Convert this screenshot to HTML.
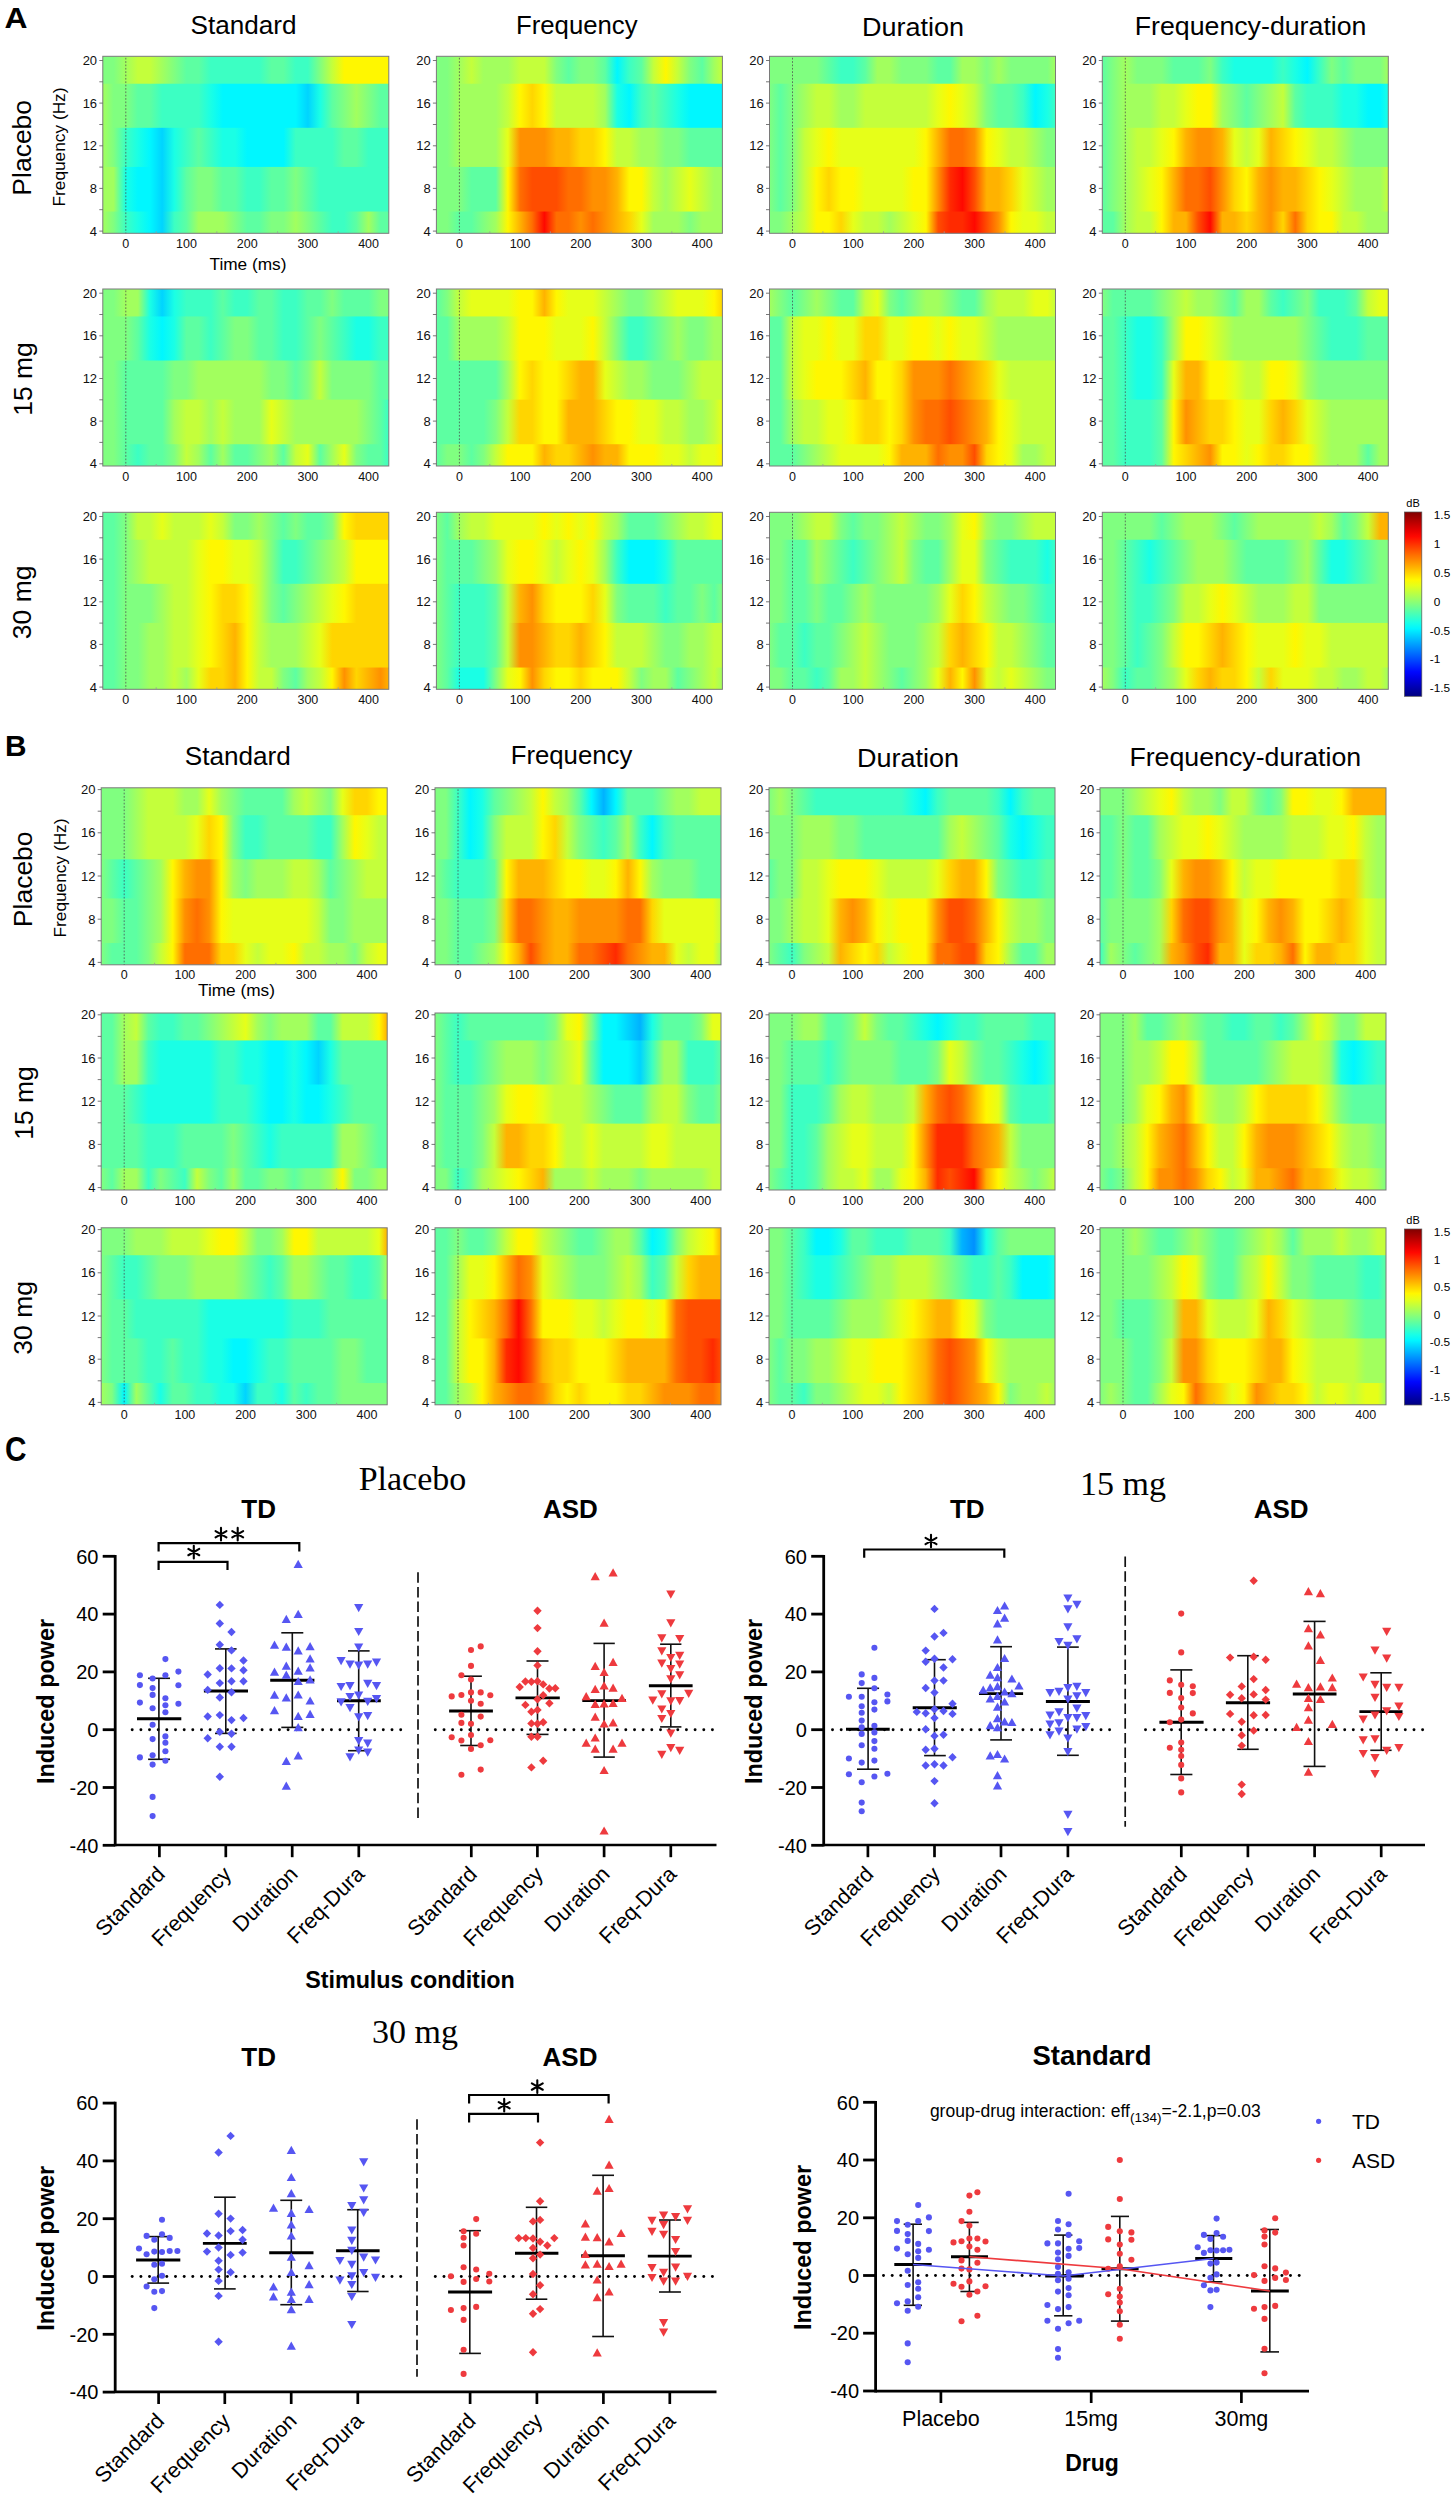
<!DOCTYPE html>
<html><head><meta charset="utf-8"><title>Figure</title>
<style>html,body{margin:0;padding:0;background:#fff;}body{width:1455px;height:2500px;overflow:hidden;}svg{display:block;font-family:"Liberation Sans",sans-serif;}</style>
</head><body>
<svg width="1455" height="2500" viewBox="0 0 1455 2500" font-family="Liberation Sans">
<rect width="1455" height="2500" fill="#fff"/>
<text x="4.5" y="27.5" font-size="30" text-anchor="start" font-weight="bold" textLength="23" lengthAdjust="spacingAndGlyphs" >A</text>
<text x="243.5" y="34.4" font-size="26.5" text-anchor="middle" textLength="106" lengthAdjust="spacingAndGlyphs" >Standard</text>
<text x="576.8" y="33.5" font-size="26.5" text-anchor="middle" textLength="121.6" lengthAdjust="spacingAndGlyphs" >Frequency</text>
<text x="913.1" y="35.7" font-size="26.5" text-anchor="middle" textLength="102" lengthAdjust="spacingAndGlyphs" >Duration</text>
<text x="1250.6" y="35.2" font-size="26.5" text-anchor="middle" textLength="231.8" lengthAdjust="spacingAndGlyphs" >Frequency-duration</text>
<g>
<linearGradient id="g1" gradientUnits="objectBoundingBox" x1="0" x2="1" y1="0" y2="0"><stop offset="-0.0045" stop-color="#80ff80"/><stop offset="0.0380" stop-color="#80ff80"/><stop offset="0.0804" stop-color="#a2ff5e"/><stop offset="0.1229" stop-color="#c4ff3b"/><stop offset="0.1653" stop-color="#c4ff3b"/><stop offset="0.2078" stop-color="#a2ff5e"/><stop offset="0.2502" stop-color="#80ff80"/><stop offset="0.2927" stop-color="#5dffa2"/><stop offset="0.3351" stop-color="#5dffa2"/><stop offset="0.3776" stop-color="#3cffc3"/><stop offset="0.4200" stop-color="#3cffc3"/><stop offset="0.4624" stop-color="#3cffc3"/><stop offset="0.5049" stop-color="#3cffc3"/><stop offset="0.5473" stop-color="#3cffc3"/><stop offset="0.5898" stop-color="#5dffa2"/><stop offset="0.6322" stop-color="#5dffa2"/><stop offset="0.6747" stop-color="#3cffc3"/><stop offset="0.7171" stop-color="#3cffc3"/><stop offset="0.7596" stop-color="#80ff80"/><stop offset="0.8020" stop-color="#c4ff3b"/><stop offset="0.8445" stop-color="#fff700"/><stop offset="0.8869" stop-color="#fff700"/><stop offset="0.9294" stop-color="#fff700"/><stop offset="0.9718" stop-color="#fff700"/><stop offset="1.0143" stop-color="#fff700"/></linearGradient>
<rect x="102.8" y="56.30" width="286.0" height="28.64" fill="url(#g1)"/>
<linearGradient id="g2" gradientUnits="objectBoundingBox" x1="0" x2="1" y1="0" y2="0"><stop offset="-0.0045" stop-color="#a2ff5e"/><stop offset="0.0380" stop-color="#80ff80"/><stop offset="0.0804" stop-color="#80ff80"/><stop offset="0.1229" stop-color="#5dffa2"/><stop offset="0.1653" stop-color="#5dffa2"/><stop offset="0.2078" stop-color="#3cffc3"/><stop offset="0.2502" stop-color="#3cffc3"/><stop offset="0.2927" stop-color="#3cffc3"/><stop offset="0.3351" stop-color="#3cffc3"/><stop offset="0.3776" stop-color="#1affe5"/><stop offset="0.4200" stop-color="#00f7ff"/><stop offset="0.4624" stop-color="#00f7ff"/><stop offset="0.5049" stop-color="#00f7ff"/><stop offset="0.5473" stop-color="#00f7ff"/><stop offset="0.5898" stop-color="#00f7ff"/><stop offset="0.6322" stop-color="#00f7ff"/><stop offset="0.6747" stop-color="#00f7ff"/><stop offset="0.7171" stop-color="#00d4ff"/><stop offset="0.7596" stop-color="#1affe5"/><stop offset="0.8020" stop-color="#5dffa2"/><stop offset="0.8445" stop-color="#80ff80"/><stop offset="0.8869" stop-color="#a2ff5e"/><stop offset="0.9294" stop-color="#80ff80"/><stop offset="0.9718" stop-color="#5dffa2"/><stop offset="1.0143" stop-color="#5dffa2"/></linearGradient>
<rect x="102.8" y="83.73" width="286.0" height="45.27" fill="url(#g2)"/>
<linearGradient id="g3" gradientUnits="objectBoundingBox" x1="0" x2="1" y1="0" y2="0"><stop offset="-0.0045" stop-color="#a2ff5e"/><stop offset="0.0380" stop-color="#80ff80"/><stop offset="0.0804" stop-color="#3cffc3"/><stop offset="0.1229" stop-color="#1affe5"/><stop offset="0.1653" stop-color="#00f7ff"/><stop offset="0.2078" stop-color="#00d4ff"/><stop offset="0.2502" stop-color="#1affe5"/><stop offset="0.2927" stop-color="#3cffc3"/><stop offset="0.3351" stop-color="#5dffa2"/><stop offset="0.3776" stop-color="#3cffc3"/><stop offset="0.4200" stop-color="#1affe5"/><stop offset="0.4624" stop-color="#1affe5"/><stop offset="0.5049" stop-color="#00f7ff"/><stop offset="0.5473" stop-color="#00f7ff"/><stop offset="0.5898" stop-color="#00f7ff"/><stop offset="0.6322" stop-color="#00f7ff"/><stop offset="0.6747" stop-color="#3cffc3"/><stop offset="0.7171" stop-color="#3cffc3"/><stop offset="0.7596" stop-color="#3cffc3"/><stop offset="0.8020" stop-color="#3cffc3"/><stop offset="0.8445" stop-color="#5dffa2"/><stop offset="0.8869" stop-color="#5dffa2"/><stop offset="0.9294" stop-color="#3cffc3"/><stop offset="0.9718" stop-color="#3cffc3"/><stop offset="1.0143" stop-color="#3cffc3"/></linearGradient>
<rect x="102.8" y="127.81" width="286.0" height="40.32" fill="url(#g3)"/>
<linearGradient id="g4" gradientUnits="objectBoundingBox" x1="0" x2="1" y1="0" y2="0"><stop offset="-0.0045" stop-color="#a2ff5e"/><stop offset="0.0380" stop-color="#a2ff5e"/><stop offset="0.0804" stop-color="#1affe5"/><stop offset="0.1229" stop-color="#00f7ff"/><stop offset="0.1653" stop-color="#00f7ff"/><stop offset="0.2078" stop-color="#00d4ff"/><stop offset="0.2502" stop-color="#1affe5"/><stop offset="0.2927" stop-color="#5dffa2"/><stop offset="0.3351" stop-color="#80ff80"/><stop offset="0.3776" stop-color="#80ff80"/><stop offset="0.4200" stop-color="#5dffa2"/><stop offset="0.4624" stop-color="#5dffa2"/><stop offset="0.5049" stop-color="#3cffc3"/><stop offset="0.5473" stop-color="#3cffc3"/><stop offset="0.5898" stop-color="#5dffa2"/><stop offset="0.6322" stop-color="#5dffa2"/><stop offset="0.6747" stop-color="#80ff80"/><stop offset="0.7171" stop-color="#5dffa2"/><stop offset="0.7596" stop-color="#3cffc3"/><stop offset="0.8020" stop-color="#3cffc3"/><stop offset="0.8445" stop-color="#3cffc3"/><stop offset="0.8869" stop-color="#3cffc3"/><stop offset="0.9294" stop-color="#3cffc3"/><stop offset="0.9718" stop-color="#3cffc3"/><stop offset="1.0143" stop-color="#3cffc3"/></linearGradient>
<rect x="102.8" y="166.93" width="286.0" height="45.80" fill="url(#g4)"/>
<linearGradient id="g5" gradientUnits="objectBoundingBox" x1="0" x2="1" y1="0" y2="0"><stop offset="-0.0045" stop-color="#a2ff5e"/><stop offset="0.0380" stop-color="#80ff80"/><stop offset="0.0804" stop-color="#3cffc3"/><stop offset="0.1229" stop-color="#1affe5"/><stop offset="0.1653" stop-color="#00f7ff"/><stop offset="0.2078" stop-color="#00d4ff"/><stop offset="0.2502" stop-color="#3cffc3"/><stop offset="0.2927" stop-color="#5dffa2"/><stop offset="0.3351" stop-color="#a2ff5e"/><stop offset="0.3776" stop-color="#a2ff5e"/><stop offset="0.4200" stop-color="#a2ff5e"/><stop offset="0.4624" stop-color="#80ff80"/><stop offset="0.5049" stop-color="#5dffa2"/><stop offset="0.5473" stop-color="#5dffa2"/><stop offset="0.5898" stop-color="#80ff80"/><stop offset="0.6322" stop-color="#80ff80"/><stop offset="0.6747" stop-color="#a2ff5e"/><stop offset="0.7171" stop-color="#80ff80"/><stop offset="0.7596" stop-color="#5dffa2"/><stop offset="0.8020" stop-color="#3cffc3"/><stop offset="0.8445" stop-color="#3cffc3"/><stop offset="0.8869" stop-color="#5dffa2"/><stop offset="0.9294" stop-color="#a2ff5e"/><stop offset="0.9718" stop-color="#5dffa2"/><stop offset="1.0143" stop-color="#5dffa2"/></linearGradient>
<rect x="102.8" y="211.53" width="286.0" height="21.77" fill="url(#g5)"/>
<rect x="102.8" y="56.3" width="286.0" height="177.0" fill="none" stroke="#7a7a7a" stroke-width="1"/>
<line x1="125.8" y1="57.8" x2="125.8" y2="233.3" stroke="#4a3f48" stroke-opacity="0.7" stroke-width="1" stroke-dasharray="1.7,1.66"/>
<line x1="99.3" y1="60.5" x2="102.8" y2="60.5" stroke="#555" stroke-width="0.8"/>
<text x="97.1" y="65.1" font-size="13" text-anchor="end" fill="#111" >20</text>
<line x1="99.3" y1="103.1" x2="102.8" y2="103.1" stroke="#555" stroke-width="0.8"/>
<text x="97.1" y="107.7" font-size="13" text-anchor="end" fill="#111" >16</text>
<line x1="99.3" y1="145.8" x2="102.8" y2="145.8" stroke="#555" stroke-width="0.8"/>
<text x="97.1" y="150.4" font-size="13" text-anchor="end" fill="#111" >12</text>
<line x1="99.3" y1="188.4" x2="102.8" y2="188.4" stroke="#555" stroke-width="0.8"/>
<text x="97.1" y="193.0" font-size="13" text-anchor="end" fill="#111" >8</text>
<line x1="99.3" y1="231.1" x2="102.8" y2="231.1" stroke="#555" stroke-width="0.8"/>
<text x="97.1" y="235.7" font-size="13" text-anchor="end" fill="#111" >4</text>
<line x1="99.3" y1="81.8" x2="102.8" y2="81.8" stroke="#555" stroke-width="0.8"/>
<line x1="99.3" y1="124.5" x2="102.8" y2="124.5" stroke="#555" stroke-width="0.8"/>
<line x1="99.3" y1="167.1" x2="102.8" y2="167.1" stroke="#555" stroke-width="0.8"/>
<line x1="99.3" y1="209.7" x2="102.8" y2="209.7" stroke="#555" stroke-width="0.8"/>
<text x="125.8" y="247.8" font-size="12.5" text-anchor="middle" fill="#111" >0</text>
<text x="186.5" y="247.8" font-size="12.5" text-anchor="middle" fill="#111" >100</text>
<text x="247.2" y="247.8" font-size="12.5" text-anchor="middle" fill="#111" >200</text>
<text x="307.9" y="247.8" font-size="12.5" text-anchor="middle" fill="#111" >300</text>
<text x="368.6" y="247.8" font-size="12.5" text-anchor="middle" fill="#111" >400</text>
<line x1="156.2" y1="233.3" x2="156.2" y2="231.3" stroke="#999" stroke-width="0.8"/>
<line x1="216.8" y1="233.3" x2="216.8" y2="231.3" stroke="#999" stroke-width="0.8"/>
<line x1="277.6" y1="233.3" x2="277.6" y2="231.3" stroke="#999" stroke-width="0.8"/>
<line x1="338.2" y1="233.3" x2="338.2" y2="231.3" stroke="#999" stroke-width="0.8"/>
</g>
<g>
<linearGradient id="g6" gradientUnits="objectBoundingBox" x1="0" x2="1" y1="0" y2="0"><stop offset="-0.0045" stop-color="#80ff80"/><stop offset="0.0380" stop-color="#80ff80"/><stop offset="0.0804" stop-color="#a2ff5e"/><stop offset="0.1229" stop-color="#c4ff3b"/><stop offset="0.1653" stop-color="#a2ff5e"/><stop offset="0.2078" stop-color="#a2ff5e"/><stop offset="0.2502" stop-color="#a2ff5e"/><stop offset="0.2927" stop-color="#c4ff3b"/><stop offset="0.3351" stop-color="#c4ff3b"/><stop offset="0.3776" stop-color="#c4ff3b"/><stop offset="0.4200" stop-color="#80ff80"/><stop offset="0.4624" stop-color="#5dffa2"/><stop offset="0.5049" stop-color="#80ff80"/><stop offset="0.5473" stop-color="#80ff80"/><stop offset="0.5898" stop-color="#5dffa2"/><stop offset="0.6322" stop-color="#00f7ff"/><stop offset="0.6747" stop-color="#3cffc3"/><stop offset="0.7171" stop-color="#5dffa2"/><stop offset="0.7596" stop-color="#c4ff3b"/><stop offset="0.8020" stop-color="#fff700"/><stop offset="0.8445" stop-color="#c4ff3b"/><stop offset="0.8869" stop-color="#80ff80"/><stop offset="0.9294" stop-color="#5dffa2"/><stop offset="0.9718" stop-color="#a2ff5e"/><stop offset="1.0143" stop-color="#c4ff3b"/></linearGradient>
<rect x="436.4" y="56.30" width="286.0" height="28.64" fill="url(#g6)"/>
<linearGradient id="g7" gradientUnits="objectBoundingBox" x1="0" x2="1" y1="0" y2="0"><stop offset="-0.0045" stop-color="#80ff80"/><stop offset="0.0380" stop-color="#80ff80"/><stop offset="0.0804" stop-color="#a2ff5e"/><stop offset="0.1229" stop-color="#a2ff5e"/><stop offset="0.1653" stop-color="#a2ff5e"/><stop offset="0.2078" stop-color="#a2ff5e"/><stop offset="0.2502" stop-color="#c4ff3b"/><stop offset="0.2927" stop-color="#fff700"/><stop offset="0.3351" stop-color="#ffd500"/><stop offset="0.3776" stop-color="#fff700"/><stop offset="0.4200" stop-color="#c4ff3b"/><stop offset="0.4624" stop-color="#c4ff3b"/><stop offset="0.5049" stop-color="#c4ff3b"/><stop offset="0.5473" stop-color="#c4ff3b"/><stop offset="0.5898" stop-color="#a2ff5e"/><stop offset="0.6322" stop-color="#1affe5"/><stop offset="0.6747" stop-color="#00f7ff"/><stop offset="0.7171" stop-color="#3cffc3"/><stop offset="0.7596" stop-color="#5dffa2"/><stop offset="0.8020" stop-color="#3cffc3"/><stop offset="0.8445" stop-color="#1affe5"/><stop offset="0.8869" stop-color="#00f7ff"/><stop offset="0.9294" stop-color="#00f7ff"/><stop offset="0.9718" stop-color="#00f7ff"/><stop offset="1.0143" stop-color="#00f7ff"/></linearGradient>
<rect x="436.4" y="83.73" width="286.0" height="45.27" fill="url(#g7)"/>
<linearGradient id="g8" gradientUnits="objectBoundingBox" x1="0" x2="1" y1="0" y2="0"><stop offset="-0.0045" stop-color="#80ff80"/><stop offset="0.0380" stop-color="#80ff80"/><stop offset="0.0804" stop-color="#a2ff5e"/><stop offset="0.1229" stop-color="#a2ff5e"/><stop offset="0.1653" stop-color="#a2ff5e"/><stop offset="0.2078" stop-color="#a2ff5e"/><stop offset="0.2502" stop-color="#e6ff19"/><stop offset="0.2927" stop-color="#ff9000"/><stop offset="0.3351" stop-color="#ff9000"/><stop offset="0.3776" stop-color="#ff9000"/><stop offset="0.4200" stop-color="#ffb200"/><stop offset="0.4624" stop-color="#ffb200"/><stop offset="0.5049" stop-color="#ffd500"/><stop offset="0.5473" stop-color="#ffd500"/><stop offset="0.5898" stop-color="#fff700"/><stop offset="0.6322" stop-color="#c4ff3b"/><stop offset="0.6747" stop-color="#c4ff3b"/><stop offset="0.7171" stop-color="#a2ff5e"/><stop offset="0.7596" stop-color="#a2ff5e"/><stop offset="0.8020" stop-color="#80ff80"/><stop offset="0.8445" stop-color="#80ff80"/><stop offset="0.8869" stop-color="#5dffa2"/><stop offset="0.9294" stop-color="#5dffa2"/><stop offset="0.9718" stop-color="#5dffa2"/><stop offset="1.0143" stop-color="#5dffa2"/></linearGradient>
<rect x="436.4" y="127.81" width="286.0" height="40.32" fill="url(#g8)"/>
<linearGradient id="g9" gradientUnits="objectBoundingBox" x1="0" x2="1" y1="0" y2="0"><stop offset="-0.0045" stop-color="#80ff80"/><stop offset="0.0380" stop-color="#80ff80"/><stop offset="0.0804" stop-color="#80ff80"/><stop offset="0.1229" stop-color="#5dffa2"/><stop offset="0.1653" stop-color="#5dffa2"/><stop offset="0.2078" stop-color="#5dffa2"/><stop offset="0.2502" stop-color="#fff700"/><stop offset="0.2927" stop-color="#ff6e00"/><stop offset="0.3351" stop-color="#ff4d00"/><stop offset="0.3776" stop-color="#ff4d00"/><stop offset="0.4200" stop-color="#ff4d00"/><stop offset="0.4624" stop-color="#ff6e00"/><stop offset="0.5049" stop-color="#ff6e00"/><stop offset="0.5473" stop-color="#ff9000"/><stop offset="0.5898" stop-color="#ff9000"/><stop offset="0.6322" stop-color="#ffb200"/><stop offset="0.6747" stop-color="#fff700"/><stop offset="0.7171" stop-color="#fff700"/><stop offset="0.7596" stop-color="#c4ff3b"/><stop offset="0.8020" stop-color="#a2ff5e"/><stop offset="0.8445" stop-color="#c4ff3b"/><stop offset="0.8869" stop-color="#e6ff19"/><stop offset="0.9294" stop-color="#c4ff3b"/><stop offset="0.9718" stop-color="#a2ff5e"/><stop offset="1.0143" stop-color="#a2ff5e"/></linearGradient>
<rect x="436.4" y="166.93" width="286.0" height="45.80" fill="url(#g9)"/>
<linearGradient id="g10" gradientUnits="objectBoundingBox" x1="0" x2="1" y1="0" y2="0"><stop offset="-0.0045" stop-color="#80ff80"/><stop offset="0.0380" stop-color="#80ff80"/><stop offset="0.0804" stop-color="#5dffa2"/><stop offset="0.1229" stop-color="#5dffa2"/><stop offset="0.1653" stop-color="#80ff80"/><stop offset="0.2078" stop-color="#a2ff5e"/><stop offset="0.2502" stop-color="#fff700"/><stop offset="0.2927" stop-color="#ffb200"/><stop offset="0.3351" stop-color="#ff6e00"/><stop offset="0.3776" stop-color="#ff0800"/><stop offset="0.4200" stop-color="#ff6e00"/><stop offset="0.4624" stop-color="#ff6e00"/><stop offset="0.5049" stop-color="#ff9000"/><stop offset="0.5473" stop-color="#ff6e00"/><stop offset="0.5898" stop-color="#ff9000"/><stop offset="0.6322" stop-color="#ffb200"/><stop offset="0.6747" stop-color="#ffd500"/><stop offset="0.7171" stop-color="#e6ff19"/><stop offset="0.7596" stop-color="#a2ff5e"/><stop offset="0.8020" stop-color="#a2ff5e"/><stop offset="0.8445" stop-color="#a2ff5e"/><stop offset="0.8869" stop-color="#80ff80"/><stop offset="0.9294" stop-color="#a2ff5e"/><stop offset="0.9718" stop-color="#a2ff5e"/><stop offset="1.0143" stop-color="#a2ff5e"/></linearGradient>
<rect x="436.4" y="211.53" width="286.0" height="21.77" fill="url(#g10)"/>
<rect x="436.4" y="56.3" width="286.0" height="177.0" fill="none" stroke="#7a7a7a" stroke-width="1"/>
<line x1="459.4" y1="57.8" x2="459.4" y2="233.3" stroke="#4a3f48" stroke-opacity="0.7" stroke-width="1" stroke-dasharray="1.7,1.66"/>
<line x1="432.9" y1="60.5" x2="436.4" y2="60.5" stroke="#555" stroke-width="0.8"/>
<text x="430.7" y="65.1" font-size="13" text-anchor="end" fill="#111" >20</text>
<line x1="432.9" y1="103.1" x2="436.4" y2="103.1" stroke="#555" stroke-width="0.8"/>
<text x="430.7" y="107.7" font-size="13" text-anchor="end" fill="#111" >16</text>
<line x1="432.9" y1="145.8" x2="436.4" y2="145.8" stroke="#555" stroke-width="0.8"/>
<text x="430.7" y="150.4" font-size="13" text-anchor="end" fill="#111" >12</text>
<line x1="432.9" y1="188.4" x2="436.4" y2="188.4" stroke="#555" stroke-width="0.8"/>
<text x="430.7" y="193.0" font-size="13" text-anchor="end" fill="#111" >8</text>
<line x1="432.9" y1="231.1" x2="436.4" y2="231.1" stroke="#555" stroke-width="0.8"/>
<text x="430.7" y="235.7" font-size="13" text-anchor="end" fill="#111" >4</text>
<line x1="432.9" y1="81.8" x2="436.4" y2="81.8" stroke="#555" stroke-width="0.8"/>
<line x1="432.9" y1="124.5" x2="436.4" y2="124.5" stroke="#555" stroke-width="0.8"/>
<line x1="432.9" y1="167.1" x2="436.4" y2="167.1" stroke="#555" stroke-width="0.8"/>
<line x1="432.9" y1="209.7" x2="436.4" y2="209.7" stroke="#555" stroke-width="0.8"/>
<text x="459.4" y="247.8" font-size="12.5" text-anchor="middle" fill="#111" >0</text>
<text x="520.1" y="247.8" font-size="12.5" text-anchor="middle" fill="#111" >100</text>
<text x="580.8" y="247.8" font-size="12.5" text-anchor="middle" fill="#111" >200</text>
<text x="641.5" y="247.8" font-size="12.5" text-anchor="middle" fill="#111" >300</text>
<text x="702.2" y="247.8" font-size="12.5" text-anchor="middle" fill="#111" >400</text>
<line x1="489.8" y1="233.3" x2="489.8" y2="231.3" stroke="#999" stroke-width="0.8"/>
<line x1="550.4" y1="233.3" x2="550.4" y2="231.3" stroke="#999" stroke-width="0.8"/>
<line x1="611.1" y1="233.3" x2="611.1" y2="231.3" stroke="#999" stroke-width="0.8"/>
<line x1="671.8" y1="233.3" x2="671.8" y2="231.3" stroke="#999" stroke-width="0.8"/>
</g>
<g>
<linearGradient id="g11" gradientUnits="objectBoundingBox" x1="0" x2="1" y1="0" y2="0"><stop offset="-0.0045" stop-color="#80ff80"/><stop offset="0.0380" stop-color="#80ff80"/><stop offset="0.0804" stop-color="#80ff80"/><stop offset="0.1229" stop-color="#80ff80"/><stop offset="0.1653" stop-color="#80ff80"/><stop offset="0.2078" stop-color="#5dffa2"/><stop offset="0.2502" stop-color="#3cffc3"/><stop offset="0.2927" stop-color="#3cffc3"/><stop offset="0.3351" stop-color="#5dffa2"/><stop offset="0.3776" stop-color="#a2ff5e"/><stop offset="0.4200" stop-color="#a2ff5e"/><stop offset="0.4624" stop-color="#80ff80"/><stop offset="0.5049" stop-color="#80ff80"/><stop offset="0.5473" stop-color="#80ff80"/><stop offset="0.5898" stop-color="#5dffa2"/><stop offset="0.6322" stop-color="#5dffa2"/><stop offset="0.6747" stop-color="#a2ff5e"/><stop offset="0.7171" stop-color="#a2ff5e"/><stop offset="0.7596" stop-color="#80ff80"/><stop offset="0.8020" stop-color="#a2ff5e"/><stop offset="0.8445" stop-color="#80ff80"/><stop offset="0.8869" stop-color="#80ff80"/><stop offset="0.9294" stop-color="#80ff80"/><stop offset="0.9718" stop-color="#80ff80"/><stop offset="1.0143" stop-color="#a2ff5e"/></linearGradient>
<rect x="769.5" y="56.30" width="286.0" height="28.64" fill="url(#g11)"/>
<linearGradient id="g12" gradientUnits="objectBoundingBox" x1="0" x2="1" y1="0" y2="0"><stop offset="-0.0045" stop-color="#80ff80"/><stop offset="0.0380" stop-color="#5dffa2"/><stop offset="0.0804" stop-color="#80ff80"/><stop offset="0.1229" stop-color="#a2ff5e"/><stop offset="0.1653" stop-color="#c4ff3b"/><stop offset="0.2078" stop-color="#c4ff3b"/><stop offset="0.2502" stop-color="#a2ff5e"/><stop offset="0.2927" stop-color="#a2ff5e"/><stop offset="0.3351" stop-color="#c4ff3b"/><stop offset="0.3776" stop-color="#c4ff3b"/><stop offset="0.4200" stop-color="#c4ff3b"/><stop offset="0.4624" stop-color="#c4ff3b"/><stop offset="0.5049" stop-color="#c4ff3b"/><stop offset="0.5473" stop-color="#c4ff3b"/><stop offset="0.5898" stop-color="#e6ff19"/><stop offset="0.6322" stop-color="#fff700"/><stop offset="0.6747" stop-color="#e6ff19"/><stop offset="0.7171" stop-color="#c4ff3b"/><stop offset="0.7596" stop-color="#80ff80"/><stop offset="0.8020" stop-color="#5dffa2"/><stop offset="0.8445" stop-color="#5dffa2"/><stop offset="0.8869" stop-color="#3cffc3"/><stop offset="0.9294" stop-color="#00f7ff"/><stop offset="0.9718" stop-color="#1affe5"/><stop offset="1.0143" stop-color="#3cffc3"/></linearGradient>
<rect x="769.5" y="83.73" width="286.0" height="45.27" fill="url(#g12)"/>
<linearGradient id="g13" gradientUnits="objectBoundingBox" x1="0" x2="1" y1="0" y2="0"><stop offset="-0.0045" stop-color="#80ff80"/><stop offset="0.0380" stop-color="#5dffa2"/><stop offset="0.0804" stop-color="#80ff80"/><stop offset="0.1229" stop-color="#c4ff3b"/><stop offset="0.1653" stop-color="#e6ff19"/><stop offset="0.2078" stop-color="#fff700"/><stop offset="0.2502" stop-color="#e6ff19"/><stop offset="0.2927" stop-color="#e6ff19"/><stop offset="0.3351" stop-color="#e6ff19"/><stop offset="0.3776" stop-color="#e6ff19"/><stop offset="0.4200" stop-color="#e6ff19"/><stop offset="0.4624" stop-color="#e6ff19"/><stop offset="0.5049" stop-color="#e6ff19"/><stop offset="0.5473" stop-color="#fff700"/><stop offset="0.5898" stop-color="#ffb200"/><stop offset="0.6322" stop-color="#ff6e00"/><stop offset="0.6747" stop-color="#ff6e00"/><stop offset="0.7171" stop-color="#ff9000"/><stop offset="0.7596" stop-color="#fff700"/><stop offset="0.8020" stop-color="#e6ff19"/><stop offset="0.8445" stop-color="#c4ff3b"/><stop offset="0.8869" stop-color="#c4ff3b"/><stop offset="0.9294" stop-color="#a2ff5e"/><stop offset="0.9718" stop-color="#80ff80"/><stop offset="1.0143" stop-color="#80ff80"/></linearGradient>
<rect x="769.5" y="127.81" width="286.0" height="40.32" fill="url(#g13)"/>
<linearGradient id="g14" gradientUnits="objectBoundingBox" x1="0" x2="1" y1="0" y2="0"><stop offset="-0.0045" stop-color="#80ff80"/><stop offset="0.0380" stop-color="#5dffa2"/><stop offset="0.0804" stop-color="#80ff80"/><stop offset="0.1229" stop-color="#c4ff3b"/><stop offset="0.1653" stop-color="#fff700"/><stop offset="0.2078" stop-color="#ffd500"/><stop offset="0.2502" stop-color="#fff700"/><stop offset="0.2927" stop-color="#fff700"/><stop offset="0.3351" stop-color="#e6ff19"/><stop offset="0.3776" stop-color="#e6ff19"/><stop offset="0.4200" stop-color="#e6ff19"/><stop offset="0.4624" stop-color="#e6ff19"/><stop offset="0.5049" stop-color="#fff700"/><stop offset="0.5473" stop-color="#fff700"/><stop offset="0.5898" stop-color="#ff9000"/><stop offset="0.6322" stop-color="#ff2a00"/><stop offset="0.6747" stop-color="#ff0800"/><stop offset="0.7171" stop-color="#ff4d00"/><stop offset="0.7596" stop-color="#ffb200"/><stop offset="0.8020" stop-color="#ffb200"/><stop offset="0.8445" stop-color="#ffd500"/><stop offset="0.8869" stop-color="#e6ff19"/><stop offset="0.9294" stop-color="#c4ff3b"/><stop offset="0.9718" stop-color="#a2ff5e"/><stop offset="1.0143" stop-color="#a2ff5e"/></linearGradient>
<rect x="769.5" y="166.93" width="286.0" height="45.80" fill="url(#g14)"/>
<linearGradient id="g15" gradientUnits="objectBoundingBox" x1="0" x2="1" y1="0" y2="0"><stop offset="-0.0045" stop-color="#80ff80"/><stop offset="0.0380" stop-color="#80ff80"/><stop offset="0.0804" stop-color="#a2ff5e"/><stop offset="0.1229" stop-color="#c4ff3b"/><stop offset="0.1653" stop-color="#fff700"/><stop offset="0.2078" stop-color="#fff700"/><stop offset="0.2502" stop-color="#ffd500"/><stop offset="0.2927" stop-color="#e6ff19"/><stop offset="0.3351" stop-color="#c4ff3b"/><stop offset="0.3776" stop-color="#c4ff3b"/><stop offset="0.4200" stop-color="#a2ff5e"/><stop offset="0.4624" stop-color="#c4ff3b"/><stop offset="0.5049" stop-color="#e6ff19"/><stop offset="0.5473" stop-color="#fff700"/><stop offset="0.5898" stop-color="#ff4d00"/><stop offset="0.6322" stop-color="#ff2a00"/><stop offset="0.6747" stop-color="#ff2a00"/><stop offset="0.7171" stop-color="#ff0800"/><stop offset="0.7596" stop-color="#ff4d00"/><stop offset="0.8020" stop-color="#ff9000"/><stop offset="0.8445" stop-color="#fff700"/><stop offset="0.8869" stop-color="#e6ff19"/><stop offset="0.9294" stop-color="#e6ff19"/><stop offset="0.9718" stop-color="#c4ff3b"/><stop offset="1.0143" stop-color="#c4ff3b"/></linearGradient>
<rect x="769.5" y="211.53" width="286.0" height="21.77" fill="url(#g15)"/>
<rect x="769.5" y="56.3" width="286.0" height="177.0" fill="none" stroke="#7a7a7a" stroke-width="1"/>
<line x1="792.5" y1="57.8" x2="792.5" y2="233.3" stroke="#4a3f48" stroke-opacity="0.7" stroke-width="1" stroke-dasharray="1.7,1.66"/>
<line x1="766.0" y1="60.5" x2="769.5" y2="60.5" stroke="#555" stroke-width="0.8"/>
<text x="763.8" y="65.1" font-size="13" text-anchor="end" fill="#111" >20</text>
<line x1="766.0" y1="103.1" x2="769.5" y2="103.1" stroke="#555" stroke-width="0.8"/>
<text x="763.8" y="107.7" font-size="13" text-anchor="end" fill="#111" >16</text>
<line x1="766.0" y1="145.8" x2="769.5" y2="145.8" stroke="#555" stroke-width="0.8"/>
<text x="763.8" y="150.4" font-size="13" text-anchor="end" fill="#111" >12</text>
<line x1="766.0" y1="188.4" x2="769.5" y2="188.4" stroke="#555" stroke-width="0.8"/>
<text x="763.8" y="193.0" font-size="13" text-anchor="end" fill="#111" >8</text>
<line x1="766.0" y1="231.1" x2="769.5" y2="231.1" stroke="#555" stroke-width="0.8"/>
<text x="763.8" y="235.7" font-size="13" text-anchor="end" fill="#111" >4</text>
<line x1="766.0" y1="81.8" x2="769.5" y2="81.8" stroke="#555" stroke-width="0.8"/>
<line x1="766.0" y1="124.5" x2="769.5" y2="124.5" stroke="#555" stroke-width="0.8"/>
<line x1="766.0" y1="167.1" x2="769.5" y2="167.1" stroke="#555" stroke-width="0.8"/>
<line x1="766.0" y1="209.7" x2="769.5" y2="209.7" stroke="#555" stroke-width="0.8"/>
<text x="792.5" y="247.8" font-size="12.5" text-anchor="middle" fill="#111" >0</text>
<text x="853.2" y="247.8" font-size="12.5" text-anchor="middle" fill="#111" >100</text>
<text x="913.9" y="247.8" font-size="12.5" text-anchor="middle" fill="#111" >200</text>
<text x="974.6" y="247.8" font-size="12.5" text-anchor="middle" fill="#111" >300</text>
<text x="1035.3" y="247.8" font-size="12.5" text-anchor="middle" fill="#111" >400</text>
<line x1="822.9" y1="233.3" x2="822.9" y2="231.3" stroke="#999" stroke-width="0.8"/>
<line x1="883.5" y1="233.3" x2="883.5" y2="231.3" stroke="#999" stroke-width="0.8"/>
<line x1="944.2" y1="233.3" x2="944.2" y2="231.3" stroke="#999" stroke-width="0.8"/>
<line x1="1005.0" y1="233.3" x2="1005.0" y2="231.3" stroke="#999" stroke-width="0.8"/>
</g>
<g>
<linearGradient id="g16" gradientUnits="objectBoundingBox" x1="0" x2="1" y1="0" y2="0"><stop offset="-0.0045" stop-color="#5dffa2"/><stop offset="0.0380" stop-color="#80ff80"/><stop offset="0.0804" stop-color="#a2ff5e"/><stop offset="0.1229" stop-color="#80ff80"/><stop offset="0.1653" stop-color="#80ff80"/><stop offset="0.2078" stop-color="#80ff80"/><stop offset="0.2502" stop-color="#5dffa2"/><stop offset="0.2927" stop-color="#5dffa2"/><stop offset="0.3351" stop-color="#5dffa2"/><stop offset="0.3776" stop-color="#80ff80"/><stop offset="0.4200" stop-color="#3cffc3"/><stop offset="0.4624" stop-color="#1affe5"/><stop offset="0.5049" stop-color="#1affe5"/><stop offset="0.5473" stop-color="#1affe5"/><stop offset="0.5898" stop-color="#1affe5"/><stop offset="0.6322" stop-color="#3cffc3"/><stop offset="0.6747" stop-color="#1affe5"/><stop offset="0.7171" stop-color="#00f7ff"/><stop offset="0.7596" stop-color="#3cffc3"/><stop offset="0.8020" stop-color="#80ff80"/><stop offset="0.8445" stop-color="#5dffa2"/><stop offset="0.8869" stop-color="#80ff80"/><stop offset="0.9294" stop-color="#80ff80"/><stop offset="0.9718" stop-color="#80ff80"/><stop offset="1.0143" stop-color="#a2ff5e"/></linearGradient>
<rect x="1102.3" y="56.30" width="286.0" height="28.64" fill="url(#g16)"/>
<linearGradient id="g17" gradientUnits="objectBoundingBox" x1="0" x2="1" y1="0" y2="0"><stop offset="-0.0045" stop-color="#5dffa2"/><stop offset="0.0380" stop-color="#80ff80"/><stop offset="0.0804" stop-color="#a2ff5e"/><stop offset="0.1229" stop-color="#a2ff5e"/><stop offset="0.1653" stop-color="#a2ff5e"/><stop offset="0.2078" stop-color="#c4ff3b"/><stop offset="0.2502" stop-color="#c4ff3b"/><stop offset="0.2927" stop-color="#e6ff19"/><stop offset="0.3351" stop-color="#fff700"/><stop offset="0.3776" stop-color="#fff700"/><stop offset="0.4200" stop-color="#a2ff5e"/><stop offset="0.4624" stop-color="#80ff80"/><stop offset="0.5049" stop-color="#5dffa2"/><stop offset="0.5473" stop-color="#80ff80"/><stop offset="0.5898" stop-color="#a2ff5e"/><stop offset="0.6322" stop-color="#c4ff3b"/><stop offset="0.6747" stop-color="#5dffa2"/><stop offset="0.7171" stop-color="#3cffc3"/><stop offset="0.7596" stop-color="#3cffc3"/><stop offset="0.8020" stop-color="#3cffc3"/><stop offset="0.8445" stop-color="#1affe5"/><stop offset="0.8869" stop-color="#1affe5"/><stop offset="0.9294" stop-color="#00f7ff"/><stop offset="0.9718" stop-color="#00f7ff"/><stop offset="1.0143" stop-color="#1affe5"/></linearGradient>
<rect x="1102.3" y="83.73" width="286.0" height="45.27" fill="url(#g17)"/>
<linearGradient id="g18" gradientUnits="objectBoundingBox" x1="0" x2="1" y1="0" y2="0"><stop offset="-0.0045" stop-color="#5dffa2"/><stop offset="0.0380" stop-color="#80ff80"/><stop offset="0.0804" stop-color="#a2ff5e"/><stop offset="0.1229" stop-color="#c4ff3b"/><stop offset="0.1653" stop-color="#c4ff3b"/><stop offset="0.2078" stop-color="#e6ff19"/><stop offset="0.2502" stop-color="#fff700"/><stop offset="0.2927" stop-color="#ffb200"/><stop offset="0.3351" stop-color="#ff9000"/><stop offset="0.3776" stop-color="#ff9000"/><stop offset="0.4200" stop-color="#ffb200"/><stop offset="0.4624" stop-color="#e6ff19"/><stop offset="0.5049" stop-color="#c4ff3b"/><stop offset="0.5473" stop-color="#e6ff19"/><stop offset="0.5898" stop-color="#ffb200"/><stop offset="0.6322" stop-color="#ffd500"/><stop offset="0.6747" stop-color="#fff700"/><stop offset="0.7171" stop-color="#e6ff19"/><stop offset="0.7596" stop-color="#c4ff3b"/><stop offset="0.8020" stop-color="#c4ff3b"/><stop offset="0.8445" stop-color="#a2ff5e"/><stop offset="0.8869" stop-color="#80ff80"/><stop offset="0.9294" stop-color="#80ff80"/><stop offset="0.9718" stop-color="#80ff80"/><stop offset="1.0143" stop-color="#80ff80"/></linearGradient>
<rect x="1102.3" y="127.81" width="286.0" height="40.32" fill="url(#g18)"/>
<linearGradient id="g19" gradientUnits="objectBoundingBox" x1="0" x2="1" y1="0" y2="0"><stop offset="-0.0045" stop-color="#5dffa2"/><stop offset="0.0380" stop-color="#80ff80"/><stop offset="0.0804" stop-color="#a2ff5e"/><stop offset="0.1229" stop-color="#c4ff3b"/><stop offset="0.1653" stop-color="#e6ff19"/><stop offset="0.2078" stop-color="#fff700"/><stop offset="0.2502" stop-color="#ffb200"/><stop offset="0.2927" stop-color="#ff6e00"/><stop offset="0.3351" stop-color="#ff6e00"/><stop offset="0.3776" stop-color="#ff4d00"/><stop offset="0.4200" stop-color="#ff9000"/><stop offset="0.4624" stop-color="#ffd500"/><stop offset="0.5049" stop-color="#fff700"/><stop offset="0.5473" stop-color="#ffb200"/><stop offset="0.5898" stop-color="#ff9000"/><stop offset="0.6322" stop-color="#ffb200"/><stop offset="0.6747" stop-color="#ffb200"/><stop offset="0.7171" stop-color="#ffd500"/><stop offset="0.7596" stop-color="#fff700"/><stop offset="0.8020" stop-color="#e6ff19"/><stop offset="0.8445" stop-color="#c4ff3b"/><stop offset="0.8869" stop-color="#a2ff5e"/><stop offset="0.9294" stop-color="#a2ff5e"/><stop offset="0.9718" stop-color="#a2ff5e"/><stop offset="1.0143" stop-color="#c4ff3b"/></linearGradient>
<rect x="1102.3" y="166.93" width="286.0" height="45.80" fill="url(#g19)"/>
<linearGradient id="g20" gradientUnits="objectBoundingBox" x1="0" x2="1" y1="0" y2="0"><stop offset="-0.0045" stop-color="#5dffa2"/><stop offset="0.0380" stop-color="#5dffa2"/><stop offset="0.0804" stop-color="#a2ff5e"/><stop offset="0.1229" stop-color="#c4ff3b"/><stop offset="0.1653" stop-color="#c4ff3b"/><stop offset="0.2078" stop-color="#fff700"/><stop offset="0.2502" stop-color="#ffb200"/><stop offset="0.2927" stop-color="#ffb200"/><stop offset="0.3351" stop-color="#ff4d00"/><stop offset="0.3776" stop-color="#ff0800"/><stop offset="0.4200" stop-color="#ffb200"/><stop offset="0.4624" stop-color="#ffb200"/><stop offset="0.5049" stop-color="#ffd500"/><stop offset="0.5473" stop-color="#ffb200"/><stop offset="0.5898" stop-color="#ff9000"/><stop offset="0.6322" stop-color="#ffd500"/><stop offset="0.6747" stop-color="#ff6e00"/><stop offset="0.7171" stop-color="#ffd500"/><stop offset="0.7596" stop-color="#fff700"/><stop offset="0.8020" stop-color="#fff700"/><stop offset="0.8445" stop-color="#c4ff3b"/><stop offset="0.8869" stop-color="#c4ff3b"/><stop offset="0.9294" stop-color="#a2ff5e"/><stop offset="0.9718" stop-color="#a2ff5e"/><stop offset="1.0143" stop-color="#a2ff5e"/></linearGradient>
<rect x="1102.3" y="211.53" width="286.0" height="21.77" fill="url(#g20)"/>
<rect x="1102.3" y="56.3" width="286.0" height="177.0" fill="none" stroke="#7a7a7a" stroke-width="1"/>
<line x1="1125.3" y1="57.8" x2="1125.3" y2="233.3" stroke="#4a3f48" stroke-opacity="0.7" stroke-width="1" stroke-dasharray="1.7,1.66"/>
<line x1="1098.8" y1="60.5" x2="1102.3" y2="60.5" stroke="#555" stroke-width="0.8"/>
<text x="1096.6" y="65.1" font-size="13" text-anchor="end" fill="#111" >20</text>
<line x1="1098.8" y1="103.1" x2="1102.3" y2="103.1" stroke="#555" stroke-width="0.8"/>
<text x="1096.6" y="107.7" font-size="13" text-anchor="end" fill="#111" >16</text>
<line x1="1098.8" y1="145.8" x2="1102.3" y2="145.8" stroke="#555" stroke-width="0.8"/>
<text x="1096.6" y="150.4" font-size="13" text-anchor="end" fill="#111" >12</text>
<line x1="1098.8" y1="188.4" x2="1102.3" y2="188.4" stroke="#555" stroke-width="0.8"/>
<text x="1096.6" y="193.0" font-size="13" text-anchor="end" fill="#111" >8</text>
<line x1="1098.8" y1="231.1" x2="1102.3" y2="231.1" stroke="#555" stroke-width="0.8"/>
<text x="1096.6" y="235.7" font-size="13" text-anchor="end" fill="#111" >4</text>
<line x1="1098.8" y1="81.8" x2="1102.3" y2="81.8" stroke="#555" stroke-width="0.8"/>
<line x1="1098.8" y1="124.5" x2="1102.3" y2="124.5" stroke="#555" stroke-width="0.8"/>
<line x1="1098.8" y1="167.1" x2="1102.3" y2="167.1" stroke="#555" stroke-width="0.8"/>
<line x1="1098.8" y1="209.7" x2="1102.3" y2="209.7" stroke="#555" stroke-width="0.8"/>
<text x="1125.3" y="247.8" font-size="12.5" text-anchor="middle" fill="#111" >0</text>
<text x="1186.0" y="247.8" font-size="12.5" text-anchor="middle" fill="#111" >100</text>
<text x="1246.7" y="247.8" font-size="12.5" text-anchor="middle" fill="#111" >200</text>
<text x="1307.4" y="247.8" font-size="12.5" text-anchor="middle" fill="#111" >300</text>
<text x="1368.1" y="247.8" font-size="12.5" text-anchor="middle" fill="#111" >400</text>
<line x1="1155.6" y1="233.3" x2="1155.6" y2="231.3" stroke="#999" stroke-width="0.8"/>
<line x1="1216.3" y1="233.3" x2="1216.3" y2="231.3" stroke="#999" stroke-width="0.8"/>
<line x1="1277.0" y1="233.3" x2="1277.0" y2="231.3" stroke="#999" stroke-width="0.8"/>
<line x1="1337.8" y1="233.3" x2="1337.8" y2="231.3" stroke="#999" stroke-width="0.8"/>
</g>
<text x="31.5" y="147.8" font-size="26.5" text-anchor="middle" transform="rotate(-90 31.5 147.8)" >Placebo</text>
<g>
<linearGradient id="g21" gradientUnits="objectBoundingBox" x1="0" x2="1" y1="0" y2="0"><stop offset="-0.0045" stop-color="#80ff80"/><stop offset="0.0380" stop-color="#80ff80"/><stop offset="0.0804" stop-color="#a2ff5e"/><stop offset="0.1229" stop-color="#a2ff5e"/><stop offset="0.1653" stop-color="#1affe5"/><stop offset="0.2078" stop-color="#00d4ff"/><stop offset="0.2502" stop-color="#1affe5"/><stop offset="0.2927" stop-color="#3cffc3"/><stop offset="0.3351" stop-color="#3cffc3"/><stop offset="0.3776" stop-color="#3cffc3"/><stop offset="0.4200" stop-color="#5dffa2"/><stop offset="0.4624" stop-color="#3cffc3"/><stop offset="0.5049" stop-color="#3cffc3"/><stop offset="0.5473" stop-color="#5dffa2"/><stop offset="0.5898" stop-color="#5dffa2"/><stop offset="0.6322" stop-color="#3cffc3"/><stop offset="0.6747" stop-color="#3cffc3"/><stop offset="0.7171" stop-color="#5dffa2"/><stop offset="0.7596" stop-color="#5dffa2"/><stop offset="0.8020" stop-color="#80ff80"/><stop offset="0.8445" stop-color="#5dffa2"/><stop offset="0.8869" stop-color="#5dffa2"/><stop offset="0.9294" stop-color="#5dffa2"/><stop offset="0.9718" stop-color="#80ff80"/><stop offset="1.0143" stop-color="#80ff80"/></linearGradient>
<rect x="102.8" y="289.00" width="286.0" height="28.64" fill="url(#g21)"/>
<linearGradient id="g22" gradientUnits="objectBoundingBox" x1="0" x2="1" y1="0" y2="0"><stop offset="-0.0045" stop-color="#80ff80"/><stop offset="0.0380" stop-color="#80ff80"/><stop offset="0.0804" stop-color="#80ff80"/><stop offset="0.1229" stop-color="#5dffa2"/><stop offset="0.1653" stop-color="#1affe5"/><stop offset="0.2078" stop-color="#00f7ff"/><stop offset="0.2502" stop-color="#1affe5"/><stop offset="0.2927" stop-color="#5dffa2"/><stop offset="0.3351" stop-color="#5dffa2"/><stop offset="0.3776" stop-color="#3cffc3"/><stop offset="0.4200" stop-color="#5dffa2"/><stop offset="0.4624" stop-color="#80ff80"/><stop offset="0.5049" stop-color="#80ff80"/><stop offset="0.5473" stop-color="#5dffa2"/><stop offset="0.5898" stop-color="#5dffa2"/><stop offset="0.6322" stop-color="#3cffc3"/><stop offset="0.6747" stop-color="#3cffc3"/><stop offset="0.7171" stop-color="#5dffa2"/><stop offset="0.7596" stop-color="#80ff80"/><stop offset="0.8020" stop-color="#5dffa2"/><stop offset="0.8445" stop-color="#3cffc3"/><stop offset="0.8869" stop-color="#1affe5"/><stop offset="0.9294" stop-color="#1affe5"/><stop offset="0.9718" stop-color="#3cffc3"/><stop offset="1.0143" stop-color="#3cffc3"/></linearGradient>
<rect x="102.8" y="316.44" width="286.0" height="45.27" fill="url(#g22)"/>
<linearGradient id="g23" gradientUnits="objectBoundingBox" x1="0" x2="1" y1="0" y2="0"><stop offset="-0.0045" stop-color="#80ff80"/><stop offset="0.0380" stop-color="#80ff80"/><stop offset="0.0804" stop-color="#5dffa2"/><stop offset="0.1229" stop-color="#5dffa2"/><stop offset="0.1653" stop-color="#5dffa2"/><stop offset="0.2078" stop-color="#5dffa2"/><stop offset="0.2502" stop-color="#80ff80"/><stop offset="0.2927" stop-color="#80ff80"/><stop offset="0.3351" stop-color="#a2ff5e"/><stop offset="0.3776" stop-color="#a2ff5e"/><stop offset="0.4200" stop-color="#a2ff5e"/><stop offset="0.4624" stop-color="#a2ff5e"/><stop offset="0.5049" stop-color="#a2ff5e"/><stop offset="0.5473" stop-color="#a2ff5e"/><stop offset="0.5898" stop-color="#80ff80"/><stop offset="0.6322" stop-color="#80ff80"/><stop offset="0.6747" stop-color="#5dffa2"/><stop offset="0.7171" stop-color="#80ff80"/><stop offset="0.7596" stop-color="#c4ff3b"/><stop offset="0.8020" stop-color="#80ff80"/><stop offset="0.8445" stop-color="#80ff80"/><stop offset="0.8869" stop-color="#80ff80"/><stop offset="0.9294" stop-color="#80ff80"/><stop offset="0.9718" stop-color="#5dffa2"/><stop offset="1.0143" stop-color="#5dffa2"/></linearGradient>
<rect x="102.8" y="360.51" width="286.0" height="40.32" fill="url(#g23)"/>
<linearGradient id="g24" gradientUnits="objectBoundingBox" x1="0" x2="1" y1="0" y2="0"><stop offset="-0.0045" stop-color="#80ff80"/><stop offset="0.0380" stop-color="#80ff80"/><stop offset="0.0804" stop-color="#5dffa2"/><stop offset="0.1229" stop-color="#5dffa2"/><stop offset="0.1653" stop-color="#5dffa2"/><stop offset="0.2078" stop-color="#5dffa2"/><stop offset="0.2502" stop-color="#a2ff5e"/><stop offset="0.2927" stop-color="#c4ff3b"/><stop offset="0.3351" stop-color="#c4ff3b"/><stop offset="0.3776" stop-color="#a2ff5e"/><stop offset="0.4200" stop-color="#c4ff3b"/><stop offset="0.4624" stop-color="#a2ff5e"/><stop offset="0.5049" stop-color="#a2ff5e"/><stop offset="0.5473" stop-color="#a2ff5e"/><stop offset="0.5898" stop-color="#e6ff19"/><stop offset="0.6322" stop-color="#c4ff3b"/><stop offset="0.6747" stop-color="#a2ff5e"/><stop offset="0.7171" stop-color="#a2ff5e"/><stop offset="0.7596" stop-color="#a2ff5e"/><stop offset="0.8020" stop-color="#a2ff5e"/><stop offset="0.8445" stop-color="#a2ff5e"/><stop offset="0.8869" stop-color="#a2ff5e"/><stop offset="0.9294" stop-color="#80ff80"/><stop offset="0.9718" stop-color="#5dffa2"/><stop offset="1.0143" stop-color="#3cffc3"/></linearGradient>
<rect x="102.8" y="399.62" width="286.0" height="45.80" fill="url(#g24)"/>
<linearGradient id="g25" gradientUnits="objectBoundingBox" x1="0" x2="1" y1="0" y2="0"><stop offset="-0.0045" stop-color="#80ff80"/><stop offset="0.0380" stop-color="#80ff80"/><stop offset="0.0804" stop-color="#5dffa2"/><stop offset="0.1229" stop-color="#3cffc3"/><stop offset="0.1653" stop-color="#5dffa2"/><stop offset="0.2078" stop-color="#5dffa2"/><stop offset="0.2502" stop-color="#80ff80"/><stop offset="0.2927" stop-color="#c4ff3b"/><stop offset="0.3351" stop-color="#a2ff5e"/><stop offset="0.3776" stop-color="#5dffa2"/><stop offset="0.4200" stop-color="#a2ff5e"/><stop offset="0.4624" stop-color="#5dffa2"/><stop offset="0.5049" stop-color="#5dffa2"/><stop offset="0.5473" stop-color="#80ff80"/><stop offset="0.5898" stop-color="#a2ff5e"/><stop offset="0.6322" stop-color="#5dffa2"/><stop offset="0.6747" stop-color="#c4ff3b"/><stop offset="0.7171" stop-color="#e6ff19"/><stop offset="0.7596" stop-color="#5dffa2"/><stop offset="0.8020" stop-color="#a2ff5e"/><stop offset="0.8445" stop-color="#e6ff19"/><stop offset="0.8869" stop-color="#80ff80"/><stop offset="0.9294" stop-color="#5dffa2"/><stop offset="0.9718" stop-color="#5dffa2"/><stop offset="1.0143" stop-color="#3cffc3"/></linearGradient>
<rect x="102.8" y="444.23" width="286.0" height="21.77" fill="url(#g25)"/>
<rect x="102.8" y="289.0" width="286.0" height="177.0" fill="none" stroke="#7a7a7a" stroke-width="1"/>
<line x1="125.8" y1="290.5" x2="125.8" y2="466.0" stroke="#4a3f48" stroke-opacity="0.7" stroke-width="1" stroke-dasharray="1.7,1.66"/>
<line x1="99.3" y1="293.2" x2="102.8" y2="293.2" stroke="#555" stroke-width="0.8"/>
<text x="97.1" y="297.8" font-size="13" text-anchor="end" fill="#111" >20</text>
<line x1="99.3" y1="335.8" x2="102.8" y2="335.8" stroke="#555" stroke-width="0.8"/>
<text x="97.1" y="340.4" font-size="13" text-anchor="end" fill="#111" >16</text>
<line x1="99.3" y1="378.5" x2="102.8" y2="378.5" stroke="#555" stroke-width="0.8"/>
<text x="97.1" y="383.1" font-size="13" text-anchor="end" fill="#111" >12</text>
<line x1="99.3" y1="421.1" x2="102.8" y2="421.1" stroke="#555" stroke-width="0.8"/>
<text x="97.1" y="425.7" font-size="13" text-anchor="end" fill="#111" >8</text>
<line x1="99.3" y1="463.8" x2="102.8" y2="463.8" stroke="#555" stroke-width="0.8"/>
<text x="97.1" y="468.4" font-size="13" text-anchor="end" fill="#111" >4</text>
<line x1="99.3" y1="314.5" x2="102.8" y2="314.5" stroke="#555" stroke-width="0.8"/>
<line x1="99.3" y1="357.2" x2="102.8" y2="357.2" stroke="#555" stroke-width="0.8"/>
<line x1="99.3" y1="399.8" x2="102.8" y2="399.8" stroke="#555" stroke-width="0.8"/>
<line x1="99.3" y1="442.4" x2="102.8" y2="442.4" stroke="#555" stroke-width="0.8"/>
<text x="125.8" y="480.5" font-size="12.5" text-anchor="middle" fill="#111" >0</text>
<text x="186.5" y="480.5" font-size="12.5" text-anchor="middle" fill="#111" >100</text>
<text x="247.2" y="480.5" font-size="12.5" text-anchor="middle" fill="#111" >200</text>
<text x="307.9" y="480.5" font-size="12.5" text-anchor="middle" fill="#111" >300</text>
<text x="368.6" y="480.5" font-size="12.5" text-anchor="middle" fill="#111" >400</text>
<line x1="156.2" y1="466.0" x2="156.2" y2="464.0" stroke="#999" stroke-width="0.8"/>
<line x1="216.8" y1="466.0" x2="216.8" y2="464.0" stroke="#999" stroke-width="0.8"/>
<line x1="277.6" y1="466.0" x2="277.6" y2="464.0" stroke="#999" stroke-width="0.8"/>
<line x1="338.2" y1="466.0" x2="338.2" y2="464.0" stroke="#999" stroke-width="0.8"/>
</g>
<g>
<linearGradient id="g26" gradientUnits="objectBoundingBox" x1="0" x2="1" y1="0" y2="0"><stop offset="-0.0045" stop-color="#5dffa2"/><stop offset="0.0380" stop-color="#80ff80"/><stop offset="0.0804" stop-color="#c4ff3b"/><stop offset="0.1229" stop-color="#e6ff19"/><stop offset="0.1653" stop-color="#e6ff19"/><stop offset="0.2078" stop-color="#e6ff19"/><stop offset="0.2502" stop-color="#e6ff19"/><stop offset="0.2927" stop-color="#fff700"/><stop offset="0.3351" stop-color="#fff700"/><stop offset="0.3776" stop-color="#ffb200"/><stop offset="0.4200" stop-color="#fff700"/><stop offset="0.4624" stop-color="#e6ff19"/><stop offset="0.5049" stop-color="#e6ff19"/><stop offset="0.5473" stop-color="#e6ff19"/><stop offset="0.5898" stop-color="#c4ff3b"/><stop offset="0.6322" stop-color="#a2ff5e"/><stop offset="0.6747" stop-color="#80ff80"/><stop offset="0.7171" stop-color="#80ff80"/><stop offset="0.7596" stop-color="#a2ff5e"/><stop offset="0.8020" stop-color="#c4ff3b"/><stop offset="0.8445" stop-color="#e6ff19"/><stop offset="0.8869" stop-color="#e6ff19"/><stop offset="0.9294" stop-color="#e6ff19"/><stop offset="0.9718" stop-color="#fff700"/><stop offset="1.0143" stop-color="#ffd500"/></linearGradient>
<rect x="436.4" y="289.00" width="286.0" height="28.64" fill="url(#g26)"/>
<linearGradient id="g27" gradientUnits="objectBoundingBox" x1="0" x2="1" y1="0" y2="0"><stop offset="-0.0045" stop-color="#5dffa2"/><stop offset="0.0380" stop-color="#5dffa2"/><stop offset="0.0804" stop-color="#a2ff5e"/><stop offset="0.1229" stop-color="#a2ff5e"/><stop offset="0.1653" stop-color="#a2ff5e"/><stop offset="0.2078" stop-color="#a2ff5e"/><stop offset="0.2502" stop-color="#c4ff3b"/><stop offset="0.2927" stop-color="#fff700"/><stop offset="0.3351" stop-color="#fff700"/><stop offset="0.3776" stop-color="#fff700"/><stop offset="0.4200" stop-color="#e6ff19"/><stop offset="0.4624" stop-color="#e6ff19"/><stop offset="0.5049" stop-color="#e6ff19"/><stop offset="0.5473" stop-color="#fff700"/><stop offset="0.5898" stop-color="#c4ff3b"/><stop offset="0.6322" stop-color="#80ff80"/><stop offset="0.6747" stop-color="#3cffc3"/><stop offset="0.7171" stop-color="#3cffc3"/><stop offset="0.7596" stop-color="#5dffa2"/><stop offset="0.8020" stop-color="#80ff80"/><stop offset="0.8445" stop-color="#a2ff5e"/><stop offset="0.8869" stop-color="#80ff80"/><stop offset="0.9294" stop-color="#80ff80"/><stop offset="0.9718" stop-color="#a2ff5e"/><stop offset="1.0143" stop-color="#a2ff5e"/></linearGradient>
<rect x="436.4" y="316.44" width="286.0" height="45.27" fill="url(#g27)"/>
<linearGradient id="g28" gradientUnits="objectBoundingBox" x1="0" x2="1" y1="0" y2="0"><stop offset="-0.0045" stop-color="#5dffa2"/><stop offset="0.0380" stop-color="#5dffa2"/><stop offset="0.0804" stop-color="#5dffa2"/><stop offset="0.1229" stop-color="#5dffa2"/><stop offset="0.1653" stop-color="#5dffa2"/><stop offset="0.2078" stop-color="#5dffa2"/><stop offset="0.2502" stop-color="#a2ff5e"/><stop offset="0.2927" stop-color="#fff700"/><stop offset="0.3351" stop-color="#ffd500"/><stop offset="0.3776" stop-color="#fff700"/><stop offset="0.4200" stop-color="#fff700"/><stop offset="0.4624" stop-color="#ffd500"/><stop offset="0.5049" stop-color="#ffb200"/><stop offset="0.5473" stop-color="#ffb200"/><stop offset="0.5898" stop-color="#e6ff19"/><stop offset="0.6322" stop-color="#c4ff3b"/><stop offset="0.6747" stop-color="#a2ff5e"/><stop offset="0.7171" stop-color="#a2ff5e"/><stop offset="0.7596" stop-color="#80ff80"/><stop offset="0.8020" stop-color="#80ff80"/><stop offset="0.8445" stop-color="#80ff80"/><stop offset="0.8869" stop-color="#a2ff5e"/><stop offset="0.9294" stop-color="#c4ff3b"/><stop offset="0.9718" stop-color="#c4ff3b"/><stop offset="1.0143" stop-color="#c4ff3b"/></linearGradient>
<rect x="436.4" y="360.51" width="286.0" height="40.32" fill="url(#g28)"/>
<linearGradient id="g29" gradientUnits="objectBoundingBox" x1="0" x2="1" y1="0" y2="0"><stop offset="-0.0045" stop-color="#5dffa2"/><stop offset="0.0380" stop-color="#5dffa2"/><stop offset="0.0804" stop-color="#5dffa2"/><stop offset="0.1229" stop-color="#5dffa2"/><stop offset="0.1653" stop-color="#5dffa2"/><stop offset="0.2078" stop-color="#80ff80"/><stop offset="0.2502" stop-color="#c4ff3b"/><stop offset="0.2927" stop-color="#ffd500"/><stop offset="0.3351" stop-color="#ffd500"/><stop offset="0.3776" stop-color="#fff700"/><stop offset="0.4200" stop-color="#fff700"/><stop offset="0.4624" stop-color="#ffb200"/><stop offset="0.5049" stop-color="#ffb200"/><stop offset="0.5473" stop-color="#ffb200"/><stop offset="0.5898" stop-color="#ffd500"/><stop offset="0.6322" stop-color="#fff700"/><stop offset="0.6747" stop-color="#fff700"/><stop offset="0.7171" stop-color="#e6ff19"/><stop offset="0.7596" stop-color="#e6ff19"/><stop offset="0.8020" stop-color="#c4ff3b"/><stop offset="0.8445" stop-color="#c4ff3b"/><stop offset="0.8869" stop-color="#a2ff5e"/><stop offset="0.9294" stop-color="#a2ff5e"/><stop offset="0.9718" stop-color="#c4ff3b"/><stop offset="1.0143" stop-color="#e6ff19"/></linearGradient>
<rect x="436.4" y="399.62" width="286.0" height="45.80" fill="url(#g29)"/>
<linearGradient id="g30" gradientUnits="objectBoundingBox" x1="0" x2="1" y1="0" y2="0"><stop offset="-0.0045" stop-color="#5dffa2"/><stop offset="0.0380" stop-color="#80ff80"/><stop offset="0.0804" stop-color="#80ff80"/><stop offset="0.1229" stop-color="#5dffa2"/><stop offset="0.1653" stop-color="#80ff80"/><stop offset="0.2078" stop-color="#c4ff3b"/><stop offset="0.2502" stop-color="#fff700"/><stop offset="0.2927" stop-color="#fff700"/><stop offset="0.3351" stop-color="#fff700"/><stop offset="0.3776" stop-color="#ffb200"/><stop offset="0.4200" stop-color="#ffd500"/><stop offset="0.4624" stop-color="#ffd500"/><stop offset="0.5049" stop-color="#ffb200"/><stop offset="0.5473" stop-color="#ff9000"/><stop offset="0.5898" stop-color="#ffb200"/><stop offset="0.6322" stop-color="#ffb200"/><stop offset="0.6747" stop-color="#fff700"/><stop offset="0.7171" stop-color="#fff700"/><stop offset="0.7596" stop-color="#fff700"/><stop offset="0.8020" stop-color="#e6ff19"/><stop offset="0.8445" stop-color="#e6ff19"/><stop offset="0.8869" stop-color="#c4ff3b"/><stop offset="0.9294" stop-color="#e6ff19"/><stop offset="0.9718" stop-color="#e6ff19"/><stop offset="1.0143" stop-color="#fff700"/></linearGradient>
<rect x="436.4" y="444.23" width="286.0" height="21.77" fill="url(#g30)"/>
<rect x="436.4" y="289.0" width="286.0" height="177.0" fill="none" stroke="#7a7a7a" stroke-width="1"/>
<line x1="459.4" y1="290.5" x2="459.4" y2="466.0" stroke="#4a3f48" stroke-opacity="0.7" stroke-width="1" stroke-dasharray="1.7,1.66"/>
<line x1="432.9" y1="293.2" x2="436.4" y2="293.2" stroke="#555" stroke-width="0.8"/>
<text x="430.7" y="297.8" font-size="13" text-anchor="end" fill="#111" >20</text>
<line x1="432.9" y1="335.8" x2="436.4" y2="335.8" stroke="#555" stroke-width="0.8"/>
<text x="430.7" y="340.4" font-size="13" text-anchor="end" fill="#111" >16</text>
<line x1="432.9" y1="378.5" x2="436.4" y2="378.5" stroke="#555" stroke-width="0.8"/>
<text x="430.7" y="383.1" font-size="13" text-anchor="end" fill="#111" >12</text>
<line x1="432.9" y1="421.1" x2="436.4" y2="421.1" stroke="#555" stroke-width="0.8"/>
<text x="430.7" y="425.7" font-size="13" text-anchor="end" fill="#111" >8</text>
<line x1="432.9" y1="463.8" x2="436.4" y2="463.8" stroke="#555" stroke-width="0.8"/>
<text x="430.7" y="468.4" font-size="13" text-anchor="end" fill="#111" >4</text>
<line x1="432.9" y1="314.5" x2="436.4" y2="314.5" stroke="#555" stroke-width="0.8"/>
<line x1="432.9" y1="357.2" x2="436.4" y2="357.2" stroke="#555" stroke-width="0.8"/>
<line x1="432.9" y1="399.8" x2="436.4" y2="399.8" stroke="#555" stroke-width="0.8"/>
<line x1="432.9" y1="442.4" x2="436.4" y2="442.4" stroke="#555" stroke-width="0.8"/>
<text x="459.4" y="480.5" font-size="12.5" text-anchor="middle" fill="#111" >0</text>
<text x="520.1" y="480.5" font-size="12.5" text-anchor="middle" fill="#111" >100</text>
<text x="580.8" y="480.5" font-size="12.5" text-anchor="middle" fill="#111" >200</text>
<text x="641.5" y="480.5" font-size="12.5" text-anchor="middle" fill="#111" >300</text>
<text x="702.2" y="480.5" font-size="12.5" text-anchor="middle" fill="#111" >400</text>
<line x1="489.8" y1="466.0" x2="489.8" y2="464.0" stroke="#999" stroke-width="0.8"/>
<line x1="550.4" y1="466.0" x2="550.4" y2="464.0" stroke="#999" stroke-width="0.8"/>
<line x1="611.1" y1="466.0" x2="611.1" y2="464.0" stroke="#999" stroke-width="0.8"/>
<line x1="671.8" y1="466.0" x2="671.8" y2="464.0" stroke="#999" stroke-width="0.8"/>
</g>
<g>
<linearGradient id="g31" gradientUnits="objectBoundingBox" x1="0" x2="1" y1="0" y2="0"><stop offset="-0.0045" stop-color="#a2ff5e"/><stop offset="0.0380" stop-color="#80ff80"/><stop offset="0.0804" stop-color="#5dffa2"/><stop offset="0.1229" stop-color="#80ff80"/><stop offset="0.1653" stop-color="#a2ff5e"/><stop offset="0.2078" stop-color="#80ff80"/><stop offset="0.2502" stop-color="#5dffa2"/><stop offset="0.2927" stop-color="#5dffa2"/><stop offset="0.3351" stop-color="#c4ff3b"/><stop offset="0.3776" stop-color="#e6ff19"/><stop offset="0.4200" stop-color="#80ff80"/><stop offset="0.4624" stop-color="#5dffa2"/><stop offset="0.5049" stop-color="#80ff80"/><stop offset="0.5473" stop-color="#a2ff5e"/><stop offset="0.5898" stop-color="#a2ff5e"/><stop offset="0.6322" stop-color="#80ff80"/><stop offset="0.6747" stop-color="#5dffa2"/><stop offset="0.7171" stop-color="#5dffa2"/><stop offset="0.7596" stop-color="#a2ff5e"/><stop offset="0.8020" stop-color="#c4ff3b"/><stop offset="0.8445" stop-color="#c4ff3b"/><stop offset="0.8869" stop-color="#c4ff3b"/><stop offset="0.9294" stop-color="#e6ff19"/><stop offset="0.9718" stop-color="#e6ff19"/><stop offset="1.0143" stop-color="#c4ff3b"/></linearGradient>
<rect x="769.5" y="289.00" width="286.0" height="28.64" fill="url(#g31)"/>
<linearGradient id="g32" gradientUnits="objectBoundingBox" x1="0" x2="1" y1="0" y2="0"><stop offset="-0.0045" stop-color="#5dffa2"/><stop offset="0.0380" stop-color="#5dffa2"/><stop offset="0.0804" stop-color="#c4ff3b"/><stop offset="0.1229" stop-color="#e6ff19"/><stop offset="0.1653" stop-color="#e6ff19"/><stop offset="0.2078" stop-color="#fff700"/><stop offset="0.2502" stop-color="#e6ff19"/><stop offset="0.2927" stop-color="#e6ff19"/><stop offset="0.3351" stop-color="#ffd500"/><stop offset="0.3776" stop-color="#ffd500"/><stop offset="0.4200" stop-color="#e6ff19"/><stop offset="0.4624" stop-color="#e6ff19"/><stop offset="0.5049" stop-color="#fff700"/><stop offset="0.5473" stop-color="#fff700"/><stop offset="0.5898" stop-color="#e6ff19"/><stop offset="0.6322" stop-color="#fff700"/><stop offset="0.6747" stop-color="#e6ff19"/><stop offset="0.7171" stop-color="#e6ff19"/><stop offset="0.7596" stop-color="#c4ff3b"/><stop offset="0.8020" stop-color="#a2ff5e"/><stop offset="0.8445" stop-color="#a2ff5e"/><stop offset="0.8869" stop-color="#a2ff5e"/><stop offset="0.9294" stop-color="#a2ff5e"/><stop offset="0.9718" stop-color="#a2ff5e"/><stop offset="1.0143" stop-color="#a2ff5e"/></linearGradient>
<rect x="769.5" y="316.44" width="286.0" height="45.27" fill="url(#g32)"/>
<linearGradient id="g33" gradientUnits="objectBoundingBox" x1="0" x2="1" y1="0" y2="0"><stop offset="-0.0045" stop-color="#5dffa2"/><stop offset="0.0380" stop-color="#5dffa2"/><stop offset="0.0804" stop-color="#c4ff3b"/><stop offset="0.1229" stop-color="#e6ff19"/><stop offset="0.1653" stop-color="#fff700"/><stop offset="0.2078" stop-color="#fff700"/><stop offset="0.2502" stop-color="#fff700"/><stop offset="0.2927" stop-color="#ffd500"/><stop offset="0.3351" stop-color="#ffb200"/><stop offset="0.3776" stop-color="#fff700"/><stop offset="0.4200" stop-color="#fff700"/><stop offset="0.4624" stop-color="#ffd500"/><stop offset="0.5049" stop-color="#ff9000"/><stop offset="0.5473" stop-color="#ff9000"/><stop offset="0.5898" stop-color="#ff9000"/><stop offset="0.6322" stop-color="#ff6e00"/><stop offset="0.6747" stop-color="#ff9000"/><stop offset="0.7171" stop-color="#ffb200"/><stop offset="0.7596" stop-color="#ffd500"/><stop offset="0.8020" stop-color="#e6ff19"/><stop offset="0.8445" stop-color="#c4ff3b"/><stop offset="0.8869" stop-color="#c4ff3b"/><stop offset="0.9294" stop-color="#c4ff3b"/><stop offset="0.9718" stop-color="#c4ff3b"/><stop offset="1.0143" stop-color="#c4ff3b"/></linearGradient>
<rect x="769.5" y="360.51" width="286.0" height="40.32" fill="url(#g33)"/>
<linearGradient id="g34" gradientUnits="objectBoundingBox" x1="0" x2="1" y1="0" y2="0"><stop offset="-0.0045" stop-color="#5dffa2"/><stop offset="0.0380" stop-color="#5dffa2"/><stop offset="0.0804" stop-color="#a2ff5e"/><stop offset="0.1229" stop-color="#c4ff3b"/><stop offset="0.1653" stop-color="#c4ff3b"/><stop offset="0.2078" stop-color="#e6ff19"/><stop offset="0.2502" stop-color="#e6ff19"/><stop offset="0.2927" stop-color="#fff700"/><stop offset="0.3351" stop-color="#ffd500"/><stop offset="0.3776" stop-color="#ffd500"/><stop offset="0.4200" stop-color="#fff700"/><stop offset="0.4624" stop-color="#ffd500"/><stop offset="0.5049" stop-color="#ff9000"/><stop offset="0.5473" stop-color="#ff6e00"/><stop offset="0.5898" stop-color="#ff6e00"/><stop offset="0.6322" stop-color="#ff4d00"/><stop offset="0.6747" stop-color="#ff6e00"/><stop offset="0.7171" stop-color="#ff9000"/><stop offset="0.7596" stop-color="#ffb200"/><stop offset="0.8020" stop-color="#fff700"/><stop offset="0.8445" stop-color="#e6ff19"/><stop offset="0.8869" stop-color="#c4ff3b"/><stop offset="0.9294" stop-color="#c4ff3b"/><stop offset="0.9718" stop-color="#c4ff3b"/><stop offset="1.0143" stop-color="#c4ff3b"/></linearGradient>
<rect x="769.5" y="399.62" width="286.0" height="45.80" fill="url(#g34)"/>
<linearGradient id="g35" gradientUnits="objectBoundingBox" x1="0" x2="1" y1="0" y2="0"><stop offset="-0.0045" stop-color="#5dffa2"/><stop offset="0.0380" stop-color="#5dffa2"/><stop offset="0.0804" stop-color="#5dffa2"/><stop offset="0.1229" stop-color="#80ff80"/><stop offset="0.1653" stop-color="#a2ff5e"/><stop offset="0.2078" stop-color="#c4ff3b"/><stop offset="0.2502" stop-color="#e6ff19"/><stop offset="0.2927" stop-color="#e6ff19"/><stop offset="0.3351" stop-color="#e6ff19"/><stop offset="0.3776" stop-color="#e6ff19"/><stop offset="0.4200" stop-color="#fff700"/><stop offset="0.4624" stop-color="#ffb200"/><stop offset="0.5049" stop-color="#ffb200"/><stop offset="0.5473" stop-color="#ffb200"/><stop offset="0.5898" stop-color="#ff6e00"/><stop offset="0.6322" stop-color="#ff9000"/><stop offset="0.6747" stop-color="#ff9000"/><stop offset="0.7171" stop-color="#ff4d00"/><stop offset="0.7596" stop-color="#ffd500"/><stop offset="0.8020" stop-color="#fff700"/><stop offset="0.8445" stop-color="#e6ff19"/><stop offset="0.8869" stop-color="#a2ff5e"/><stop offset="0.9294" stop-color="#a2ff5e"/><stop offset="0.9718" stop-color="#c4ff3b"/><stop offset="1.0143" stop-color="#c4ff3b"/></linearGradient>
<rect x="769.5" y="444.23" width="286.0" height="21.77" fill="url(#g35)"/>
<rect x="769.5" y="289.0" width="286.0" height="177.0" fill="none" stroke="#7a7a7a" stroke-width="1"/>
<line x1="792.5" y1="290.5" x2="792.5" y2="466.0" stroke="#4a3f48" stroke-opacity="0.7" stroke-width="1" stroke-dasharray="1.7,1.66"/>
<line x1="766.0" y1="293.2" x2="769.5" y2="293.2" stroke="#555" stroke-width="0.8"/>
<text x="763.8" y="297.8" font-size="13" text-anchor="end" fill="#111" >20</text>
<line x1="766.0" y1="335.8" x2="769.5" y2="335.8" stroke="#555" stroke-width="0.8"/>
<text x="763.8" y="340.4" font-size="13" text-anchor="end" fill="#111" >16</text>
<line x1="766.0" y1="378.5" x2="769.5" y2="378.5" stroke="#555" stroke-width="0.8"/>
<text x="763.8" y="383.1" font-size="13" text-anchor="end" fill="#111" >12</text>
<line x1="766.0" y1="421.1" x2="769.5" y2="421.1" stroke="#555" stroke-width="0.8"/>
<text x="763.8" y="425.7" font-size="13" text-anchor="end" fill="#111" >8</text>
<line x1="766.0" y1="463.8" x2="769.5" y2="463.8" stroke="#555" stroke-width="0.8"/>
<text x="763.8" y="468.4" font-size="13" text-anchor="end" fill="#111" >4</text>
<line x1="766.0" y1="314.5" x2="769.5" y2="314.5" stroke="#555" stroke-width="0.8"/>
<line x1="766.0" y1="357.2" x2="769.5" y2="357.2" stroke="#555" stroke-width="0.8"/>
<line x1="766.0" y1="399.8" x2="769.5" y2="399.8" stroke="#555" stroke-width="0.8"/>
<line x1="766.0" y1="442.4" x2="769.5" y2="442.4" stroke="#555" stroke-width="0.8"/>
<text x="792.5" y="480.5" font-size="12.5" text-anchor="middle" fill="#111" >0</text>
<text x="853.2" y="480.5" font-size="12.5" text-anchor="middle" fill="#111" >100</text>
<text x="913.9" y="480.5" font-size="12.5" text-anchor="middle" fill="#111" >200</text>
<text x="974.6" y="480.5" font-size="12.5" text-anchor="middle" fill="#111" >300</text>
<text x="1035.3" y="480.5" font-size="12.5" text-anchor="middle" fill="#111" >400</text>
<line x1="822.9" y1="466.0" x2="822.9" y2="464.0" stroke="#999" stroke-width="0.8"/>
<line x1="883.5" y1="466.0" x2="883.5" y2="464.0" stroke="#999" stroke-width="0.8"/>
<line x1="944.2" y1="466.0" x2="944.2" y2="464.0" stroke="#999" stroke-width="0.8"/>
<line x1="1005.0" y1="466.0" x2="1005.0" y2="464.0" stroke="#999" stroke-width="0.8"/>
</g>
<g>
<linearGradient id="g36" gradientUnits="objectBoundingBox" x1="0" x2="1" y1="0" y2="0"><stop offset="-0.0045" stop-color="#80ff80"/><stop offset="0.0380" stop-color="#5dffa2"/><stop offset="0.0804" stop-color="#5dffa2"/><stop offset="0.1229" stop-color="#5dffa2"/><stop offset="0.1653" stop-color="#5dffa2"/><stop offset="0.2078" stop-color="#80ff80"/><stop offset="0.2502" stop-color="#a2ff5e"/><stop offset="0.2927" stop-color="#c4ff3b"/><stop offset="0.3351" stop-color="#a2ff5e"/><stop offset="0.3776" stop-color="#a2ff5e"/><stop offset="0.4200" stop-color="#80ff80"/><stop offset="0.4624" stop-color="#5dffa2"/><stop offset="0.5049" stop-color="#a2ff5e"/><stop offset="0.5473" stop-color="#a2ff5e"/><stop offset="0.5898" stop-color="#5dffa2"/><stop offset="0.6322" stop-color="#3cffc3"/><stop offset="0.6747" stop-color="#5dffa2"/><stop offset="0.7171" stop-color="#80ff80"/><stop offset="0.7596" stop-color="#3cffc3"/><stop offset="0.8020" stop-color="#3cffc3"/><stop offset="0.8445" stop-color="#3cffc3"/><stop offset="0.8869" stop-color="#5dffa2"/><stop offset="0.9294" stop-color="#c4ff3b"/><stop offset="0.9718" stop-color="#e6ff19"/><stop offset="1.0143" stop-color="#e6ff19"/></linearGradient>
<rect x="1102.3" y="289.00" width="286.0" height="28.64" fill="url(#g36)"/>
<linearGradient id="g37" gradientUnits="objectBoundingBox" x1="0" x2="1" y1="0" y2="0"><stop offset="-0.0045" stop-color="#5dffa2"/><stop offset="0.0380" stop-color="#5dffa2"/><stop offset="0.0804" stop-color="#3cffc3"/><stop offset="0.1229" stop-color="#1affe5"/><stop offset="0.1653" stop-color="#1affe5"/><stop offset="0.2078" stop-color="#3cffc3"/><stop offset="0.2502" stop-color="#a2ff5e"/><stop offset="0.2927" stop-color="#fff700"/><stop offset="0.3351" stop-color="#fff700"/><stop offset="0.3776" stop-color="#e6ff19"/><stop offset="0.4200" stop-color="#c4ff3b"/><stop offset="0.4624" stop-color="#a2ff5e"/><stop offset="0.5049" stop-color="#a2ff5e"/><stop offset="0.5473" stop-color="#a2ff5e"/><stop offset="0.5898" stop-color="#a2ff5e"/><stop offset="0.6322" stop-color="#a2ff5e"/><stop offset="0.6747" stop-color="#a2ff5e"/><stop offset="0.7171" stop-color="#80ff80"/><stop offset="0.7596" stop-color="#5dffa2"/><stop offset="0.8020" stop-color="#3cffc3"/><stop offset="0.8445" stop-color="#3cffc3"/><stop offset="0.8869" stop-color="#3cffc3"/><stop offset="0.9294" stop-color="#5dffa2"/><stop offset="0.9718" stop-color="#5dffa2"/><stop offset="1.0143" stop-color="#5dffa2"/></linearGradient>
<rect x="1102.3" y="316.44" width="286.0" height="45.27" fill="url(#g37)"/>
<linearGradient id="g38" gradientUnits="objectBoundingBox" x1="0" x2="1" y1="0" y2="0"><stop offset="-0.0045" stop-color="#5dffa2"/><stop offset="0.0380" stop-color="#5dffa2"/><stop offset="0.0804" stop-color="#3cffc3"/><stop offset="0.1229" stop-color="#1affe5"/><stop offset="0.1653" stop-color="#1affe5"/><stop offset="0.2078" stop-color="#3cffc3"/><stop offset="0.2502" stop-color="#e6ff19"/><stop offset="0.2927" stop-color="#ffb200"/><stop offset="0.3351" stop-color="#ffb200"/><stop offset="0.3776" stop-color="#fff700"/><stop offset="0.4200" stop-color="#fff700"/><stop offset="0.4624" stop-color="#e6ff19"/><stop offset="0.5049" stop-color="#c4ff3b"/><stop offset="0.5473" stop-color="#c4ff3b"/><stop offset="0.5898" stop-color="#fff700"/><stop offset="0.6322" stop-color="#fff700"/><stop offset="0.6747" stop-color="#e6ff19"/><stop offset="0.7171" stop-color="#a2ff5e"/><stop offset="0.7596" stop-color="#80ff80"/><stop offset="0.8020" stop-color="#80ff80"/><stop offset="0.8445" stop-color="#80ff80"/><stop offset="0.8869" stop-color="#80ff80"/><stop offset="0.9294" stop-color="#80ff80"/><stop offset="0.9718" stop-color="#80ff80"/><stop offset="1.0143" stop-color="#80ff80"/></linearGradient>
<rect x="1102.3" y="360.51" width="286.0" height="40.32" fill="url(#g38)"/>
<linearGradient id="g39" gradientUnits="objectBoundingBox" x1="0" x2="1" y1="0" y2="0"><stop offset="-0.0045" stop-color="#5dffa2"/><stop offset="0.0380" stop-color="#5dffa2"/><stop offset="0.0804" stop-color="#3cffc3"/><stop offset="0.1229" stop-color="#3cffc3"/><stop offset="0.1653" stop-color="#3cffc3"/><stop offset="0.2078" stop-color="#5dffa2"/><stop offset="0.2502" stop-color="#fff700"/><stop offset="0.2927" stop-color="#ff9000"/><stop offset="0.3351" stop-color="#ffb200"/><stop offset="0.3776" stop-color="#ffd500"/><stop offset="0.4200" stop-color="#ffd500"/><stop offset="0.4624" stop-color="#fff700"/><stop offset="0.5049" stop-color="#e6ff19"/><stop offset="0.5473" stop-color="#e6ff19"/><stop offset="0.5898" stop-color="#ffd500"/><stop offset="0.6322" stop-color="#ffb200"/><stop offset="0.6747" stop-color="#ffd500"/><stop offset="0.7171" stop-color="#e6ff19"/><stop offset="0.7596" stop-color="#c4ff3b"/><stop offset="0.8020" stop-color="#a2ff5e"/><stop offset="0.8445" stop-color="#a2ff5e"/><stop offset="0.8869" stop-color="#a2ff5e"/><stop offset="0.9294" stop-color="#a2ff5e"/><stop offset="0.9718" stop-color="#a2ff5e"/><stop offset="1.0143" stop-color="#a2ff5e"/></linearGradient>
<rect x="1102.3" y="399.62" width="286.0" height="45.80" fill="url(#g39)"/>
<linearGradient id="g40" gradientUnits="objectBoundingBox" x1="0" x2="1" y1="0" y2="0"><stop offset="-0.0045" stop-color="#5dffa2"/><stop offset="0.0380" stop-color="#5dffa2"/><stop offset="0.0804" stop-color="#3cffc3"/><stop offset="0.1229" stop-color="#3cffc3"/><stop offset="0.1653" stop-color="#3cffc3"/><stop offset="0.2078" stop-color="#5dffa2"/><stop offset="0.2502" stop-color="#fff700"/><stop offset="0.2927" stop-color="#ffd500"/><stop offset="0.3351" stop-color="#ffb200"/><stop offset="0.3776" stop-color="#ff9000"/><stop offset="0.4200" stop-color="#fff700"/><stop offset="0.4624" stop-color="#fff700"/><stop offset="0.5049" stop-color="#e6ff19"/><stop offset="0.5473" stop-color="#fff700"/><stop offset="0.5898" stop-color="#ffd500"/><stop offset="0.6322" stop-color="#ffd500"/><stop offset="0.6747" stop-color="#fff700"/><stop offset="0.7171" stop-color="#fff700"/><stop offset="0.7596" stop-color="#c4ff3b"/><stop offset="0.8020" stop-color="#a2ff5e"/><stop offset="0.8445" stop-color="#a2ff5e"/><stop offset="0.8869" stop-color="#a2ff5e"/><stop offset="0.9294" stop-color="#5dffa2"/><stop offset="0.9718" stop-color="#a2ff5e"/><stop offset="1.0143" stop-color="#a2ff5e"/></linearGradient>
<rect x="1102.3" y="444.23" width="286.0" height="21.77" fill="url(#g40)"/>
<rect x="1102.3" y="289.0" width="286.0" height="177.0" fill="none" stroke="#7a7a7a" stroke-width="1"/>
<line x1="1125.3" y1="290.5" x2="1125.3" y2="466.0" stroke="#4a3f48" stroke-opacity="0.7" stroke-width="1" stroke-dasharray="1.7,1.66"/>
<line x1="1098.8" y1="293.2" x2="1102.3" y2="293.2" stroke="#555" stroke-width="0.8"/>
<text x="1096.6" y="297.8" font-size="13" text-anchor="end" fill="#111" >20</text>
<line x1="1098.8" y1="335.8" x2="1102.3" y2="335.8" stroke="#555" stroke-width="0.8"/>
<text x="1096.6" y="340.4" font-size="13" text-anchor="end" fill="#111" >16</text>
<line x1="1098.8" y1="378.5" x2="1102.3" y2="378.5" stroke="#555" stroke-width="0.8"/>
<text x="1096.6" y="383.1" font-size="13" text-anchor="end" fill="#111" >12</text>
<line x1="1098.8" y1="421.1" x2="1102.3" y2="421.1" stroke="#555" stroke-width="0.8"/>
<text x="1096.6" y="425.7" font-size="13" text-anchor="end" fill="#111" >8</text>
<line x1="1098.8" y1="463.8" x2="1102.3" y2="463.8" stroke="#555" stroke-width="0.8"/>
<text x="1096.6" y="468.4" font-size="13" text-anchor="end" fill="#111" >4</text>
<line x1="1098.8" y1="314.5" x2="1102.3" y2="314.5" stroke="#555" stroke-width="0.8"/>
<line x1="1098.8" y1="357.2" x2="1102.3" y2="357.2" stroke="#555" stroke-width="0.8"/>
<line x1="1098.8" y1="399.8" x2="1102.3" y2="399.8" stroke="#555" stroke-width="0.8"/>
<line x1="1098.8" y1="442.4" x2="1102.3" y2="442.4" stroke="#555" stroke-width="0.8"/>
<text x="1125.3" y="480.5" font-size="12.5" text-anchor="middle" fill="#111" >0</text>
<text x="1186.0" y="480.5" font-size="12.5" text-anchor="middle" fill="#111" >100</text>
<text x="1246.7" y="480.5" font-size="12.5" text-anchor="middle" fill="#111" >200</text>
<text x="1307.4" y="480.5" font-size="12.5" text-anchor="middle" fill="#111" >300</text>
<text x="1368.1" y="480.5" font-size="12.5" text-anchor="middle" fill="#111" >400</text>
<line x1="1155.6" y1="466.0" x2="1155.6" y2="464.0" stroke="#999" stroke-width="0.8"/>
<line x1="1216.3" y1="466.0" x2="1216.3" y2="464.0" stroke="#999" stroke-width="0.8"/>
<line x1="1277.0" y1="466.0" x2="1277.0" y2="464.0" stroke="#999" stroke-width="0.8"/>
<line x1="1337.8" y1="466.0" x2="1337.8" y2="464.0" stroke="#999" stroke-width="0.8"/>
</g>
<text x="31.5" y="379.0" font-size="26.5" text-anchor="middle" transform="rotate(-90 31.5 379.0)" >15 mg</text>
<g>
<linearGradient id="g41" gradientUnits="objectBoundingBox" x1="0" x2="1" y1="0" y2="0"><stop offset="-0.0045" stop-color="#5dffa2"/><stop offset="0.0380" stop-color="#5dffa2"/><stop offset="0.0804" stop-color="#80ff80"/><stop offset="0.1229" stop-color="#c4ff3b"/><stop offset="0.1653" stop-color="#c4ff3b"/><stop offset="0.2078" stop-color="#e6ff19"/><stop offset="0.2502" stop-color="#c4ff3b"/><stop offset="0.2927" stop-color="#c4ff3b"/><stop offset="0.3351" stop-color="#c4ff3b"/><stop offset="0.3776" stop-color="#e6ff19"/><stop offset="0.4200" stop-color="#c4ff3b"/><stop offset="0.4624" stop-color="#80ff80"/><stop offset="0.5049" stop-color="#80ff80"/><stop offset="0.5473" stop-color="#a2ff5e"/><stop offset="0.5898" stop-color="#80ff80"/><stop offset="0.6322" stop-color="#5dffa2"/><stop offset="0.6747" stop-color="#80ff80"/><stop offset="0.7171" stop-color="#5dffa2"/><stop offset="0.7596" stop-color="#5dffa2"/><stop offset="0.8020" stop-color="#80ff80"/><stop offset="0.8445" stop-color="#fff700"/><stop offset="0.8869" stop-color="#ffd500"/><stop offset="0.9294" stop-color="#ffd500"/><stop offset="0.9718" stop-color="#ffd500"/><stop offset="1.0143" stop-color="#ffd500"/></linearGradient>
<rect x="102.8" y="512.30" width="286.0" height="28.63" fill="url(#g41)"/>
<linearGradient id="g42" gradientUnits="objectBoundingBox" x1="0" x2="1" y1="0" y2="0"><stop offset="-0.0045" stop-color="#5dffa2"/><stop offset="0.0380" stop-color="#5dffa2"/><stop offset="0.0804" stop-color="#80ff80"/><stop offset="0.1229" stop-color="#a2ff5e"/><stop offset="0.1653" stop-color="#c4ff3b"/><stop offset="0.2078" stop-color="#c4ff3b"/><stop offset="0.2502" stop-color="#c4ff3b"/><stop offset="0.2927" stop-color="#c4ff3b"/><stop offset="0.3351" stop-color="#e6ff19"/><stop offset="0.3776" stop-color="#fff700"/><stop offset="0.4200" stop-color="#fff700"/><stop offset="0.4624" stop-color="#e6ff19"/><stop offset="0.5049" stop-color="#e6ff19"/><stop offset="0.5473" stop-color="#c4ff3b"/><stop offset="0.5898" stop-color="#80ff80"/><stop offset="0.6322" stop-color="#3cffc3"/><stop offset="0.6747" stop-color="#3cffc3"/><stop offset="0.7171" stop-color="#5dffa2"/><stop offset="0.7596" stop-color="#80ff80"/><stop offset="0.8020" stop-color="#a2ff5e"/><stop offset="0.8445" stop-color="#c4ff3b"/><stop offset="0.8869" stop-color="#fff700"/><stop offset="0.9294" stop-color="#fff700"/><stop offset="0.9718" stop-color="#fff700"/><stop offset="1.0143" stop-color="#fff700"/></linearGradient>
<rect x="102.8" y="539.73" width="286.0" height="45.27" fill="url(#g42)"/>
<linearGradient id="g43" gradientUnits="objectBoundingBox" x1="0" x2="1" y1="0" y2="0"><stop offset="-0.0045" stop-color="#5dffa2"/><stop offset="0.0380" stop-color="#5dffa2"/><stop offset="0.0804" stop-color="#80ff80"/><stop offset="0.1229" stop-color="#80ff80"/><stop offset="0.1653" stop-color="#80ff80"/><stop offset="0.2078" stop-color="#a2ff5e"/><stop offset="0.2502" stop-color="#c4ff3b"/><stop offset="0.2927" stop-color="#c4ff3b"/><stop offset="0.3351" stop-color="#e6ff19"/><stop offset="0.3776" stop-color="#fff700"/><stop offset="0.4200" stop-color="#ffd500"/><stop offset="0.4624" stop-color="#ffd500"/><stop offset="0.5049" stop-color="#fff700"/><stop offset="0.5473" stop-color="#c4ff3b"/><stop offset="0.5898" stop-color="#80ff80"/><stop offset="0.6322" stop-color="#5dffa2"/><stop offset="0.6747" stop-color="#80ff80"/><stop offset="0.7171" stop-color="#a2ff5e"/><stop offset="0.7596" stop-color="#c4ff3b"/><stop offset="0.8020" stop-color="#e6ff19"/><stop offset="0.8445" stop-color="#fff700"/><stop offset="0.8869" stop-color="#ffd500"/><stop offset="0.9294" stop-color="#ffd500"/><stop offset="0.9718" stop-color="#ffd500"/><stop offset="1.0143" stop-color="#ffd500"/></linearGradient>
<rect x="102.8" y="583.81" width="286.0" height="40.32" fill="url(#g43)"/>
<linearGradient id="g44" gradientUnits="objectBoundingBox" x1="0" x2="1" y1="0" y2="0"><stop offset="-0.0045" stop-color="#5dffa2"/><stop offset="0.0380" stop-color="#5dffa2"/><stop offset="0.0804" stop-color="#80ff80"/><stop offset="0.1229" stop-color="#80ff80"/><stop offset="0.1653" stop-color="#a2ff5e"/><stop offset="0.2078" stop-color="#a2ff5e"/><stop offset="0.2502" stop-color="#c4ff3b"/><stop offset="0.2927" stop-color="#c4ff3b"/><stop offset="0.3351" stop-color="#e6ff19"/><stop offset="0.3776" stop-color="#fff700"/><stop offset="0.4200" stop-color="#ffd500"/><stop offset="0.4624" stop-color="#ffb200"/><stop offset="0.5049" stop-color="#fff700"/><stop offset="0.5473" stop-color="#c4ff3b"/><stop offset="0.5898" stop-color="#a2ff5e"/><stop offset="0.6322" stop-color="#a2ff5e"/><stop offset="0.6747" stop-color="#a2ff5e"/><stop offset="0.7171" stop-color="#c4ff3b"/><stop offset="0.7596" stop-color="#e6ff19"/><stop offset="0.8020" stop-color="#ffd500"/><stop offset="0.8445" stop-color="#ffd500"/><stop offset="0.8869" stop-color="#ffd500"/><stop offset="0.9294" stop-color="#ffd500"/><stop offset="0.9718" stop-color="#ffd500"/><stop offset="1.0143" stop-color="#ffd500"/></linearGradient>
<rect x="102.8" y="622.92" width="286.0" height="45.80" fill="url(#g44)"/>
<linearGradient id="g45" gradientUnits="objectBoundingBox" x1="0" x2="1" y1="0" y2="0"><stop offset="-0.0045" stop-color="#5dffa2"/><stop offset="0.0380" stop-color="#5dffa2"/><stop offset="0.0804" stop-color="#80ff80"/><stop offset="0.1229" stop-color="#80ff80"/><stop offset="0.1653" stop-color="#a2ff5e"/><stop offset="0.2078" stop-color="#a2ff5e"/><stop offset="0.2502" stop-color="#c4ff3b"/><stop offset="0.2927" stop-color="#a2ff5e"/><stop offset="0.3351" stop-color="#e6ff19"/><stop offset="0.3776" stop-color="#ffd500"/><stop offset="0.4200" stop-color="#ffd500"/><stop offset="0.4624" stop-color="#ffb200"/><stop offset="0.5049" stop-color="#fff700"/><stop offset="0.5473" stop-color="#c4ff3b"/><stop offset="0.5898" stop-color="#c4ff3b"/><stop offset="0.6322" stop-color="#80ff80"/><stop offset="0.6747" stop-color="#5dffa2"/><stop offset="0.7171" stop-color="#a2ff5e"/><stop offset="0.7596" stop-color="#c4ff3b"/><stop offset="0.8020" stop-color="#fff700"/><stop offset="0.8445" stop-color="#ff9000"/><stop offset="0.8869" stop-color="#ffd500"/><stop offset="0.9294" stop-color="#ffb200"/><stop offset="0.9718" stop-color="#ff9000"/><stop offset="1.0143" stop-color="#ffb200"/></linearGradient>
<rect x="102.8" y="667.53" width="286.0" height="21.77" fill="url(#g45)"/>
<rect x="102.8" y="512.3" width="286.0" height="177.0" fill="none" stroke="#7a7a7a" stroke-width="1"/>
<line x1="125.8" y1="513.8" x2="125.8" y2="689.3" stroke="#4a3f48" stroke-opacity="0.7" stroke-width="1" stroke-dasharray="1.7,1.66"/>
<line x1="99.3" y1="516.5" x2="102.8" y2="516.5" stroke="#555" stroke-width="0.8"/>
<text x="97.1" y="521.1" font-size="13" text-anchor="end" fill="#111" >20</text>
<line x1="99.3" y1="559.1" x2="102.8" y2="559.1" stroke="#555" stroke-width="0.8"/>
<text x="97.1" y="563.7" font-size="13" text-anchor="end" fill="#111" >16</text>
<line x1="99.3" y1="601.8" x2="102.8" y2="601.8" stroke="#555" stroke-width="0.8"/>
<text x="97.1" y="606.4" font-size="13" text-anchor="end" fill="#111" >12</text>
<line x1="99.3" y1="644.4" x2="102.8" y2="644.4" stroke="#555" stroke-width="0.8"/>
<text x="97.1" y="649.0" font-size="13" text-anchor="end" fill="#111" >8</text>
<line x1="99.3" y1="687.1" x2="102.8" y2="687.1" stroke="#555" stroke-width="0.8"/>
<text x="97.1" y="691.7" font-size="13" text-anchor="end" fill="#111" >4</text>
<line x1="99.3" y1="537.8" x2="102.8" y2="537.8" stroke="#555" stroke-width="0.8"/>
<line x1="99.3" y1="580.5" x2="102.8" y2="580.5" stroke="#555" stroke-width="0.8"/>
<line x1="99.3" y1="623.1" x2="102.8" y2="623.1" stroke="#555" stroke-width="0.8"/>
<line x1="99.3" y1="665.7" x2="102.8" y2="665.7" stroke="#555" stroke-width="0.8"/>
<text x="125.8" y="703.8" font-size="12.5" text-anchor="middle" fill="#111" >0</text>
<text x="186.5" y="703.8" font-size="12.5" text-anchor="middle" fill="#111" >100</text>
<text x="247.2" y="703.8" font-size="12.5" text-anchor="middle" fill="#111" >200</text>
<text x="307.9" y="703.8" font-size="12.5" text-anchor="middle" fill="#111" >300</text>
<text x="368.6" y="703.8" font-size="12.5" text-anchor="middle" fill="#111" >400</text>
<line x1="156.2" y1="689.3" x2="156.2" y2="687.3" stroke="#999" stroke-width="0.8"/>
<line x1="216.8" y1="689.3" x2="216.8" y2="687.3" stroke="#999" stroke-width="0.8"/>
<line x1="277.6" y1="689.3" x2="277.6" y2="687.3" stroke="#999" stroke-width="0.8"/>
<line x1="338.2" y1="689.3" x2="338.2" y2="687.3" stroke="#999" stroke-width="0.8"/>
</g>
<g>
<linearGradient id="g46" gradientUnits="objectBoundingBox" x1="0" x2="1" y1="0" y2="0"><stop offset="-0.0045" stop-color="#80ff80"/><stop offset="0.0380" stop-color="#5dffa2"/><stop offset="0.0804" stop-color="#a2ff5e"/><stop offset="0.1229" stop-color="#c4ff3b"/><stop offset="0.1653" stop-color="#c4ff3b"/><stop offset="0.2078" stop-color="#e6ff19"/><stop offset="0.2502" stop-color="#e6ff19"/><stop offset="0.2927" stop-color="#e6ff19"/><stop offset="0.3351" stop-color="#e6ff19"/><stop offset="0.3776" stop-color="#fff700"/><stop offset="0.4200" stop-color="#e6ff19"/><stop offset="0.4624" stop-color="#fff700"/><stop offset="0.5049" stop-color="#e6ff19"/><stop offset="0.5473" stop-color="#fff700"/><stop offset="0.5898" stop-color="#c4ff3b"/><stop offset="0.6322" stop-color="#a2ff5e"/><stop offset="0.6747" stop-color="#5dffa2"/><stop offset="0.7171" stop-color="#5dffa2"/><stop offset="0.7596" stop-color="#5dffa2"/><stop offset="0.8020" stop-color="#80ff80"/><stop offset="0.8445" stop-color="#a2ff5e"/><stop offset="0.8869" stop-color="#c4ff3b"/><stop offset="0.9294" stop-color="#c4ff3b"/><stop offset="0.9718" stop-color="#e6ff19"/><stop offset="1.0143" stop-color="#e6ff19"/></linearGradient>
<rect x="436.4" y="512.30" width="286.0" height="28.63" fill="url(#g46)"/>
<linearGradient id="g47" gradientUnits="objectBoundingBox" x1="0" x2="1" y1="0" y2="0"><stop offset="-0.0045" stop-color="#80ff80"/><stop offset="0.0380" stop-color="#5dffa2"/><stop offset="0.0804" stop-color="#5dffa2"/><stop offset="0.1229" stop-color="#5dffa2"/><stop offset="0.1653" stop-color="#80ff80"/><stop offset="0.2078" stop-color="#a2ff5e"/><stop offset="0.2502" stop-color="#e6ff19"/><stop offset="0.2927" stop-color="#fff700"/><stop offset="0.3351" stop-color="#fff700"/><stop offset="0.3776" stop-color="#e6ff19"/><stop offset="0.4200" stop-color="#c4ff3b"/><stop offset="0.4624" stop-color="#e6ff19"/><stop offset="0.5049" stop-color="#fff700"/><stop offset="0.5473" stop-color="#e6ff19"/><stop offset="0.5898" stop-color="#a2ff5e"/><stop offset="0.6322" stop-color="#3cffc3"/><stop offset="0.6747" stop-color="#00f7ff"/><stop offset="0.7171" stop-color="#00f7ff"/><stop offset="0.7596" stop-color="#00f7ff"/><stop offset="0.8020" stop-color="#1affe5"/><stop offset="0.8445" stop-color="#5dffa2"/><stop offset="0.8869" stop-color="#5dffa2"/><stop offset="0.9294" stop-color="#5dffa2"/><stop offset="0.9718" stop-color="#5dffa2"/><stop offset="1.0143" stop-color="#5dffa2"/></linearGradient>
<rect x="436.4" y="539.73" width="286.0" height="45.27" fill="url(#g47)"/>
<linearGradient id="g48" gradientUnits="objectBoundingBox" x1="0" x2="1" y1="0" y2="0"><stop offset="-0.0045" stop-color="#80ff80"/><stop offset="0.0380" stop-color="#5dffa2"/><stop offset="0.0804" stop-color="#3cffc3"/><stop offset="0.1229" stop-color="#3cffc3"/><stop offset="0.1653" stop-color="#3cffc3"/><stop offset="0.2078" stop-color="#5dffa2"/><stop offset="0.2502" stop-color="#c4ff3b"/><stop offset="0.2927" stop-color="#ffb200"/><stop offset="0.3351" stop-color="#ff9000"/><stop offset="0.3776" stop-color="#ffd500"/><stop offset="0.4200" stop-color="#fff700"/><stop offset="0.4624" stop-color="#fff700"/><stop offset="0.5049" stop-color="#fff700"/><stop offset="0.5473" stop-color="#ffd500"/><stop offset="0.5898" stop-color="#e6ff19"/><stop offset="0.6322" stop-color="#80ff80"/><stop offset="0.6747" stop-color="#5dffa2"/><stop offset="0.7171" stop-color="#5dffa2"/><stop offset="0.7596" stop-color="#5dffa2"/><stop offset="0.8020" stop-color="#3cffc3"/><stop offset="0.8445" stop-color="#5dffa2"/><stop offset="0.8869" stop-color="#5dffa2"/><stop offset="0.9294" stop-color="#80ff80"/><stop offset="0.9718" stop-color="#5dffa2"/><stop offset="1.0143" stop-color="#80ff80"/></linearGradient>
<rect x="436.4" y="583.81" width="286.0" height="40.32" fill="url(#g48)"/>
<linearGradient id="g49" gradientUnits="objectBoundingBox" x1="0" x2="1" y1="0" y2="0"><stop offset="-0.0045" stop-color="#80ff80"/><stop offset="0.0380" stop-color="#5dffa2"/><stop offset="0.0804" stop-color="#3cffc3"/><stop offset="0.1229" stop-color="#3cffc3"/><stop offset="0.1653" stop-color="#3cffc3"/><stop offset="0.2078" stop-color="#5dffa2"/><stop offset="0.2502" stop-color="#c4ff3b"/><stop offset="0.2927" stop-color="#ff9000"/><stop offset="0.3351" stop-color="#ff9000"/><stop offset="0.3776" stop-color="#ffb200"/><stop offset="0.4200" stop-color="#ffd500"/><stop offset="0.4624" stop-color="#ffd500"/><stop offset="0.5049" stop-color="#ffb200"/><stop offset="0.5473" stop-color="#ffd500"/><stop offset="0.5898" stop-color="#fff700"/><stop offset="0.6322" stop-color="#c4ff3b"/><stop offset="0.6747" stop-color="#c4ff3b"/><stop offset="0.7171" stop-color="#c4ff3b"/><stop offset="0.7596" stop-color="#a2ff5e"/><stop offset="0.8020" stop-color="#80ff80"/><stop offset="0.8445" stop-color="#80ff80"/><stop offset="0.8869" stop-color="#a2ff5e"/><stop offset="0.9294" stop-color="#a2ff5e"/><stop offset="0.9718" stop-color="#c4ff3b"/><stop offset="1.0143" stop-color="#c4ff3b"/></linearGradient>
<rect x="436.4" y="622.92" width="286.0" height="45.80" fill="url(#g49)"/>
<linearGradient id="g50" gradientUnits="objectBoundingBox" x1="0" x2="1" y1="0" y2="0"><stop offset="-0.0045" stop-color="#80ff80"/><stop offset="0.0380" stop-color="#5dffa2"/><stop offset="0.0804" stop-color="#1affe5"/><stop offset="0.1229" stop-color="#1affe5"/><stop offset="0.1653" stop-color="#1affe5"/><stop offset="0.2078" stop-color="#80ff80"/><stop offset="0.2502" stop-color="#e6ff19"/><stop offset="0.2927" stop-color="#fff700"/><stop offset="0.3351" stop-color="#ff9000"/><stop offset="0.3776" stop-color="#ffd500"/><stop offset="0.4200" stop-color="#fff700"/><stop offset="0.4624" stop-color="#fff700"/><stop offset="0.5049" stop-color="#ffd500"/><stop offset="0.5473" stop-color="#fff700"/><stop offset="0.5898" stop-color="#fff700"/><stop offset="0.6322" stop-color="#fff700"/><stop offset="0.6747" stop-color="#c4ff3b"/><stop offset="0.7171" stop-color="#80ff80"/><stop offset="0.7596" stop-color="#a2ff5e"/><stop offset="0.8020" stop-color="#a2ff5e"/><stop offset="0.8445" stop-color="#5dffa2"/><stop offset="0.8869" stop-color="#80ff80"/><stop offset="0.9294" stop-color="#a2ff5e"/><stop offset="0.9718" stop-color="#c4ff3b"/><stop offset="1.0143" stop-color="#a2ff5e"/></linearGradient>
<rect x="436.4" y="667.53" width="286.0" height="21.77" fill="url(#g50)"/>
<rect x="436.4" y="512.3" width="286.0" height="177.0" fill="none" stroke="#7a7a7a" stroke-width="1"/>
<line x1="459.4" y1="513.8" x2="459.4" y2="689.3" stroke="#4a3f48" stroke-opacity="0.7" stroke-width="1" stroke-dasharray="1.7,1.66"/>
<line x1="432.9" y1="516.5" x2="436.4" y2="516.5" stroke="#555" stroke-width="0.8"/>
<text x="430.7" y="521.1" font-size="13" text-anchor="end" fill="#111" >20</text>
<line x1="432.9" y1="559.1" x2="436.4" y2="559.1" stroke="#555" stroke-width="0.8"/>
<text x="430.7" y="563.7" font-size="13" text-anchor="end" fill="#111" >16</text>
<line x1="432.9" y1="601.8" x2="436.4" y2="601.8" stroke="#555" stroke-width="0.8"/>
<text x="430.7" y="606.4" font-size="13" text-anchor="end" fill="#111" >12</text>
<line x1="432.9" y1="644.4" x2="436.4" y2="644.4" stroke="#555" stroke-width="0.8"/>
<text x="430.7" y="649.0" font-size="13" text-anchor="end" fill="#111" >8</text>
<line x1="432.9" y1="687.1" x2="436.4" y2="687.1" stroke="#555" stroke-width="0.8"/>
<text x="430.7" y="691.7" font-size="13" text-anchor="end" fill="#111" >4</text>
<line x1="432.9" y1="537.8" x2="436.4" y2="537.8" stroke="#555" stroke-width="0.8"/>
<line x1="432.9" y1="580.5" x2="436.4" y2="580.5" stroke="#555" stroke-width="0.8"/>
<line x1="432.9" y1="623.1" x2="436.4" y2="623.1" stroke="#555" stroke-width="0.8"/>
<line x1="432.9" y1="665.7" x2="436.4" y2="665.7" stroke="#555" stroke-width="0.8"/>
<text x="459.4" y="703.8" font-size="12.5" text-anchor="middle" fill="#111" >0</text>
<text x="520.1" y="703.8" font-size="12.5" text-anchor="middle" fill="#111" >100</text>
<text x="580.8" y="703.8" font-size="12.5" text-anchor="middle" fill="#111" >200</text>
<text x="641.5" y="703.8" font-size="12.5" text-anchor="middle" fill="#111" >300</text>
<text x="702.2" y="703.8" font-size="12.5" text-anchor="middle" fill="#111" >400</text>
<line x1="489.8" y1="689.3" x2="489.8" y2="687.3" stroke="#999" stroke-width="0.8"/>
<line x1="550.4" y1="689.3" x2="550.4" y2="687.3" stroke="#999" stroke-width="0.8"/>
<line x1="611.1" y1="689.3" x2="611.1" y2="687.3" stroke="#999" stroke-width="0.8"/>
<line x1="671.8" y1="689.3" x2="671.8" y2="687.3" stroke="#999" stroke-width="0.8"/>
</g>
<g>
<linearGradient id="g51" gradientUnits="objectBoundingBox" x1="0" x2="1" y1="0" y2="0"><stop offset="-0.0045" stop-color="#80ff80"/><stop offset="0.0380" stop-color="#80ff80"/><stop offset="0.0804" stop-color="#80ff80"/><stop offset="0.1229" stop-color="#a2ff5e"/><stop offset="0.1653" stop-color="#c4ff3b"/><stop offset="0.2078" stop-color="#c4ff3b"/><stop offset="0.2502" stop-color="#80ff80"/><stop offset="0.2927" stop-color="#5dffa2"/><stop offset="0.3351" stop-color="#80ff80"/><stop offset="0.3776" stop-color="#80ff80"/><stop offset="0.4200" stop-color="#a2ff5e"/><stop offset="0.4624" stop-color="#c4ff3b"/><stop offset="0.5049" stop-color="#a2ff5e"/><stop offset="0.5473" stop-color="#80ff80"/><stop offset="0.5898" stop-color="#80ff80"/><stop offset="0.6322" stop-color="#a2ff5e"/><stop offset="0.6747" stop-color="#e6ff19"/><stop offset="0.7171" stop-color="#fff700"/><stop offset="0.7596" stop-color="#a2ff5e"/><stop offset="0.8020" stop-color="#80ff80"/><stop offset="0.8445" stop-color="#80ff80"/><stop offset="0.8869" stop-color="#a2ff5e"/><stop offset="0.9294" stop-color="#c4ff3b"/><stop offset="0.9718" stop-color="#c4ff3b"/><stop offset="1.0143" stop-color="#c4ff3b"/></linearGradient>
<rect x="769.5" y="512.30" width="286.0" height="28.63" fill="url(#g51)"/>
<linearGradient id="g52" gradientUnits="objectBoundingBox" x1="0" x2="1" y1="0" y2="0"><stop offset="-0.0045" stop-color="#80ff80"/><stop offset="0.0380" stop-color="#80ff80"/><stop offset="0.0804" stop-color="#5dffa2"/><stop offset="0.1229" stop-color="#5dffa2"/><stop offset="0.1653" stop-color="#a2ff5e"/><stop offset="0.2078" stop-color="#80ff80"/><stop offset="0.2502" stop-color="#5dffa2"/><stop offset="0.2927" stop-color="#3cffc3"/><stop offset="0.3351" stop-color="#5dffa2"/><stop offset="0.3776" stop-color="#80ff80"/><stop offset="0.4200" stop-color="#a2ff5e"/><stop offset="0.4624" stop-color="#c4ff3b"/><stop offset="0.5049" stop-color="#80ff80"/><stop offset="0.5473" stop-color="#5dffa2"/><stop offset="0.5898" stop-color="#5dffa2"/><stop offset="0.6322" stop-color="#a2ff5e"/><stop offset="0.6747" stop-color="#e6ff19"/><stop offset="0.7171" stop-color="#e6ff19"/><stop offset="0.7596" stop-color="#80ff80"/><stop offset="0.8020" stop-color="#5dffa2"/><stop offset="0.8445" stop-color="#3cffc3"/><stop offset="0.8869" stop-color="#3cffc3"/><stop offset="0.9294" stop-color="#3cffc3"/><stop offset="0.9718" stop-color="#1affe5"/><stop offset="1.0143" stop-color="#3cffc3"/></linearGradient>
<rect x="769.5" y="539.73" width="286.0" height="45.27" fill="url(#g52)"/>
<linearGradient id="g53" gradientUnits="objectBoundingBox" x1="0" x2="1" y1="0" y2="0"><stop offset="-0.0045" stop-color="#80ff80"/><stop offset="0.0380" stop-color="#80ff80"/><stop offset="0.0804" stop-color="#5dffa2"/><stop offset="0.1229" stop-color="#5dffa2"/><stop offset="0.1653" stop-color="#80ff80"/><stop offset="0.2078" stop-color="#5dffa2"/><stop offset="0.2502" stop-color="#5dffa2"/><stop offset="0.2927" stop-color="#80ff80"/><stop offset="0.3351" stop-color="#a2ff5e"/><stop offset="0.3776" stop-color="#80ff80"/><stop offset="0.4200" stop-color="#80ff80"/><stop offset="0.4624" stop-color="#80ff80"/><stop offset="0.5049" stop-color="#80ff80"/><stop offset="0.5473" stop-color="#80ff80"/><stop offset="0.5898" stop-color="#a2ff5e"/><stop offset="0.6322" stop-color="#e6ff19"/><stop offset="0.6747" stop-color="#ffd500"/><stop offset="0.7171" stop-color="#fff700"/><stop offset="0.7596" stop-color="#c4ff3b"/><stop offset="0.8020" stop-color="#a2ff5e"/><stop offset="0.8445" stop-color="#80ff80"/><stop offset="0.8869" stop-color="#80ff80"/><stop offset="0.9294" stop-color="#5dffa2"/><stop offset="0.9718" stop-color="#3cffc3"/><stop offset="1.0143" stop-color="#3cffc3"/></linearGradient>
<rect x="769.5" y="583.81" width="286.0" height="40.32" fill="url(#g53)"/>
<linearGradient id="g54" gradientUnits="objectBoundingBox" x1="0" x2="1" y1="0" y2="0"><stop offset="-0.0045" stop-color="#80ff80"/><stop offset="0.0380" stop-color="#5dffa2"/><stop offset="0.0804" stop-color="#5dffa2"/><stop offset="0.1229" stop-color="#3cffc3"/><stop offset="0.1653" stop-color="#5dffa2"/><stop offset="0.2078" stop-color="#5dffa2"/><stop offset="0.2502" stop-color="#80ff80"/><stop offset="0.2927" stop-color="#a2ff5e"/><stop offset="0.3351" stop-color="#c4ff3b"/><stop offset="0.3776" stop-color="#a2ff5e"/><stop offset="0.4200" stop-color="#80ff80"/><stop offset="0.4624" stop-color="#80ff80"/><stop offset="0.5049" stop-color="#80ff80"/><stop offset="0.5473" stop-color="#a2ff5e"/><stop offset="0.5898" stop-color="#c4ff3b"/><stop offset="0.6322" stop-color="#ffd500"/><stop offset="0.6747" stop-color="#ffb200"/><stop offset="0.7171" stop-color="#ffd500"/><stop offset="0.7596" stop-color="#fff700"/><stop offset="0.8020" stop-color="#c4ff3b"/><stop offset="0.8445" stop-color="#c4ff3b"/><stop offset="0.8869" stop-color="#a2ff5e"/><stop offset="0.9294" stop-color="#80ff80"/><stop offset="0.9718" stop-color="#5dffa2"/><stop offset="1.0143" stop-color="#5dffa2"/></linearGradient>
<rect x="769.5" y="622.92" width="286.0" height="45.80" fill="url(#g54)"/>
<linearGradient id="g55" gradientUnits="objectBoundingBox" x1="0" x2="1" y1="0" y2="0"><stop offset="-0.0045" stop-color="#80ff80"/><stop offset="0.0380" stop-color="#80ff80"/><stop offset="0.0804" stop-color="#5dffa2"/><stop offset="0.1229" stop-color="#5dffa2"/><stop offset="0.1653" stop-color="#3cffc3"/><stop offset="0.2078" stop-color="#5dffa2"/><stop offset="0.2502" stop-color="#a2ff5e"/><stop offset="0.2927" stop-color="#a2ff5e"/><stop offset="0.3351" stop-color="#c4ff3b"/><stop offset="0.3776" stop-color="#a2ff5e"/><stop offset="0.4200" stop-color="#80ff80"/><stop offset="0.4624" stop-color="#5dffa2"/><stop offset="0.5049" stop-color="#80ff80"/><stop offset="0.5473" stop-color="#a2ff5e"/><stop offset="0.5898" stop-color="#e6ff19"/><stop offset="0.6322" stop-color="#ffb200"/><stop offset="0.6747" stop-color="#fff700"/><stop offset="0.7171" stop-color="#ff9000"/><stop offset="0.7596" stop-color="#e6ff19"/><stop offset="0.8020" stop-color="#c4ff3b"/><stop offset="0.8445" stop-color="#e6ff19"/><stop offset="0.8869" stop-color="#c4ff3b"/><stop offset="0.9294" stop-color="#a2ff5e"/><stop offset="0.9718" stop-color="#80ff80"/><stop offset="1.0143" stop-color="#80ff80"/></linearGradient>
<rect x="769.5" y="667.53" width="286.0" height="21.77" fill="url(#g55)"/>
<rect x="769.5" y="512.3" width="286.0" height="177.0" fill="none" stroke="#7a7a7a" stroke-width="1"/>
<line x1="792.5" y1="513.8" x2="792.5" y2="689.3" stroke="#4a3f48" stroke-opacity="0.7" stroke-width="1" stroke-dasharray="1.7,1.66"/>
<line x1="766.0" y1="516.5" x2="769.5" y2="516.5" stroke="#555" stroke-width="0.8"/>
<text x="763.8" y="521.1" font-size="13" text-anchor="end" fill="#111" >20</text>
<line x1="766.0" y1="559.1" x2="769.5" y2="559.1" stroke="#555" stroke-width="0.8"/>
<text x="763.8" y="563.7" font-size="13" text-anchor="end" fill="#111" >16</text>
<line x1="766.0" y1="601.8" x2="769.5" y2="601.8" stroke="#555" stroke-width="0.8"/>
<text x="763.8" y="606.4" font-size="13" text-anchor="end" fill="#111" >12</text>
<line x1="766.0" y1="644.4" x2="769.5" y2="644.4" stroke="#555" stroke-width="0.8"/>
<text x="763.8" y="649.0" font-size="13" text-anchor="end" fill="#111" >8</text>
<line x1="766.0" y1="687.1" x2="769.5" y2="687.1" stroke="#555" stroke-width="0.8"/>
<text x="763.8" y="691.7" font-size="13" text-anchor="end" fill="#111" >4</text>
<line x1="766.0" y1="537.8" x2="769.5" y2="537.8" stroke="#555" stroke-width="0.8"/>
<line x1="766.0" y1="580.5" x2="769.5" y2="580.5" stroke="#555" stroke-width="0.8"/>
<line x1="766.0" y1="623.1" x2="769.5" y2="623.1" stroke="#555" stroke-width="0.8"/>
<line x1="766.0" y1="665.7" x2="769.5" y2="665.7" stroke="#555" stroke-width="0.8"/>
<text x="792.5" y="703.8" font-size="12.5" text-anchor="middle" fill="#111" >0</text>
<text x="853.2" y="703.8" font-size="12.5" text-anchor="middle" fill="#111" >100</text>
<text x="913.9" y="703.8" font-size="12.5" text-anchor="middle" fill="#111" >200</text>
<text x="974.6" y="703.8" font-size="12.5" text-anchor="middle" fill="#111" >300</text>
<text x="1035.3" y="703.8" font-size="12.5" text-anchor="middle" fill="#111" >400</text>
<line x1="822.9" y1="689.3" x2="822.9" y2="687.3" stroke="#999" stroke-width="0.8"/>
<line x1="883.5" y1="689.3" x2="883.5" y2="687.3" stroke="#999" stroke-width="0.8"/>
<line x1="944.2" y1="689.3" x2="944.2" y2="687.3" stroke="#999" stroke-width="0.8"/>
<line x1="1005.0" y1="689.3" x2="1005.0" y2="687.3" stroke="#999" stroke-width="0.8"/>
</g>
<g>
<linearGradient id="g56" gradientUnits="objectBoundingBox" x1="0" x2="1" y1="0" y2="0"><stop offset="-0.0045" stop-color="#80ff80"/><stop offset="0.0380" stop-color="#80ff80"/><stop offset="0.0804" stop-color="#80ff80"/><stop offset="0.1229" stop-color="#80ff80"/><stop offset="0.1653" stop-color="#80ff80"/><stop offset="0.2078" stop-color="#5dffa2"/><stop offset="0.2502" stop-color="#80ff80"/><stop offset="0.2927" stop-color="#a2ff5e"/><stop offset="0.3351" stop-color="#a2ff5e"/><stop offset="0.3776" stop-color="#a2ff5e"/><stop offset="0.4200" stop-color="#80ff80"/><stop offset="0.4624" stop-color="#5dffa2"/><stop offset="0.5049" stop-color="#80ff80"/><stop offset="0.5473" stop-color="#a2ff5e"/><stop offset="0.5898" stop-color="#a2ff5e"/><stop offset="0.6322" stop-color="#a2ff5e"/><stop offset="0.6747" stop-color="#a2ff5e"/><stop offset="0.7171" stop-color="#a2ff5e"/><stop offset="0.7596" stop-color="#c4ff3b"/><stop offset="0.8020" stop-color="#a2ff5e"/><stop offset="0.8445" stop-color="#5dffa2"/><stop offset="0.8869" stop-color="#80ff80"/><stop offset="0.9294" stop-color="#c4ff3b"/><stop offset="0.9718" stop-color="#ffb200"/><stop offset="1.0143" stop-color="#ffb200"/></linearGradient>
<rect x="1102.3" y="512.30" width="286.0" height="28.63" fill="url(#g56)"/>
<linearGradient id="g57" gradientUnits="objectBoundingBox" x1="0" x2="1" y1="0" y2="0"><stop offset="-0.0045" stop-color="#80ff80"/><stop offset="0.0380" stop-color="#80ff80"/><stop offset="0.0804" stop-color="#5dffa2"/><stop offset="0.1229" stop-color="#3cffc3"/><stop offset="0.1653" stop-color="#1affe5"/><stop offset="0.2078" stop-color="#3cffc3"/><stop offset="0.2502" stop-color="#5dffa2"/><stop offset="0.2927" stop-color="#80ff80"/><stop offset="0.3351" stop-color="#a2ff5e"/><stop offset="0.3776" stop-color="#a2ff5e"/><stop offset="0.4200" stop-color="#a2ff5e"/><stop offset="0.4624" stop-color="#80ff80"/><stop offset="0.5049" stop-color="#5dffa2"/><stop offset="0.5473" stop-color="#5dffa2"/><stop offset="0.5898" stop-color="#5dffa2"/><stop offset="0.6322" stop-color="#5dffa2"/><stop offset="0.6747" stop-color="#80ff80"/><stop offset="0.7171" stop-color="#a2ff5e"/><stop offset="0.7596" stop-color="#5dffa2"/><stop offset="0.8020" stop-color="#1affe5"/><stop offset="0.8445" stop-color="#1affe5"/><stop offset="0.8869" stop-color="#3cffc3"/><stop offset="0.9294" stop-color="#5dffa2"/><stop offset="0.9718" stop-color="#80ff80"/><stop offset="1.0143" stop-color="#80ff80"/></linearGradient>
<rect x="1102.3" y="539.73" width="286.0" height="45.27" fill="url(#g57)"/>
<linearGradient id="g58" gradientUnits="objectBoundingBox" x1="0" x2="1" y1="0" y2="0"><stop offset="-0.0045" stop-color="#80ff80"/><stop offset="0.0380" stop-color="#80ff80"/><stop offset="0.0804" stop-color="#5dffa2"/><stop offset="0.1229" stop-color="#3cffc3"/><stop offset="0.1653" stop-color="#3cffc3"/><stop offset="0.2078" stop-color="#5dffa2"/><stop offset="0.2502" stop-color="#80ff80"/><stop offset="0.2927" stop-color="#c4ff3b"/><stop offset="0.3351" stop-color="#c4ff3b"/><stop offset="0.3776" stop-color="#e6ff19"/><stop offset="0.4200" stop-color="#fff700"/><stop offset="0.4624" stop-color="#e6ff19"/><stop offset="0.5049" stop-color="#c4ff3b"/><stop offset="0.5473" stop-color="#a2ff5e"/><stop offset="0.5898" stop-color="#a2ff5e"/><stop offset="0.6322" stop-color="#a2ff5e"/><stop offset="0.6747" stop-color="#c4ff3b"/><stop offset="0.7171" stop-color="#c4ff3b"/><stop offset="0.7596" stop-color="#80ff80"/><stop offset="0.8020" stop-color="#80ff80"/><stop offset="0.8445" stop-color="#80ff80"/><stop offset="0.8869" stop-color="#80ff80"/><stop offset="0.9294" stop-color="#80ff80"/><stop offset="0.9718" stop-color="#80ff80"/><stop offset="1.0143" stop-color="#80ff80"/></linearGradient>
<rect x="1102.3" y="583.81" width="286.0" height="40.32" fill="url(#g58)"/>
<linearGradient id="g59" gradientUnits="objectBoundingBox" x1="0" x2="1" y1="0" y2="0"><stop offset="-0.0045" stop-color="#80ff80"/><stop offset="0.0380" stop-color="#80ff80"/><stop offset="0.0804" stop-color="#5dffa2"/><stop offset="0.1229" stop-color="#3cffc3"/><stop offset="0.1653" stop-color="#5dffa2"/><stop offset="0.2078" stop-color="#80ff80"/><stop offset="0.2502" stop-color="#c4ff3b"/><stop offset="0.2927" stop-color="#fff700"/><stop offset="0.3351" stop-color="#fff700"/><stop offset="0.3776" stop-color="#ffd500"/><stop offset="0.4200" stop-color="#ffb200"/><stop offset="0.4624" stop-color="#ffd500"/><stop offset="0.5049" stop-color="#fff700"/><stop offset="0.5473" stop-color="#e6ff19"/><stop offset="0.5898" stop-color="#e6ff19"/><stop offset="0.6322" stop-color="#e6ff19"/><stop offset="0.6747" stop-color="#fff700"/><stop offset="0.7171" stop-color="#e6ff19"/><stop offset="0.7596" stop-color="#e6ff19"/><stop offset="0.8020" stop-color="#c4ff3b"/><stop offset="0.8445" stop-color="#c4ff3b"/><stop offset="0.8869" stop-color="#c4ff3b"/><stop offset="0.9294" stop-color="#c4ff3b"/><stop offset="0.9718" stop-color="#c4ff3b"/><stop offset="1.0143" stop-color="#c4ff3b"/></linearGradient>
<rect x="1102.3" y="622.92" width="286.0" height="45.80" fill="url(#g59)"/>
<linearGradient id="g60" gradientUnits="objectBoundingBox" x1="0" x2="1" y1="0" y2="0"><stop offset="-0.0045" stop-color="#a2ff5e"/><stop offset="0.0380" stop-color="#80ff80"/><stop offset="0.0804" stop-color="#3cffc3"/><stop offset="0.1229" stop-color="#5dffa2"/><stop offset="0.1653" stop-color="#5dffa2"/><stop offset="0.2078" stop-color="#80ff80"/><stop offset="0.2502" stop-color="#a2ff5e"/><stop offset="0.2927" stop-color="#e6ff19"/><stop offset="0.3351" stop-color="#ffd500"/><stop offset="0.3776" stop-color="#ffb200"/><stop offset="0.4200" stop-color="#ffd500"/><stop offset="0.4624" stop-color="#ffd500"/><stop offset="0.5049" stop-color="#fff700"/><stop offset="0.5473" stop-color="#c4ff3b"/><stop offset="0.5898" stop-color="#ffd500"/><stop offset="0.6322" stop-color="#e6ff19"/><stop offset="0.6747" stop-color="#e6ff19"/><stop offset="0.7171" stop-color="#e6ff19"/><stop offset="0.7596" stop-color="#c4ff3b"/><stop offset="0.8020" stop-color="#c4ff3b"/><stop offset="0.8445" stop-color="#a2ff5e"/><stop offset="0.8869" stop-color="#a2ff5e"/><stop offset="0.9294" stop-color="#c4ff3b"/><stop offset="0.9718" stop-color="#c4ff3b"/><stop offset="1.0143" stop-color="#a2ff5e"/></linearGradient>
<rect x="1102.3" y="667.53" width="286.0" height="21.77" fill="url(#g60)"/>
<rect x="1102.3" y="512.3" width="286.0" height="177.0" fill="none" stroke="#7a7a7a" stroke-width="1"/>
<line x1="1125.3" y1="513.8" x2="1125.3" y2="689.3" stroke="#4a3f48" stroke-opacity="0.7" stroke-width="1" stroke-dasharray="1.7,1.66"/>
<line x1="1098.8" y1="516.5" x2="1102.3" y2="516.5" stroke="#555" stroke-width="0.8"/>
<text x="1096.6" y="521.1" font-size="13" text-anchor="end" fill="#111" >20</text>
<line x1="1098.8" y1="559.1" x2="1102.3" y2="559.1" stroke="#555" stroke-width="0.8"/>
<text x="1096.6" y="563.7" font-size="13" text-anchor="end" fill="#111" >16</text>
<line x1="1098.8" y1="601.8" x2="1102.3" y2="601.8" stroke="#555" stroke-width="0.8"/>
<text x="1096.6" y="606.4" font-size="13" text-anchor="end" fill="#111" >12</text>
<line x1="1098.8" y1="644.4" x2="1102.3" y2="644.4" stroke="#555" stroke-width="0.8"/>
<text x="1096.6" y="649.0" font-size="13" text-anchor="end" fill="#111" >8</text>
<line x1="1098.8" y1="687.1" x2="1102.3" y2="687.1" stroke="#555" stroke-width="0.8"/>
<text x="1096.6" y="691.7" font-size="13" text-anchor="end" fill="#111" >4</text>
<line x1="1098.8" y1="537.8" x2="1102.3" y2="537.8" stroke="#555" stroke-width="0.8"/>
<line x1="1098.8" y1="580.5" x2="1102.3" y2="580.5" stroke="#555" stroke-width="0.8"/>
<line x1="1098.8" y1="623.1" x2="1102.3" y2="623.1" stroke="#555" stroke-width="0.8"/>
<line x1="1098.8" y1="665.7" x2="1102.3" y2="665.7" stroke="#555" stroke-width="0.8"/>
<text x="1125.3" y="703.8" font-size="12.5" text-anchor="middle" fill="#111" >0</text>
<text x="1186.0" y="703.8" font-size="12.5" text-anchor="middle" fill="#111" >100</text>
<text x="1246.7" y="703.8" font-size="12.5" text-anchor="middle" fill="#111" >200</text>
<text x="1307.4" y="703.8" font-size="12.5" text-anchor="middle" fill="#111" >300</text>
<text x="1368.1" y="703.8" font-size="12.5" text-anchor="middle" fill="#111" >400</text>
<line x1="1155.6" y1="689.3" x2="1155.6" y2="687.3" stroke="#999" stroke-width="0.8"/>
<line x1="1216.3" y1="689.3" x2="1216.3" y2="687.3" stroke="#999" stroke-width="0.8"/>
<line x1="1277.0" y1="689.3" x2="1277.0" y2="687.3" stroke="#999" stroke-width="0.8"/>
<line x1="1337.8" y1="689.3" x2="1337.8" y2="687.3" stroke="#999" stroke-width="0.8"/>
</g>
<text x="31.5" y="602.3" font-size="26.5" text-anchor="middle" transform="rotate(-90 31.5 602.3)" >30 mg</text>
<text x="65.2" y="147.0" font-size="17" text-anchor="middle" textLength="119" lengthAdjust="spacingAndGlyphs" transform="rotate(-90 65.2 147.0)" >Frequency (Hz)</text>
<text x="248.0" y="270.4" font-size="17" text-anchor="middle" textLength="77" lengthAdjust="spacingAndGlyphs" >Time (ms)</text>
<text x="5.0" y="755.7" font-size="30" text-anchor="start" font-weight="bold" textLength="21.5" lengthAdjust="spacingAndGlyphs" >B</text>
<text x="237.8" y="764.5" font-size="26.5" text-anchor="middle" textLength="106" lengthAdjust="spacingAndGlyphs" >Standard</text>
<text x="571.5" y="764.0" font-size="26.5" text-anchor="middle" textLength="121.6" lengthAdjust="spacingAndGlyphs" >Frequency</text>
<text x="908.0" y="767.1" font-size="26.5" text-anchor="middle" textLength="102" lengthAdjust="spacingAndGlyphs" >Duration</text>
<text x="1245.3" y="766.0" font-size="26.5" text-anchor="middle" textLength="231.8" lengthAdjust="spacingAndGlyphs" >Frequency-duration</text>
<g>
<linearGradient id="g61" gradientUnits="objectBoundingBox" x1="0" x2="1" y1="0" y2="0"><stop offset="-0.0045" stop-color="#80ff80"/><stop offset="0.0380" stop-color="#80ff80"/><stop offset="0.0804" stop-color="#80ff80"/><stop offset="0.1229" stop-color="#a2ff5e"/><stop offset="0.1653" stop-color="#c4ff3b"/><stop offset="0.2078" stop-color="#c4ff3b"/><stop offset="0.2502" stop-color="#c4ff3b"/><stop offset="0.2927" stop-color="#a2ff5e"/><stop offset="0.3351" stop-color="#a2ff5e"/><stop offset="0.3776" stop-color="#e6ff19"/><stop offset="0.4200" stop-color="#a2ff5e"/><stop offset="0.4624" stop-color="#80ff80"/><stop offset="0.5049" stop-color="#5dffa2"/><stop offset="0.5473" stop-color="#5dffa2"/><stop offset="0.5898" stop-color="#5dffa2"/><stop offset="0.6322" stop-color="#5dffa2"/><stop offset="0.6747" stop-color="#a2ff5e"/><stop offset="0.7171" stop-color="#c4ff3b"/><stop offset="0.7596" stop-color="#a2ff5e"/><stop offset="0.8020" stop-color="#80ff80"/><stop offset="0.8445" stop-color="#e6ff19"/><stop offset="0.8869" stop-color="#ffd500"/><stop offset="0.9294" stop-color="#ffd500"/><stop offset="0.9718" stop-color="#fff700"/><stop offset="1.0143" stop-color="#fff700"/></linearGradient>
<rect x="101.2" y="787.80" width="286.0" height="28.63" fill="url(#g61)"/>
<linearGradient id="g62" gradientUnits="objectBoundingBox" x1="0" x2="1" y1="0" y2="0"><stop offset="-0.0045" stop-color="#80ff80"/><stop offset="0.0380" stop-color="#80ff80"/><stop offset="0.0804" stop-color="#80ff80"/><stop offset="0.1229" stop-color="#a2ff5e"/><stop offset="0.1653" stop-color="#c4ff3b"/><stop offset="0.2078" stop-color="#c4ff3b"/><stop offset="0.2502" stop-color="#c4ff3b"/><stop offset="0.2927" stop-color="#c4ff3b"/><stop offset="0.3351" stop-color="#e6ff19"/><stop offset="0.3776" stop-color="#ffd500"/><stop offset="0.4200" stop-color="#fff700"/><stop offset="0.4624" stop-color="#80ff80"/><stop offset="0.5049" stop-color="#3cffc3"/><stop offset="0.5473" stop-color="#3cffc3"/><stop offset="0.5898" stop-color="#5dffa2"/><stop offset="0.6322" stop-color="#5dffa2"/><stop offset="0.6747" stop-color="#5dffa2"/><stop offset="0.7171" stop-color="#5dffa2"/><stop offset="0.7596" stop-color="#3cffc3"/><stop offset="0.8020" stop-color="#3cffc3"/><stop offset="0.8445" stop-color="#a2ff5e"/><stop offset="0.8869" stop-color="#fff700"/><stop offset="0.9294" stop-color="#e6ff19"/><stop offset="0.9718" stop-color="#c4ff3b"/><stop offset="1.0143" stop-color="#c4ff3b"/></linearGradient>
<rect x="101.2" y="815.23" width="286.0" height="45.27" fill="url(#g62)"/>
<linearGradient id="g63" gradientUnits="objectBoundingBox" x1="0" x2="1" y1="0" y2="0"><stop offset="-0.0045" stop-color="#80ff80"/><stop offset="0.0380" stop-color="#5dffa2"/><stop offset="0.0804" stop-color="#3cffc3"/><stop offset="0.1229" stop-color="#5dffa2"/><stop offset="0.1653" stop-color="#80ff80"/><stop offset="0.2078" stop-color="#a2ff5e"/><stop offset="0.2502" stop-color="#fff700"/><stop offset="0.2927" stop-color="#ffb200"/><stop offset="0.3351" stop-color="#ff9000"/><stop offset="0.3776" stop-color="#ff9000"/><stop offset="0.4200" stop-color="#fff700"/><stop offset="0.4624" stop-color="#a2ff5e"/><stop offset="0.5049" stop-color="#80ff80"/><stop offset="0.5473" stop-color="#a2ff5e"/><stop offset="0.5898" stop-color="#a2ff5e"/><stop offset="0.6322" stop-color="#a2ff5e"/><stop offset="0.6747" stop-color="#c4ff3b"/><stop offset="0.7171" stop-color="#c4ff3b"/><stop offset="0.7596" stop-color="#a2ff5e"/><stop offset="0.8020" stop-color="#5dffa2"/><stop offset="0.8445" stop-color="#80ff80"/><stop offset="0.8869" stop-color="#a2ff5e"/><stop offset="0.9294" stop-color="#c4ff3b"/><stop offset="0.9718" stop-color="#c4ff3b"/><stop offset="1.0143" stop-color="#c4ff3b"/></linearGradient>
<rect x="101.2" y="859.31" width="286.0" height="40.32" fill="url(#g63)"/>
<linearGradient id="g64" gradientUnits="objectBoundingBox" x1="0" x2="1" y1="0" y2="0"><stop offset="-0.0045" stop-color="#80ff80"/><stop offset="0.0380" stop-color="#80ff80"/><stop offset="0.0804" stop-color="#5dffa2"/><stop offset="0.1229" stop-color="#5dffa2"/><stop offset="0.1653" stop-color="#80ff80"/><stop offset="0.2078" stop-color="#a2ff5e"/><stop offset="0.2502" stop-color="#fff700"/><stop offset="0.2927" stop-color="#ff9000"/><stop offset="0.3351" stop-color="#ff6e00"/><stop offset="0.3776" stop-color="#ff9000"/><stop offset="0.4200" stop-color="#fff700"/><stop offset="0.4624" stop-color="#e6ff19"/><stop offset="0.5049" stop-color="#e6ff19"/><stop offset="0.5473" stop-color="#e6ff19"/><stop offset="0.5898" stop-color="#e6ff19"/><stop offset="0.6322" stop-color="#e6ff19"/><stop offset="0.6747" stop-color="#e6ff19"/><stop offset="0.7171" stop-color="#e6ff19"/><stop offset="0.7596" stop-color="#c4ff3b"/><stop offset="0.8020" stop-color="#80ff80"/><stop offset="0.8445" stop-color="#80ff80"/><stop offset="0.8869" stop-color="#a2ff5e"/><stop offset="0.9294" stop-color="#a2ff5e"/><stop offset="0.9718" stop-color="#a2ff5e"/><stop offset="1.0143" stop-color="#a2ff5e"/></linearGradient>
<rect x="101.2" y="898.42" width="286.0" height="45.80" fill="url(#g64)"/>
<linearGradient id="g65" gradientUnits="objectBoundingBox" x1="0" x2="1" y1="0" y2="0"><stop offset="-0.0045" stop-color="#80ff80"/><stop offset="0.0380" stop-color="#5dffa2"/><stop offset="0.0804" stop-color="#5dffa2"/><stop offset="0.1229" stop-color="#5dffa2"/><stop offset="0.1653" stop-color="#80ff80"/><stop offset="0.2078" stop-color="#c4ff3b"/><stop offset="0.2502" stop-color="#fff700"/><stop offset="0.2927" stop-color="#ff6e00"/><stop offset="0.3351" stop-color="#ff6e00"/><stop offset="0.3776" stop-color="#ff6e00"/><stop offset="0.4200" stop-color="#ffd500"/><stop offset="0.4624" stop-color="#ffd500"/><stop offset="0.5049" stop-color="#e6ff19"/><stop offset="0.5473" stop-color="#c4ff3b"/><stop offset="0.5898" stop-color="#e6ff19"/><stop offset="0.6322" stop-color="#e6ff19"/><stop offset="0.6747" stop-color="#fff700"/><stop offset="0.7171" stop-color="#c4ff3b"/><stop offset="0.7596" stop-color="#c4ff3b"/><stop offset="0.8020" stop-color="#a2ff5e"/><stop offset="0.8445" stop-color="#a2ff5e"/><stop offset="0.8869" stop-color="#80ff80"/><stop offset="0.9294" stop-color="#c4ff3b"/><stop offset="0.9718" stop-color="#e6ff19"/><stop offset="1.0143" stop-color="#e6ff19"/></linearGradient>
<rect x="101.2" y="943.03" width="286.0" height="21.77" fill="url(#g65)"/>
<rect x="101.2" y="787.8" width="286.0" height="177.0" fill="none" stroke="#7a7a7a" stroke-width="1"/>
<line x1="124.2" y1="789.3" x2="124.2" y2="964.8" stroke="#4a3f48" stroke-opacity="0.7" stroke-width="1" stroke-dasharray="1.7,1.66"/>
<line x1="97.7" y1="789.6" x2="101.2" y2="789.6" stroke="#555" stroke-width="0.8"/>
<text x="95.5" y="794.2" font-size="13" text-anchor="end" fill="#111" >20</text>
<line x1="97.7" y1="832.8" x2="101.2" y2="832.8" stroke="#555" stroke-width="0.8"/>
<text x="95.5" y="837.4" font-size="13" text-anchor="end" fill="#111" >16</text>
<line x1="97.7" y1="876.0" x2="101.2" y2="876.0" stroke="#555" stroke-width="0.8"/>
<text x="95.5" y="880.6" font-size="13" text-anchor="end" fill="#111" >12</text>
<line x1="97.7" y1="919.2" x2="101.2" y2="919.2" stroke="#555" stroke-width="0.8"/>
<text x="95.5" y="923.8" font-size="13" text-anchor="end" fill="#111" >8</text>
<line x1="97.7" y1="962.4" x2="101.2" y2="962.4" stroke="#555" stroke-width="0.8"/>
<text x="95.5" y="967.0" font-size="13" text-anchor="end" fill="#111" >4</text>
<line x1="97.7" y1="811.2" x2="101.2" y2="811.2" stroke="#555" stroke-width="0.8"/>
<line x1="97.7" y1="854.4" x2="101.2" y2="854.4" stroke="#555" stroke-width="0.8"/>
<line x1="97.7" y1="897.6" x2="101.2" y2="897.6" stroke="#555" stroke-width="0.8"/>
<line x1="97.7" y1="940.8" x2="101.2" y2="940.8" stroke="#555" stroke-width="0.8"/>
<text x="124.2" y="979.3" font-size="12.5" text-anchor="middle" fill="#111" >0</text>
<text x="184.9" y="979.3" font-size="12.5" text-anchor="middle" fill="#111" >100</text>
<text x="245.6" y="979.3" font-size="12.5" text-anchor="middle" fill="#111" >200</text>
<text x="306.3" y="979.3" font-size="12.5" text-anchor="middle" fill="#111" >300</text>
<text x="367.0" y="979.3" font-size="12.5" text-anchor="middle" fill="#111" >400</text>
<line x1="154.6" y1="964.8" x2="154.6" y2="962.8" stroke="#999" stroke-width="0.8"/>
<line x1="215.2" y1="964.8" x2="215.2" y2="962.8" stroke="#999" stroke-width="0.8"/>
<line x1="275.9" y1="964.8" x2="275.9" y2="962.8" stroke="#999" stroke-width="0.8"/>
<line x1="336.6" y1="964.8" x2="336.6" y2="962.8" stroke="#999" stroke-width="0.8"/>
</g>
<g>
<linearGradient id="g66" gradientUnits="objectBoundingBox" x1="0" x2="1" y1="0" y2="0"><stop offset="-0.0045" stop-color="#80ff80"/><stop offset="0.0380" stop-color="#80ff80"/><stop offset="0.0804" stop-color="#3cffc3"/><stop offset="0.1229" stop-color="#00f7ff"/><stop offset="0.1653" stop-color="#1affe5"/><stop offset="0.2078" stop-color="#5dffa2"/><stop offset="0.2502" stop-color="#80ff80"/><stop offset="0.2927" stop-color="#a2ff5e"/><stop offset="0.3351" stop-color="#c4ff3b"/><stop offset="0.3776" stop-color="#fff700"/><stop offset="0.4200" stop-color="#c4ff3b"/><stop offset="0.4624" stop-color="#a2ff5e"/><stop offset="0.5049" stop-color="#5dffa2"/><stop offset="0.5473" stop-color="#00f7ff"/><stop offset="0.5898" stop-color="#00b2ff"/><stop offset="0.6322" stop-color="#00f7ff"/><stop offset="0.6747" stop-color="#5dffa2"/><stop offset="0.7171" stop-color="#5dffa2"/><stop offset="0.7596" stop-color="#5dffa2"/><stop offset="0.8020" stop-color="#80ff80"/><stop offset="0.8445" stop-color="#a2ff5e"/><stop offset="0.8869" stop-color="#a2ff5e"/><stop offset="0.9294" stop-color="#c4ff3b"/><stop offset="0.9718" stop-color="#c4ff3b"/><stop offset="1.0143" stop-color="#c4ff3b"/></linearGradient>
<rect x="435.0" y="787.80" width="286.0" height="28.63" fill="url(#g66)"/>
<linearGradient id="g67" gradientUnits="objectBoundingBox" x1="0" x2="1" y1="0" y2="0"><stop offset="-0.0045" stop-color="#80ff80"/><stop offset="0.0380" stop-color="#80ff80"/><stop offset="0.0804" stop-color="#3cffc3"/><stop offset="0.1229" stop-color="#00f7ff"/><stop offset="0.1653" stop-color="#1affe5"/><stop offset="0.2078" stop-color="#80ff80"/><stop offset="0.2502" stop-color="#c4ff3b"/><stop offset="0.2927" stop-color="#c4ff3b"/><stop offset="0.3351" stop-color="#c4ff3b"/><stop offset="0.3776" stop-color="#fff700"/><stop offset="0.4200" stop-color="#ffd500"/><stop offset="0.4624" stop-color="#c4ff3b"/><stop offset="0.5049" stop-color="#80ff80"/><stop offset="0.5473" stop-color="#5dffa2"/><stop offset="0.5898" stop-color="#3cffc3"/><stop offset="0.6322" stop-color="#5dffa2"/><stop offset="0.6747" stop-color="#a2ff5e"/><stop offset="0.7171" stop-color="#3cffc3"/><stop offset="0.7596" stop-color="#00f7ff"/><stop offset="0.8020" stop-color="#3cffc3"/><stop offset="0.8445" stop-color="#5dffa2"/><stop offset="0.8869" stop-color="#5dffa2"/><stop offset="0.9294" stop-color="#5dffa2"/><stop offset="0.9718" stop-color="#5dffa2"/><stop offset="1.0143" stop-color="#5dffa2"/></linearGradient>
<rect x="435.0" y="815.23" width="286.0" height="45.27" fill="url(#g67)"/>
<linearGradient id="g68" gradientUnits="objectBoundingBox" x1="0" x2="1" y1="0" y2="0"><stop offset="-0.0045" stop-color="#80ff80"/><stop offset="0.0380" stop-color="#5dffa2"/><stop offset="0.0804" stop-color="#3cffc3"/><stop offset="0.1229" stop-color="#3cffc3"/><stop offset="0.1653" stop-color="#3cffc3"/><stop offset="0.2078" stop-color="#5dffa2"/><stop offset="0.2502" stop-color="#fff700"/><stop offset="0.2927" stop-color="#ffb200"/><stop offset="0.3351" stop-color="#ffb200"/><stop offset="0.3776" stop-color="#ffb200"/><stop offset="0.4200" stop-color="#ffd500"/><stop offset="0.4624" stop-color="#fff700"/><stop offset="0.5049" stop-color="#fff700"/><stop offset="0.5473" stop-color="#e6ff19"/><stop offset="0.5898" stop-color="#e6ff19"/><stop offset="0.6322" stop-color="#fff700"/><stop offset="0.6747" stop-color="#ffb200"/><stop offset="0.7171" stop-color="#fff700"/><stop offset="0.7596" stop-color="#a2ff5e"/><stop offset="0.8020" stop-color="#80ff80"/><stop offset="0.8445" stop-color="#80ff80"/><stop offset="0.8869" stop-color="#80ff80"/><stop offset="0.9294" stop-color="#5dffa2"/><stop offset="0.9718" stop-color="#5dffa2"/><stop offset="1.0143" stop-color="#5dffa2"/></linearGradient>
<rect x="435.0" y="859.31" width="286.0" height="40.32" fill="url(#g68)"/>
<linearGradient id="g69" gradientUnits="objectBoundingBox" x1="0" x2="1" y1="0" y2="0"><stop offset="-0.0045" stop-color="#80ff80"/><stop offset="0.0380" stop-color="#80ff80"/><stop offset="0.0804" stop-color="#5dffa2"/><stop offset="0.1229" stop-color="#5dffa2"/><stop offset="0.1653" stop-color="#5dffa2"/><stop offset="0.2078" stop-color="#80ff80"/><stop offset="0.2502" stop-color="#ffd500"/><stop offset="0.2927" stop-color="#ff6e00"/><stop offset="0.3351" stop-color="#ff6e00"/><stop offset="0.3776" stop-color="#ff9000"/><stop offset="0.4200" stop-color="#ffb200"/><stop offset="0.4624" stop-color="#ffb200"/><stop offset="0.5049" stop-color="#ff9000"/><stop offset="0.5473" stop-color="#ff9000"/><stop offset="0.5898" stop-color="#ff9000"/><stop offset="0.6322" stop-color="#ff9000"/><stop offset="0.6747" stop-color="#ff6e00"/><stop offset="0.7171" stop-color="#ff6e00"/><stop offset="0.7596" stop-color="#ffd500"/><stop offset="0.8020" stop-color="#e6ff19"/><stop offset="0.8445" stop-color="#e6ff19"/><stop offset="0.8869" stop-color="#e6ff19"/><stop offset="0.9294" stop-color="#e6ff19"/><stop offset="0.9718" stop-color="#e6ff19"/><stop offset="1.0143" stop-color="#c4ff3b"/></linearGradient>
<rect x="435.0" y="898.42" width="286.0" height="45.80" fill="url(#g69)"/>
<linearGradient id="g70" gradientUnits="objectBoundingBox" x1="0" x2="1" y1="0" y2="0"><stop offset="-0.0045" stop-color="#80ff80"/><stop offset="0.0380" stop-color="#80ff80"/><stop offset="0.0804" stop-color="#5dffa2"/><stop offset="0.1229" stop-color="#5dffa2"/><stop offset="0.1653" stop-color="#80ff80"/><stop offset="0.2078" stop-color="#a2ff5e"/><stop offset="0.2502" stop-color="#fff700"/><stop offset="0.2927" stop-color="#ffb200"/><stop offset="0.3351" stop-color="#ff4d00"/><stop offset="0.3776" stop-color="#ff9000"/><stop offset="0.4200" stop-color="#ffb200"/><stop offset="0.4624" stop-color="#ffb200"/><stop offset="0.5049" stop-color="#ff6e00"/><stop offset="0.5473" stop-color="#ff6e00"/><stop offset="0.5898" stop-color="#ff4d00"/><stop offset="0.6322" stop-color="#ff2a00"/><stop offset="0.6747" stop-color="#ff6e00"/><stop offset="0.7171" stop-color="#ff9000"/><stop offset="0.7596" stop-color="#ffb200"/><stop offset="0.8020" stop-color="#ffb200"/><stop offset="0.8445" stop-color="#e6ff19"/><stop offset="0.8869" stop-color="#c4ff3b"/><stop offset="0.9294" stop-color="#e6ff19"/><stop offset="0.9718" stop-color="#e6ff19"/><stop offset="1.0143" stop-color="#a2ff5e"/></linearGradient>
<rect x="435.0" y="943.03" width="286.0" height="21.77" fill="url(#g70)"/>
<rect x="435.0" y="787.8" width="286.0" height="177.0" fill="none" stroke="#7a7a7a" stroke-width="1"/>
<line x1="458.0" y1="789.3" x2="458.0" y2="964.8" stroke="#4a3f48" stroke-opacity="0.7" stroke-width="1" stroke-dasharray="1.7,1.66"/>
<line x1="431.5" y1="789.6" x2="435.0" y2="789.6" stroke="#555" stroke-width="0.8"/>
<text x="429.3" y="794.2" font-size="13" text-anchor="end" fill="#111" >20</text>
<line x1="431.5" y1="832.8" x2="435.0" y2="832.8" stroke="#555" stroke-width="0.8"/>
<text x="429.3" y="837.4" font-size="13" text-anchor="end" fill="#111" >16</text>
<line x1="431.5" y1="876.0" x2="435.0" y2="876.0" stroke="#555" stroke-width="0.8"/>
<text x="429.3" y="880.6" font-size="13" text-anchor="end" fill="#111" >12</text>
<line x1="431.5" y1="919.2" x2="435.0" y2="919.2" stroke="#555" stroke-width="0.8"/>
<text x="429.3" y="923.8" font-size="13" text-anchor="end" fill="#111" >8</text>
<line x1="431.5" y1="962.4" x2="435.0" y2="962.4" stroke="#555" stroke-width="0.8"/>
<text x="429.3" y="967.0" font-size="13" text-anchor="end" fill="#111" >4</text>
<line x1="431.5" y1="811.2" x2="435.0" y2="811.2" stroke="#555" stroke-width="0.8"/>
<line x1="431.5" y1="854.4" x2="435.0" y2="854.4" stroke="#555" stroke-width="0.8"/>
<line x1="431.5" y1="897.6" x2="435.0" y2="897.6" stroke="#555" stroke-width="0.8"/>
<line x1="431.5" y1="940.8" x2="435.0" y2="940.8" stroke="#555" stroke-width="0.8"/>
<text x="458.0" y="979.3" font-size="12.5" text-anchor="middle" fill="#111" >0</text>
<text x="518.7" y="979.3" font-size="12.5" text-anchor="middle" fill="#111" >100</text>
<text x="579.4" y="979.3" font-size="12.5" text-anchor="middle" fill="#111" >200</text>
<text x="640.1" y="979.3" font-size="12.5" text-anchor="middle" fill="#111" >300</text>
<text x="700.8" y="979.3" font-size="12.5" text-anchor="middle" fill="#111" >400</text>
<line x1="488.4" y1="964.8" x2="488.4" y2="962.8" stroke="#999" stroke-width="0.8"/>
<line x1="549.0" y1="964.8" x2="549.0" y2="962.8" stroke="#999" stroke-width="0.8"/>
<line x1="609.8" y1="964.8" x2="609.8" y2="962.8" stroke="#999" stroke-width="0.8"/>
<line x1="670.5" y1="964.8" x2="670.5" y2="962.8" stroke="#999" stroke-width="0.8"/>
</g>
<g>
<linearGradient id="g71" gradientUnits="objectBoundingBox" x1="0" x2="1" y1="0" y2="0"><stop offset="-0.0045" stop-color="#80ff80"/><stop offset="0.0380" stop-color="#a2ff5e"/><stop offset="0.0804" stop-color="#80ff80"/><stop offset="0.1229" stop-color="#5dffa2"/><stop offset="0.1653" stop-color="#3cffc3"/><stop offset="0.2078" stop-color="#3cffc3"/><stop offset="0.2502" stop-color="#3cffc3"/><stop offset="0.2927" stop-color="#3cffc3"/><stop offset="0.3351" stop-color="#3cffc3"/><stop offset="0.3776" stop-color="#3cffc3"/><stop offset="0.4200" stop-color="#3cffc3"/><stop offset="0.4624" stop-color="#3cffc3"/><stop offset="0.5049" stop-color="#1affe5"/><stop offset="0.5473" stop-color="#00f7ff"/><stop offset="0.5898" stop-color="#3cffc3"/><stop offset="0.6322" stop-color="#5dffa2"/><stop offset="0.6747" stop-color="#5dffa2"/><stop offset="0.7171" stop-color="#5dffa2"/><stop offset="0.7596" stop-color="#5dffa2"/><stop offset="0.8020" stop-color="#3cffc3"/><stop offset="0.8445" stop-color="#00f7ff"/><stop offset="0.8869" stop-color="#3cffc3"/><stop offset="0.9294" stop-color="#5dffa2"/><stop offset="0.9718" stop-color="#5dffa2"/><stop offset="1.0143" stop-color="#5dffa2"/></linearGradient>
<rect x="769.0" y="787.80" width="286.0" height="28.63" fill="url(#g71)"/>
<linearGradient id="g72" gradientUnits="objectBoundingBox" x1="0" x2="1" y1="0" y2="0"><stop offset="-0.0045" stop-color="#80ff80"/><stop offset="0.0380" stop-color="#80ff80"/><stop offset="0.0804" stop-color="#80ff80"/><stop offset="0.1229" stop-color="#a2ff5e"/><stop offset="0.1653" stop-color="#a2ff5e"/><stop offset="0.2078" stop-color="#a2ff5e"/><stop offset="0.2502" stop-color="#80ff80"/><stop offset="0.2927" stop-color="#80ff80"/><stop offset="0.3351" stop-color="#5dffa2"/><stop offset="0.3776" stop-color="#5dffa2"/><stop offset="0.4200" stop-color="#5dffa2"/><stop offset="0.4624" stop-color="#5dffa2"/><stop offset="0.5049" stop-color="#5dffa2"/><stop offset="0.5473" stop-color="#5dffa2"/><stop offset="0.5898" stop-color="#5dffa2"/><stop offset="0.6322" stop-color="#a2ff5e"/><stop offset="0.6747" stop-color="#c4ff3b"/><stop offset="0.7171" stop-color="#a2ff5e"/><stop offset="0.7596" stop-color="#80ff80"/><stop offset="0.8020" stop-color="#5dffa2"/><stop offset="0.8445" stop-color="#1affe5"/><stop offset="0.8869" stop-color="#00f7ff"/><stop offset="0.9294" stop-color="#1affe5"/><stop offset="0.9718" stop-color="#3cffc3"/><stop offset="1.0143" stop-color="#3cffc3"/></linearGradient>
<rect x="769.0" y="815.23" width="286.0" height="45.27" fill="url(#g72)"/>
<linearGradient id="g73" gradientUnits="objectBoundingBox" x1="0" x2="1" y1="0" y2="0"><stop offset="-0.0045" stop-color="#5dffa2"/><stop offset="0.0380" stop-color="#80ff80"/><stop offset="0.0804" stop-color="#80ff80"/><stop offset="0.1229" stop-color="#c4ff3b"/><stop offset="0.1653" stop-color="#c4ff3b"/><stop offset="0.2078" stop-color="#e6ff19"/><stop offset="0.2502" stop-color="#fff700"/><stop offset="0.2927" stop-color="#fff700"/><stop offset="0.3351" stop-color="#fff700"/><stop offset="0.3776" stop-color="#e6ff19"/><stop offset="0.4200" stop-color="#c4ff3b"/><stop offset="0.4624" stop-color="#c4ff3b"/><stop offset="0.5049" stop-color="#c4ff3b"/><stop offset="0.5473" stop-color="#c4ff3b"/><stop offset="0.5898" stop-color="#e6ff19"/><stop offset="0.6322" stop-color="#ffd500"/><stop offset="0.6747" stop-color="#ffb200"/><stop offset="0.7171" stop-color="#ffb200"/><stop offset="0.7596" stop-color="#fff700"/><stop offset="0.8020" stop-color="#80ff80"/><stop offset="0.8445" stop-color="#5dffa2"/><stop offset="0.8869" stop-color="#3cffc3"/><stop offset="0.9294" stop-color="#3cffc3"/><stop offset="0.9718" stop-color="#5dffa2"/><stop offset="1.0143" stop-color="#5dffa2"/></linearGradient>
<rect x="769.0" y="859.31" width="286.0" height="40.32" fill="url(#g73)"/>
<linearGradient id="g74" gradientUnits="objectBoundingBox" x1="0" x2="1" y1="0" y2="0"><stop offset="-0.0045" stop-color="#80ff80"/><stop offset="0.0380" stop-color="#80ff80"/><stop offset="0.0804" stop-color="#a2ff5e"/><stop offset="0.1229" stop-color="#c4ff3b"/><stop offset="0.1653" stop-color="#c4ff3b"/><stop offset="0.2078" stop-color="#e6ff19"/><stop offset="0.2502" stop-color="#ffb200"/><stop offset="0.2927" stop-color="#ff9000"/><stop offset="0.3351" stop-color="#ffb200"/><stop offset="0.3776" stop-color="#fff700"/><stop offset="0.4200" stop-color="#e6ff19"/><stop offset="0.4624" stop-color="#fff700"/><stop offset="0.5049" stop-color="#fff700"/><stop offset="0.5473" stop-color="#fff700"/><stop offset="0.5898" stop-color="#ff9000"/><stop offset="0.6322" stop-color="#ff4d00"/><stop offset="0.6747" stop-color="#ff4d00"/><stop offset="0.7171" stop-color="#ff6e00"/><stop offset="0.7596" stop-color="#ffb200"/><stop offset="0.8020" stop-color="#fff700"/><stop offset="0.8445" stop-color="#c4ff3b"/><stop offset="0.8869" stop-color="#a2ff5e"/><stop offset="0.9294" stop-color="#a2ff5e"/><stop offset="0.9718" stop-color="#80ff80"/><stop offset="1.0143" stop-color="#80ff80"/></linearGradient>
<rect x="769.0" y="898.42" width="286.0" height="45.80" fill="url(#g74)"/>
<linearGradient id="g75" gradientUnits="objectBoundingBox" x1="0" x2="1" y1="0" y2="0"><stop offset="-0.0045" stop-color="#80ff80"/><stop offset="0.0380" stop-color="#5dffa2"/><stop offset="0.0804" stop-color="#3cffc3"/><stop offset="0.1229" stop-color="#80ff80"/><stop offset="0.1653" stop-color="#a2ff5e"/><stop offset="0.2078" stop-color="#c4ff3b"/><stop offset="0.2502" stop-color="#ffb200"/><stop offset="0.2927" stop-color="#ffd500"/><stop offset="0.3351" stop-color="#fff700"/><stop offset="0.3776" stop-color="#ffd500"/><stop offset="0.4200" stop-color="#c4ff3b"/><stop offset="0.4624" stop-color="#e6ff19"/><stop offset="0.5049" stop-color="#fff700"/><stop offset="0.5473" stop-color="#fff700"/><stop offset="0.5898" stop-color="#ff6e00"/><stop offset="0.6322" stop-color="#ff6e00"/><stop offset="0.6747" stop-color="#ff4d00"/><stop offset="0.7171" stop-color="#ff4d00"/><stop offset="0.7596" stop-color="#ffd500"/><stop offset="0.8020" stop-color="#fff700"/><stop offset="0.8445" stop-color="#a2ff5e"/><stop offset="0.8869" stop-color="#5dffa2"/><stop offset="0.9294" stop-color="#5dffa2"/><stop offset="0.9718" stop-color="#a2ff5e"/><stop offset="1.0143" stop-color="#a2ff5e"/></linearGradient>
<rect x="769.0" y="943.03" width="286.0" height="21.77" fill="url(#g75)"/>
<rect x="769.0" y="787.8" width="286.0" height="177.0" fill="none" stroke="#7a7a7a" stroke-width="1"/>
<line x1="792.0" y1="789.3" x2="792.0" y2="964.8" stroke="#4a3f48" stroke-opacity="0.7" stroke-width="1" stroke-dasharray="1.7,1.66"/>
<line x1="765.5" y1="789.6" x2="769.0" y2="789.6" stroke="#555" stroke-width="0.8"/>
<text x="763.3" y="794.2" font-size="13" text-anchor="end" fill="#111" >20</text>
<line x1="765.5" y1="832.8" x2="769.0" y2="832.8" stroke="#555" stroke-width="0.8"/>
<text x="763.3" y="837.4" font-size="13" text-anchor="end" fill="#111" >16</text>
<line x1="765.5" y1="876.0" x2="769.0" y2="876.0" stroke="#555" stroke-width="0.8"/>
<text x="763.3" y="880.6" font-size="13" text-anchor="end" fill="#111" >12</text>
<line x1="765.5" y1="919.2" x2="769.0" y2="919.2" stroke="#555" stroke-width="0.8"/>
<text x="763.3" y="923.8" font-size="13" text-anchor="end" fill="#111" >8</text>
<line x1="765.5" y1="962.4" x2="769.0" y2="962.4" stroke="#555" stroke-width="0.8"/>
<text x="763.3" y="967.0" font-size="13" text-anchor="end" fill="#111" >4</text>
<line x1="765.5" y1="811.2" x2="769.0" y2="811.2" stroke="#555" stroke-width="0.8"/>
<line x1="765.5" y1="854.4" x2="769.0" y2="854.4" stroke="#555" stroke-width="0.8"/>
<line x1="765.5" y1="897.6" x2="769.0" y2="897.6" stroke="#555" stroke-width="0.8"/>
<line x1="765.5" y1="940.8" x2="769.0" y2="940.8" stroke="#555" stroke-width="0.8"/>
<text x="792.0" y="979.3" font-size="12.5" text-anchor="middle" fill="#111" >0</text>
<text x="852.7" y="979.3" font-size="12.5" text-anchor="middle" fill="#111" >100</text>
<text x="913.4" y="979.3" font-size="12.5" text-anchor="middle" fill="#111" >200</text>
<text x="974.1" y="979.3" font-size="12.5" text-anchor="middle" fill="#111" >300</text>
<text x="1034.8" y="979.3" font-size="12.5" text-anchor="middle" fill="#111" >400</text>
<line x1="822.4" y1="964.8" x2="822.4" y2="962.8" stroke="#999" stroke-width="0.8"/>
<line x1="883.0" y1="964.8" x2="883.0" y2="962.8" stroke="#999" stroke-width="0.8"/>
<line x1="943.8" y1="964.8" x2="943.8" y2="962.8" stroke="#999" stroke-width="0.8"/>
<line x1="1004.5" y1="964.8" x2="1004.5" y2="962.8" stroke="#999" stroke-width="0.8"/>
</g>
<g>
<linearGradient id="g76" gradientUnits="objectBoundingBox" x1="0" x2="1" y1="0" y2="0"><stop offset="-0.0045" stop-color="#80ff80"/><stop offset="0.0380" stop-color="#80ff80"/><stop offset="0.0804" stop-color="#80ff80"/><stop offset="0.1229" stop-color="#a2ff5e"/><stop offset="0.1653" stop-color="#c4ff3b"/><stop offset="0.2078" stop-color="#e6ff19"/><stop offset="0.2502" stop-color="#fff700"/><stop offset="0.2927" stop-color="#c4ff3b"/><stop offset="0.3351" stop-color="#a2ff5e"/><stop offset="0.3776" stop-color="#a2ff5e"/><stop offset="0.4200" stop-color="#80ff80"/><stop offset="0.4624" stop-color="#c4ff3b"/><stop offset="0.5049" stop-color="#c4ff3b"/><stop offset="0.5473" stop-color="#80ff80"/><stop offset="0.5898" stop-color="#5dffa2"/><stop offset="0.6322" stop-color="#80ff80"/><stop offset="0.6747" stop-color="#fff700"/><stop offset="0.7171" stop-color="#fff700"/><stop offset="0.7596" stop-color="#e6ff19"/><stop offset="0.8020" stop-color="#e6ff19"/><stop offset="0.8445" stop-color="#fff700"/><stop offset="0.8869" stop-color="#ffb200"/><stop offset="0.9294" stop-color="#ffb200"/><stop offset="0.9718" stop-color="#ffb200"/><stop offset="1.0143" stop-color="#ffb200"/></linearGradient>
<rect x="1100.0" y="787.80" width="286.0" height="28.63" fill="url(#g76)"/>
<linearGradient id="g77" gradientUnits="objectBoundingBox" x1="0" x2="1" y1="0" y2="0"><stop offset="-0.0045" stop-color="#5dffa2"/><stop offset="0.0380" stop-color="#5dffa2"/><stop offset="0.0804" stop-color="#80ff80"/><stop offset="0.1229" stop-color="#5dffa2"/><stop offset="0.1653" stop-color="#5dffa2"/><stop offset="0.2078" stop-color="#a2ff5e"/><stop offset="0.2502" stop-color="#c4ff3b"/><stop offset="0.2927" stop-color="#e6ff19"/><stop offset="0.3351" stop-color="#e6ff19"/><stop offset="0.3776" stop-color="#fff700"/><stop offset="0.4200" stop-color="#e6ff19"/><stop offset="0.4624" stop-color="#c4ff3b"/><stop offset="0.5049" stop-color="#a2ff5e"/><stop offset="0.5473" stop-color="#a2ff5e"/><stop offset="0.5898" stop-color="#a2ff5e"/><stop offset="0.6322" stop-color="#a2ff5e"/><stop offset="0.6747" stop-color="#c4ff3b"/><stop offset="0.7171" stop-color="#c4ff3b"/><stop offset="0.7596" stop-color="#c4ff3b"/><stop offset="0.8020" stop-color="#e6ff19"/><stop offset="0.8445" stop-color="#e6ff19"/><stop offset="0.8869" stop-color="#fff700"/><stop offset="0.9294" stop-color="#c4ff3b"/><stop offset="0.9718" stop-color="#a2ff5e"/><stop offset="1.0143" stop-color="#a2ff5e"/></linearGradient>
<rect x="1100.0" y="815.23" width="286.0" height="45.27" fill="url(#g77)"/>
<linearGradient id="g78" gradientUnits="objectBoundingBox" x1="0" x2="1" y1="0" y2="0"><stop offset="-0.0045" stop-color="#5dffa2"/><stop offset="0.0380" stop-color="#5dffa2"/><stop offset="0.0804" stop-color="#80ff80"/><stop offset="0.1229" stop-color="#5dffa2"/><stop offset="0.1653" stop-color="#5dffa2"/><stop offset="0.2078" stop-color="#80ff80"/><stop offset="0.2502" stop-color="#e6ff19"/><stop offset="0.2927" stop-color="#ffb200"/><stop offset="0.3351" stop-color="#ff9000"/><stop offset="0.3776" stop-color="#ff9000"/><stop offset="0.4200" stop-color="#ffb200"/><stop offset="0.4624" stop-color="#fff700"/><stop offset="0.5049" stop-color="#c4ff3b"/><stop offset="0.5473" stop-color="#e6ff19"/><stop offset="0.5898" stop-color="#e6ff19"/><stop offset="0.6322" stop-color="#fff700"/><stop offset="0.6747" stop-color="#fff700"/><stop offset="0.7171" stop-color="#fff700"/><stop offset="0.7596" stop-color="#fff700"/><stop offset="0.8020" stop-color="#fff700"/><stop offset="0.8445" stop-color="#ffd500"/><stop offset="0.8869" stop-color="#ffd500"/><stop offset="0.9294" stop-color="#c4ff3b"/><stop offset="0.9718" stop-color="#a2ff5e"/><stop offset="1.0143" stop-color="#a2ff5e"/></linearGradient>
<rect x="1100.0" y="859.31" width="286.0" height="40.32" fill="url(#g78)"/>
<linearGradient id="g79" gradientUnits="objectBoundingBox" x1="0" x2="1" y1="0" y2="0"><stop offset="-0.0045" stop-color="#5dffa2"/><stop offset="0.0380" stop-color="#80ff80"/><stop offset="0.0804" stop-color="#80ff80"/><stop offset="0.1229" stop-color="#80ff80"/><stop offset="0.1653" stop-color="#80ff80"/><stop offset="0.2078" stop-color="#a2ff5e"/><stop offset="0.2502" stop-color="#ffd500"/><stop offset="0.2927" stop-color="#ff6e00"/><stop offset="0.3351" stop-color="#ff4d00"/><stop offset="0.3776" stop-color="#ff4d00"/><stop offset="0.4200" stop-color="#ff9000"/><stop offset="0.4624" stop-color="#ffb200"/><stop offset="0.5049" stop-color="#e6ff19"/><stop offset="0.5473" stop-color="#fff700"/><stop offset="0.5898" stop-color="#ffb200"/><stop offset="0.6322" stop-color="#ff9000"/><stop offset="0.6747" stop-color="#ffb200"/><stop offset="0.7171" stop-color="#fff700"/><stop offset="0.7596" stop-color="#fff700"/><stop offset="0.8020" stop-color="#ffd500"/><stop offset="0.8445" stop-color="#ffb200"/><stop offset="0.8869" stop-color="#ffd500"/><stop offset="0.9294" stop-color="#e6ff19"/><stop offset="0.9718" stop-color="#c4ff3b"/><stop offset="1.0143" stop-color="#c4ff3b"/></linearGradient>
<rect x="1100.0" y="898.42" width="286.0" height="45.80" fill="url(#g79)"/>
<linearGradient id="g80" gradientUnits="objectBoundingBox" x1="0" x2="1" y1="0" y2="0"><stop offset="-0.0045" stop-color="#3cffc3"/><stop offset="0.0380" stop-color="#a2ff5e"/><stop offset="0.0804" stop-color="#80ff80"/><stop offset="0.1229" stop-color="#5dffa2"/><stop offset="0.1653" stop-color="#80ff80"/><stop offset="0.2078" stop-color="#a2ff5e"/><stop offset="0.2502" stop-color="#ffb200"/><stop offset="0.2927" stop-color="#ff9000"/><stop offset="0.3351" stop-color="#ff4d00"/><stop offset="0.3776" stop-color="#ff2a00"/><stop offset="0.4200" stop-color="#ffb200"/><stop offset="0.4624" stop-color="#ffb200"/><stop offset="0.5049" stop-color="#e6ff19"/><stop offset="0.5473" stop-color="#ffd500"/><stop offset="0.5898" stop-color="#ffd500"/><stop offset="0.6322" stop-color="#ffb200"/><stop offset="0.6747" stop-color="#ff6e00"/><stop offset="0.7171" stop-color="#fff700"/><stop offset="0.7596" stop-color="#ffb200"/><stop offset="0.8020" stop-color="#ffb200"/><stop offset="0.8445" stop-color="#ffd500"/><stop offset="0.8869" stop-color="#ffd500"/><stop offset="0.9294" stop-color="#e6ff19"/><stop offset="0.9718" stop-color="#c4ff3b"/><stop offset="1.0143" stop-color="#c4ff3b"/></linearGradient>
<rect x="1100.0" y="943.03" width="286.0" height="21.77" fill="url(#g80)"/>
<rect x="1100.0" y="787.8" width="286.0" height="177.0" fill="none" stroke="#7a7a7a" stroke-width="1"/>
<line x1="1123.0" y1="789.3" x2="1123.0" y2="964.8" stroke="#4a3f48" stroke-opacity="0.7" stroke-width="1" stroke-dasharray="1.7,1.66"/>
<line x1="1096.5" y1="789.6" x2="1100.0" y2="789.6" stroke="#555" stroke-width="0.8"/>
<text x="1094.3" y="794.2" font-size="13" text-anchor="end" fill="#111" >20</text>
<line x1="1096.5" y1="832.8" x2="1100.0" y2="832.8" stroke="#555" stroke-width="0.8"/>
<text x="1094.3" y="837.4" font-size="13" text-anchor="end" fill="#111" >16</text>
<line x1="1096.5" y1="876.0" x2="1100.0" y2="876.0" stroke="#555" stroke-width="0.8"/>
<text x="1094.3" y="880.6" font-size="13" text-anchor="end" fill="#111" >12</text>
<line x1="1096.5" y1="919.2" x2="1100.0" y2="919.2" stroke="#555" stroke-width="0.8"/>
<text x="1094.3" y="923.8" font-size="13" text-anchor="end" fill="#111" >8</text>
<line x1="1096.5" y1="962.4" x2="1100.0" y2="962.4" stroke="#555" stroke-width="0.8"/>
<text x="1094.3" y="967.0" font-size="13" text-anchor="end" fill="#111" >4</text>
<line x1="1096.5" y1="811.2" x2="1100.0" y2="811.2" stroke="#555" stroke-width="0.8"/>
<line x1="1096.5" y1="854.4" x2="1100.0" y2="854.4" stroke="#555" stroke-width="0.8"/>
<line x1="1096.5" y1="897.6" x2="1100.0" y2="897.6" stroke="#555" stroke-width="0.8"/>
<line x1="1096.5" y1="940.8" x2="1100.0" y2="940.8" stroke="#555" stroke-width="0.8"/>
<text x="1123.0" y="979.3" font-size="12.5" text-anchor="middle" fill="#111" >0</text>
<text x="1183.7" y="979.3" font-size="12.5" text-anchor="middle" fill="#111" >100</text>
<text x="1244.4" y="979.3" font-size="12.5" text-anchor="middle" fill="#111" >200</text>
<text x="1305.1" y="979.3" font-size="12.5" text-anchor="middle" fill="#111" >300</text>
<text x="1365.8" y="979.3" font-size="12.5" text-anchor="middle" fill="#111" >400</text>
<line x1="1153.3" y1="964.8" x2="1153.3" y2="962.8" stroke="#999" stroke-width="0.8"/>
<line x1="1214.0" y1="964.8" x2="1214.0" y2="962.8" stroke="#999" stroke-width="0.8"/>
<line x1="1274.8" y1="964.8" x2="1274.8" y2="962.8" stroke="#999" stroke-width="0.8"/>
<line x1="1335.5" y1="964.8" x2="1335.5" y2="962.8" stroke="#999" stroke-width="0.8"/>
</g>
<text x="32.5" y="879.3" font-size="26.5" text-anchor="middle" transform="rotate(-90 32.5 879.3)" >Placebo</text>
<g>
<linearGradient id="g81" gradientUnits="objectBoundingBox" x1="0" x2="1" y1="0" y2="0"><stop offset="-0.0045" stop-color="#5dffa2"/><stop offset="0.0380" stop-color="#5dffa2"/><stop offset="0.0804" stop-color="#a2ff5e"/><stop offset="0.1229" stop-color="#c4ff3b"/><stop offset="0.1653" stop-color="#5dffa2"/><stop offset="0.2078" stop-color="#3cffc3"/><stop offset="0.2502" stop-color="#3cffc3"/><stop offset="0.2927" stop-color="#5dffa2"/><stop offset="0.3351" stop-color="#5dffa2"/><stop offset="0.3776" stop-color="#80ff80"/><stop offset="0.4200" stop-color="#a2ff5e"/><stop offset="0.4624" stop-color="#c4ff3b"/><stop offset="0.5049" stop-color="#e6ff19"/><stop offset="0.5473" stop-color="#a2ff5e"/><stop offset="0.5898" stop-color="#80ff80"/><stop offset="0.6322" stop-color="#a2ff5e"/><stop offset="0.6747" stop-color="#a2ff5e"/><stop offset="0.7171" stop-color="#a2ff5e"/><stop offset="0.7596" stop-color="#5dffa2"/><stop offset="0.8020" stop-color="#5dffa2"/><stop offset="0.8445" stop-color="#c4ff3b"/><stop offset="0.8869" stop-color="#c4ff3b"/><stop offset="0.9294" stop-color="#c4ff3b"/><stop offset="0.9718" stop-color="#fff700"/><stop offset="1.0143" stop-color="#ffb200"/></linearGradient>
<rect x="101.2" y="1013.00" width="286.0" height="28.63" fill="url(#g81)"/>
<linearGradient id="g82" gradientUnits="objectBoundingBox" x1="0" x2="1" y1="0" y2="0"><stop offset="-0.0045" stop-color="#5dffa2"/><stop offset="0.0380" stop-color="#5dffa2"/><stop offset="0.0804" stop-color="#a2ff5e"/><stop offset="0.1229" stop-color="#a2ff5e"/><stop offset="0.1653" stop-color="#3cffc3"/><stop offset="0.2078" stop-color="#1affe5"/><stop offset="0.2502" stop-color="#1affe5"/><stop offset="0.2927" stop-color="#1affe5"/><stop offset="0.3351" stop-color="#1affe5"/><stop offset="0.3776" stop-color="#1affe5"/><stop offset="0.4200" stop-color="#3cffc3"/><stop offset="0.4624" stop-color="#3cffc3"/><stop offset="0.5049" stop-color="#1affe5"/><stop offset="0.5473" stop-color="#1affe5"/><stop offset="0.5898" stop-color="#00f7ff"/><stop offset="0.6322" stop-color="#00f7ff"/><stop offset="0.6747" stop-color="#1affe5"/><stop offset="0.7171" stop-color="#00f7ff"/><stop offset="0.7596" stop-color="#00d4ff"/><stop offset="0.8020" stop-color="#1affe5"/><stop offset="0.8445" stop-color="#5dffa2"/><stop offset="0.8869" stop-color="#5dffa2"/><stop offset="0.9294" stop-color="#5dffa2"/><stop offset="0.9718" stop-color="#5dffa2"/><stop offset="1.0143" stop-color="#5dffa2"/></linearGradient>
<rect x="101.2" y="1040.43" width="286.0" height="45.27" fill="url(#g82)"/>
<linearGradient id="g83" gradientUnits="objectBoundingBox" x1="0" x2="1" y1="0" y2="0"><stop offset="-0.0045" stop-color="#5dffa2"/><stop offset="0.0380" stop-color="#5dffa2"/><stop offset="0.0804" stop-color="#5dffa2"/><stop offset="0.1229" stop-color="#3cffc3"/><stop offset="0.1653" stop-color="#1affe5"/><stop offset="0.2078" stop-color="#1affe5"/><stop offset="0.2502" stop-color="#1affe5"/><stop offset="0.2927" stop-color="#1affe5"/><stop offset="0.3351" stop-color="#1affe5"/><stop offset="0.3776" stop-color="#1affe5"/><stop offset="0.4200" stop-color="#3cffc3"/><stop offset="0.4624" stop-color="#3cffc3"/><stop offset="0.5049" stop-color="#3cffc3"/><stop offset="0.5473" stop-color="#1affe5"/><stop offset="0.5898" stop-color="#00f7ff"/><stop offset="0.6322" stop-color="#00f7ff"/><stop offset="0.6747" stop-color="#1affe5"/><stop offset="0.7171" stop-color="#00f7ff"/><stop offset="0.7596" stop-color="#00f7ff"/><stop offset="0.8020" stop-color="#1affe5"/><stop offset="0.8445" stop-color="#3cffc3"/><stop offset="0.8869" stop-color="#5dffa2"/><stop offset="0.9294" stop-color="#5dffa2"/><stop offset="0.9718" stop-color="#5dffa2"/><stop offset="1.0143" stop-color="#5dffa2"/></linearGradient>
<rect x="101.2" y="1084.51" width="286.0" height="40.32" fill="url(#g83)"/>
<linearGradient id="g84" gradientUnits="objectBoundingBox" x1="0" x2="1" y1="0" y2="0"><stop offset="-0.0045" stop-color="#5dffa2"/><stop offset="0.0380" stop-color="#5dffa2"/><stop offset="0.0804" stop-color="#5dffa2"/><stop offset="0.1229" stop-color="#5dffa2"/><stop offset="0.1653" stop-color="#3cffc3"/><stop offset="0.2078" stop-color="#3cffc3"/><stop offset="0.2502" stop-color="#3cffc3"/><stop offset="0.2927" stop-color="#5dffa2"/><stop offset="0.3351" stop-color="#5dffa2"/><stop offset="0.3776" stop-color="#5dffa2"/><stop offset="0.4200" stop-color="#5dffa2"/><stop offset="0.4624" stop-color="#80ff80"/><stop offset="0.5049" stop-color="#5dffa2"/><stop offset="0.5473" stop-color="#3cffc3"/><stop offset="0.5898" stop-color="#1affe5"/><stop offset="0.6322" stop-color="#3cffc3"/><stop offset="0.6747" stop-color="#3cffc3"/><stop offset="0.7171" stop-color="#3cffc3"/><stop offset="0.7596" stop-color="#3cffc3"/><stop offset="0.8020" stop-color="#3cffc3"/><stop offset="0.8445" stop-color="#a2ff5e"/><stop offset="0.8869" stop-color="#a2ff5e"/><stop offset="0.9294" stop-color="#80ff80"/><stop offset="0.9718" stop-color="#5dffa2"/><stop offset="1.0143" stop-color="#5dffa2"/></linearGradient>
<rect x="101.2" y="1123.62" width="286.0" height="45.80" fill="url(#g84)"/>
<linearGradient id="g85" gradientUnits="objectBoundingBox" x1="0" x2="1" y1="0" y2="0"><stop offset="-0.0045" stop-color="#80ff80"/><stop offset="0.0380" stop-color="#5dffa2"/><stop offset="0.0804" stop-color="#a2ff5e"/><stop offset="0.1229" stop-color="#a2ff5e"/><stop offset="0.1653" stop-color="#3cffc3"/><stop offset="0.2078" stop-color="#80ff80"/><stop offset="0.2502" stop-color="#5dffa2"/><stop offset="0.2927" stop-color="#3cffc3"/><stop offset="0.3351" stop-color="#c4ff3b"/><stop offset="0.3776" stop-color="#80ff80"/><stop offset="0.4200" stop-color="#5dffa2"/><stop offset="0.4624" stop-color="#a2ff5e"/><stop offset="0.5049" stop-color="#5dffa2"/><stop offset="0.5473" stop-color="#5dffa2"/><stop offset="0.5898" stop-color="#80ff80"/><stop offset="0.6322" stop-color="#80ff80"/><stop offset="0.6747" stop-color="#5dffa2"/><stop offset="0.7171" stop-color="#80ff80"/><stop offset="0.7596" stop-color="#80ff80"/><stop offset="0.8020" stop-color="#a2ff5e"/><stop offset="0.8445" stop-color="#fff700"/><stop offset="0.8869" stop-color="#80ff80"/><stop offset="0.9294" stop-color="#80ff80"/><stop offset="0.9718" stop-color="#a2ff5e"/><stop offset="1.0143" stop-color="#a2ff5e"/></linearGradient>
<rect x="101.2" y="1168.23" width="286.0" height="21.77" fill="url(#g85)"/>
<rect x="101.2" y="1013.0" width="286.0" height="177.0" fill="none" stroke="#7a7a7a" stroke-width="1"/>
<line x1="124.2" y1="1014.5" x2="124.2" y2="1190.0" stroke="#4a3f48" stroke-opacity="0.7" stroke-width="1" stroke-dasharray="1.7,1.66"/>
<line x1="97.7" y1="1014.8" x2="101.2" y2="1014.8" stroke="#555" stroke-width="0.8"/>
<text x="95.5" y="1019.4" font-size="13" text-anchor="end" fill="#111" >20</text>
<line x1="97.7" y1="1058.0" x2="101.2" y2="1058.0" stroke="#555" stroke-width="0.8"/>
<text x="95.5" y="1062.6" font-size="13" text-anchor="end" fill="#111" >16</text>
<line x1="97.7" y1="1101.2" x2="101.2" y2="1101.2" stroke="#555" stroke-width="0.8"/>
<text x="95.5" y="1105.8" font-size="13" text-anchor="end" fill="#111" >12</text>
<line x1="97.7" y1="1144.4" x2="101.2" y2="1144.4" stroke="#555" stroke-width="0.8"/>
<text x="95.5" y="1149.0" font-size="13" text-anchor="end" fill="#111" >8</text>
<line x1="97.7" y1="1187.6" x2="101.2" y2="1187.6" stroke="#555" stroke-width="0.8"/>
<text x="95.5" y="1192.2" font-size="13" text-anchor="end" fill="#111" >4</text>
<line x1="97.7" y1="1036.4" x2="101.2" y2="1036.4" stroke="#555" stroke-width="0.8"/>
<line x1="97.7" y1="1079.6" x2="101.2" y2="1079.6" stroke="#555" stroke-width="0.8"/>
<line x1="97.7" y1="1122.8" x2="101.2" y2="1122.8" stroke="#555" stroke-width="0.8"/>
<line x1="97.7" y1="1166.0" x2="101.2" y2="1166.0" stroke="#555" stroke-width="0.8"/>
<text x="124.2" y="1204.5" font-size="12.5" text-anchor="middle" fill="#111" >0</text>
<text x="184.9" y="1204.5" font-size="12.5" text-anchor="middle" fill="#111" >100</text>
<text x="245.6" y="1204.5" font-size="12.5" text-anchor="middle" fill="#111" >200</text>
<text x="306.3" y="1204.5" font-size="12.5" text-anchor="middle" fill="#111" >300</text>
<text x="367.0" y="1204.5" font-size="12.5" text-anchor="middle" fill="#111" >400</text>
<line x1="154.6" y1="1190.0" x2="154.6" y2="1188.0" stroke="#999" stroke-width="0.8"/>
<line x1="215.2" y1="1190.0" x2="215.2" y2="1188.0" stroke="#999" stroke-width="0.8"/>
<line x1="275.9" y1="1190.0" x2="275.9" y2="1188.0" stroke="#999" stroke-width="0.8"/>
<line x1="336.6" y1="1190.0" x2="336.6" y2="1188.0" stroke="#999" stroke-width="0.8"/>
</g>
<g>
<linearGradient id="g86" gradientUnits="objectBoundingBox" x1="0" x2="1" y1="0" y2="0"><stop offset="-0.0045" stop-color="#80ff80"/><stop offset="0.0380" stop-color="#5dffa2"/><stop offset="0.0804" stop-color="#3cffc3"/><stop offset="0.1229" stop-color="#5dffa2"/><stop offset="0.1653" stop-color="#5dffa2"/><stop offset="0.2078" stop-color="#5dffa2"/><stop offset="0.2502" stop-color="#5dffa2"/><stop offset="0.2927" stop-color="#5dffa2"/><stop offset="0.3351" stop-color="#5dffa2"/><stop offset="0.3776" stop-color="#5dffa2"/><stop offset="0.4200" stop-color="#80ff80"/><stop offset="0.4624" stop-color="#e6ff19"/><stop offset="0.5049" stop-color="#fff700"/><stop offset="0.5473" stop-color="#80ff80"/><stop offset="0.5898" stop-color="#00f7ff"/><stop offset="0.6322" stop-color="#00f7ff"/><stop offset="0.6747" stop-color="#00d4ff"/><stop offset="0.7171" stop-color="#00b2ff"/><stop offset="0.7596" stop-color="#1affe5"/><stop offset="0.8020" stop-color="#5dffa2"/><stop offset="0.8445" stop-color="#5dffa2"/><stop offset="0.8869" stop-color="#5dffa2"/><stop offset="0.9294" stop-color="#80ff80"/><stop offset="0.9718" stop-color="#e6ff19"/><stop offset="1.0143" stop-color="#e6ff19"/></linearGradient>
<rect x="435.0" y="1013.00" width="286.0" height="28.63" fill="url(#g86)"/>
<linearGradient id="g87" gradientUnits="objectBoundingBox" x1="0" x2="1" y1="0" y2="0"><stop offset="-0.0045" stop-color="#80ff80"/><stop offset="0.0380" stop-color="#5dffa2"/><stop offset="0.0804" stop-color="#3cffc3"/><stop offset="0.1229" stop-color="#3cffc3"/><stop offset="0.1653" stop-color="#5dffa2"/><stop offset="0.2078" stop-color="#80ff80"/><stop offset="0.2502" stop-color="#a2ff5e"/><stop offset="0.2927" stop-color="#a2ff5e"/><stop offset="0.3351" stop-color="#a2ff5e"/><stop offset="0.3776" stop-color="#80ff80"/><stop offset="0.4200" stop-color="#a2ff5e"/><stop offset="0.4624" stop-color="#c4ff3b"/><stop offset="0.5049" stop-color="#e6ff19"/><stop offset="0.5473" stop-color="#5dffa2"/><stop offset="0.5898" stop-color="#00f7ff"/><stop offset="0.6322" stop-color="#00f7ff"/><stop offset="0.6747" stop-color="#00f7ff"/><stop offset="0.7171" stop-color="#00d4ff"/><stop offset="0.7596" stop-color="#3cffc3"/><stop offset="0.8020" stop-color="#a2ff5e"/><stop offset="0.8445" stop-color="#a2ff5e"/><stop offset="0.8869" stop-color="#3cffc3"/><stop offset="0.9294" stop-color="#3cffc3"/><stop offset="0.9718" stop-color="#3cffc3"/><stop offset="1.0143" stop-color="#5dffa2"/></linearGradient>
<rect x="435.0" y="1040.43" width="286.0" height="45.27" fill="url(#g87)"/>
<linearGradient id="g88" gradientUnits="objectBoundingBox" x1="0" x2="1" y1="0" y2="0"><stop offset="-0.0045" stop-color="#80ff80"/><stop offset="0.0380" stop-color="#5dffa2"/><stop offset="0.0804" stop-color="#5dffa2"/><stop offset="0.1229" stop-color="#5dffa2"/><stop offset="0.1653" stop-color="#80ff80"/><stop offset="0.2078" stop-color="#a2ff5e"/><stop offset="0.2502" stop-color="#e6ff19"/><stop offset="0.2927" stop-color="#fff700"/><stop offset="0.3351" stop-color="#fff700"/><stop offset="0.3776" stop-color="#e6ff19"/><stop offset="0.4200" stop-color="#c4ff3b"/><stop offset="0.4624" stop-color="#c4ff3b"/><stop offset="0.5049" stop-color="#c4ff3b"/><stop offset="0.5473" stop-color="#a2ff5e"/><stop offset="0.5898" stop-color="#80ff80"/><stop offset="0.6322" stop-color="#5dffa2"/><stop offset="0.6747" stop-color="#5dffa2"/><stop offset="0.7171" stop-color="#5dffa2"/><stop offset="0.7596" stop-color="#a2ff5e"/><stop offset="0.8020" stop-color="#c4ff3b"/><stop offset="0.8445" stop-color="#c4ff3b"/><stop offset="0.8869" stop-color="#80ff80"/><stop offset="0.9294" stop-color="#5dffa2"/><stop offset="0.9718" stop-color="#5dffa2"/><stop offset="1.0143" stop-color="#80ff80"/></linearGradient>
<rect x="435.0" y="1084.51" width="286.0" height="40.32" fill="url(#g88)"/>
<linearGradient id="g89" gradientUnits="objectBoundingBox" x1="0" x2="1" y1="0" y2="0"><stop offset="-0.0045" stop-color="#80ff80"/><stop offset="0.0380" stop-color="#5dffa2"/><stop offset="0.0804" stop-color="#5dffa2"/><stop offset="0.1229" stop-color="#5dffa2"/><stop offset="0.1653" stop-color="#80ff80"/><stop offset="0.2078" stop-color="#c4ff3b"/><stop offset="0.2502" stop-color="#ffb200"/><stop offset="0.2927" stop-color="#ffb200"/><stop offset="0.3351" stop-color="#ffd500"/><stop offset="0.3776" stop-color="#ffd500"/><stop offset="0.4200" stop-color="#fff700"/><stop offset="0.4624" stop-color="#c4ff3b"/><stop offset="0.5049" stop-color="#c4ff3b"/><stop offset="0.5473" stop-color="#e6ff19"/><stop offset="0.5898" stop-color="#c4ff3b"/><stop offset="0.6322" stop-color="#c4ff3b"/><stop offset="0.6747" stop-color="#c4ff3b"/><stop offset="0.7171" stop-color="#c4ff3b"/><stop offset="0.7596" stop-color="#e6ff19"/><stop offset="0.8020" stop-color="#e6ff19"/><stop offset="0.8445" stop-color="#c4ff3b"/><stop offset="0.8869" stop-color="#c4ff3b"/><stop offset="0.9294" stop-color="#c4ff3b"/><stop offset="0.9718" stop-color="#c4ff3b"/><stop offset="1.0143" stop-color="#c4ff3b"/></linearGradient>
<rect x="435.0" y="1123.62" width="286.0" height="45.80" fill="url(#g89)"/>
<linearGradient id="g90" gradientUnits="objectBoundingBox" x1="0" x2="1" y1="0" y2="0"><stop offset="-0.0045" stop-color="#80ff80"/><stop offset="0.0380" stop-color="#80ff80"/><stop offset="0.0804" stop-color="#3cffc3"/><stop offset="0.1229" stop-color="#5dffa2"/><stop offset="0.1653" stop-color="#a2ff5e"/><stop offset="0.2078" stop-color="#c4ff3b"/><stop offset="0.2502" stop-color="#e6ff19"/><stop offset="0.2927" stop-color="#fff700"/><stop offset="0.3351" stop-color="#ffd500"/><stop offset="0.3776" stop-color="#ffb200"/><stop offset="0.4200" stop-color="#a2ff5e"/><stop offset="0.4624" stop-color="#a2ff5e"/><stop offset="0.5049" stop-color="#a2ff5e"/><stop offset="0.5473" stop-color="#c4ff3b"/><stop offset="0.5898" stop-color="#a2ff5e"/><stop offset="0.6322" stop-color="#a2ff5e"/><stop offset="0.6747" stop-color="#a2ff5e"/><stop offset="0.7171" stop-color="#80ff80"/><stop offset="0.7596" stop-color="#a2ff5e"/><stop offset="0.8020" stop-color="#a2ff5e"/><stop offset="0.8445" stop-color="#a2ff5e"/><stop offset="0.8869" stop-color="#a2ff5e"/><stop offset="0.9294" stop-color="#a2ff5e"/><stop offset="0.9718" stop-color="#c4ff3b"/><stop offset="1.0143" stop-color="#c4ff3b"/></linearGradient>
<rect x="435.0" y="1168.23" width="286.0" height="21.77" fill="url(#g90)"/>
<rect x="435.0" y="1013.0" width="286.0" height="177.0" fill="none" stroke="#7a7a7a" stroke-width="1"/>
<line x1="458.0" y1="1014.5" x2="458.0" y2="1190.0" stroke="#4a3f48" stroke-opacity="0.7" stroke-width="1" stroke-dasharray="1.7,1.66"/>
<line x1="431.5" y1="1014.8" x2="435.0" y2="1014.8" stroke="#555" stroke-width="0.8"/>
<text x="429.3" y="1019.4" font-size="13" text-anchor="end" fill="#111" >20</text>
<line x1="431.5" y1="1058.0" x2="435.0" y2="1058.0" stroke="#555" stroke-width="0.8"/>
<text x="429.3" y="1062.6" font-size="13" text-anchor="end" fill="#111" >16</text>
<line x1="431.5" y1="1101.2" x2="435.0" y2="1101.2" stroke="#555" stroke-width="0.8"/>
<text x="429.3" y="1105.8" font-size="13" text-anchor="end" fill="#111" >12</text>
<line x1="431.5" y1="1144.4" x2="435.0" y2="1144.4" stroke="#555" stroke-width="0.8"/>
<text x="429.3" y="1149.0" font-size="13" text-anchor="end" fill="#111" >8</text>
<line x1="431.5" y1="1187.6" x2="435.0" y2="1187.6" stroke="#555" stroke-width="0.8"/>
<text x="429.3" y="1192.2" font-size="13" text-anchor="end" fill="#111" >4</text>
<line x1="431.5" y1="1036.4" x2="435.0" y2="1036.4" stroke="#555" stroke-width="0.8"/>
<line x1="431.5" y1="1079.6" x2="435.0" y2="1079.6" stroke="#555" stroke-width="0.8"/>
<line x1="431.5" y1="1122.8" x2="435.0" y2="1122.8" stroke="#555" stroke-width="0.8"/>
<line x1="431.5" y1="1166.0" x2="435.0" y2="1166.0" stroke="#555" stroke-width="0.8"/>
<text x="458.0" y="1204.5" font-size="12.5" text-anchor="middle" fill="#111" >0</text>
<text x="518.7" y="1204.5" font-size="12.5" text-anchor="middle" fill="#111" >100</text>
<text x="579.4" y="1204.5" font-size="12.5" text-anchor="middle" fill="#111" >200</text>
<text x="640.1" y="1204.5" font-size="12.5" text-anchor="middle" fill="#111" >300</text>
<text x="700.8" y="1204.5" font-size="12.5" text-anchor="middle" fill="#111" >400</text>
<line x1="488.4" y1="1190.0" x2="488.4" y2="1188.0" stroke="#999" stroke-width="0.8"/>
<line x1="549.0" y1="1190.0" x2="549.0" y2="1188.0" stroke="#999" stroke-width="0.8"/>
<line x1="609.8" y1="1190.0" x2="609.8" y2="1188.0" stroke="#999" stroke-width="0.8"/>
<line x1="670.5" y1="1190.0" x2="670.5" y2="1188.0" stroke="#999" stroke-width="0.8"/>
</g>
<g>
<linearGradient id="g91" gradientUnits="objectBoundingBox" x1="0" x2="1" y1="0" y2="0"><stop offset="-0.0045" stop-color="#80ff80"/><stop offset="0.0380" stop-color="#80ff80"/><stop offset="0.0804" stop-color="#80ff80"/><stop offset="0.1229" stop-color="#a2ff5e"/><stop offset="0.1653" stop-color="#a2ff5e"/><stop offset="0.2078" stop-color="#5dffa2"/><stop offset="0.2502" stop-color="#5dffa2"/><stop offset="0.2927" stop-color="#80ff80"/><stop offset="0.3351" stop-color="#c4ff3b"/><stop offset="0.3776" stop-color="#80ff80"/><stop offset="0.4200" stop-color="#5dffa2"/><stop offset="0.4624" stop-color="#5dffa2"/><stop offset="0.5049" stop-color="#3cffc3"/><stop offset="0.5473" stop-color="#1affe5"/><stop offset="0.5898" stop-color="#00f7ff"/><stop offset="0.6322" stop-color="#1affe5"/><stop offset="0.6747" stop-color="#3cffc3"/><stop offset="0.7171" stop-color="#3cffc3"/><stop offset="0.7596" stop-color="#5dffa2"/><stop offset="0.8020" stop-color="#5dffa2"/><stop offset="0.8445" stop-color="#5dffa2"/><stop offset="0.8869" stop-color="#5dffa2"/><stop offset="0.9294" stop-color="#3cffc3"/><stop offset="0.9718" stop-color="#3cffc3"/><stop offset="1.0143" stop-color="#3cffc3"/></linearGradient>
<rect x="769.0" y="1013.00" width="286.0" height="28.63" fill="url(#g91)"/>
<linearGradient id="g92" gradientUnits="objectBoundingBox" x1="0" x2="1" y1="0" y2="0"><stop offset="-0.0045" stop-color="#80ff80"/><stop offset="0.0380" stop-color="#80ff80"/><stop offset="0.0804" stop-color="#5dffa2"/><stop offset="0.1229" stop-color="#5dffa2"/><stop offset="0.1653" stop-color="#5dffa2"/><stop offset="0.2078" stop-color="#3cffc3"/><stop offset="0.2502" stop-color="#5dffa2"/><stop offset="0.2927" stop-color="#80ff80"/><stop offset="0.3351" stop-color="#80ff80"/><stop offset="0.3776" stop-color="#80ff80"/><stop offset="0.4200" stop-color="#80ff80"/><stop offset="0.4624" stop-color="#5dffa2"/><stop offset="0.5049" stop-color="#5dffa2"/><stop offset="0.5473" stop-color="#5dffa2"/><stop offset="0.5898" stop-color="#80ff80"/><stop offset="0.6322" stop-color="#e6ff19"/><stop offset="0.6747" stop-color="#c4ff3b"/><stop offset="0.7171" stop-color="#80ff80"/><stop offset="0.7596" stop-color="#5dffa2"/><stop offset="0.8020" stop-color="#5dffa2"/><stop offset="0.8445" stop-color="#3cffc3"/><stop offset="0.8869" stop-color="#1affe5"/><stop offset="0.9294" stop-color="#00f7ff"/><stop offset="0.9718" stop-color="#1affe5"/><stop offset="1.0143" stop-color="#3cffc3"/></linearGradient>
<rect x="769.0" y="1040.43" width="286.0" height="45.27" fill="url(#g92)"/>
<linearGradient id="g93" gradientUnits="objectBoundingBox" x1="0" x2="1" y1="0" y2="0"><stop offset="-0.0045" stop-color="#80ff80"/><stop offset="0.0380" stop-color="#80ff80"/><stop offset="0.0804" stop-color="#3cffc3"/><stop offset="0.1229" stop-color="#3cffc3"/><stop offset="0.1653" stop-color="#3cffc3"/><stop offset="0.2078" stop-color="#5dffa2"/><stop offset="0.2502" stop-color="#a2ff5e"/><stop offset="0.2927" stop-color="#c4ff3b"/><stop offset="0.3351" stop-color="#c4ff3b"/><stop offset="0.3776" stop-color="#a2ff5e"/><stop offset="0.4200" stop-color="#a2ff5e"/><stop offset="0.4624" stop-color="#a2ff5e"/><stop offset="0.5049" stop-color="#c4ff3b"/><stop offset="0.5473" stop-color="#ffb200"/><stop offset="0.5898" stop-color="#ff6e00"/><stop offset="0.6322" stop-color="#ff4d00"/><stop offset="0.6747" stop-color="#ff6e00"/><stop offset="0.7171" stop-color="#ffb200"/><stop offset="0.7596" stop-color="#fff700"/><stop offset="0.8020" stop-color="#e6ff19"/><stop offset="0.8445" stop-color="#5dffa2"/><stop offset="0.8869" stop-color="#3cffc3"/><stop offset="0.9294" stop-color="#3cffc3"/><stop offset="0.9718" stop-color="#3cffc3"/><stop offset="1.0143" stop-color="#5dffa2"/></linearGradient>
<rect x="769.0" y="1084.51" width="286.0" height="40.32" fill="url(#g93)"/>
<linearGradient id="g94" gradientUnits="objectBoundingBox" x1="0" x2="1" y1="0" y2="0"><stop offset="-0.0045" stop-color="#80ff80"/><stop offset="0.0380" stop-color="#80ff80"/><stop offset="0.0804" stop-color="#3cffc3"/><stop offset="0.1229" stop-color="#3cffc3"/><stop offset="0.1653" stop-color="#5dffa2"/><stop offset="0.2078" stop-color="#a2ff5e"/><stop offset="0.2502" stop-color="#c4ff3b"/><stop offset="0.2927" stop-color="#e6ff19"/><stop offset="0.3351" stop-color="#e6ff19"/><stop offset="0.3776" stop-color="#c4ff3b"/><stop offset="0.4200" stop-color="#c4ff3b"/><stop offset="0.4624" stop-color="#c4ff3b"/><stop offset="0.5049" stop-color="#fff700"/><stop offset="0.5473" stop-color="#ff9000"/><stop offset="0.5898" stop-color="#ff2a00"/><stop offset="0.6322" stop-color="#ff2a00"/><stop offset="0.6747" stop-color="#ff2a00"/><stop offset="0.7171" stop-color="#ff6e00"/><stop offset="0.7596" stop-color="#ff9000"/><stop offset="0.8020" stop-color="#ffb200"/><stop offset="0.8445" stop-color="#c4ff3b"/><stop offset="0.8869" stop-color="#80ff80"/><stop offset="0.9294" stop-color="#80ff80"/><stop offset="0.9718" stop-color="#80ff80"/><stop offset="1.0143" stop-color="#80ff80"/></linearGradient>
<rect x="769.0" y="1123.62" width="286.0" height="45.80" fill="url(#g94)"/>
<linearGradient id="g95" gradientUnits="objectBoundingBox" x1="0" x2="1" y1="0" y2="0"><stop offset="-0.0045" stop-color="#80ff80"/><stop offset="0.0380" stop-color="#5dffa2"/><stop offset="0.0804" stop-color="#3cffc3"/><stop offset="0.1229" stop-color="#3cffc3"/><stop offset="0.1653" stop-color="#5dffa2"/><stop offset="0.2078" stop-color="#a2ff5e"/><stop offset="0.2502" stop-color="#c4ff3b"/><stop offset="0.2927" stop-color="#c4ff3b"/><stop offset="0.3351" stop-color="#e6ff19"/><stop offset="0.3776" stop-color="#a2ff5e"/><stop offset="0.4200" stop-color="#a2ff5e"/><stop offset="0.4624" stop-color="#e6ff19"/><stop offset="0.5049" stop-color="#fff700"/><stop offset="0.5473" stop-color="#ffb200"/><stop offset="0.5898" stop-color="#ff2a00"/><stop offset="0.6322" stop-color="#ff4d00"/><stop offset="0.6747" stop-color="#ff2a00"/><stop offset="0.7171" stop-color="#ff0800"/><stop offset="0.7596" stop-color="#ffb200"/><stop offset="0.8020" stop-color="#fff700"/><stop offset="0.8445" stop-color="#c4ff3b"/><stop offset="0.8869" stop-color="#a2ff5e"/><stop offset="0.9294" stop-color="#80ff80"/><stop offset="0.9718" stop-color="#a2ff5e"/><stop offset="1.0143" stop-color="#c4ff3b"/></linearGradient>
<rect x="769.0" y="1168.23" width="286.0" height="21.77" fill="url(#g95)"/>
<rect x="769.0" y="1013.0" width="286.0" height="177.0" fill="none" stroke="#7a7a7a" stroke-width="1"/>
<line x1="792.0" y1="1014.5" x2="792.0" y2="1190.0" stroke="#4a3f48" stroke-opacity="0.7" stroke-width="1" stroke-dasharray="1.7,1.66"/>
<line x1="765.5" y1="1014.8" x2="769.0" y2="1014.8" stroke="#555" stroke-width="0.8"/>
<text x="763.3" y="1019.4" font-size="13" text-anchor="end" fill="#111" >20</text>
<line x1="765.5" y1="1058.0" x2="769.0" y2="1058.0" stroke="#555" stroke-width="0.8"/>
<text x="763.3" y="1062.6" font-size="13" text-anchor="end" fill="#111" >16</text>
<line x1="765.5" y1="1101.2" x2="769.0" y2="1101.2" stroke="#555" stroke-width="0.8"/>
<text x="763.3" y="1105.8" font-size="13" text-anchor="end" fill="#111" >12</text>
<line x1="765.5" y1="1144.4" x2="769.0" y2="1144.4" stroke="#555" stroke-width="0.8"/>
<text x="763.3" y="1149.0" font-size="13" text-anchor="end" fill="#111" >8</text>
<line x1="765.5" y1="1187.6" x2="769.0" y2="1187.6" stroke="#555" stroke-width="0.8"/>
<text x="763.3" y="1192.2" font-size="13" text-anchor="end" fill="#111" >4</text>
<line x1="765.5" y1="1036.4" x2="769.0" y2="1036.4" stroke="#555" stroke-width="0.8"/>
<line x1="765.5" y1="1079.6" x2="769.0" y2="1079.6" stroke="#555" stroke-width="0.8"/>
<line x1="765.5" y1="1122.8" x2="769.0" y2="1122.8" stroke="#555" stroke-width="0.8"/>
<line x1="765.5" y1="1166.0" x2="769.0" y2="1166.0" stroke="#555" stroke-width="0.8"/>
<text x="792.0" y="1204.5" font-size="12.5" text-anchor="middle" fill="#111" >0</text>
<text x="852.7" y="1204.5" font-size="12.5" text-anchor="middle" fill="#111" >100</text>
<text x="913.4" y="1204.5" font-size="12.5" text-anchor="middle" fill="#111" >200</text>
<text x="974.1" y="1204.5" font-size="12.5" text-anchor="middle" fill="#111" >300</text>
<text x="1034.8" y="1204.5" font-size="12.5" text-anchor="middle" fill="#111" >400</text>
<line x1="822.4" y1="1190.0" x2="822.4" y2="1188.0" stroke="#999" stroke-width="0.8"/>
<line x1="883.0" y1="1190.0" x2="883.0" y2="1188.0" stroke="#999" stroke-width="0.8"/>
<line x1="943.8" y1="1190.0" x2="943.8" y2="1188.0" stroke="#999" stroke-width="0.8"/>
<line x1="1004.5" y1="1190.0" x2="1004.5" y2="1188.0" stroke="#999" stroke-width="0.8"/>
</g>
<g>
<linearGradient id="g96" gradientUnits="objectBoundingBox" x1="0" x2="1" y1="0" y2="0"><stop offset="-0.0045" stop-color="#80ff80"/><stop offset="0.0380" stop-color="#80ff80"/><stop offset="0.0804" stop-color="#80ff80"/><stop offset="0.1229" stop-color="#a2ff5e"/><stop offset="0.1653" stop-color="#5dffa2"/><stop offset="0.2078" stop-color="#5dffa2"/><stop offset="0.2502" stop-color="#80ff80"/><stop offset="0.2927" stop-color="#a2ff5e"/><stop offset="0.3351" stop-color="#80ff80"/><stop offset="0.3776" stop-color="#5dffa2"/><stop offset="0.4200" stop-color="#5dffa2"/><stop offset="0.4624" stop-color="#3cffc3"/><stop offset="0.5049" stop-color="#3cffc3"/><stop offset="0.5473" stop-color="#5dffa2"/><stop offset="0.5898" stop-color="#5dffa2"/><stop offset="0.6322" stop-color="#3cffc3"/><stop offset="0.6747" stop-color="#5dffa2"/><stop offset="0.7171" stop-color="#a2ff5e"/><stop offset="0.7596" stop-color="#e6ff19"/><stop offset="0.8020" stop-color="#c4ff3b"/><stop offset="0.8445" stop-color="#80ff80"/><stop offset="0.8869" stop-color="#80ff80"/><stop offset="0.9294" stop-color="#c4ff3b"/><stop offset="0.9718" stop-color="#c4ff3b"/><stop offset="1.0143" stop-color="#c4ff3b"/></linearGradient>
<rect x="1100.0" y="1013.00" width="286.0" height="28.63" fill="url(#g96)"/>
<linearGradient id="g97" gradientUnits="objectBoundingBox" x1="0" x2="1" y1="0" y2="0"><stop offset="-0.0045" stop-color="#80ff80"/><stop offset="0.0380" stop-color="#80ff80"/><stop offset="0.0804" stop-color="#80ff80"/><stop offset="0.1229" stop-color="#a2ff5e"/><stop offset="0.1653" stop-color="#a2ff5e"/><stop offset="0.2078" stop-color="#c4ff3b"/><stop offset="0.2502" stop-color="#fff700"/><stop offset="0.2927" stop-color="#fff700"/><stop offset="0.3351" stop-color="#c4ff3b"/><stop offset="0.3776" stop-color="#5dffa2"/><stop offset="0.4200" stop-color="#5dffa2"/><stop offset="0.4624" stop-color="#5dffa2"/><stop offset="0.5049" stop-color="#5dffa2"/><stop offset="0.5473" stop-color="#5dffa2"/><stop offset="0.5898" stop-color="#80ff80"/><stop offset="0.6322" stop-color="#a2ff5e"/><stop offset="0.6747" stop-color="#c4ff3b"/><stop offset="0.7171" stop-color="#c4ff3b"/><stop offset="0.7596" stop-color="#c4ff3b"/><stop offset="0.8020" stop-color="#a2ff5e"/><stop offset="0.8445" stop-color="#1affe5"/><stop offset="0.8869" stop-color="#00f7ff"/><stop offset="0.9294" stop-color="#1affe5"/><stop offset="0.9718" stop-color="#3cffc3"/><stop offset="1.0143" stop-color="#3cffc3"/></linearGradient>
<rect x="1100.0" y="1040.43" width="286.0" height="45.27" fill="url(#g97)"/>
<linearGradient id="g98" gradientUnits="objectBoundingBox" x1="0" x2="1" y1="0" y2="0"><stop offset="-0.0045" stop-color="#80ff80"/><stop offset="0.0380" stop-color="#80ff80"/><stop offset="0.0804" stop-color="#80ff80"/><stop offset="0.1229" stop-color="#a2ff5e"/><stop offset="0.1653" stop-color="#e6ff19"/><stop offset="0.2078" stop-color="#fff700"/><stop offset="0.2502" stop-color="#ffb200"/><stop offset="0.2927" stop-color="#ff9000"/><stop offset="0.3351" stop-color="#fff700"/><stop offset="0.3776" stop-color="#c4ff3b"/><stop offset="0.4200" stop-color="#a2ff5e"/><stop offset="0.4624" stop-color="#a2ff5e"/><stop offset="0.5049" stop-color="#c4ff3b"/><stop offset="0.5473" stop-color="#fff700"/><stop offset="0.5898" stop-color="#ffd500"/><stop offset="0.6322" stop-color="#ffd500"/><stop offset="0.6747" stop-color="#ffd500"/><stop offset="0.7171" stop-color="#ffd500"/><stop offset="0.7596" stop-color="#fff700"/><stop offset="0.8020" stop-color="#c4ff3b"/><stop offset="0.8445" stop-color="#80ff80"/><stop offset="0.8869" stop-color="#5dffa2"/><stop offset="0.9294" stop-color="#5dffa2"/><stop offset="0.9718" stop-color="#5dffa2"/><stop offset="1.0143" stop-color="#5dffa2"/></linearGradient>
<rect x="1100.0" y="1084.51" width="286.0" height="40.32" fill="url(#g98)"/>
<linearGradient id="g99" gradientUnits="objectBoundingBox" x1="0" x2="1" y1="0" y2="0"><stop offset="-0.0045" stop-color="#80ff80"/><stop offset="0.0380" stop-color="#80ff80"/><stop offset="0.0804" stop-color="#a2ff5e"/><stop offset="0.1229" stop-color="#c4ff3b"/><stop offset="0.1653" stop-color="#fff700"/><stop offset="0.2078" stop-color="#ffb200"/><stop offset="0.2502" stop-color="#ff9000"/><stop offset="0.2927" stop-color="#ff6e00"/><stop offset="0.3351" stop-color="#ffb200"/><stop offset="0.3776" stop-color="#fff700"/><stop offset="0.4200" stop-color="#c4ff3b"/><stop offset="0.4624" stop-color="#c4ff3b"/><stop offset="0.5049" stop-color="#fff700"/><stop offset="0.5473" stop-color="#ffb200"/><stop offset="0.5898" stop-color="#ff9000"/><stop offset="0.6322" stop-color="#ff9000"/><stop offset="0.6747" stop-color="#ff9000"/><stop offset="0.7171" stop-color="#ffb200"/><stop offset="0.7596" stop-color="#ffd500"/><stop offset="0.8020" stop-color="#fff700"/><stop offset="0.8445" stop-color="#c4ff3b"/><stop offset="0.8869" stop-color="#a2ff5e"/><stop offset="0.9294" stop-color="#a2ff5e"/><stop offset="0.9718" stop-color="#80ff80"/><stop offset="1.0143" stop-color="#80ff80"/></linearGradient>
<rect x="1100.0" y="1123.62" width="286.0" height="45.80" fill="url(#g99)"/>
<linearGradient id="g100" gradientUnits="objectBoundingBox" x1="0" x2="1" y1="0" y2="0"><stop offset="-0.0045" stop-color="#80ff80"/><stop offset="0.0380" stop-color="#5dffa2"/><stop offset="0.0804" stop-color="#80ff80"/><stop offset="0.1229" stop-color="#c4ff3b"/><stop offset="0.1653" stop-color="#fff700"/><stop offset="0.2078" stop-color="#ff9000"/><stop offset="0.2502" stop-color="#ff9000"/><stop offset="0.2927" stop-color="#ff6e00"/><stop offset="0.3351" stop-color="#ff9000"/><stop offset="0.3776" stop-color="#ffd500"/><stop offset="0.4200" stop-color="#fff700"/><stop offset="0.4624" stop-color="#c4ff3b"/><stop offset="0.5049" stop-color="#e6ff19"/><stop offset="0.5473" stop-color="#ffb200"/><stop offset="0.5898" stop-color="#ffb200"/><stop offset="0.6322" stop-color="#ff9000"/><stop offset="0.6747" stop-color="#ff6e00"/><stop offset="0.7171" stop-color="#ffb200"/><stop offset="0.7596" stop-color="#ffb200"/><stop offset="0.8020" stop-color="#ffd500"/><stop offset="0.8445" stop-color="#e6ff19"/><stop offset="0.8869" stop-color="#c4ff3b"/><stop offset="0.9294" stop-color="#c4ff3b"/><stop offset="0.9718" stop-color="#a2ff5e"/><stop offset="1.0143" stop-color="#80ff80"/></linearGradient>
<rect x="1100.0" y="1168.23" width="286.0" height="21.77" fill="url(#g100)"/>
<rect x="1100.0" y="1013.0" width="286.0" height="177.0" fill="none" stroke="#7a7a7a" stroke-width="1"/>
<line x1="1123.0" y1="1014.5" x2="1123.0" y2="1190.0" stroke="#4a3f48" stroke-opacity="0.7" stroke-width="1" stroke-dasharray="1.7,1.66"/>
<line x1="1096.5" y1="1014.8" x2="1100.0" y2="1014.8" stroke="#555" stroke-width="0.8"/>
<text x="1094.3" y="1019.4" font-size="13" text-anchor="end" fill="#111" >20</text>
<line x1="1096.5" y1="1058.0" x2="1100.0" y2="1058.0" stroke="#555" stroke-width="0.8"/>
<text x="1094.3" y="1062.6" font-size="13" text-anchor="end" fill="#111" >16</text>
<line x1="1096.5" y1="1101.2" x2="1100.0" y2="1101.2" stroke="#555" stroke-width="0.8"/>
<text x="1094.3" y="1105.8" font-size="13" text-anchor="end" fill="#111" >12</text>
<line x1="1096.5" y1="1144.4" x2="1100.0" y2="1144.4" stroke="#555" stroke-width="0.8"/>
<text x="1094.3" y="1149.0" font-size="13" text-anchor="end" fill="#111" >8</text>
<line x1="1096.5" y1="1187.6" x2="1100.0" y2="1187.6" stroke="#555" stroke-width="0.8"/>
<text x="1094.3" y="1192.2" font-size="13" text-anchor="end" fill="#111" >4</text>
<line x1="1096.5" y1="1036.4" x2="1100.0" y2="1036.4" stroke="#555" stroke-width="0.8"/>
<line x1="1096.5" y1="1079.6" x2="1100.0" y2="1079.6" stroke="#555" stroke-width="0.8"/>
<line x1="1096.5" y1="1122.8" x2="1100.0" y2="1122.8" stroke="#555" stroke-width="0.8"/>
<line x1="1096.5" y1="1166.0" x2="1100.0" y2="1166.0" stroke="#555" stroke-width="0.8"/>
<text x="1123.0" y="1204.5" font-size="12.5" text-anchor="middle" fill="#111" >0</text>
<text x="1183.7" y="1204.5" font-size="12.5" text-anchor="middle" fill="#111" >100</text>
<text x="1244.4" y="1204.5" font-size="12.5" text-anchor="middle" fill="#111" >200</text>
<text x="1305.1" y="1204.5" font-size="12.5" text-anchor="middle" fill="#111" >300</text>
<text x="1365.8" y="1204.5" font-size="12.5" text-anchor="middle" fill="#111" >400</text>
<line x1="1153.3" y1="1190.0" x2="1153.3" y2="1188.0" stroke="#999" stroke-width="0.8"/>
<line x1="1214.0" y1="1190.0" x2="1214.0" y2="1188.0" stroke="#999" stroke-width="0.8"/>
<line x1="1274.8" y1="1190.0" x2="1274.8" y2="1188.0" stroke="#999" stroke-width="0.8"/>
<line x1="1335.5" y1="1190.0" x2="1335.5" y2="1188.0" stroke="#999" stroke-width="0.8"/>
</g>
<text x="32.5" y="1103.0" font-size="26.5" text-anchor="middle" transform="rotate(-90 32.5 1103.0)" >15 mg</text>
<g>
<linearGradient id="g101" gradientUnits="objectBoundingBox" x1="0" x2="1" y1="0" y2="0"><stop offset="-0.0045" stop-color="#80ff80"/><stop offset="0.0380" stop-color="#80ff80"/><stop offset="0.0804" stop-color="#80ff80"/><stop offset="0.1229" stop-color="#a2ff5e"/><stop offset="0.1653" stop-color="#a2ff5e"/><stop offset="0.2078" stop-color="#a2ff5e"/><stop offset="0.2502" stop-color="#c4ff3b"/><stop offset="0.2927" stop-color="#c4ff3b"/><stop offset="0.3351" stop-color="#c4ff3b"/><stop offset="0.3776" stop-color="#e6ff19"/><stop offset="0.4200" stop-color="#fff700"/><stop offset="0.4624" stop-color="#fff700"/><stop offset="0.5049" stop-color="#c4ff3b"/><stop offset="0.5473" stop-color="#80ff80"/><stop offset="0.5898" stop-color="#80ff80"/><stop offset="0.6322" stop-color="#a2ff5e"/><stop offset="0.6747" stop-color="#fff700"/><stop offset="0.7171" stop-color="#fff700"/><stop offset="0.7596" stop-color="#c4ff3b"/><stop offset="0.8020" stop-color="#c4ff3b"/><stop offset="0.8445" stop-color="#c4ff3b"/><stop offset="0.8869" stop-color="#c4ff3b"/><stop offset="0.9294" stop-color="#c4ff3b"/><stop offset="0.9718" stop-color="#e6ff19"/><stop offset="1.0143" stop-color="#ffb200"/></linearGradient>
<rect x="101.2" y="1227.80" width="286.0" height="28.63" fill="url(#g101)"/>
<linearGradient id="g102" gradientUnits="objectBoundingBox" x1="0" x2="1" y1="0" y2="0"><stop offset="-0.0045" stop-color="#80ff80"/><stop offset="0.0380" stop-color="#5dffa2"/><stop offset="0.0804" stop-color="#3cffc3"/><stop offset="0.1229" stop-color="#3cffc3"/><stop offset="0.1653" stop-color="#5dffa2"/><stop offset="0.2078" stop-color="#80ff80"/><stop offset="0.2502" stop-color="#80ff80"/><stop offset="0.2927" stop-color="#80ff80"/><stop offset="0.3351" stop-color="#a2ff5e"/><stop offset="0.3776" stop-color="#a2ff5e"/><stop offset="0.4200" stop-color="#a2ff5e"/><stop offset="0.4624" stop-color="#a2ff5e"/><stop offset="0.5049" stop-color="#80ff80"/><stop offset="0.5473" stop-color="#5dffa2"/><stop offset="0.5898" stop-color="#3cffc3"/><stop offset="0.6322" stop-color="#5dffa2"/><stop offset="0.6747" stop-color="#a2ff5e"/><stop offset="0.7171" stop-color="#a2ff5e"/><stop offset="0.7596" stop-color="#80ff80"/><stop offset="0.8020" stop-color="#5dffa2"/><stop offset="0.8445" stop-color="#5dffa2"/><stop offset="0.8869" stop-color="#3cffc3"/><stop offset="0.9294" stop-color="#3cffc3"/><stop offset="0.9718" stop-color="#5dffa2"/><stop offset="1.0143" stop-color="#a2ff5e"/></linearGradient>
<rect x="101.2" y="1255.23" width="286.0" height="45.27" fill="url(#g102)"/>
<linearGradient id="g103" gradientUnits="objectBoundingBox" x1="0" x2="1" y1="0" y2="0"><stop offset="-0.0045" stop-color="#80ff80"/><stop offset="0.0380" stop-color="#5dffa2"/><stop offset="0.0804" stop-color="#5dffa2"/><stop offset="0.1229" stop-color="#3cffc3"/><stop offset="0.1653" stop-color="#3cffc3"/><stop offset="0.2078" stop-color="#3cffc3"/><stop offset="0.2502" stop-color="#3cffc3"/><stop offset="0.2927" stop-color="#3cffc3"/><stop offset="0.3351" stop-color="#3cffc3"/><stop offset="0.3776" stop-color="#1affe5"/><stop offset="0.4200" stop-color="#1affe5"/><stop offset="0.4624" stop-color="#1affe5"/><stop offset="0.5049" stop-color="#1affe5"/><stop offset="0.5473" stop-color="#1affe5"/><stop offset="0.5898" stop-color="#1affe5"/><stop offset="0.6322" stop-color="#1affe5"/><stop offset="0.6747" stop-color="#3cffc3"/><stop offset="0.7171" stop-color="#3cffc3"/><stop offset="0.7596" stop-color="#3cffc3"/><stop offset="0.8020" stop-color="#5dffa2"/><stop offset="0.8445" stop-color="#5dffa2"/><stop offset="0.8869" stop-color="#5dffa2"/><stop offset="0.9294" stop-color="#5dffa2"/><stop offset="0.9718" stop-color="#5dffa2"/><stop offset="1.0143" stop-color="#5dffa2"/></linearGradient>
<rect x="101.2" y="1299.31" width="286.0" height="40.32" fill="url(#g103)"/>
<linearGradient id="g104" gradientUnits="objectBoundingBox" x1="0" x2="1" y1="0" y2="0"><stop offset="-0.0045" stop-color="#80ff80"/><stop offset="0.0380" stop-color="#5dffa2"/><stop offset="0.0804" stop-color="#5dffa2"/><stop offset="0.1229" stop-color="#5dffa2"/><stop offset="0.1653" stop-color="#3cffc3"/><stop offset="0.2078" stop-color="#3cffc3"/><stop offset="0.2502" stop-color="#5dffa2"/><stop offset="0.2927" stop-color="#3cffc3"/><stop offset="0.3351" stop-color="#3cffc3"/><stop offset="0.3776" stop-color="#1affe5"/><stop offset="0.4200" stop-color="#1affe5"/><stop offset="0.4624" stop-color="#00f7ff"/><stop offset="0.5049" stop-color="#00f7ff"/><stop offset="0.5473" stop-color="#1affe5"/><stop offset="0.5898" stop-color="#3cffc3"/><stop offset="0.6322" stop-color="#3cffc3"/><stop offset="0.6747" stop-color="#5dffa2"/><stop offset="0.7171" stop-color="#5dffa2"/><stop offset="0.7596" stop-color="#5dffa2"/><stop offset="0.8020" stop-color="#5dffa2"/><stop offset="0.8445" stop-color="#80ff80"/><stop offset="0.8869" stop-color="#80ff80"/><stop offset="0.9294" stop-color="#5dffa2"/><stop offset="0.9718" stop-color="#5dffa2"/><stop offset="1.0143" stop-color="#5dffa2"/></linearGradient>
<rect x="101.2" y="1338.42" width="286.0" height="45.80" fill="url(#g104)"/>
<linearGradient id="g105" gradientUnits="objectBoundingBox" x1="0" x2="1" y1="0" y2="0"><stop offset="-0.0045" stop-color="#a2ff5e"/><stop offset="0.0380" stop-color="#80ff80"/><stop offset="0.0804" stop-color="#00f7ff"/><stop offset="0.1229" stop-color="#a2ff5e"/><stop offset="0.1653" stop-color="#5dffa2"/><stop offset="0.2078" stop-color="#1affe5"/><stop offset="0.2502" stop-color="#5dffa2"/><stop offset="0.2927" stop-color="#5dffa2"/><stop offset="0.3351" stop-color="#3cffc3"/><stop offset="0.3776" stop-color="#3cffc3"/><stop offset="0.4200" stop-color="#1affe5"/><stop offset="0.4624" stop-color="#1affe5"/><stop offset="0.5049" stop-color="#00d4ff"/><stop offset="0.5473" stop-color="#3cffc3"/><stop offset="0.5898" stop-color="#3cffc3"/><stop offset="0.6322" stop-color="#1affe5"/><stop offset="0.6747" stop-color="#5dffa2"/><stop offset="0.7171" stop-color="#3cffc3"/><stop offset="0.7596" stop-color="#5dffa2"/><stop offset="0.8020" stop-color="#5dffa2"/><stop offset="0.8445" stop-color="#80ff80"/><stop offset="0.8869" stop-color="#80ff80"/><stop offset="0.9294" stop-color="#80ff80"/><stop offset="0.9718" stop-color="#80ff80"/><stop offset="1.0143" stop-color="#80ff80"/></linearGradient>
<rect x="101.2" y="1383.03" width="286.0" height="21.77" fill="url(#g105)"/>
<rect x="101.2" y="1227.8" width="286.0" height="177.0" fill="none" stroke="#7a7a7a" stroke-width="1"/>
<line x1="124.2" y1="1229.3" x2="124.2" y2="1404.8" stroke="#4a3f48" stroke-opacity="0.7" stroke-width="1" stroke-dasharray="1.7,1.66"/>
<line x1="97.7" y1="1229.6" x2="101.2" y2="1229.6" stroke="#555" stroke-width="0.8"/>
<text x="95.5" y="1234.2" font-size="13" text-anchor="end" fill="#111" >20</text>
<line x1="97.7" y1="1272.8" x2="101.2" y2="1272.8" stroke="#555" stroke-width="0.8"/>
<text x="95.5" y="1277.4" font-size="13" text-anchor="end" fill="#111" >16</text>
<line x1="97.7" y1="1316.0" x2="101.2" y2="1316.0" stroke="#555" stroke-width="0.8"/>
<text x="95.5" y="1320.6" font-size="13" text-anchor="end" fill="#111" >12</text>
<line x1="97.7" y1="1359.2" x2="101.2" y2="1359.2" stroke="#555" stroke-width="0.8"/>
<text x="95.5" y="1363.8" font-size="13" text-anchor="end" fill="#111" >8</text>
<line x1="97.7" y1="1402.4" x2="101.2" y2="1402.4" stroke="#555" stroke-width="0.8"/>
<text x="95.5" y="1407.0" font-size="13" text-anchor="end" fill="#111" >4</text>
<line x1="97.7" y1="1251.2" x2="101.2" y2="1251.2" stroke="#555" stroke-width="0.8"/>
<line x1="97.7" y1="1294.4" x2="101.2" y2="1294.4" stroke="#555" stroke-width="0.8"/>
<line x1="97.7" y1="1337.6" x2="101.2" y2="1337.6" stroke="#555" stroke-width="0.8"/>
<line x1="97.7" y1="1380.8" x2="101.2" y2="1380.8" stroke="#555" stroke-width="0.8"/>
<text x="124.2" y="1419.3" font-size="12.5" text-anchor="middle" fill="#111" >0</text>
<text x="184.9" y="1419.3" font-size="12.5" text-anchor="middle" fill="#111" >100</text>
<text x="245.6" y="1419.3" font-size="12.5" text-anchor="middle" fill="#111" >200</text>
<text x="306.3" y="1419.3" font-size="12.5" text-anchor="middle" fill="#111" >300</text>
<text x="367.0" y="1419.3" font-size="12.5" text-anchor="middle" fill="#111" >400</text>
<line x1="154.6" y1="1404.8" x2="154.6" y2="1402.8" stroke="#999" stroke-width="0.8"/>
<line x1="215.2" y1="1404.8" x2="215.2" y2="1402.8" stroke="#999" stroke-width="0.8"/>
<line x1="275.9" y1="1404.8" x2="275.9" y2="1402.8" stroke="#999" stroke-width="0.8"/>
<line x1="336.6" y1="1404.8" x2="336.6" y2="1402.8" stroke="#999" stroke-width="0.8"/>
</g>
<g>
<linearGradient id="g106" gradientUnits="objectBoundingBox" x1="0" x2="1" y1="0" y2="0"><stop offset="-0.0045" stop-color="#5dffa2"/><stop offset="0.0380" stop-color="#5dffa2"/><stop offset="0.0804" stop-color="#80ff80"/><stop offset="0.1229" stop-color="#5dffa2"/><stop offset="0.1653" stop-color="#5dffa2"/><stop offset="0.2078" stop-color="#80ff80"/><stop offset="0.2502" stop-color="#c4ff3b"/><stop offset="0.2927" stop-color="#fff700"/><stop offset="0.3351" stop-color="#fff700"/><stop offset="0.3776" stop-color="#c4ff3b"/><stop offset="0.4200" stop-color="#a2ff5e"/><stop offset="0.4624" stop-color="#80ff80"/><stop offset="0.5049" stop-color="#5dffa2"/><stop offset="0.5473" stop-color="#5dffa2"/><stop offset="0.5898" stop-color="#80ff80"/><stop offset="0.6322" stop-color="#a2ff5e"/><stop offset="0.6747" stop-color="#a2ff5e"/><stop offset="0.7171" stop-color="#5dffa2"/><stop offset="0.7596" stop-color="#00f7ff"/><stop offset="0.8020" stop-color="#1affe5"/><stop offset="0.8445" stop-color="#80ff80"/><stop offset="0.8869" stop-color="#c4ff3b"/><stop offset="0.9294" stop-color="#e6ff19"/><stop offset="0.9718" stop-color="#fff700"/><stop offset="1.0143" stop-color="#ffb200"/></linearGradient>
<rect x="435.0" y="1227.80" width="286.0" height="28.63" fill="url(#g106)"/>
<linearGradient id="g107" gradientUnits="objectBoundingBox" x1="0" x2="1" y1="0" y2="0"><stop offset="-0.0045" stop-color="#5dffa2"/><stop offset="0.0380" stop-color="#5dffa2"/><stop offset="0.0804" stop-color="#a2ff5e"/><stop offset="0.1229" stop-color="#e6ff19"/><stop offset="0.1653" stop-color="#e6ff19"/><stop offset="0.2078" stop-color="#fff700"/><stop offset="0.2502" stop-color="#ffb200"/><stop offset="0.2927" stop-color="#ff6e00"/><stop offset="0.3351" stop-color="#ff9000"/><stop offset="0.3776" stop-color="#e6ff19"/><stop offset="0.4200" stop-color="#c4ff3b"/><stop offset="0.4624" stop-color="#a2ff5e"/><stop offset="0.5049" stop-color="#80ff80"/><stop offset="0.5473" stop-color="#80ff80"/><stop offset="0.5898" stop-color="#80ff80"/><stop offset="0.6322" stop-color="#a2ff5e"/><stop offset="0.6747" stop-color="#c4ff3b"/><stop offset="0.7171" stop-color="#a2ff5e"/><stop offset="0.7596" stop-color="#3cffc3"/><stop offset="0.8020" stop-color="#5dffa2"/><stop offset="0.8445" stop-color="#c4ff3b"/><stop offset="0.8869" stop-color="#ffd500"/><stop offset="0.9294" stop-color="#ffb200"/><stop offset="0.9718" stop-color="#ffb200"/><stop offset="1.0143" stop-color="#ffb200"/></linearGradient>
<rect x="435.0" y="1255.23" width="286.0" height="45.27" fill="url(#g107)"/>
<linearGradient id="g108" gradientUnits="objectBoundingBox" x1="0" x2="1" y1="0" y2="0"><stop offset="-0.0045" stop-color="#5dffa2"/><stop offset="0.0380" stop-color="#5dffa2"/><stop offset="0.0804" stop-color="#c4ff3b"/><stop offset="0.1229" stop-color="#fff700"/><stop offset="0.1653" stop-color="#ffd500"/><stop offset="0.2078" stop-color="#ffb200"/><stop offset="0.2502" stop-color="#ff6e00"/><stop offset="0.2927" stop-color="#ff0800"/><stop offset="0.3351" stop-color="#ff6e00"/><stop offset="0.3776" stop-color="#fff700"/><stop offset="0.4200" stop-color="#fff700"/><stop offset="0.4624" stop-color="#fff700"/><stop offset="0.5049" stop-color="#e6ff19"/><stop offset="0.5473" stop-color="#e6ff19"/><stop offset="0.5898" stop-color="#c4ff3b"/><stop offset="0.6322" stop-color="#e6ff19"/><stop offset="0.6747" stop-color="#fff700"/><stop offset="0.7171" stop-color="#fff700"/><stop offset="0.7596" stop-color="#e6ff19"/><stop offset="0.8020" stop-color="#fff700"/><stop offset="0.8445" stop-color="#ff6e00"/><stop offset="0.8869" stop-color="#ff4d00"/><stop offset="0.9294" stop-color="#ff4d00"/><stop offset="0.9718" stop-color="#ff4d00"/><stop offset="1.0143" stop-color="#ff4d00"/></linearGradient>
<rect x="435.0" y="1299.31" width="286.0" height="40.32" fill="url(#g108)"/>
<linearGradient id="g109" gradientUnits="objectBoundingBox" x1="0" x2="1" y1="0" y2="0"><stop offset="-0.0045" stop-color="#5dffa2"/><stop offset="0.0380" stop-color="#5dffa2"/><stop offset="0.0804" stop-color="#c4ff3b"/><stop offset="0.1229" stop-color="#fff700"/><stop offset="0.1653" stop-color="#fff700"/><stop offset="0.2078" stop-color="#ffb200"/><stop offset="0.2502" stop-color="#ff2a00"/><stop offset="0.2927" stop-color="#ff0800"/><stop offset="0.3351" stop-color="#ff4d00"/><stop offset="0.3776" stop-color="#ffb200"/><stop offset="0.4200" stop-color="#ffd500"/><stop offset="0.4624" stop-color="#ffd500"/><stop offset="0.5049" stop-color="#fff700"/><stop offset="0.5473" stop-color="#fff700"/><stop offset="0.5898" stop-color="#fff700"/><stop offset="0.6322" stop-color="#ffd500"/><stop offset="0.6747" stop-color="#ffb200"/><stop offset="0.7171" stop-color="#ffb200"/><stop offset="0.7596" stop-color="#ffb200"/><stop offset="0.8020" stop-color="#ffb200"/><stop offset="0.8445" stop-color="#ff6e00"/><stop offset="0.8869" stop-color="#ff4d00"/><stop offset="0.9294" stop-color="#ff4d00"/><stop offset="0.9718" stop-color="#ff2a00"/><stop offset="1.0143" stop-color="#ff4d00"/></linearGradient>
<rect x="435.0" y="1338.42" width="286.0" height="45.80" fill="url(#g109)"/>
<linearGradient id="g110" gradientUnits="objectBoundingBox" x1="0" x2="1" y1="0" y2="0"><stop offset="-0.0045" stop-color="#5dffa2"/><stop offset="0.0380" stop-color="#5dffa2"/><stop offset="0.0804" stop-color="#a2ff5e"/><stop offset="0.1229" stop-color="#c4ff3b"/><stop offset="0.1653" stop-color="#fff700"/><stop offset="0.2078" stop-color="#ffb200"/><stop offset="0.2502" stop-color="#ff9000"/><stop offset="0.2927" stop-color="#ff6e00"/><stop offset="0.3351" stop-color="#ff6e00"/><stop offset="0.3776" stop-color="#ff9000"/><stop offset="0.4200" stop-color="#ffd500"/><stop offset="0.4624" stop-color="#fff700"/><stop offset="0.5049" stop-color="#ffd500"/><stop offset="0.5473" stop-color="#fff700"/><stop offset="0.5898" stop-color="#fff700"/><stop offset="0.6322" stop-color="#fff700"/><stop offset="0.6747" stop-color="#ffd500"/><stop offset="0.7171" stop-color="#ffd500"/><stop offset="0.7596" stop-color="#ffb200"/><stop offset="0.8020" stop-color="#ff9000"/><stop offset="0.8445" stop-color="#ff9000"/><stop offset="0.8869" stop-color="#ff9000"/><stop offset="0.9294" stop-color="#ff6e00"/><stop offset="0.9718" stop-color="#ff6e00"/><stop offset="1.0143" stop-color="#ff9000"/></linearGradient>
<rect x="435.0" y="1383.03" width="286.0" height="21.77" fill="url(#g110)"/>
<rect x="435.0" y="1227.8" width="286.0" height="177.0" fill="none" stroke="#7a7a7a" stroke-width="1"/>
<line x1="458.0" y1="1229.3" x2="458.0" y2="1404.8" stroke="#4a3f48" stroke-opacity="0.7" stroke-width="1" stroke-dasharray="1.7,1.66"/>
<line x1="431.5" y1="1229.6" x2="435.0" y2="1229.6" stroke="#555" stroke-width="0.8"/>
<text x="429.3" y="1234.2" font-size="13" text-anchor="end" fill="#111" >20</text>
<line x1="431.5" y1="1272.8" x2="435.0" y2="1272.8" stroke="#555" stroke-width="0.8"/>
<text x="429.3" y="1277.4" font-size="13" text-anchor="end" fill="#111" >16</text>
<line x1="431.5" y1="1316.0" x2="435.0" y2="1316.0" stroke="#555" stroke-width="0.8"/>
<text x="429.3" y="1320.6" font-size="13" text-anchor="end" fill="#111" >12</text>
<line x1="431.5" y1="1359.2" x2="435.0" y2="1359.2" stroke="#555" stroke-width="0.8"/>
<text x="429.3" y="1363.8" font-size="13" text-anchor="end" fill="#111" >8</text>
<line x1="431.5" y1="1402.4" x2="435.0" y2="1402.4" stroke="#555" stroke-width="0.8"/>
<text x="429.3" y="1407.0" font-size="13" text-anchor="end" fill="#111" >4</text>
<line x1="431.5" y1="1251.2" x2="435.0" y2="1251.2" stroke="#555" stroke-width="0.8"/>
<line x1="431.5" y1="1294.4" x2="435.0" y2="1294.4" stroke="#555" stroke-width="0.8"/>
<line x1="431.5" y1="1337.6" x2="435.0" y2="1337.6" stroke="#555" stroke-width="0.8"/>
<line x1="431.5" y1="1380.8" x2="435.0" y2="1380.8" stroke="#555" stroke-width="0.8"/>
<text x="458.0" y="1419.3" font-size="12.5" text-anchor="middle" fill="#111" >0</text>
<text x="518.7" y="1419.3" font-size="12.5" text-anchor="middle" fill="#111" >100</text>
<text x="579.4" y="1419.3" font-size="12.5" text-anchor="middle" fill="#111" >200</text>
<text x="640.1" y="1419.3" font-size="12.5" text-anchor="middle" fill="#111" >300</text>
<text x="700.8" y="1419.3" font-size="12.5" text-anchor="middle" fill="#111" >400</text>
<line x1="488.4" y1="1404.8" x2="488.4" y2="1402.8" stroke="#999" stroke-width="0.8"/>
<line x1="549.0" y1="1404.8" x2="549.0" y2="1402.8" stroke="#999" stroke-width="0.8"/>
<line x1="609.8" y1="1404.8" x2="609.8" y2="1402.8" stroke="#999" stroke-width="0.8"/>
<line x1="670.5" y1="1404.8" x2="670.5" y2="1402.8" stroke="#999" stroke-width="0.8"/>
</g>
<g>
<linearGradient id="g111" gradientUnits="objectBoundingBox" x1="0" x2="1" y1="0" y2="0"><stop offset="-0.0045" stop-color="#80ff80"/><stop offset="0.0380" stop-color="#80ff80"/><stop offset="0.0804" stop-color="#5dffa2"/><stop offset="0.1229" stop-color="#3cffc3"/><stop offset="0.1653" stop-color="#00f7ff"/><stop offset="0.2078" stop-color="#00f7ff"/><stop offset="0.2502" stop-color="#1affe5"/><stop offset="0.2927" stop-color="#5dffa2"/><stop offset="0.3351" stop-color="#5dffa2"/><stop offset="0.3776" stop-color="#3cffc3"/><stop offset="0.4200" stop-color="#3cffc3"/><stop offset="0.4624" stop-color="#3cffc3"/><stop offset="0.5049" stop-color="#5dffa2"/><stop offset="0.5473" stop-color="#5dffa2"/><stop offset="0.5898" stop-color="#5dffa2"/><stop offset="0.6322" stop-color="#3cffc3"/><stop offset="0.6747" stop-color="#00b2ff"/><stop offset="0.7171" stop-color="#0090ff"/><stop offset="0.7596" stop-color="#1affe5"/><stop offset="0.8020" stop-color="#5dffa2"/><stop offset="0.8445" stop-color="#80ff80"/><stop offset="0.8869" stop-color="#80ff80"/><stop offset="0.9294" stop-color="#80ff80"/><stop offset="0.9718" stop-color="#80ff80"/><stop offset="1.0143" stop-color="#80ff80"/></linearGradient>
<rect x="769.0" y="1227.80" width="286.0" height="28.63" fill="url(#g111)"/>
<linearGradient id="g112" gradientUnits="objectBoundingBox" x1="0" x2="1" y1="0" y2="0"><stop offset="-0.0045" stop-color="#80ff80"/><stop offset="0.0380" stop-color="#80ff80"/><stop offset="0.0804" stop-color="#5dffa2"/><stop offset="0.1229" stop-color="#3cffc3"/><stop offset="0.1653" stop-color="#1affe5"/><stop offset="0.2078" stop-color="#1affe5"/><stop offset="0.2502" stop-color="#3cffc3"/><stop offset="0.2927" stop-color="#5dffa2"/><stop offset="0.3351" stop-color="#80ff80"/><stop offset="0.3776" stop-color="#a2ff5e"/><stop offset="0.4200" stop-color="#a2ff5e"/><stop offset="0.4624" stop-color="#c4ff3b"/><stop offset="0.5049" stop-color="#c4ff3b"/><stop offset="0.5473" stop-color="#c4ff3b"/><stop offset="0.5898" stop-color="#a2ff5e"/><stop offset="0.6322" stop-color="#80ff80"/><stop offset="0.6747" stop-color="#5dffa2"/><stop offset="0.7171" stop-color="#3cffc3"/><stop offset="0.7596" stop-color="#3cffc3"/><stop offset="0.8020" stop-color="#5dffa2"/><stop offset="0.8445" stop-color="#3cffc3"/><stop offset="0.8869" stop-color="#00f7ff"/><stop offset="0.9294" stop-color="#00f7ff"/><stop offset="0.9718" stop-color="#00f7ff"/><stop offset="1.0143" stop-color="#1affe5"/></linearGradient>
<rect x="769.0" y="1255.23" width="286.0" height="45.27" fill="url(#g112)"/>
<linearGradient id="g113" gradientUnits="objectBoundingBox" x1="0" x2="1" y1="0" y2="0"><stop offset="-0.0045" stop-color="#80ff80"/><stop offset="0.0380" stop-color="#80ff80"/><stop offset="0.0804" stop-color="#5dffa2"/><stop offset="0.1229" stop-color="#5dffa2"/><stop offset="0.1653" stop-color="#5dffa2"/><stop offset="0.2078" stop-color="#5dffa2"/><stop offset="0.2502" stop-color="#80ff80"/><stop offset="0.2927" stop-color="#a2ff5e"/><stop offset="0.3351" stop-color="#a2ff5e"/><stop offset="0.3776" stop-color="#a2ff5e"/><stop offset="0.4200" stop-color="#c4ff3b"/><stop offset="0.4624" stop-color="#e6ff19"/><stop offset="0.5049" stop-color="#fff700"/><stop offset="0.5473" stop-color="#ffd500"/><stop offset="0.5898" stop-color="#ffb200"/><stop offset="0.6322" stop-color="#ffb200"/><stop offset="0.6747" stop-color="#fff700"/><stop offset="0.7171" stop-color="#e6ff19"/><stop offset="0.7596" stop-color="#80ff80"/><stop offset="0.8020" stop-color="#5dffa2"/><stop offset="0.8445" stop-color="#5dffa2"/><stop offset="0.8869" stop-color="#5dffa2"/><stop offset="0.9294" stop-color="#5dffa2"/><stop offset="0.9718" stop-color="#5dffa2"/><stop offset="1.0143" stop-color="#5dffa2"/></linearGradient>
<rect x="769.0" y="1299.31" width="286.0" height="40.32" fill="url(#g113)"/>
<linearGradient id="g114" gradientUnits="objectBoundingBox" x1="0" x2="1" y1="0" y2="0"><stop offset="-0.0045" stop-color="#80ff80"/><stop offset="0.0380" stop-color="#5dffa2"/><stop offset="0.0804" stop-color="#80ff80"/><stop offset="0.1229" stop-color="#80ff80"/><stop offset="0.1653" stop-color="#a2ff5e"/><stop offset="0.2078" stop-color="#a2ff5e"/><stop offset="0.2502" stop-color="#c4ff3b"/><stop offset="0.2927" stop-color="#e6ff19"/><stop offset="0.3351" stop-color="#e6ff19"/><stop offset="0.3776" stop-color="#fff700"/><stop offset="0.4200" stop-color="#fff700"/><stop offset="0.4624" stop-color="#fff700"/><stop offset="0.5049" stop-color="#ffd500"/><stop offset="0.5473" stop-color="#ffb200"/><stop offset="0.5898" stop-color="#ff6e00"/><stop offset="0.6322" stop-color="#ff4d00"/><stop offset="0.6747" stop-color="#ff6e00"/><stop offset="0.7171" stop-color="#ff9000"/><stop offset="0.7596" stop-color="#fff700"/><stop offset="0.8020" stop-color="#c4ff3b"/><stop offset="0.8445" stop-color="#a2ff5e"/><stop offset="0.8869" stop-color="#a2ff5e"/><stop offset="0.9294" stop-color="#a2ff5e"/><stop offset="0.9718" stop-color="#a2ff5e"/><stop offset="1.0143" stop-color="#a2ff5e"/></linearGradient>
<rect x="769.0" y="1338.42" width="286.0" height="45.80" fill="url(#g114)"/>
<linearGradient id="g115" gradientUnits="objectBoundingBox" x1="0" x2="1" y1="0" y2="0"><stop offset="-0.0045" stop-color="#80ff80"/><stop offset="0.0380" stop-color="#5dffa2"/><stop offset="0.0804" stop-color="#5dffa2"/><stop offset="0.1229" stop-color="#3cffc3"/><stop offset="0.1653" stop-color="#80ff80"/><stop offset="0.2078" stop-color="#80ff80"/><stop offset="0.2502" stop-color="#a2ff5e"/><stop offset="0.2927" stop-color="#c4ff3b"/><stop offset="0.3351" stop-color="#e6ff19"/><stop offset="0.3776" stop-color="#e6ff19"/><stop offset="0.4200" stop-color="#c4ff3b"/><stop offset="0.4624" stop-color="#fff700"/><stop offset="0.5049" stop-color="#ffd500"/><stop offset="0.5473" stop-color="#ffb200"/><stop offset="0.5898" stop-color="#ff6e00"/><stop offset="0.6322" stop-color="#ff4d00"/><stop offset="0.6747" stop-color="#ff6e00"/><stop offset="0.7171" stop-color="#ff9000"/><stop offset="0.7596" stop-color="#ffb200"/><stop offset="0.8020" stop-color="#fff700"/><stop offset="0.8445" stop-color="#80ff80"/><stop offset="0.8869" stop-color="#a2ff5e"/><stop offset="0.9294" stop-color="#a2ff5e"/><stop offset="0.9718" stop-color="#c4ff3b"/><stop offset="1.0143" stop-color="#a2ff5e"/></linearGradient>
<rect x="769.0" y="1383.03" width="286.0" height="21.77" fill="url(#g115)"/>
<rect x="769.0" y="1227.8" width="286.0" height="177.0" fill="none" stroke="#7a7a7a" stroke-width="1"/>
<line x1="792.0" y1="1229.3" x2="792.0" y2="1404.8" stroke="#4a3f48" stroke-opacity="0.7" stroke-width="1" stroke-dasharray="1.7,1.66"/>
<line x1="765.5" y1="1229.6" x2="769.0" y2="1229.6" stroke="#555" stroke-width="0.8"/>
<text x="763.3" y="1234.2" font-size="13" text-anchor="end" fill="#111" >20</text>
<line x1="765.5" y1="1272.8" x2="769.0" y2="1272.8" stroke="#555" stroke-width="0.8"/>
<text x="763.3" y="1277.4" font-size="13" text-anchor="end" fill="#111" >16</text>
<line x1="765.5" y1="1316.0" x2="769.0" y2="1316.0" stroke="#555" stroke-width="0.8"/>
<text x="763.3" y="1320.6" font-size="13" text-anchor="end" fill="#111" >12</text>
<line x1="765.5" y1="1359.2" x2="769.0" y2="1359.2" stroke="#555" stroke-width="0.8"/>
<text x="763.3" y="1363.8" font-size="13" text-anchor="end" fill="#111" >8</text>
<line x1="765.5" y1="1402.4" x2="769.0" y2="1402.4" stroke="#555" stroke-width="0.8"/>
<text x="763.3" y="1407.0" font-size="13" text-anchor="end" fill="#111" >4</text>
<line x1="765.5" y1="1251.2" x2="769.0" y2="1251.2" stroke="#555" stroke-width="0.8"/>
<line x1="765.5" y1="1294.4" x2="769.0" y2="1294.4" stroke="#555" stroke-width="0.8"/>
<line x1="765.5" y1="1337.6" x2="769.0" y2="1337.6" stroke="#555" stroke-width="0.8"/>
<line x1="765.5" y1="1380.8" x2="769.0" y2="1380.8" stroke="#555" stroke-width="0.8"/>
<text x="792.0" y="1419.3" font-size="12.5" text-anchor="middle" fill="#111" >0</text>
<text x="852.7" y="1419.3" font-size="12.5" text-anchor="middle" fill="#111" >100</text>
<text x="913.4" y="1419.3" font-size="12.5" text-anchor="middle" fill="#111" >200</text>
<text x="974.1" y="1419.3" font-size="12.5" text-anchor="middle" fill="#111" >300</text>
<text x="1034.8" y="1419.3" font-size="12.5" text-anchor="middle" fill="#111" >400</text>
<line x1="822.4" y1="1404.8" x2="822.4" y2="1402.8" stroke="#999" stroke-width="0.8"/>
<line x1="883.0" y1="1404.8" x2="883.0" y2="1402.8" stroke="#999" stroke-width="0.8"/>
<line x1="943.8" y1="1404.8" x2="943.8" y2="1402.8" stroke="#999" stroke-width="0.8"/>
<line x1="1004.5" y1="1404.8" x2="1004.5" y2="1402.8" stroke="#999" stroke-width="0.8"/>
</g>
<g>
<linearGradient id="g116" gradientUnits="objectBoundingBox" x1="0" x2="1" y1="0" y2="0"><stop offset="-0.0045" stop-color="#80ff80"/><stop offset="0.0380" stop-color="#80ff80"/><stop offset="0.0804" stop-color="#80ff80"/><stop offset="0.1229" stop-color="#a2ff5e"/><stop offset="0.1653" stop-color="#80ff80"/><stop offset="0.2078" stop-color="#5dffa2"/><stop offset="0.2502" stop-color="#5dffa2"/><stop offset="0.2927" stop-color="#80ff80"/><stop offset="0.3351" stop-color="#a2ff5e"/><stop offset="0.3776" stop-color="#80ff80"/><stop offset="0.4200" stop-color="#5dffa2"/><stop offset="0.4624" stop-color="#5dffa2"/><stop offset="0.5049" stop-color="#80ff80"/><stop offset="0.5473" stop-color="#a2ff5e"/><stop offset="0.5898" stop-color="#c4ff3b"/><stop offset="0.6322" stop-color="#a2ff5e"/><stop offset="0.6747" stop-color="#5dffa2"/><stop offset="0.7171" stop-color="#a2ff5e"/><stop offset="0.7596" stop-color="#a2ff5e"/><stop offset="0.8020" stop-color="#a2ff5e"/><stop offset="0.8445" stop-color="#c4ff3b"/><stop offset="0.8869" stop-color="#a2ff5e"/><stop offset="0.9294" stop-color="#a2ff5e"/><stop offset="0.9718" stop-color="#c4ff3b"/><stop offset="1.0143" stop-color="#c4ff3b"/></linearGradient>
<rect x="1100.0" y="1227.80" width="286.0" height="28.63" fill="url(#g116)"/>
<linearGradient id="g117" gradientUnits="objectBoundingBox" x1="0" x2="1" y1="0" y2="0"><stop offset="-0.0045" stop-color="#80ff80"/><stop offset="0.0380" stop-color="#80ff80"/><stop offset="0.0804" stop-color="#80ff80"/><stop offset="0.1229" stop-color="#80ff80"/><stop offset="0.1653" stop-color="#80ff80"/><stop offset="0.2078" stop-color="#a2ff5e"/><stop offset="0.2502" stop-color="#c4ff3b"/><stop offset="0.2927" stop-color="#fff700"/><stop offset="0.3351" stop-color="#e6ff19"/><stop offset="0.3776" stop-color="#80ff80"/><stop offset="0.4200" stop-color="#5dffa2"/><stop offset="0.4624" stop-color="#5dffa2"/><stop offset="0.5049" stop-color="#a2ff5e"/><stop offset="0.5473" stop-color="#c4ff3b"/><stop offset="0.5898" stop-color="#fff700"/><stop offset="0.6322" stop-color="#c4ff3b"/><stop offset="0.6747" stop-color="#80ff80"/><stop offset="0.7171" stop-color="#80ff80"/><stop offset="0.7596" stop-color="#5dffa2"/><stop offset="0.8020" stop-color="#5dffa2"/><stop offset="0.8445" stop-color="#5dffa2"/><stop offset="0.8869" stop-color="#5dffa2"/><stop offset="0.9294" stop-color="#3cffc3"/><stop offset="0.9718" stop-color="#3cffc3"/><stop offset="1.0143" stop-color="#5dffa2"/></linearGradient>
<rect x="1100.0" y="1255.23" width="286.0" height="45.27" fill="url(#g117)"/>
<linearGradient id="g118" gradientUnits="objectBoundingBox" x1="0" x2="1" y1="0" y2="0"><stop offset="-0.0045" stop-color="#80ff80"/><stop offset="0.0380" stop-color="#80ff80"/><stop offset="0.0804" stop-color="#5dffa2"/><stop offset="0.1229" stop-color="#5dffa2"/><stop offset="0.1653" stop-color="#5dffa2"/><stop offset="0.2078" stop-color="#80ff80"/><stop offset="0.2502" stop-color="#a2ff5e"/><stop offset="0.2927" stop-color="#ffb200"/><stop offset="0.3351" stop-color="#ffb200"/><stop offset="0.3776" stop-color="#e6ff19"/><stop offset="0.4200" stop-color="#c4ff3b"/><stop offset="0.4624" stop-color="#c4ff3b"/><stop offset="0.5049" stop-color="#c4ff3b"/><stop offset="0.5473" stop-color="#e6ff19"/><stop offset="0.5898" stop-color="#ffb200"/><stop offset="0.6322" stop-color="#ffd500"/><stop offset="0.6747" stop-color="#e6ff19"/><stop offset="0.7171" stop-color="#c4ff3b"/><stop offset="0.7596" stop-color="#a2ff5e"/><stop offset="0.8020" stop-color="#a2ff5e"/><stop offset="0.8445" stop-color="#a2ff5e"/><stop offset="0.8869" stop-color="#80ff80"/><stop offset="0.9294" stop-color="#5dffa2"/><stop offset="0.9718" stop-color="#5dffa2"/><stop offset="1.0143" stop-color="#5dffa2"/></linearGradient>
<rect x="1100.0" y="1299.31" width="286.0" height="40.32" fill="url(#g118)"/>
<linearGradient id="g119" gradientUnits="objectBoundingBox" x1="0" x2="1" y1="0" y2="0"><stop offset="-0.0045" stop-color="#80ff80"/><stop offset="0.0380" stop-color="#80ff80"/><stop offset="0.0804" stop-color="#80ff80"/><stop offset="0.1229" stop-color="#5dffa2"/><stop offset="0.1653" stop-color="#5dffa2"/><stop offset="0.2078" stop-color="#80ff80"/><stop offset="0.2502" stop-color="#c4ff3b"/><stop offset="0.2927" stop-color="#ff9000"/><stop offset="0.3351" stop-color="#ff9000"/><stop offset="0.3776" stop-color="#ffd500"/><stop offset="0.4200" stop-color="#fff700"/><stop offset="0.4624" stop-color="#fff700"/><stop offset="0.5049" stop-color="#fff700"/><stop offset="0.5473" stop-color="#ffd500"/><stop offset="0.5898" stop-color="#ffb200"/><stop offset="0.6322" stop-color="#ffb200"/><stop offset="0.6747" stop-color="#fff700"/><stop offset="0.7171" stop-color="#e6ff19"/><stop offset="0.7596" stop-color="#c4ff3b"/><stop offset="0.8020" stop-color="#c4ff3b"/><stop offset="0.8445" stop-color="#c4ff3b"/><stop offset="0.8869" stop-color="#c4ff3b"/><stop offset="0.9294" stop-color="#a2ff5e"/><stop offset="0.9718" stop-color="#a2ff5e"/><stop offset="1.0143" stop-color="#a2ff5e"/></linearGradient>
<rect x="1100.0" y="1338.42" width="286.0" height="45.80" fill="url(#g119)"/>
<linearGradient id="g120" gradientUnits="objectBoundingBox" x1="0" x2="1" y1="0" y2="0"><stop offset="-0.0045" stop-color="#80ff80"/><stop offset="0.0380" stop-color="#a2ff5e"/><stop offset="0.0804" stop-color="#80ff80"/><stop offset="0.1229" stop-color="#5dffa2"/><stop offset="0.1653" stop-color="#5dffa2"/><stop offset="0.2078" stop-color="#a2ff5e"/><stop offset="0.2502" stop-color="#e6ff19"/><stop offset="0.2927" stop-color="#fff700"/><stop offset="0.3351" stop-color="#ff6e00"/><stop offset="0.3776" stop-color="#ffb200"/><stop offset="0.4200" stop-color="#ffd500"/><stop offset="0.4624" stop-color="#e6ff19"/><stop offset="0.5049" stop-color="#fff700"/><stop offset="0.5473" stop-color="#ff9000"/><stop offset="0.5898" stop-color="#ffb200"/><stop offset="0.6322" stop-color="#ffd500"/><stop offset="0.6747" stop-color="#ffd500"/><stop offset="0.7171" stop-color="#fff700"/><stop offset="0.7596" stop-color="#c4ff3b"/><stop offset="0.8020" stop-color="#e6ff19"/><stop offset="0.8445" stop-color="#e6ff19"/><stop offset="0.8869" stop-color="#c4ff3b"/><stop offset="0.9294" stop-color="#e6ff19"/><stop offset="0.9718" stop-color="#e6ff19"/><stop offset="1.0143" stop-color="#a2ff5e"/></linearGradient>
<rect x="1100.0" y="1383.03" width="286.0" height="21.77" fill="url(#g120)"/>
<rect x="1100.0" y="1227.8" width="286.0" height="177.0" fill="none" stroke="#7a7a7a" stroke-width="1"/>
<line x1="1123.0" y1="1229.3" x2="1123.0" y2="1404.8" stroke="#4a3f48" stroke-opacity="0.7" stroke-width="1" stroke-dasharray="1.7,1.66"/>
<line x1="1096.5" y1="1229.6" x2="1100.0" y2="1229.6" stroke="#555" stroke-width="0.8"/>
<text x="1094.3" y="1234.2" font-size="13" text-anchor="end" fill="#111" >20</text>
<line x1="1096.5" y1="1272.8" x2="1100.0" y2="1272.8" stroke="#555" stroke-width="0.8"/>
<text x="1094.3" y="1277.4" font-size="13" text-anchor="end" fill="#111" >16</text>
<line x1="1096.5" y1="1316.0" x2="1100.0" y2="1316.0" stroke="#555" stroke-width="0.8"/>
<text x="1094.3" y="1320.6" font-size="13" text-anchor="end" fill="#111" >12</text>
<line x1="1096.5" y1="1359.2" x2="1100.0" y2="1359.2" stroke="#555" stroke-width="0.8"/>
<text x="1094.3" y="1363.8" font-size="13" text-anchor="end" fill="#111" >8</text>
<line x1="1096.5" y1="1402.4" x2="1100.0" y2="1402.4" stroke="#555" stroke-width="0.8"/>
<text x="1094.3" y="1407.0" font-size="13" text-anchor="end" fill="#111" >4</text>
<line x1="1096.5" y1="1251.2" x2="1100.0" y2="1251.2" stroke="#555" stroke-width="0.8"/>
<line x1="1096.5" y1="1294.4" x2="1100.0" y2="1294.4" stroke="#555" stroke-width="0.8"/>
<line x1="1096.5" y1="1337.6" x2="1100.0" y2="1337.6" stroke="#555" stroke-width="0.8"/>
<line x1="1096.5" y1="1380.8" x2="1100.0" y2="1380.8" stroke="#555" stroke-width="0.8"/>
<text x="1123.0" y="1419.3" font-size="12.5" text-anchor="middle" fill="#111" >0</text>
<text x="1183.7" y="1419.3" font-size="12.5" text-anchor="middle" fill="#111" >100</text>
<text x="1244.4" y="1419.3" font-size="12.5" text-anchor="middle" fill="#111" >200</text>
<text x="1305.1" y="1419.3" font-size="12.5" text-anchor="middle" fill="#111" >300</text>
<text x="1365.8" y="1419.3" font-size="12.5" text-anchor="middle" fill="#111" >400</text>
<line x1="1153.3" y1="1404.8" x2="1153.3" y2="1402.8" stroke="#999" stroke-width="0.8"/>
<line x1="1214.0" y1="1404.8" x2="1214.0" y2="1402.8" stroke="#999" stroke-width="0.8"/>
<line x1="1274.8" y1="1404.8" x2="1274.8" y2="1402.8" stroke="#999" stroke-width="0.8"/>
<line x1="1335.5" y1="1404.8" x2="1335.5" y2="1402.8" stroke="#999" stroke-width="0.8"/>
</g>
<text x="32.5" y="1317.8" font-size="26.5" text-anchor="middle" transform="rotate(-90 32.5 1317.8)" >30 mg</text>
<text x="66.2" y="878.0" font-size="17" text-anchor="middle" textLength="119" lengthAdjust="spacingAndGlyphs" transform="rotate(-90 66.2 878.0)" >Frequency (Hz)</text>
<text x="236.5" y="995.5" font-size="17" text-anchor="middle" textLength="77" lengthAdjust="spacingAndGlyphs" >Time (ms)</text>
<linearGradient id="g121" x1="0" x2="0" y1="0" y2="1"><stop offset="0.0000" stop-color="#800000"/><stop offset="0.0333" stop-color="#a20000"/><stop offset="0.0667" stop-color="#c40000"/><stop offset="0.1000" stop-color="#e50000"/><stop offset="0.1333" stop-color="#ff0800"/><stop offset="0.1667" stop-color="#ff2a00"/><stop offset="0.2000" stop-color="#ff4d00"/><stop offset="0.2333" stop-color="#ff6f00"/><stop offset="0.2667" stop-color="#ff9000"/><stop offset="0.3000" stop-color="#ffb200"/><stop offset="0.3333" stop-color="#ffd500"/><stop offset="0.3667" stop-color="#fff700"/><stop offset="0.4000" stop-color="#e5ff1a"/><stop offset="0.4333" stop-color="#c3ff3c"/><stop offset="0.4667" stop-color="#a2ff5e"/><stop offset="0.5000" stop-color="#80ff80"/><stop offset="0.5333" stop-color="#5dffa2"/><stop offset="0.5667" stop-color="#3bffc4"/><stop offset="0.6000" stop-color="#19ffe6"/><stop offset="0.6333" stop-color="#00f6ff"/><stop offset="0.6667" stop-color="#00d4ff"/><stop offset="0.7000" stop-color="#00b2ff"/><stop offset="0.7333" stop-color="#0090ff"/><stop offset="0.7667" stop-color="#006eff"/><stop offset="0.8000" stop-color="#004cff"/><stop offset="0.8333" stop-color="#002aff"/><stop offset="0.8667" stop-color="#0008ff"/><stop offset="0.9000" stop-color="#0000e5"/><stop offset="0.9333" stop-color="#0000c3"/><stop offset="0.9667" stop-color="#0000a1"/><stop offset="1.0000" stop-color="#000080"/></linearGradient>
<rect x="1404.4" y="512" width="17.399999999999864" height="184.29999999999995" fill="url(#g121)" stroke="#555" stroke-width="0.7"/>
<text x="1413.1" y="507.0" font-size="11" text-anchor="middle" >dB</text>
<text x="1433.8" y="519.4" font-size="11.8" text-anchor="start" >1.5</text>
<text x="1433.8" y="548.2" font-size="11.8" text-anchor="start" >1</text>
<text x="1433.8" y="577.0" font-size="11.8" text-anchor="start" >0.5</text>
<text x="1433.8" y="605.8" font-size="11.8" text-anchor="start" >0</text>
<text x="1429.8" y="634.6" font-size="11.8" text-anchor="start" >-0.5</text>
<text x="1429.8" y="663.4" font-size="11.8" text-anchor="start" >-1</text>
<text x="1429.8" y="692.2" font-size="11.8" text-anchor="start" >-1.5</text>
<linearGradient id="g122" x1="0" x2="0" y1="0" y2="1"><stop offset="0.0000" stop-color="#800000"/><stop offset="0.0333" stop-color="#a20000"/><stop offset="0.0667" stop-color="#c40000"/><stop offset="0.1000" stop-color="#e50000"/><stop offset="0.1333" stop-color="#ff0800"/><stop offset="0.1667" stop-color="#ff2a00"/><stop offset="0.2000" stop-color="#ff4d00"/><stop offset="0.2333" stop-color="#ff6f00"/><stop offset="0.2667" stop-color="#ff9000"/><stop offset="0.3000" stop-color="#ffb200"/><stop offset="0.3333" stop-color="#ffd500"/><stop offset="0.3667" stop-color="#fff700"/><stop offset="0.4000" stop-color="#e5ff1a"/><stop offset="0.4333" stop-color="#c3ff3c"/><stop offset="0.4667" stop-color="#a2ff5e"/><stop offset="0.5000" stop-color="#80ff80"/><stop offset="0.5333" stop-color="#5dffa2"/><stop offset="0.5667" stop-color="#3bffc4"/><stop offset="0.6000" stop-color="#19ffe6"/><stop offset="0.6333" stop-color="#00f6ff"/><stop offset="0.6667" stop-color="#00d4ff"/><stop offset="0.7000" stop-color="#00b2ff"/><stop offset="0.7333" stop-color="#0090ff"/><stop offset="0.7667" stop-color="#006eff"/><stop offset="0.8000" stop-color="#004cff"/><stop offset="0.8333" stop-color="#002aff"/><stop offset="0.8667" stop-color="#0008ff"/><stop offset="0.9000" stop-color="#0000e5"/><stop offset="0.9333" stop-color="#0000c3"/><stop offset="0.9667" stop-color="#0000a1"/><stop offset="1.0000" stop-color="#000080"/></linearGradient>
<rect x="1404.4" y="1229" width="17.399999999999864" height="176" fill="url(#g122)" stroke="#555" stroke-width="0.7"/>
<text x="1413.1" y="1224.0" font-size="11" text-anchor="middle" >dB</text>
<text x="1433.8" y="1236.4" font-size="11.8" text-anchor="start" >1.5</text>
<text x="1433.8" y="1263.8" font-size="11.8" text-anchor="start" >1</text>
<text x="1433.8" y="1291.2" font-size="11.8" text-anchor="start" >0.5</text>
<text x="1433.8" y="1318.7" font-size="11.8" text-anchor="start" >0</text>
<text x="1429.8" y="1346.1" font-size="11.8" text-anchor="start" >-0.5</text>
<text x="1429.8" y="1373.5" font-size="11.8" text-anchor="start" >-1</text>
<text x="1429.8" y="1400.9" font-size="11.8" text-anchor="start" >-1.5</text>
<text x="5.0" y="1460.9" font-size="35" text-anchor="start" font-weight="bold" textLength="21.5" lengthAdjust="spacingAndGlyphs" >C</text>
<text x="412.5" y="1490.0" font-size="34" text-anchor="middle" font-family="Liberation Serif" >Placebo</text>
<text x="258.7" y="1518.4" font-size="26" text-anchor="middle" font-weight="bold" >TD</text>
<text x="570.4" y="1518.4" font-size="26" text-anchor="middle" font-weight="bold" >ASD</text>
<line x1="115.2" y1="1555.0" x2="115.2" y2="1846.3" stroke="#000" stroke-width="2.8" />
<line x1="102.7" y1="1556.3" x2="115.2" y2="1556.3" stroke="#000" stroke-width="2.8" />
<text x="98.4" y="1563.5" font-size="20" text-anchor="end" >60</text>
<line x1="102.7" y1="1614.1" x2="115.2" y2="1614.1" stroke="#000" stroke-width="2.8" />
<text x="98.4" y="1621.3" font-size="20" text-anchor="end" >40</text>
<line x1="102.7" y1="1671.9" x2="115.2" y2="1671.9" stroke="#000" stroke-width="2.8" />
<text x="98.4" y="1679.1" font-size="20" text-anchor="end" >20</text>
<line x1="102.7" y1="1729.7" x2="115.2" y2="1729.7" stroke="#000" stroke-width="2.8" />
<text x="98.4" y="1736.9" font-size="20" text-anchor="end" >0</text>
<line x1="102.7" y1="1787.5" x2="115.2" y2="1787.5" stroke="#000" stroke-width="2.8" />
<text x="98.4" y="1794.7" font-size="20" text-anchor="end" >-20</text>
<line x1="102.7" y1="1845.3" x2="115.2" y2="1845.3" stroke="#000" stroke-width="2.8" />
<text x="98.4" y="1852.5" font-size="20" text-anchor="end" >-40</text>
<line x1="115.2" y1="1845.0" x2="716.5" y2="1845.0" stroke="#000" stroke-width="2.7" />
<line x1="159.4" y1="1845.0" x2="159.4" y2="1857.2" stroke="#000" stroke-width="2.7" />
<text x="166.3" y="1875.5" font-size="21.6" text-anchor="end" transform="rotate(-45 166.3 1875.5)" >Standard</text>
<line x1="225.8" y1="1845.0" x2="225.8" y2="1857.2" stroke="#000" stroke-width="2.7" />
<text x="232.7" y="1875.5" font-size="21.6" text-anchor="end" transform="rotate(-45 232.7 1875.5)" >Frequency</text>
<line x1="292.2" y1="1845.0" x2="292.2" y2="1857.2" stroke="#000" stroke-width="2.7" />
<text x="299.1" y="1875.5" font-size="21.6" text-anchor="end" transform="rotate(-45 299.1 1875.5)" >Duration</text>
<line x1="358.8" y1="1845.0" x2="358.8" y2="1857.2" stroke="#000" stroke-width="2.7" />
<text x="365.7" y="1875.5" font-size="21.6" text-anchor="end" transform="rotate(-45 365.7 1875.5)" >Freq-Dura</text>
<line x1="471.3" y1="1845.0" x2="471.3" y2="1857.2" stroke="#000" stroke-width="2.7" />
<text x="478.2" y="1875.5" font-size="21.6" text-anchor="end" transform="rotate(-45 478.2 1875.5)" >Standard</text>
<line x1="537.4" y1="1845.0" x2="537.4" y2="1857.2" stroke="#000" stroke-width="2.7" />
<text x="544.3" y="1875.5" font-size="21.6" text-anchor="end" transform="rotate(-45 544.3 1875.5)" >Frequency</text>
<line x1="604.1" y1="1845.0" x2="604.1" y2="1857.2" stroke="#000" stroke-width="2.7" />
<text x="611.0" y="1875.5" font-size="21.6" text-anchor="end" transform="rotate(-45 611.0 1875.5)" >Duration</text>
<line x1="670.8" y1="1845.0" x2="670.8" y2="1857.2" stroke="#000" stroke-width="2.7" />
<text x="677.7" y="1875.5" font-size="21.6" text-anchor="end" transform="rotate(-45 677.7 1875.5)" >Freq-Dura</text>
<line x1="418.0" y1="1572.2" x2="418.0" y2="1821.6" stroke="#111" stroke-width="1.7" stroke-dasharray="10.5,4.2"/>
<circle cx="132.2" cy="1729.7" r="1.45" fill="#000"/>
<circle cx="140.9" cy="1729.7" r="1.45" fill="#000"/>
<circle cx="149.5" cy="1729.7" r="1.45" fill="#000"/>
<circle cx="158.2" cy="1729.7" r="1.45" fill="#000"/>
<circle cx="166.8" cy="1729.7" r="1.45" fill="#000"/>
<circle cx="175.5" cy="1729.7" r="1.45" fill="#000"/>
<circle cx="184.2" cy="1729.7" r="1.45" fill="#000"/>
<circle cx="192.8" cy="1729.7" r="1.45" fill="#000"/>
<circle cx="201.5" cy="1729.7" r="1.45" fill="#000"/>
<circle cx="210.1" cy="1729.7" r="1.45" fill="#000"/>
<circle cx="218.8" cy="1729.7" r="1.45" fill="#000"/>
<circle cx="227.5" cy="1729.7" r="1.45" fill="#000"/>
<circle cx="236.1" cy="1729.7" r="1.45" fill="#000"/>
<circle cx="244.8" cy="1729.7" r="1.45" fill="#000"/>
<circle cx="253.4" cy="1729.7" r="1.45" fill="#000"/>
<circle cx="262.1" cy="1729.7" r="1.45" fill="#000"/>
<circle cx="270.8" cy="1729.7" r="1.45" fill="#000"/>
<circle cx="279.4" cy="1729.7" r="1.45" fill="#000"/>
<circle cx="288.1" cy="1729.7" r="1.45" fill="#000"/>
<circle cx="296.7" cy="1729.7" r="1.45" fill="#000"/>
<circle cx="305.4" cy="1729.7" r="1.45" fill="#000"/>
<circle cx="314.1" cy="1729.7" r="1.45" fill="#000"/>
<circle cx="322.7" cy="1729.7" r="1.45" fill="#000"/>
<circle cx="331.4" cy="1729.7" r="1.45" fill="#000"/>
<circle cx="340.0" cy="1729.7" r="1.45" fill="#000"/>
<circle cx="348.7" cy="1729.7" r="1.45" fill="#000"/>
<circle cx="357.4" cy="1729.7" r="1.45" fill="#000"/>
<circle cx="366.0" cy="1729.7" r="1.45" fill="#000"/>
<circle cx="374.7" cy="1729.7" r="1.45" fill="#000"/>
<circle cx="383.3" cy="1729.7" r="1.45" fill="#000"/>
<circle cx="392.0" cy="1729.7" r="1.45" fill="#000"/>
<circle cx="400.7" cy="1729.7" r="1.45" fill="#000"/>
<circle cx="435.3" cy="1729.7" r="1.45" fill="#000"/>
<circle cx="444.0" cy="1729.7" r="1.45" fill="#000"/>
<circle cx="452.6" cy="1729.7" r="1.45" fill="#000"/>
<circle cx="461.3" cy="1729.7" r="1.45" fill="#000"/>
<circle cx="469.9" cy="1729.7" r="1.45" fill="#000"/>
<circle cx="478.6" cy="1729.7" r="1.45" fill="#000"/>
<circle cx="487.3" cy="1729.7" r="1.45" fill="#000"/>
<circle cx="495.9" cy="1729.7" r="1.45" fill="#000"/>
<circle cx="504.6" cy="1729.7" r="1.45" fill="#000"/>
<circle cx="513.2" cy="1729.7" r="1.45" fill="#000"/>
<circle cx="521.9" cy="1729.7" r="1.45" fill="#000"/>
<circle cx="530.6" cy="1729.7" r="1.45" fill="#000"/>
<circle cx="539.2" cy="1729.7" r="1.45" fill="#000"/>
<circle cx="547.9" cy="1729.7" r="1.45" fill="#000"/>
<circle cx="556.5" cy="1729.7" r="1.45" fill="#000"/>
<circle cx="565.2" cy="1729.7" r="1.45" fill="#000"/>
<circle cx="573.9" cy="1729.7" r="1.45" fill="#000"/>
<circle cx="582.5" cy="1729.7" r="1.45" fill="#000"/>
<circle cx="591.2" cy="1729.7" r="1.45" fill="#000"/>
<circle cx="599.8" cy="1729.7" r="1.45" fill="#000"/>
<circle cx="608.5" cy="1729.7" r="1.45" fill="#000"/>
<circle cx="617.2" cy="1729.7" r="1.45" fill="#000"/>
<circle cx="625.8" cy="1729.7" r="1.45" fill="#000"/>
<circle cx="634.5" cy="1729.7" r="1.45" fill="#000"/>
<circle cx="643.1" cy="1729.7" r="1.45" fill="#000"/>
<circle cx="651.8" cy="1729.7" r="1.45" fill="#000"/>
<circle cx="660.5" cy="1729.7" r="1.45" fill="#000"/>
<circle cx="669.1" cy="1729.7" r="1.45" fill="#000"/>
<circle cx="677.8" cy="1729.7" r="1.45" fill="#000"/>
<circle cx="686.4" cy="1729.7" r="1.45" fill="#000"/>
<circle cx="695.1" cy="1729.7" r="1.45" fill="#000"/>
<circle cx="703.8" cy="1729.7" r="1.45" fill="#000"/>
<circle cx="712.4" cy="1729.7" r="1.45" fill="#000"/>
<text x="53.7" y="1701.5" font-size="23.4" text-anchor="middle" font-weight="bold" transform="rotate(-90 53.7 1701.5)" >Induced power</text>
<text x="410.0" y="1988.0" font-size="23.3" text-anchor="middle" font-weight="bold" >Stimulus condition</text>
<path d="M158.6 1551.5L158.6 1543.2L299.3 1543.2L299.3 1551.5" stroke="#000" stroke-width="2.2" fill="none"/>
<path d="M221.00 1527.90L221.00 1540.50M215.54 1531.05L226.46 1537.35M215.54 1537.35L226.46 1531.05" stroke="#000" stroke-width="2.1" stroke-linecap="round" fill="none"/>
<path d="M237.70 1527.90L237.70 1540.50M232.24 1531.05L243.16 1537.35M232.24 1537.35L243.16 1531.05" stroke="#000" stroke-width="2.1" stroke-linecap="round" fill="none"/>
<path d="M158.6 1570.0L158.6 1561.8L227.5 1561.8L227.5 1570.0" stroke="#000" stroke-width="2.2" fill="none"/>
<path d="M193.80 1545.80L193.80 1558.40M188.34 1548.95L199.26 1555.25M188.34 1555.25L199.26 1548.95" stroke="#000" stroke-width="2.1" stroke-linecap="round" fill="none"/>
<line x1="158.9" y1="1678.3" x2="158.9" y2="1759.3" stroke="#111" stroke-width="1.6" />
<line x1="148.1" y1="1678.3" x2="170.0" y2="1678.3" stroke="#111" stroke-width="1.6" />
<line x1="148.1" y1="1759.3" x2="170.0" y2="1759.3" stroke="#111" stroke-width="1.6" />
<line x1="137.0" y1="1718.7" x2="181.3" y2="1718.7" stroke="#000" stroke-width="2.9" />
<circle cx="165.4" cy="1659.1" r="3.05" fill="#5656f2"/>
<circle cx="139.9" cy="1675.2" r="3.05" fill="#5656f2"/>
<circle cx="152.6" cy="1678.5" r="3.05" fill="#5656f2"/>
<circle cx="165.4" cy="1675.2" r="3.05" fill="#5656f2"/>
<circle cx="178.4" cy="1671.6" r="3.05" fill="#5656f2"/>
<circle cx="139.9" cy="1685.1" r="3.05" fill="#5656f2"/>
<circle cx="152.6" cy="1688.1" r="3.05" fill="#5656f2"/>
<circle cx="178.4" cy="1685.3" r="3.05" fill="#5656f2"/>
<circle cx="152.6" cy="1694.9" r="3.05" fill="#5656f2"/>
<circle cx="165.4" cy="1698.2" r="3.05" fill="#5656f2"/>
<circle cx="139.9" cy="1702.6" r="3.05" fill="#5656f2"/>
<circle cx="178.4" cy="1703.8" r="3.05" fill="#5656f2"/>
<circle cx="165.4" cy="1705.2" r="3.05" fill="#5656f2"/>
<circle cx="152.6" cy="1708.2" r="3.05" fill="#5656f2"/>
<circle cx="165.4" cy="1712.2" r="3.05" fill="#5656f2"/>
<circle cx="152.6" cy="1724.7" r="3.05" fill="#5656f2"/>
<circle cx="152.6" cy="1739.1" r="3.05" fill="#5656f2"/>
<circle cx="165.4" cy="1736.4" r="3.05" fill="#5656f2"/>
<circle cx="165.4" cy="1742.8" r="3.05" fill="#5656f2"/>
<circle cx="165.4" cy="1751.2" r="3.05" fill="#5656f2"/>
<circle cx="139.9" cy="1757.4" r="3.05" fill="#5656f2"/>
<circle cx="152.6" cy="1755.3" r="3.05" fill="#5656f2"/>
<circle cx="165.4" cy="1760.8" r="3.05" fill="#5656f2"/>
<circle cx="152.6" cy="1764.6" r="3.05" fill="#5656f2"/>
<circle cx="152.6" cy="1796.9" r="3.05" fill="#5656f2"/>
<circle cx="152.6" cy="1816.1" r="3.05" fill="#5656f2"/>
<line x1="225.8" y1="1648.9" x2="225.8" y2="1733.4" stroke="#111" stroke-width="1.6" />
<line x1="215.0" y1="1648.9" x2="236.6" y2="1648.9" stroke="#111" stroke-width="1.6" />
<line x1="215.0" y1="1733.4" x2="236.6" y2="1733.4" stroke="#111" stroke-width="1.6" />
<line x1="203.9" y1="1691.0" x2="248.0" y2="1691.0" stroke="#000" stroke-width="2.9" />
<path d="M219.8 1600.7L224.0 1604.9L219.8 1609.1L215.6 1604.9Z" fill="#5656f2"/>
<path d="M219.8 1619.3L224.0 1623.5L219.8 1627.7L215.6 1623.5Z" fill="#5656f2"/>
<path d="M231.5 1627.8L235.7 1632.0L231.5 1636.2L227.3 1632.0Z" fill="#5656f2"/>
<path d="M219.8 1640.6L224.0 1644.8L219.8 1649.0L215.6 1644.8Z" fill="#5656f2"/>
<path d="M231.5 1646.2L235.7 1650.4L231.5 1654.6L227.3 1650.4Z" fill="#5656f2"/>
<path d="M243.5 1656.3L247.7 1660.5L243.5 1664.7L239.3 1660.5Z" fill="#5656f2"/>
<path d="M219.8 1664.0L224.0 1668.2L219.8 1672.4L215.6 1668.2Z" fill="#5656f2"/>
<path d="M231.5 1664.2L235.7 1668.4L231.5 1672.6L227.3 1668.4Z" fill="#5656f2"/>
<path d="M243.5 1666.1L247.7 1670.3L243.5 1674.5L239.3 1670.3Z" fill="#5656f2"/>
<path d="M207.7 1670.3L211.9 1674.5L207.7 1678.7L203.5 1674.5Z" fill="#5656f2"/>
<path d="M219.8 1678.9L224.0 1683.1L219.8 1687.3L215.6 1683.1Z" fill="#5656f2"/>
<path d="M231.5 1677.0L235.7 1681.2L231.5 1685.4L227.3 1681.2Z" fill="#5656f2"/>
<path d="M243.5 1677.0L247.7 1681.2L243.5 1685.4L239.3 1681.2Z" fill="#5656f2"/>
<path d="M207.7 1685.7L211.9 1689.9L207.7 1694.1L203.5 1689.9Z" fill="#5656f2"/>
<path d="M231.5 1688.1L235.7 1692.3L231.5 1696.5L227.3 1692.3Z" fill="#5656f2"/>
<path d="M219.8 1693.3L224.0 1697.5L219.8 1701.7L215.6 1697.5Z" fill="#5656f2"/>
<path d="M207.7 1712.3L211.9 1716.5L207.7 1720.7L203.5 1716.5Z" fill="#5656f2"/>
<path d="M219.8 1710.9L224.0 1715.1L219.8 1719.3L215.6 1715.1Z" fill="#5656f2"/>
<path d="M231.5 1715.9L235.7 1720.1L231.5 1724.3L227.3 1720.1Z" fill="#5656f2"/>
<path d="M243.5 1713.8L247.7 1718.0L243.5 1722.2L239.3 1718.0Z" fill="#5656f2"/>
<path d="M219.8 1727.7L224.0 1731.9L219.8 1736.1L215.6 1731.9Z" fill="#5656f2"/>
<path d="M231.5 1729.6L235.7 1733.8L231.5 1738.0L227.3 1733.8Z" fill="#5656f2"/>
<path d="M207.7 1734.0L211.9 1738.2L207.7 1742.4L203.5 1738.2Z" fill="#5656f2"/>
<path d="M219.8 1742.6L224.0 1746.8L219.8 1751.0L215.6 1746.8Z" fill="#5656f2"/>
<path d="M231.5 1742.6L235.7 1746.8L231.5 1751.0L227.3 1746.8Z" fill="#5656f2"/>
<path d="M219.8 1772.5L224.0 1776.7L219.8 1780.9L215.6 1776.7Z" fill="#5656f2"/>
<line x1="292.3" y1="1632.8" x2="292.3" y2="1727.4" stroke="#111" stroke-width="1.6" />
<line x1="281.3" y1="1632.8" x2="303.3" y2="1632.8" stroke="#111" stroke-width="1.6" />
<line x1="281.3" y1="1727.4" x2="303.3" y2="1727.4" stroke="#111" stroke-width="1.6" />
<line x1="270.2" y1="1680.3" x2="314.4" y2="1680.3" stroke="#000" stroke-width="2.9" />
<path d="M298.2 1559.7L302.8 1567.9L293.6 1567.9Z" fill="#5656f2"/>
<path d="M298.2 1609.8L302.8 1618.0L293.6 1618.0Z" fill="#5656f2"/>
<path d="M286.3 1614.8L290.9 1623.0L281.7 1623.0Z" fill="#5656f2"/>
<path d="M274.5 1640.6L279.1 1648.8L269.9 1648.8Z" fill="#5656f2"/>
<path d="M286.3 1642.5L290.9 1650.7L281.7 1650.7Z" fill="#5656f2"/>
<path d="M298.2 1646.3L302.8 1654.5L293.6 1654.5Z" fill="#5656f2"/>
<path d="M310.1 1642.0L314.7 1650.2L305.5 1650.2Z" fill="#5656f2"/>
<path d="M310.1 1654.2L314.7 1662.4L305.5 1662.4Z" fill="#5656f2"/>
<path d="M286.3 1661.5L290.9 1669.7L281.7 1669.7Z" fill="#5656f2"/>
<path d="M310.1 1663.2L314.7 1671.4L305.5 1671.4Z" fill="#5656f2"/>
<path d="M274.5 1667.5L279.1 1675.7L269.9 1675.7Z" fill="#5656f2"/>
<path d="M298.2 1666.6L302.8 1674.8L293.6 1674.8Z" fill="#5656f2"/>
<path d="M286.3 1670.6L290.9 1678.8L281.7 1678.8Z" fill="#5656f2"/>
<path d="M310.1 1675.2L314.7 1683.4L305.5 1683.4Z" fill="#5656f2"/>
<path d="M298.2 1676.9L302.8 1685.1L293.6 1685.1Z" fill="#5656f2"/>
<path d="M274.5 1690.6L279.1 1698.8L269.9 1698.8Z" fill="#5656f2"/>
<path d="M286.3 1693.3L290.9 1701.5L281.7 1701.5Z" fill="#5656f2"/>
<path d="M298.2 1690.4L302.8 1698.6L293.6 1698.6Z" fill="#5656f2"/>
<path d="M310.1 1696.4L314.7 1704.6L305.5 1704.6Z" fill="#5656f2"/>
<path d="M274.5 1706.0L279.1 1714.2L269.9 1714.2Z" fill="#5656f2"/>
<path d="M298.2 1711.8L302.8 1720.0L293.6 1720.0Z" fill="#5656f2"/>
<path d="M310.1 1709.7L314.7 1717.9L305.5 1717.9Z" fill="#5656f2"/>
<path d="M298.2 1723.1L302.8 1731.3L293.6 1731.3Z" fill="#5656f2"/>
<path d="M298.2 1751.2L302.8 1759.4L293.6 1759.4Z" fill="#5656f2"/>
<path d="M286.3 1756.7L290.9 1764.9L281.7 1764.9Z" fill="#5656f2"/>
<path d="M286.3 1781.5L290.9 1789.7L281.7 1789.7Z" fill="#5656f2"/>
<line x1="358.7" y1="1650.9" x2="358.7" y2="1750.7" stroke="#111" stroke-width="1.6" />
<line x1="348.0" y1="1650.9" x2="369.6" y2="1650.9" stroke="#111" stroke-width="1.6" />
<line x1="348.0" y1="1750.7" x2="369.6" y2="1750.7" stroke="#111" stroke-width="1.6" />
<line x1="337.0" y1="1700.7" x2="380.8" y2="1700.7" stroke="#000" stroke-width="2.9" />
<path d="M358.7 1612.2L363.3 1604.0L354.1 1604.0Z" fill="#5656f2"/>
<path d="M358.7 1636.1L363.3 1627.9L354.1 1627.9Z" fill="#5656f2"/>
<path d="M358.7 1651.8L363.3 1643.6L354.1 1643.6Z" fill="#5656f2"/>
<path d="M341.1 1665.2L345.7 1657.0L336.5 1657.0Z" fill="#5656f2"/>
<path d="M350.0 1668.7L354.6 1660.5L345.4 1660.5Z" fill="#5656f2"/>
<path d="M358.7 1669.7L363.3 1661.5L354.1 1661.5Z" fill="#5656f2"/>
<path d="M367.7 1668.7L372.3 1660.5L363.1 1660.5Z" fill="#5656f2"/>
<path d="M376.5 1666.8L381.1 1658.6L371.9 1658.6Z" fill="#5656f2"/>
<path d="M341.1 1691.1L345.7 1682.9L336.5 1682.9Z" fill="#5656f2"/>
<path d="M350.0 1690.2L354.6 1682.0L345.4 1682.0Z" fill="#5656f2"/>
<path d="M367.7 1687.9L372.3 1679.7L363.1 1679.7Z" fill="#5656f2"/>
<path d="M376.5 1690.2L381.1 1682.0L371.9 1682.0Z" fill="#5656f2"/>
<path d="M350.0 1701.1L354.6 1692.9L345.4 1692.9Z" fill="#5656f2"/>
<path d="M358.7 1699.8L363.3 1691.6L354.1 1691.6Z" fill="#5656f2"/>
<path d="M376.5 1703.3L381.1 1695.1L371.9 1695.1Z" fill="#5656f2"/>
<path d="M341.1 1706.5L345.7 1698.3L336.5 1698.3Z" fill="#5656f2"/>
<path d="M367.7 1705.9L372.3 1697.7L363.1 1697.7Z" fill="#5656f2"/>
<path d="M350.0 1712.3L354.6 1704.1L345.4 1704.1Z" fill="#5656f2"/>
<path d="M358.7 1721.5L363.3 1713.3L354.1 1713.3Z" fill="#5656f2"/>
<path d="M367.7 1720.3L372.3 1712.1L363.1 1712.1Z" fill="#5656f2"/>
<path d="M358.7 1745.2L363.3 1737.0L354.1 1737.0Z" fill="#5656f2"/>
<path d="M367.7 1747.8L372.3 1739.6L363.1 1739.6Z" fill="#5656f2"/>
<path d="M358.7 1754.8L363.3 1746.6L354.1 1746.6Z" fill="#5656f2"/>
<path d="M367.7 1756.7L372.3 1748.5L363.1 1748.5Z" fill="#5656f2"/>
<path d="M350.0 1761.5L354.6 1753.3L345.4 1753.3Z" fill="#5656f2"/>
<line x1="471.0" y1="1676.2" x2="471.0" y2="1745.5" stroke="#111" stroke-width="1.6" />
<line x1="460.2" y1="1676.2" x2="481.9" y2="1676.2" stroke="#111" stroke-width="1.6" />
<line x1="460.2" y1="1745.5" x2="481.9" y2="1745.5" stroke="#111" stroke-width="1.6" />
<line x1="449.1" y1="1711.0" x2="492.9" y2="1711.0" stroke="#000" stroke-width="2.9" />
<circle cx="480.7" cy="1646.4" r="3.05" fill="#ee3a3e"/>
<circle cx="471.0" cy="1650.0" r="3.05" fill="#ee3a3e"/>
<circle cx="471.0" cy="1665.9" r="3.05" fill="#ee3a3e"/>
<circle cx="461.4" cy="1675.3" r="3.05" fill="#ee3a3e"/>
<circle cx="471.0" cy="1679.6" r="3.05" fill="#ee3a3e"/>
<circle cx="471.0" cy="1692.4" r="3.05" fill="#ee3a3e"/>
<circle cx="480.7" cy="1692.4" r="3.05" fill="#ee3a3e"/>
<circle cx="451.7" cy="1696.4" r="3.05" fill="#ee3a3e"/>
<circle cx="461.4" cy="1695.0" r="3.05" fill="#ee3a3e"/>
<circle cx="490.3" cy="1695.3" r="3.05" fill="#ee3a3e"/>
<circle cx="471.0" cy="1700.8" r="3.05" fill="#ee3a3e"/>
<circle cx="480.7" cy="1703.8" r="3.05" fill="#ee3a3e"/>
<circle cx="461.4" cy="1714.7" r="3.05" fill="#ee3a3e"/>
<circle cx="480.7" cy="1716.6" r="3.05" fill="#ee3a3e"/>
<circle cx="461.4" cy="1722.9" r="3.05" fill="#ee3a3e"/>
<circle cx="471.0" cy="1723.8" r="3.05" fill="#ee3a3e"/>
<circle cx="471.0" cy="1735.1" r="3.05" fill="#ee3a3e"/>
<circle cx="451.7" cy="1737.3" r="3.05" fill="#ee3a3e"/>
<circle cx="461.4" cy="1740.5" r="3.05" fill="#ee3a3e"/>
<circle cx="490.3" cy="1740.2" r="3.05" fill="#ee3a3e"/>
<circle cx="480.7" cy="1745.3" r="3.05" fill="#ee3a3e"/>
<circle cx="471.0" cy="1748.9" r="3.05" fill="#ee3a3e"/>
<circle cx="480.7" cy="1769.6" r="3.05" fill="#ee3a3e"/>
<circle cx="461.4" cy="1774.8" r="3.05" fill="#ee3a3e"/>
<line x1="537.5" y1="1661.0" x2="537.5" y2="1734.4" stroke="#111" stroke-width="1.6" />
<line x1="526.5" y1="1661.0" x2="548.5" y2="1661.0" stroke="#111" stroke-width="1.6" />
<line x1="526.5" y1="1734.4" x2="548.5" y2="1734.4" stroke="#111" stroke-width="1.6" />
<line x1="515.5" y1="1697.9" x2="559.8" y2="1697.9" stroke="#000" stroke-width="2.9" />
<path d="M537.5 1606.6L541.7 1610.8L537.5 1615.0L533.3 1610.8Z" fill="#ee3a3e"/>
<path d="M537.5 1623.9L541.7 1628.1L537.5 1632.3L533.3 1628.1Z" fill="#ee3a3e"/>
<path d="M537.5 1647.0L541.7 1651.2L537.5 1655.4L533.3 1651.2Z" fill="#ee3a3e"/>
<path d="M537.5 1661.2L541.7 1665.4L537.5 1669.6L533.3 1665.4Z" fill="#ee3a3e"/>
<path d="M525.4 1677.3L529.6 1681.5L525.4 1685.7L521.2 1681.5Z" fill="#ee3a3e"/>
<path d="M531.4 1677.5L535.6 1681.7L531.4 1685.9L527.2 1681.7Z" fill="#ee3a3e"/>
<path d="M537.5 1677.0L541.7 1681.2L537.5 1685.4L533.3 1681.2Z" fill="#ee3a3e"/>
<path d="M543.2 1680.2L547.4 1684.4L543.2 1688.6L539.0 1684.4Z" fill="#ee3a3e"/>
<path d="M519.7 1682.8L523.9 1687.0L519.7 1691.2L515.5 1687.0Z" fill="#ee3a3e"/>
<path d="M549.4 1684.3L553.6 1688.5L549.4 1692.7L545.2 1688.5Z" fill="#ee3a3e"/>
<path d="M555.3 1684.0L559.5 1688.2L555.3 1692.4L551.1 1688.2Z" fill="#ee3a3e"/>
<path d="M543.2 1691.1L547.4 1695.3L543.2 1699.5L539.0 1695.3Z" fill="#ee3a3e"/>
<path d="M537.5 1695.1L541.7 1699.3L537.5 1703.5L533.3 1699.3Z" fill="#ee3a3e"/>
<path d="M525.4 1700.7L529.6 1704.9L525.4 1709.1L521.2 1704.9Z" fill="#ee3a3e"/>
<path d="M549.4 1699.0L553.6 1703.2L549.4 1707.4L545.2 1703.2Z" fill="#ee3a3e"/>
<path d="M537.5 1705.7L541.7 1709.9L537.5 1714.1L533.3 1709.9Z" fill="#ee3a3e"/>
<path d="M531.4 1707.6L535.6 1711.8L531.4 1716.0L527.2 1711.8Z" fill="#ee3a3e"/>
<path d="M531.4 1719.2L535.6 1723.4L531.4 1727.6L527.2 1723.4Z" fill="#ee3a3e"/>
<path d="M537.5 1719.6L541.7 1723.8L537.5 1728.0L533.3 1723.8Z" fill="#ee3a3e"/>
<path d="M543.2 1718.0L547.4 1722.2L543.2 1726.4L539.0 1722.2Z" fill="#ee3a3e"/>
<path d="M531.4 1732.6L535.6 1736.8L531.4 1741.0L527.2 1736.8Z" fill="#ee3a3e"/>
<path d="M537.5 1732.6L541.7 1736.8L537.5 1741.0L533.3 1736.8Z" fill="#ee3a3e"/>
<path d="M543.2 1756.5L547.4 1760.7L543.2 1764.9L539.0 1760.7Z" fill="#ee3a3e"/>
<path d="M531.4 1763.2L535.6 1767.4L531.4 1771.6L527.2 1767.4Z" fill="#ee3a3e"/>
<line x1="604.1" y1="1643.4" x2="604.1" y2="1757.1" stroke="#111" stroke-width="1.6" />
<line x1="593.5" y1="1643.4" x2="614.8" y2="1643.4" stroke="#111" stroke-width="1.6" />
<line x1="593.5" y1="1757.1" x2="614.8" y2="1757.1" stroke="#111" stroke-width="1.6" />
<line x1="582.3" y1="1700.6" x2="626.0" y2="1700.6" stroke="#000" stroke-width="2.9" />
<path d="M595.2 1572.1L599.8 1580.3L590.6 1580.3Z" fill="#ee3a3e"/>
<path d="M613.1 1568.2L617.7 1576.4L608.5 1576.4Z" fill="#ee3a3e"/>
<path d="M604.1 1618.6L608.7 1626.8L599.5 1626.8Z" fill="#ee3a3e"/>
<path d="M595.2 1661.7L599.8 1669.9L590.6 1669.9Z" fill="#ee3a3e"/>
<path d="M613.1 1657.8L617.7 1666.0L608.5 1666.0Z" fill="#ee3a3e"/>
<path d="M604.1 1667.7L608.7 1675.9L599.5 1675.9Z" fill="#ee3a3e"/>
<path d="M595.2 1684.7L599.8 1692.9L590.6 1692.9Z" fill="#ee3a3e"/>
<path d="M604.1 1681.3L608.7 1689.5L599.5 1689.5Z" fill="#ee3a3e"/>
<path d="M613.1 1683.6L617.7 1691.8L608.5 1691.8Z" fill="#ee3a3e"/>
<path d="M586.2 1692.0L590.8 1700.2L581.6 1700.2Z" fill="#ee3a3e"/>
<path d="M622.0 1693.7L626.6 1701.9L617.4 1701.9Z" fill="#ee3a3e"/>
<path d="M595.2 1699.8L599.8 1708.0L590.6 1708.0Z" fill="#ee3a3e"/>
<path d="M604.1 1699.3L608.7 1707.5L599.5 1707.5Z" fill="#ee3a3e"/>
<path d="M613.1 1698.7L617.7 1706.9L608.5 1706.9Z" fill="#ee3a3e"/>
<path d="M595.2 1712.5L599.8 1720.7L590.6 1720.7Z" fill="#ee3a3e"/>
<path d="M604.1 1719.4L608.7 1727.6L599.5 1727.6Z" fill="#ee3a3e"/>
<path d="M613.1 1718.3L617.7 1726.5L608.5 1726.5Z" fill="#ee3a3e"/>
<path d="M595.2 1733.4L599.8 1741.6L590.6 1741.6Z" fill="#ee3a3e"/>
<path d="M586.2 1738.5L590.8 1746.7L581.6 1746.7Z" fill="#ee3a3e"/>
<path d="M622.0 1738.5L626.6 1746.7L617.4 1746.7Z" fill="#ee3a3e"/>
<path d="M595.2 1744.6L599.8 1752.8L590.6 1752.8Z" fill="#ee3a3e"/>
<path d="M613.1 1744.6L617.7 1752.8L608.5 1752.8Z" fill="#ee3a3e"/>
<path d="M604.1 1765.9L608.7 1774.1L599.5 1774.1Z" fill="#ee3a3e"/>
<path d="M604.1 1826.4L608.7 1834.6L599.5 1834.6Z" fill="#ee3a3e"/>
<line x1="670.8" y1="1644.2" x2="670.8" y2="1726.9" stroke="#111" stroke-width="1.6" />
<line x1="660.1" y1="1644.2" x2="681.4" y2="1644.2" stroke="#111" stroke-width="1.6" />
<line x1="660.1" y1="1726.9" x2="681.4" y2="1726.9" stroke="#111" stroke-width="1.6" />
<line x1="648.9" y1="1685.7" x2="692.6" y2="1685.7" stroke="#000" stroke-width="2.9" />
<path d="M670.8 1598.8L675.4 1590.6L666.2 1590.6Z" fill="#ee3a3e"/>
<path d="M670.8 1627.4L675.4 1619.2L666.2 1619.2Z" fill="#ee3a3e"/>
<path d="M661.8 1642.5L666.4 1634.3L657.2 1634.3Z" fill="#ee3a3e"/>
<path d="M679.7 1643.1L684.3 1634.9L675.1 1634.9Z" fill="#ee3a3e"/>
<path d="M661.8 1655.4L666.4 1647.2L657.2 1647.2Z" fill="#ee3a3e"/>
<path d="M670.8 1662.1L675.4 1653.9L666.2 1653.9Z" fill="#ee3a3e"/>
<path d="M679.7 1659.9L684.3 1651.7L675.1 1651.7Z" fill="#ee3a3e"/>
<path d="M661.8 1667.7L666.4 1659.5L657.2 1659.5Z" fill="#ee3a3e"/>
<path d="M670.8 1673.3L675.4 1665.1L666.2 1665.1Z" fill="#ee3a3e"/>
<path d="M679.7 1668.8L684.3 1660.6L675.1 1660.6Z" fill="#ee3a3e"/>
<path d="M679.7 1679.5L684.3 1671.3L675.1 1671.3Z" fill="#ee3a3e"/>
<path d="M670.8 1683.4L675.4 1675.2L666.2 1675.2Z" fill="#ee3a3e"/>
<path d="M661.8 1698.5L666.4 1690.3L657.2 1690.3Z" fill="#ee3a3e"/>
<path d="M688.7 1697.9L693.3 1689.7L684.1 1689.7Z" fill="#ee3a3e"/>
<path d="M652.8 1704.7L657.4 1696.5L648.2 1696.5Z" fill="#ee3a3e"/>
<path d="M670.8 1705.4L675.4 1697.2L666.2 1697.2Z" fill="#ee3a3e"/>
<path d="M679.7 1705.2L684.3 1697.0L675.1 1697.0Z" fill="#ee3a3e"/>
<path d="M661.8 1713.6L666.4 1705.4L657.2 1705.4Z" fill="#ee3a3e"/>
<path d="M670.8 1718.1L675.4 1709.9L666.2 1709.9Z" fill="#ee3a3e"/>
<path d="M661.8 1723.1L666.4 1714.9L657.2 1714.9Z" fill="#ee3a3e"/>
<path d="M670.8 1737.7L675.4 1729.5L666.2 1729.5Z" fill="#ee3a3e"/>
<path d="M670.8 1752.3L675.4 1744.1L666.2 1744.1Z" fill="#ee3a3e"/>
<path d="M679.7 1755.0L684.3 1746.8L675.1 1746.8Z" fill="#ee3a3e"/>
<path d="M661.8 1759.0L666.4 1750.8L657.2 1750.8Z" fill="#ee3a3e"/>
<text x="1123.0" y="1494.6" font-size="34" text-anchor="middle" font-family="Liberation Serif" >15 mg</text>
<text x="967.3" y="1518.4" font-size="26" text-anchor="middle" font-weight="bold" >TD</text>
<text x="1281.2" y="1518.4" font-size="26" text-anchor="middle" font-weight="bold" >ASD</text>
<line x1="823.7" y1="1555.0" x2="823.7" y2="1846.3" stroke="#000" stroke-width="2.8" />
<line x1="811.2" y1="1556.3" x2="823.7" y2="1556.3" stroke="#000" stroke-width="2.8" />
<text x="806.9" y="1563.5" font-size="20" text-anchor="end" >60</text>
<line x1="811.2" y1="1614.1" x2="823.7" y2="1614.1" stroke="#000" stroke-width="2.8" />
<text x="806.9" y="1621.3" font-size="20" text-anchor="end" >40</text>
<line x1="811.2" y1="1671.9" x2="823.7" y2="1671.9" stroke="#000" stroke-width="2.8" />
<text x="806.9" y="1679.1" font-size="20" text-anchor="end" >20</text>
<line x1="811.2" y1="1729.7" x2="823.7" y2="1729.7" stroke="#000" stroke-width="2.8" />
<text x="806.9" y="1736.9" font-size="20" text-anchor="end" >0</text>
<line x1="811.2" y1="1787.5" x2="823.7" y2="1787.5" stroke="#000" stroke-width="2.8" />
<text x="806.9" y="1794.7" font-size="20" text-anchor="end" >-20</text>
<line x1="811.2" y1="1845.3" x2="823.7" y2="1845.3" stroke="#000" stroke-width="2.8" />
<text x="806.9" y="1852.5" font-size="20" text-anchor="end" >-40</text>
<line x1="823.7" y1="1845.0" x2="1425.0" y2="1845.0" stroke="#000" stroke-width="2.7" />
<line x1="867.9" y1="1845.0" x2="867.9" y2="1857.2" stroke="#000" stroke-width="2.7" />
<text x="874.8" y="1875.5" font-size="21.6" text-anchor="end" transform="rotate(-45 874.8 1875.5)" >Standard</text>
<line x1="934.5" y1="1845.0" x2="934.5" y2="1857.2" stroke="#000" stroke-width="2.7" />
<text x="941.4" y="1875.5" font-size="21.6" text-anchor="end" transform="rotate(-45 941.4 1875.5)" >Frequency</text>
<line x1="1001.0" y1="1845.0" x2="1001.0" y2="1857.2" stroke="#000" stroke-width="2.7" />
<text x="1007.9" y="1875.5" font-size="21.6" text-anchor="end" transform="rotate(-45 1007.9 1875.5)" >Duration</text>
<line x1="1067.9" y1="1845.0" x2="1067.9" y2="1857.2" stroke="#000" stroke-width="2.7" />
<text x="1074.8" y="1875.5" font-size="21.6" text-anchor="end" transform="rotate(-45 1074.8 1875.5)" >Freq-Dura</text>
<line x1="1181.3" y1="1845.0" x2="1181.3" y2="1857.2" stroke="#000" stroke-width="2.7" />
<text x="1188.2" y="1875.5" font-size="21.6" text-anchor="end" transform="rotate(-45 1188.2 1875.5)" >Standard</text>
<line x1="1247.9" y1="1845.0" x2="1247.9" y2="1857.2" stroke="#000" stroke-width="2.7" />
<text x="1254.8" y="1875.5" font-size="21.6" text-anchor="end" transform="rotate(-45 1254.8 1875.5)" >Frequency</text>
<line x1="1314.6" y1="1845.0" x2="1314.6" y2="1857.2" stroke="#000" stroke-width="2.7" />
<text x="1321.5" y="1875.5" font-size="21.6" text-anchor="end" transform="rotate(-45 1321.5 1875.5)" >Duration</text>
<line x1="1381.2" y1="1845.0" x2="1381.2" y2="1857.2" stroke="#000" stroke-width="2.7" />
<text x="1388.1" y="1875.5" font-size="21.6" text-anchor="end" transform="rotate(-45 1388.1 1875.5)" >Freq-Dura</text>
<line x1="1125.2" y1="1556.5" x2="1125.2" y2="1826.8" stroke="#111" stroke-width="1.7" stroke-dasharray="10.5,4.2"/>
<circle cx="832.5" cy="1729.7" r="1.45" fill="#000"/>
<circle cx="841.2" cy="1729.7" r="1.45" fill="#000"/>
<circle cx="849.8" cy="1729.7" r="1.45" fill="#000"/>
<circle cx="858.5" cy="1729.7" r="1.45" fill="#000"/>
<circle cx="867.1" cy="1729.7" r="1.45" fill="#000"/>
<circle cx="875.8" cy="1729.7" r="1.45" fill="#000"/>
<circle cx="884.5" cy="1729.7" r="1.45" fill="#000"/>
<circle cx="893.1" cy="1729.7" r="1.45" fill="#000"/>
<circle cx="901.8" cy="1729.7" r="1.45" fill="#000"/>
<circle cx="910.4" cy="1729.7" r="1.45" fill="#000"/>
<circle cx="919.1" cy="1729.7" r="1.45" fill="#000"/>
<circle cx="927.8" cy="1729.7" r="1.45" fill="#000"/>
<circle cx="936.4" cy="1729.7" r="1.45" fill="#000"/>
<circle cx="945.1" cy="1729.7" r="1.45" fill="#000"/>
<circle cx="953.7" cy="1729.7" r="1.45" fill="#000"/>
<circle cx="962.4" cy="1729.7" r="1.45" fill="#000"/>
<circle cx="971.1" cy="1729.7" r="1.45" fill="#000"/>
<circle cx="979.7" cy="1729.7" r="1.45" fill="#000"/>
<circle cx="988.4" cy="1729.7" r="1.45" fill="#000"/>
<circle cx="997.0" cy="1729.7" r="1.45" fill="#000"/>
<circle cx="1005.7" cy="1729.7" r="1.45" fill="#000"/>
<circle cx="1014.4" cy="1729.7" r="1.45" fill="#000"/>
<circle cx="1023.0" cy="1729.7" r="1.45" fill="#000"/>
<circle cx="1031.7" cy="1729.7" r="1.45" fill="#000"/>
<circle cx="1040.3" cy="1729.7" r="1.45" fill="#000"/>
<circle cx="1049.0" cy="1729.7" r="1.45" fill="#000"/>
<circle cx="1057.7" cy="1729.7" r="1.45" fill="#000"/>
<circle cx="1066.3" cy="1729.7" r="1.45" fill="#000"/>
<circle cx="1075.0" cy="1729.7" r="1.45" fill="#000"/>
<circle cx="1083.6" cy="1729.7" r="1.45" fill="#000"/>
<circle cx="1092.3" cy="1729.7" r="1.45" fill="#000"/>
<circle cx="1101.0" cy="1729.7" r="1.45" fill="#000"/>
<circle cx="1109.6" cy="1729.7" r="1.45" fill="#000"/>
<circle cx="1145.5" cy="1729.7" r="1.45" fill="#000"/>
<circle cx="1154.2" cy="1729.7" r="1.45" fill="#000"/>
<circle cx="1162.8" cy="1729.7" r="1.45" fill="#000"/>
<circle cx="1171.5" cy="1729.7" r="1.45" fill="#000"/>
<circle cx="1180.1" cy="1729.7" r="1.45" fill="#000"/>
<circle cx="1188.8" cy="1729.7" r="1.45" fill="#000"/>
<circle cx="1197.5" cy="1729.7" r="1.45" fill="#000"/>
<circle cx="1206.1" cy="1729.7" r="1.45" fill="#000"/>
<circle cx="1214.8" cy="1729.7" r="1.45" fill="#000"/>
<circle cx="1223.4" cy="1729.7" r="1.45" fill="#000"/>
<circle cx="1232.1" cy="1729.7" r="1.45" fill="#000"/>
<circle cx="1240.8" cy="1729.7" r="1.45" fill="#000"/>
<circle cx="1249.4" cy="1729.7" r="1.45" fill="#000"/>
<circle cx="1258.1" cy="1729.7" r="1.45" fill="#000"/>
<circle cx="1266.7" cy="1729.7" r="1.45" fill="#000"/>
<circle cx="1275.4" cy="1729.7" r="1.45" fill="#000"/>
<circle cx="1284.1" cy="1729.7" r="1.45" fill="#000"/>
<circle cx="1292.7" cy="1729.7" r="1.45" fill="#000"/>
<circle cx="1301.4" cy="1729.7" r="1.45" fill="#000"/>
<circle cx="1310.0" cy="1729.7" r="1.45" fill="#000"/>
<circle cx="1318.7" cy="1729.7" r="1.45" fill="#000"/>
<circle cx="1327.4" cy="1729.7" r="1.45" fill="#000"/>
<circle cx="1336.0" cy="1729.7" r="1.45" fill="#000"/>
<circle cx="1344.7" cy="1729.7" r="1.45" fill="#000"/>
<circle cx="1353.3" cy="1729.7" r="1.45" fill="#000"/>
<circle cx="1362.0" cy="1729.7" r="1.45" fill="#000"/>
<circle cx="1370.7" cy="1729.7" r="1.45" fill="#000"/>
<circle cx="1379.3" cy="1729.7" r="1.45" fill="#000"/>
<circle cx="1388.0" cy="1729.7" r="1.45" fill="#000"/>
<circle cx="1396.6" cy="1729.7" r="1.45" fill="#000"/>
<circle cx="1405.3" cy="1729.7" r="1.45" fill="#000"/>
<circle cx="1414.0" cy="1729.7" r="1.45" fill="#000"/>
<circle cx="1422.6" cy="1729.7" r="1.45" fill="#000"/>
<text x="762.4" y="1701.5" font-size="23.4" text-anchor="middle" font-weight="bold" transform="rotate(-90 762.4 1701.5)" >Induced power</text>
<path d="M864.2 1557.7L864.2 1549.5L1004.3 1549.5L1004.3 1557.7" stroke="#000" stroke-width="2.2" fill="none"/>
<path d="M931.00 1534.70L931.00 1547.30M925.54 1537.85L936.46 1544.15M925.54 1544.15L936.46 1537.85" stroke="#000" stroke-width="2.1" stroke-linecap="round" fill="none"/>
<line x1="868.1" y1="1688.3" x2="868.1" y2="1769.2" stroke="#111" stroke-width="1.6" />
<line x1="857.0" y1="1688.3" x2="879.1" y2="1688.3" stroke="#111" stroke-width="1.6" />
<line x1="857.0" y1="1769.2" x2="879.1" y2="1769.2" stroke="#111" stroke-width="1.6" />
<line x1="846.0" y1="1729.3" x2="889.7" y2="1729.3" stroke="#000" stroke-width="2.9" />
<circle cx="874.4" cy="1647.7" r="3.05" fill="#5656f2"/>
<circle cx="861.7" cy="1674.4" r="3.05" fill="#5656f2"/>
<circle cx="874.4" cy="1677.9" r="3.05" fill="#5656f2"/>
<circle cx="861.7" cy="1683.1" r="3.05" fill="#5656f2"/>
<circle cx="874.4" cy="1688.3" r="3.05" fill="#5656f2"/>
<circle cx="848.9" cy="1696.8" r="3.05" fill="#5656f2"/>
<circle cx="861.7" cy="1696.8" r="3.05" fill="#5656f2"/>
<circle cx="887.4" cy="1694.5" r="3.05" fill="#5656f2"/>
<circle cx="874.4" cy="1702.3" r="3.05" fill="#5656f2"/>
<circle cx="887.4" cy="1701.4" r="3.05" fill="#5656f2"/>
<circle cx="861.7" cy="1706.3" r="3.05" fill="#5656f2"/>
<circle cx="874.4" cy="1709.6" r="3.05" fill="#5656f2"/>
<circle cx="861.7" cy="1712.7" r="3.05" fill="#5656f2"/>
<circle cx="861.7" cy="1720.6" r="3.05" fill="#5656f2"/>
<circle cx="861.7" cy="1727.2" r="3.05" fill="#5656f2"/>
<circle cx="874.4" cy="1725.8" r="3.05" fill="#5656f2"/>
<circle cx="874.4" cy="1732.4" r="3.05" fill="#5656f2"/>
<circle cx="861.7" cy="1733.9" r="3.05" fill="#5656f2"/>
<circle cx="874.4" cy="1741.1" r="3.05" fill="#5656f2"/>
<circle cx="861.7" cy="1745.2" r="3.05" fill="#5656f2"/>
<circle cx="874.4" cy="1748.7" r="3.05" fill="#5656f2"/>
<circle cx="848.9" cy="1758.5" r="3.05" fill="#5656f2"/>
<circle cx="874.4" cy="1760.6" r="3.05" fill="#5656f2"/>
<circle cx="861.7" cy="1762.6" r="3.05" fill="#5656f2"/>
<circle cx="848.9" cy="1774.2" r="3.05" fill="#5656f2"/>
<circle cx="874.4" cy="1776.5" r="3.05" fill="#5656f2"/>
<circle cx="887.4" cy="1773.8" r="3.05" fill="#5656f2"/>
<circle cx="861.7" cy="1782.3" r="3.05" fill="#5656f2"/>
<circle cx="861.7" cy="1802.6" r="3.05" fill="#5656f2"/>
<circle cx="861.7" cy="1811.3" r="3.05" fill="#5656f2"/>
<line x1="934.5" y1="1659.7" x2="934.5" y2="1755.6" stroke="#111" stroke-width="1.6" />
<line x1="924.1" y1="1659.7" x2="945.8" y2="1659.7" stroke="#111" stroke-width="1.6" />
<line x1="924.1" y1="1755.6" x2="945.8" y2="1755.6" stroke="#111" stroke-width="1.6" />
<line x1="912.7" y1="1707.8" x2="956.8" y2="1707.8" stroke="#000" stroke-width="2.9" />
<path d="M934.5 1604.7L938.7 1608.9L934.5 1613.1L930.3 1608.9Z" fill="#5656f2"/>
<path d="M943.5 1628.7L947.7 1632.9L943.5 1637.1L939.3 1632.9Z" fill="#5656f2"/>
<path d="M934.5 1632.3L938.7 1636.5L934.5 1640.7L930.3 1636.5Z" fill="#5656f2"/>
<path d="M925.7 1646.4L929.9 1650.6L925.7 1654.8L921.5 1650.6Z" fill="#5656f2"/>
<path d="M925.7 1657.5L929.9 1661.7L925.7 1665.9L921.5 1661.7Z" fill="#5656f2"/>
<path d="M934.5 1654.6L938.7 1658.8L934.5 1663.0L930.3 1658.8Z" fill="#5656f2"/>
<path d="M952.5 1655.1L956.7 1659.3L952.5 1663.5L948.3 1659.3Z" fill="#5656f2"/>
<path d="M943.5 1663.3L947.7 1667.5L943.5 1671.7L939.3 1667.5Z" fill="#5656f2"/>
<path d="M934.5 1676.4L938.7 1680.6L934.5 1684.8L930.3 1680.6Z" fill="#5656f2"/>
<path d="M943.5 1676.4L947.7 1680.6L943.5 1684.8L939.3 1680.6Z" fill="#5656f2"/>
<path d="M925.7 1683.8L929.9 1688.0L925.7 1692.2L921.5 1688.0Z" fill="#5656f2"/>
<path d="M934.5 1688.4L938.7 1692.6L934.5 1696.8L930.3 1692.6Z" fill="#5656f2"/>
<path d="M952.5 1699.6L956.7 1703.8L952.5 1708.0L948.3 1703.8Z" fill="#5656f2"/>
<path d="M916.8 1707.7L921.0 1711.9L916.8 1716.1L912.6 1711.9Z" fill="#5656f2"/>
<path d="M925.7 1709.1L929.9 1713.3L925.7 1717.5L921.5 1713.3Z" fill="#5656f2"/>
<path d="M934.5 1705.0L938.7 1709.2L934.5 1713.4L930.3 1709.2Z" fill="#5656f2"/>
<path d="M943.5 1706.8L947.7 1711.0L943.5 1715.2L939.3 1711.0Z" fill="#5656f2"/>
<path d="M952.5 1709.7L956.7 1713.9L952.5 1718.1L948.3 1713.9Z" fill="#5656f2"/>
<path d="M934.5 1713.9L938.7 1718.1L934.5 1722.3L930.3 1718.1Z" fill="#5656f2"/>
<path d="M925.7 1725.1L929.9 1729.3L925.7 1733.5L921.5 1729.3Z" fill="#5656f2"/>
<path d="M943.5 1730.5L947.7 1734.7L943.5 1738.9L939.3 1734.7Z" fill="#5656f2"/>
<path d="M934.5 1731.7L938.7 1735.9L934.5 1740.1L930.3 1735.9Z" fill="#5656f2"/>
<path d="M925.7 1745.6L929.9 1749.8L925.7 1754.0L921.5 1749.8Z" fill="#5656f2"/>
<path d="M934.5 1744.5L938.7 1748.7L934.5 1752.9L930.3 1748.7Z" fill="#5656f2"/>
<path d="M952.5 1753.1L956.7 1757.3L952.5 1761.5L948.3 1757.3Z" fill="#5656f2"/>
<path d="M925.7 1761.3L929.9 1765.5L925.7 1769.7L921.5 1765.5Z" fill="#5656f2"/>
<path d="M934.5 1760.1L938.7 1764.3L934.5 1768.5L930.3 1764.3Z" fill="#5656f2"/>
<path d="M943.5 1761.3L947.7 1765.5L943.5 1769.7L939.3 1765.5Z" fill="#5656f2"/>
<path d="M934.5 1776.9L938.7 1781.1L934.5 1785.3L930.3 1781.1Z" fill="#5656f2"/>
<path d="M934.5 1799.0L938.7 1803.2L934.5 1807.4L930.3 1803.2Z" fill="#5656f2"/>
<line x1="1001.0" y1="1646.7" x2="1001.0" y2="1739.9" stroke="#111" stroke-width="1.6" />
<line x1="990.2" y1="1646.7" x2="1012.0" y2="1646.7" stroke="#111" stroke-width="1.6" />
<line x1="990.2" y1="1739.9" x2="1012.0" y2="1739.9" stroke="#111" stroke-width="1.6" />
<line x1="979.0" y1="1693.6" x2="1023.1" y2="1693.6" stroke="#000" stroke-width="2.9" />
<path d="M1004.6 1601.4L1009.2 1609.6L1000.0 1609.6Z" fill="#5656f2"/>
<path d="M997.5 1605.9L1002.1 1614.1L992.9 1614.1Z" fill="#5656f2"/>
<path d="M1004.6 1613.6L1009.2 1621.8L1000.0 1621.8Z" fill="#5656f2"/>
<path d="M997.5 1619.3L1002.1 1627.5L992.9 1627.5Z" fill="#5656f2"/>
<path d="M997.5 1635.3L1002.1 1643.5L992.9 1643.5Z" fill="#5656f2"/>
<path d="M1004.6 1653.9L1009.2 1662.1L1000.0 1662.1Z" fill="#5656f2"/>
<path d="M997.5 1662.9L1002.1 1671.1L992.9 1671.1Z" fill="#5656f2"/>
<path d="M990.2 1670.5L994.8 1678.7L985.6 1678.7Z" fill="#5656f2"/>
<path d="M997.5 1673.1L1002.1 1681.3L992.9 1681.3Z" fill="#5656f2"/>
<path d="M1011.9 1674.4L1016.5 1682.6L1007.3 1682.6Z" fill="#5656f2"/>
<path d="M1019.0 1681.4L1023.6 1689.6L1014.4 1689.6Z" fill="#5656f2"/>
<path d="M983.2 1685.6L987.8 1693.8L978.6 1693.8Z" fill="#5656f2"/>
<path d="M990.2 1683.3L994.8 1691.5L985.6 1691.5Z" fill="#5656f2"/>
<path d="M997.5 1682.1L1002.1 1690.3L992.9 1690.3Z" fill="#5656f2"/>
<path d="M1004.6 1687.4L1009.2 1695.6L1000.0 1695.6Z" fill="#5656f2"/>
<path d="M1011.9 1689.1L1016.5 1697.3L1007.3 1697.3Z" fill="#5656f2"/>
<path d="M990.2 1694.2L994.8 1702.4L985.6 1702.4Z" fill="#5656f2"/>
<path d="M997.5 1691.7L1002.1 1699.9L992.9 1699.9Z" fill="#5656f2"/>
<path d="M1004.6 1697.4L1009.2 1705.6L1000.0 1705.6Z" fill="#5656f2"/>
<path d="M997.5 1702.5L1002.1 1710.7L992.9 1710.7Z" fill="#5656f2"/>
<path d="M997.5 1714.1L1002.1 1722.3L992.9 1722.3Z" fill="#5656f2"/>
<path d="M1004.6 1717.3L1009.2 1725.5L1000.0 1725.5Z" fill="#5656f2"/>
<path d="M1011.9 1717.9L1016.5 1726.1L1007.3 1726.1Z" fill="#5656f2"/>
<path d="M990.2 1721.1L994.8 1729.3L985.6 1729.3Z" fill="#5656f2"/>
<path d="M997.5 1723.0L1002.1 1731.2L992.9 1731.2Z" fill="#5656f2"/>
<path d="M990.2 1751.2L994.8 1759.4L985.6 1759.4Z" fill="#5656f2"/>
<path d="M997.5 1749.9L1002.1 1758.1L992.9 1758.1Z" fill="#5656f2"/>
<path d="M1004.6 1754.4L1009.2 1762.6L1000.0 1762.6Z" fill="#5656f2"/>
<path d="M997.5 1771.0L1002.1 1779.2L992.9 1779.2Z" fill="#5656f2"/>
<path d="M997.5 1781.3L1002.1 1789.5L992.9 1789.5Z" fill="#5656f2"/>
<line x1="1067.9" y1="1647.1" x2="1067.9" y2="1755.3" stroke="#111" stroke-width="1.6" />
<line x1="1057.0" y1="1647.1" x2="1078.8" y2="1647.1" stroke="#111" stroke-width="1.6" />
<line x1="1057.0" y1="1755.3" x2="1078.8" y2="1755.3" stroke="#111" stroke-width="1.6" />
<line x1="1045.9" y1="1701.5" x2="1089.9" y2="1701.5" stroke="#000" stroke-width="2.9" />
<path d="M1067.9 1602.6L1072.5 1594.4L1063.3 1594.4Z" fill="#5656f2"/>
<path d="M1076.9 1609.0L1081.5 1600.8L1072.3 1600.8Z" fill="#5656f2"/>
<path d="M1067.9 1613.5L1072.5 1605.3L1063.3 1605.3Z" fill="#5656f2"/>
<path d="M1067.9 1631.4L1072.5 1623.2L1063.3 1623.2Z" fill="#5656f2"/>
<path d="M1059.0 1646.1L1063.6 1637.9L1054.4 1637.9Z" fill="#5656f2"/>
<path d="M1076.9 1643.5L1081.5 1635.3L1072.3 1635.3Z" fill="#5656f2"/>
<path d="M1067.9 1649.9L1072.5 1641.7L1063.3 1641.7Z" fill="#5656f2"/>
<path d="M1067.9 1692.2L1072.5 1684.0L1063.3 1684.0Z" fill="#5656f2"/>
<path d="M1076.9 1690.9L1081.5 1682.7L1072.3 1682.7Z" fill="#5656f2"/>
<path d="M1050.0 1697.3L1054.6 1689.1L1045.4 1689.1Z" fill="#5656f2"/>
<path d="M1059.0 1696.0L1063.6 1687.8L1054.4 1687.8Z" fill="#5656f2"/>
<path d="M1085.8 1697.3L1090.4 1689.1L1081.2 1689.1Z" fill="#5656f2"/>
<path d="M1076.9 1700.5L1081.5 1692.3L1072.3 1692.3Z" fill="#5656f2"/>
<path d="M1067.9 1703.7L1072.5 1695.5L1063.3 1695.5Z" fill="#5656f2"/>
<path d="M1076.9 1712.7L1081.5 1704.5L1072.3 1704.5Z" fill="#5656f2"/>
<path d="M1059.0 1716.5L1063.6 1708.3L1054.4 1708.3Z" fill="#5656f2"/>
<path d="M1050.0 1719.7L1054.6 1711.5L1045.4 1711.5Z" fill="#5656f2"/>
<path d="M1067.9 1722.3L1072.5 1714.1L1063.3 1714.1Z" fill="#5656f2"/>
<path d="M1076.9 1722.3L1081.5 1714.1L1072.3 1714.1Z" fill="#5656f2"/>
<path d="M1085.8 1720.3L1090.4 1712.1L1081.2 1712.1Z" fill="#5656f2"/>
<path d="M1050.0 1728.7L1054.6 1720.5L1045.4 1720.5Z" fill="#5656f2"/>
<path d="M1059.0 1727.4L1063.6 1719.2L1054.4 1719.2Z" fill="#5656f2"/>
<path d="M1085.8 1731.2L1090.4 1723.0L1081.2 1723.0Z" fill="#5656f2"/>
<path d="M1076.9 1733.8L1081.5 1725.6L1072.3 1725.6Z" fill="#5656f2"/>
<path d="M1059.0 1735.7L1063.6 1727.5L1054.4 1727.5Z" fill="#5656f2"/>
<path d="M1050.0 1739.5L1054.6 1731.3L1045.4 1731.3Z" fill="#5656f2"/>
<path d="M1067.9 1742.7L1072.5 1734.5L1063.3 1734.5Z" fill="#5656f2"/>
<path d="M1067.9 1756.2L1072.5 1748.0L1063.3 1748.0Z" fill="#5656f2"/>
<path d="M1067.9 1818.9L1072.5 1810.7L1063.3 1810.7Z" fill="#5656f2"/>
<path d="M1067.9 1836.2L1072.5 1828.0L1063.3 1828.0Z" fill="#5656f2"/>
<line x1="1181.2" y1="1669.9" x2="1181.2" y2="1774.5" stroke="#111" stroke-width="1.6" />
<line x1="1170.3" y1="1669.9" x2="1192.4" y2="1669.9" stroke="#111" stroke-width="1.6" />
<line x1="1170.3" y1="1774.5" x2="1192.4" y2="1774.5" stroke="#111" stroke-width="1.6" />
<line x1="1159.4" y1="1722.2" x2="1203.6" y2="1722.2" stroke="#000" stroke-width="2.9" />
<circle cx="1181.2" cy="1613.6" r="3.05" fill="#ee3a3e"/>
<circle cx="1181.2" cy="1652.4" r="3.05" fill="#ee3a3e"/>
<circle cx="1169.8" cy="1680.4" r="3.05" fill="#ee3a3e"/>
<circle cx="1181.2" cy="1684.8" r="3.05" fill="#ee3a3e"/>
<circle cx="1192.8" cy="1686.2" r="3.05" fill="#ee3a3e"/>
<circle cx="1169.8" cy="1692.9" r="3.05" fill="#ee3a3e"/>
<circle cx="1192.8" cy="1693.1" r="3.05" fill="#ee3a3e"/>
<circle cx="1181.2" cy="1698.1" r="3.05" fill="#ee3a3e"/>
<circle cx="1181.2" cy="1707.5" r="3.05" fill="#ee3a3e"/>
<circle cx="1192.8" cy="1713.4" r="3.05" fill="#ee3a3e"/>
<circle cx="1181.2" cy="1719.6" r="3.05" fill="#ee3a3e"/>
<circle cx="1169.8" cy="1722.2" r="3.05" fill="#ee3a3e"/>
<circle cx="1181.2" cy="1742.5" r="3.05" fill="#ee3a3e"/>
<circle cx="1169.8" cy="1747.7" r="3.05" fill="#ee3a3e"/>
<circle cx="1181.2" cy="1749.8" r="3.05" fill="#ee3a3e"/>
<circle cx="1181.2" cy="1756.0" r="3.05" fill="#ee3a3e"/>
<circle cx="1181.2" cy="1764.9" r="3.05" fill="#ee3a3e"/>
<circle cx="1181.2" cy="1778.4" r="3.05" fill="#ee3a3e"/>
<circle cx="1181.2" cy="1792.4" r="3.05" fill="#ee3a3e"/>
<line x1="1247.8" y1="1655.7" x2="1247.8" y2="1749.3" stroke="#111" stroke-width="1.6" />
<line x1="1237.2" y1="1655.7" x2="1258.7" y2="1655.7" stroke="#111" stroke-width="1.6" />
<line x1="1237.2" y1="1749.3" x2="1258.7" y2="1749.3" stroke="#111" stroke-width="1.6" />
<line x1="1225.9" y1="1702.8" x2="1270.1" y2="1702.8" stroke="#000" stroke-width="2.9" />
<path d="M1253.7 1576.6L1257.9 1580.8L1253.7 1585.0L1249.5 1580.8Z" fill="#ee3a3e"/>
<path d="M1230.1 1653.4L1234.3 1657.6L1230.1 1661.8L1225.9 1657.6Z" fill="#ee3a3e"/>
<path d="M1253.7 1652.5L1257.9 1656.7L1253.7 1660.9L1249.5 1656.7Z" fill="#ee3a3e"/>
<path d="M1265.7 1655.6L1269.9 1659.8L1265.7 1664.0L1261.5 1659.8Z" fill="#ee3a3e"/>
<path d="M1253.7 1674.9L1257.9 1679.1L1253.7 1683.3L1249.5 1679.1Z" fill="#ee3a3e"/>
<path d="M1241.7 1682.2L1245.9 1686.4L1241.7 1690.6L1237.5 1686.4Z" fill="#ee3a3e"/>
<path d="M1265.7 1685.8L1269.9 1690.0L1265.7 1694.2L1261.5 1690.0Z" fill="#ee3a3e"/>
<path d="M1230.1 1690.5L1234.3 1694.7L1230.1 1698.9L1225.9 1694.7Z" fill="#ee3a3e"/>
<path d="M1253.7 1690.2L1257.9 1694.4L1253.7 1698.6L1249.5 1694.4Z" fill="#ee3a3e"/>
<path d="M1241.7 1694.1L1245.9 1698.3L1241.7 1702.5L1237.5 1698.3Z" fill="#ee3a3e"/>
<path d="M1265.7 1695.4L1269.9 1699.6L1265.7 1703.8L1261.5 1699.6Z" fill="#ee3a3e"/>
<path d="M1230.1 1709.7L1234.3 1713.9L1230.1 1718.1L1225.9 1713.9Z" fill="#ee3a3e"/>
<path d="M1253.7 1711.0L1257.9 1715.2L1253.7 1719.4L1249.5 1715.2Z" fill="#ee3a3e"/>
<path d="M1265.7 1710.8L1269.9 1715.0L1265.7 1719.2L1261.5 1715.0Z" fill="#ee3a3e"/>
<path d="M1241.7 1717.5L1245.9 1721.7L1241.7 1725.9L1237.5 1721.7Z" fill="#ee3a3e"/>
<path d="M1253.7 1726.4L1257.9 1730.6L1253.7 1734.8L1249.5 1730.6Z" fill="#ee3a3e"/>
<path d="M1241.7 1731.0L1245.9 1735.2L1241.7 1739.4L1237.5 1735.2Z" fill="#ee3a3e"/>
<path d="M1241.7 1741.4L1245.9 1745.6L1241.7 1749.8L1237.5 1745.6Z" fill="#ee3a3e"/>
<path d="M1241.7 1780.4L1245.9 1784.6L1241.7 1788.8L1237.5 1784.6Z" fill="#ee3a3e"/>
<path d="M1241.7 1789.8L1245.9 1794.0L1241.7 1798.2L1237.5 1794.0Z" fill="#ee3a3e"/>
<line x1="1314.6" y1="1621.4" x2="1314.6" y2="1766.4" stroke="#111" stroke-width="1.6" />
<line x1="1303.5" y1="1621.4" x2="1325.6" y2="1621.4" stroke="#111" stroke-width="1.6" />
<line x1="1303.5" y1="1766.4" x2="1325.6" y2="1766.4" stroke="#111" stroke-width="1.6" />
<line x1="1292.8" y1="1694.0" x2="1336.5" y2="1694.0" stroke="#000" stroke-width="2.9" />
<path d="M1308.4 1587.1L1313.0 1595.3L1303.8 1595.3Z" fill="#ee3a3e"/>
<path d="M1320.4 1589.0L1325.0 1597.2L1315.8 1597.2Z" fill="#ee3a3e"/>
<path d="M1308.4 1624.0L1313.0 1632.2L1303.8 1632.2Z" fill="#ee3a3e"/>
<path d="M1320.4 1630.3L1325.0 1638.5L1315.8 1638.5Z" fill="#ee3a3e"/>
<path d="M1308.4 1641.2L1313.0 1649.4L1303.8 1649.4Z" fill="#ee3a3e"/>
<path d="M1320.4 1655.7L1325.0 1663.9L1315.8 1663.9Z" fill="#ee3a3e"/>
<path d="M1332.3 1673.4L1336.9 1681.6L1327.7 1681.6Z" fill="#ee3a3e"/>
<path d="M1296.6 1679.5L1301.2 1687.7L1292.0 1687.7Z" fill="#ee3a3e"/>
<path d="M1308.4 1683.0L1313.0 1691.2L1303.8 1691.2Z" fill="#ee3a3e"/>
<path d="M1320.4 1682.3L1325.0 1690.5L1315.8 1690.5Z" fill="#ee3a3e"/>
<path d="M1332.3 1683.0L1336.9 1691.2L1327.7 1691.2Z" fill="#ee3a3e"/>
<path d="M1308.4 1693.7L1313.0 1701.9L1303.8 1701.9Z" fill="#ee3a3e"/>
<path d="M1320.4 1694.7L1325.0 1702.9L1315.8 1702.9Z" fill="#ee3a3e"/>
<path d="M1308.4 1703.1L1313.0 1711.3L1303.8 1711.3Z" fill="#ee3a3e"/>
<path d="M1308.4 1715.5L1313.0 1723.7L1303.8 1723.7Z" fill="#ee3a3e"/>
<path d="M1296.6 1722.8L1301.2 1731.0L1292.0 1731.0Z" fill="#ee3a3e"/>
<path d="M1332.3 1719.7L1336.9 1727.9L1327.7 1727.9Z" fill="#ee3a3e"/>
<path d="M1308.4 1736.9L1313.0 1745.1L1303.8 1745.1Z" fill="#ee3a3e"/>
<path d="M1308.4 1767.6L1313.0 1775.8L1303.8 1775.8Z" fill="#ee3a3e"/>
<line x1="1381.2" y1="1672.8" x2="1381.2" y2="1750.3" stroke="#111" stroke-width="1.6" />
<line x1="1370.3" y1="1672.8" x2="1391.6" y2="1672.8" stroke="#111" stroke-width="1.6" />
<line x1="1370.3" y1="1750.3" x2="1391.6" y2="1750.3" stroke="#111" stroke-width="1.6" />
<line x1="1359.4" y1="1711.6" x2="1402.5" y2="1711.6" stroke="#000" stroke-width="2.9" />
<path d="M1386.7 1635.9L1391.3 1627.7L1382.1 1627.7Z" fill="#ee3a3e"/>
<path d="M1375.0 1654.8L1379.6 1646.6L1370.4 1646.6Z" fill="#ee3a3e"/>
<path d="M1386.7 1662.7L1391.3 1654.5L1382.1 1654.5Z" fill="#ee3a3e"/>
<path d="M1363.2 1681.6L1367.8 1673.4L1358.6 1673.4Z" fill="#ee3a3e"/>
<path d="M1375.0 1688.9L1379.6 1680.7L1370.4 1680.7Z" fill="#ee3a3e"/>
<path d="M1386.7 1692.0L1391.3 1683.8L1382.1 1683.8Z" fill="#ee3a3e"/>
<path d="M1398.9 1692.0L1403.5 1683.8L1394.3 1683.8Z" fill="#ee3a3e"/>
<path d="M1375.0 1701.9L1379.6 1693.7L1370.4 1693.7Z" fill="#ee3a3e"/>
<path d="M1398.9 1710.7L1403.5 1702.5L1394.3 1702.5Z" fill="#ee3a3e"/>
<path d="M1386.7 1715.4L1391.3 1707.2L1382.1 1707.2Z" fill="#ee3a3e"/>
<path d="M1375.0 1719.6L1379.6 1711.4L1370.4 1711.4Z" fill="#ee3a3e"/>
<path d="M1398.9 1721.1L1403.5 1712.9L1394.3 1712.9Z" fill="#ee3a3e"/>
<path d="M1363.2 1723.7L1367.8 1715.5L1358.6 1715.5Z" fill="#ee3a3e"/>
<path d="M1363.2 1744.5L1367.8 1736.3L1358.6 1736.3Z" fill="#ee3a3e"/>
<path d="M1375.0 1743.5L1379.6 1735.3L1370.4 1735.3Z" fill="#ee3a3e"/>
<path d="M1398.9 1752.3L1403.5 1744.1L1394.3 1744.1Z" fill="#ee3a3e"/>
<path d="M1386.7 1754.9L1391.3 1746.7L1382.1 1746.7Z" fill="#ee3a3e"/>
<path d="M1363.2 1758.1L1367.8 1749.9L1358.6 1749.9Z" fill="#ee3a3e"/>
<path d="M1375.0 1762.2L1379.6 1754.0L1370.4 1754.0Z" fill="#ee3a3e"/>
<path d="M1375.0 1778.3L1379.6 1770.1L1370.4 1770.1Z" fill="#ee3a3e"/>
<text x="415.0" y="2043.3" font-size="34" text-anchor="middle" font-family="Liberation Serif" >30 mg</text>
<text x="258.7" y="2065.5" font-size="26" text-anchor="middle" font-weight="bold" >TD</text>
<text x="570.0" y="2065.5" font-size="26" text-anchor="middle" font-weight="bold" >ASD</text>
<line x1="115.2" y1="2101.8" x2="115.2" y2="2393.1" stroke="#000" stroke-width="2.8" />
<line x1="102.7" y1="2103.1" x2="115.2" y2="2103.1" stroke="#000" stroke-width="2.8" />
<text x="98.4" y="2110.3" font-size="20" text-anchor="end" >60</text>
<line x1="102.7" y1="2160.9" x2="115.2" y2="2160.9" stroke="#000" stroke-width="2.8" />
<text x="98.4" y="2168.1" font-size="20" text-anchor="end" >40</text>
<line x1="102.7" y1="2218.7" x2="115.2" y2="2218.7" stroke="#000" stroke-width="2.8" />
<text x="98.4" y="2225.9" font-size="20" text-anchor="end" >20</text>
<line x1="102.7" y1="2276.5" x2="115.2" y2="2276.5" stroke="#000" stroke-width="2.8" />
<text x="98.4" y="2283.7" font-size="20" text-anchor="end" >0</text>
<line x1="102.7" y1="2334.3" x2="115.2" y2="2334.3" stroke="#000" stroke-width="2.8" />
<text x="98.4" y="2341.5" font-size="20" text-anchor="end" >-20</text>
<line x1="102.7" y1="2392.1" x2="115.2" y2="2392.1" stroke="#000" stroke-width="2.8" />
<text x="98.4" y="2399.3" font-size="20" text-anchor="end" >-40</text>
<line x1="115.2" y1="2391.8" x2="716.5" y2="2391.8" stroke="#000" stroke-width="2.7" />
<line x1="158.6" y1="2391.8" x2="158.6" y2="2404.0" stroke="#000" stroke-width="2.7" />
<text x="165.5" y="2422.3" font-size="21.6" text-anchor="end" transform="rotate(-45 165.5 2422.3)" >Standard</text>
<line x1="224.8" y1="2391.8" x2="224.8" y2="2404.0" stroke="#000" stroke-width="2.7" />
<text x="231.7" y="2422.3" font-size="21.6" text-anchor="end" transform="rotate(-45 231.7 2422.3)" >Frequency</text>
<line x1="291.2" y1="2391.8" x2="291.2" y2="2404.0" stroke="#000" stroke-width="2.7" />
<text x="298.1" y="2422.3" font-size="21.6" text-anchor="end" transform="rotate(-45 298.1 2422.3)" >Duration</text>
<line x1="357.8" y1="2391.8" x2="357.8" y2="2404.0" stroke="#000" stroke-width="2.7" />
<text x="364.7" y="2422.3" font-size="21.6" text-anchor="end" transform="rotate(-45 364.7 2422.3)" >Freq-Dura</text>
<line x1="470.1" y1="2391.8" x2="470.1" y2="2404.0" stroke="#000" stroke-width="2.7" />
<text x="477.0" y="2422.3" font-size="21.6" text-anchor="end" transform="rotate(-45 477.0 2422.3)" >Standard</text>
<line x1="536.9" y1="2391.8" x2="536.9" y2="2404.0" stroke="#000" stroke-width="2.7" />
<text x="543.8" y="2422.3" font-size="21.6" text-anchor="end" transform="rotate(-45 543.8 2422.3)" >Frequency</text>
<line x1="603.4" y1="2391.8" x2="603.4" y2="2404.0" stroke="#000" stroke-width="2.7" />
<text x="610.3" y="2422.3" font-size="21.6" text-anchor="end" transform="rotate(-45 610.3 2422.3)" >Duration</text>
<line x1="669.8" y1="2391.8" x2="669.8" y2="2404.0" stroke="#000" stroke-width="2.7" />
<text x="676.7" y="2422.3" font-size="21.6" text-anchor="end" transform="rotate(-45 676.7 2422.3)" >Freq-Dura</text>
<line x1="417.0" y1="2119.2" x2="417.0" y2="2376.7" stroke="#111" stroke-width="1.7" stroke-dasharray="10.5,4.2"/>
<circle cx="132.2" cy="2276.5" r="1.45" fill="#000"/>
<circle cx="140.9" cy="2276.5" r="1.45" fill="#000"/>
<circle cx="149.5" cy="2276.5" r="1.45" fill="#000"/>
<circle cx="158.2" cy="2276.5" r="1.45" fill="#000"/>
<circle cx="166.8" cy="2276.5" r="1.45" fill="#000"/>
<circle cx="175.5" cy="2276.5" r="1.45" fill="#000"/>
<circle cx="184.2" cy="2276.5" r="1.45" fill="#000"/>
<circle cx="192.8" cy="2276.5" r="1.45" fill="#000"/>
<circle cx="201.5" cy="2276.5" r="1.45" fill="#000"/>
<circle cx="210.1" cy="2276.5" r="1.45" fill="#000"/>
<circle cx="218.8" cy="2276.5" r="1.45" fill="#000"/>
<circle cx="227.5" cy="2276.5" r="1.45" fill="#000"/>
<circle cx="236.1" cy="2276.5" r="1.45" fill="#000"/>
<circle cx="244.8" cy="2276.5" r="1.45" fill="#000"/>
<circle cx="253.4" cy="2276.5" r="1.45" fill="#000"/>
<circle cx="262.1" cy="2276.5" r="1.45" fill="#000"/>
<circle cx="270.8" cy="2276.5" r="1.45" fill="#000"/>
<circle cx="279.4" cy="2276.5" r="1.45" fill="#000"/>
<circle cx="288.1" cy="2276.5" r="1.45" fill="#000"/>
<circle cx="296.7" cy="2276.5" r="1.45" fill="#000"/>
<circle cx="305.4" cy="2276.5" r="1.45" fill="#000"/>
<circle cx="314.1" cy="2276.5" r="1.45" fill="#000"/>
<circle cx="322.7" cy="2276.5" r="1.45" fill="#000"/>
<circle cx="331.4" cy="2276.5" r="1.45" fill="#000"/>
<circle cx="340.0" cy="2276.5" r="1.45" fill="#000"/>
<circle cx="348.7" cy="2276.5" r="1.45" fill="#000"/>
<circle cx="357.4" cy="2276.5" r="1.45" fill="#000"/>
<circle cx="366.0" cy="2276.5" r="1.45" fill="#000"/>
<circle cx="374.7" cy="2276.5" r="1.45" fill="#000"/>
<circle cx="383.3" cy="2276.5" r="1.45" fill="#000"/>
<circle cx="392.0" cy="2276.5" r="1.45" fill="#000"/>
<circle cx="400.7" cy="2276.5" r="1.45" fill="#000"/>
<circle cx="435.3" cy="2276.5" r="1.45" fill="#000"/>
<circle cx="444.0" cy="2276.5" r="1.45" fill="#000"/>
<circle cx="452.6" cy="2276.5" r="1.45" fill="#000"/>
<circle cx="461.3" cy="2276.5" r="1.45" fill="#000"/>
<circle cx="469.9" cy="2276.5" r="1.45" fill="#000"/>
<circle cx="478.6" cy="2276.5" r="1.45" fill="#000"/>
<circle cx="487.3" cy="2276.5" r="1.45" fill="#000"/>
<circle cx="495.9" cy="2276.5" r="1.45" fill="#000"/>
<circle cx="504.6" cy="2276.5" r="1.45" fill="#000"/>
<circle cx="513.2" cy="2276.5" r="1.45" fill="#000"/>
<circle cx="521.9" cy="2276.5" r="1.45" fill="#000"/>
<circle cx="530.6" cy="2276.5" r="1.45" fill="#000"/>
<circle cx="539.2" cy="2276.5" r="1.45" fill="#000"/>
<circle cx="547.9" cy="2276.5" r="1.45" fill="#000"/>
<circle cx="556.5" cy="2276.5" r="1.45" fill="#000"/>
<circle cx="565.2" cy="2276.5" r="1.45" fill="#000"/>
<circle cx="573.9" cy="2276.5" r="1.45" fill="#000"/>
<circle cx="582.5" cy="2276.5" r="1.45" fill="#000"/>
<circle cx="591.2" cy="2276.5" r="1.45" fill="#000"/>
<circle cx="599.8" cy="2276.5" r="1.45" fill="#000"/>
<circle cx="608.5" cy="2276.5" r="1.45" fill="#000"/>
<circle cx="617.2" cy="2276.5" r="1.45" fill="#000"/>
<circle cx="625.8" cy="2276.5" r="1.45" fill="#000"/>
<circle cx="634.5" cy="2276.5" r="1.45" fill="#000"/>
<circle cx="643.1" cy="2276.5" r="1.45" fill="#000"/>
<circle cx="651.8" cy="2276.5" r="1.45" fill="#000"/>
<circle cx="660.5" cy="2276.5" r="1.45" fill="#000"/>
<circle cx="669.1" cy="2276.5" r="1.45" fill="#000"/>
<circle cx="677.8" cy="2276.5" r="1.45" fill="#000"/>
<circle cx="686.4" cy="2276.5" r="1.45" fill="#000"/>
<circle cx="695.1" cy="2276.5" r="1.45" fill="#000"/>
<circle cx="703.8" cy="2276.5" r="1.45" fill="#000"/>
<circle cx="712.4" cy="2276.5" r="1.45" fill="#000"/>
<text x="53.7" y="2248.3" font-size="23.4" text-anchor="middle" font-weight="bold" transform="rotate(-90 53.7 2248.3)" >Induced power</text>
<path d="M469.1 2103.4L469.1 2095.0L608.6 2095.0L608.6 2103.4" stroke="#000" stroke-width="2.2" fill="none"/>
<path d="M537.30 2080.30L537.30 2092.90M531.84 2083.45L542.76 2089.75M531.84 2089.75L542.76 2083.45" stroke="#000" stroke-width="2.1" stroke-linecap="round" fill="none"/>
<path d="M469.1 2122.6L469.1 2113.8L538.0 2113.8L538.0 2122.6" stroke="#000" stroke-width="2.2" fill="none"/>
<path d="M504.20 2098.90L504.20 2111.50M498.74 2102.05L509.66 2108.35M498.74 2108.35L509.66 2102.05" stroke="#000" stroke-width="2.1" stroke-linecap="round" fill="none"/>
<line x1="158.2" y1="2236.6" x2="158.2" y2="2283.1" stroke="#111" stroke-width="1.6" />
<line x1="147.3" y1="2236.6" x2="169.1" y2="2236.6" stroke="#111" stroke-width="1.6" />
<line x1="147.3" y1="2283.1" x2="169.1" y2="2283.1" stroke="#111" stroke-width="1.6" />
<line x1="136.1" y1="2260.0" x2="180.3" y2="2260.0" stroke="#000" stroke-width="2.9" />
<circle cx="162.0" cy="2219.8" r="3.05" fill="#5656f2"/>
<circle cx="146.6" cy="2235.9" r="3.05" fill="#5656f2"/>
<circle cx="162.0" cy="2234.3" r="3.05" fill="#5656f2"/>
<circle cx="154.3" cy="2239.8" r="3.05" fill="#5656f2"/>
<circle cx="169.7" cy="2237.9" r="3.05" fill="#5656f2"/>
<circle cx="139.0" cy="2248.5" r="3.05" fill="#5656f2"/>
<circle cx="154.3" cy="2251.6" r="3.05" fill="#5656f2"/>
<circle cx="162.0" cy="2252.0" r="3.05" fill="#5656f2"/>
<circle cx="169.7" cy="2251.0" r="3.05" fill="#5656f2"/>
<circle cx="177.4" cy="2251.0" r="3.05" fill="#5656f2"/>
<circle cx="146.6" cy="2254.2" r="3.05" fill="#5656f2"/>
<circle cx="154.3" cy="2264.8" r="3.05" fill="#5656f2"/>
<circle cx="162.0" cy="2263.8" r="3.05" fill="#5656f2"/>
<circle cx="162.0" cy="2275.7" r="3.05" fill="#5656f2"/>
<circle cx="154.3" cy="2279.2" r="3.05" fill="#5656f2"/>
<circle cx="146.6" cy="2286.5" r="3.05" fill="#5656f2"/>
<circle cx="154.3" cy="2291.7" r="3.05" fill="#5656f2"/>
<circle cx="162.0" cy="2291.1" r="3.05" fill="#5656f2"/>
<circle cx="154.3" cy="2308.1" r="3.05" fill="#5656f2"/>
<line x1="225.1" y1="2197.2" x2="225.1" y2="2288.9" stroke="#111" stroke-width="1.6" />
<line x1="214.0" y1="2197.2" x2="235.7" y2="2197.2" stroke="#111" stroke-width="1.6" />
<line x1="214.0" y1="2288.9" x2="235.7" y2="2288.9" stroke="#111" stroke-width="1.6" />
<line x1="202.9" y1="2243.4" x2="246.7" y2="2243.4" stroke="#000" stroke-width="2.9" />
<path d="M230.6 2131.7L234.8 2135.9L230.6 2140.1L226.4 2135.9Z" fill="#5656f2"/>
<path d="M218.6 2148.3L222.8 2152.5L218.6 2156.7L214.4 2152.5Z" fill="#5656f2"/>
<path d="M218.6 2209.6L222.8 2213.8L218.6 2218.0L214.4 2213.8Z" fill="#5656f2"/>
<path d="M230.6 2214.4L234.8 2218.6L230.6 2222.8L226.4 2218.6Z" fill="#5656f2"/>
<path d="M230.6 2226.9L234.8 2231.1L230.6 2235.3L226.4 2231.1Z" fill="#5656f2"/>
<path d="M242.6 2225.8L246.8 2230.0L242.6 2234.2L238.4 2230.0Z" fill="#5656f2"/>
<path d="M207.0 2229.3L211.2 2233.5L207.0 2237.7L202.8 2233.5Z" fill="#5656f2"/>
<path d="M218.6 2231.3L222.8 2235.5L218.6 2239.7L214.4 2235.5Z" fill="#5656f2"/>
<path d="M242.6 2235.6L246.8 2239.8L242.6 2244.0L238.4 2239.8Z" fill="#5656f2"/>
<path d="M218.6 2243.3L222.8 2247.5L218.6 2251.7L214.4 2247.5Z" fill="#5656f2"/>
<path d="M207.0 2247.4L211.2 2251.6L207.0 2255.8L202.8 2251.6Z" fill="#5656f2"/>
<path d="M242.6 2248.4L246.8 2252.6L242.6 2256.8L238.4 2252.6Z" fill="#5656f2"/>
<path d="M230.6 2250.7L234.8 2254.9L230.6 2259.1L226.4 2254.9Z" fill="#5656f2"/>
<path d="M218.6 2256.5L222.8 2260.7L218.6 2264.9L214.4 2260.7Z" fill="#5656f2"/>
<path d="M218.6 2265.4L222.8 2269.6L218.6 2273.8L214.4 2269.6Z" fill="#5656f2"/>
<path d="M230.6 2268.0L234.8 2272.2L230.6 2276.4L226.4 2272.2Z" fill="#5656f2"/>
<path d="M218.6 2276.7L222.8 2280.9L218.6 2285.1L214.4 2280.9Z" fill="#5656f2"/>
<path d="M218.6 2291.7L222.8 2295.9L218.6 2300.1L214.4 2295.9Z" fill="#5656f2"/>
<path d="M218.6 2337.6L222.8 2341.8L218.6 2346.0L214.4 2341.8Z" fill="#5656f2"/>
<line x1="291.3" y1="2200.3" x2="291.3" y2="2304.7" stroke="#111" stroke-width="1.6" />
<line x1="280.3" y1="2200.3" x2="302.2" y2="2200.3" stroke="#111" stroke-width="1.6" />
<line x1="280.3" y1="2304.7" x2="302.2" y2="2304.7" stroke="#111" stroke-width="1.6" />
<line x1="269.2" y1="2252.8" x2="313.5" y2="2252.8" stroke="#000" stroke-width="2.9" />
<path d="M291.3 2145.7L295.9 2153.9L286.7 2153.9Z" fill="#5656f2"/>
<path d="M291.3 2172.9L295.9 2181.1L286.7 2181.1Z" fill="#5656f2"/>
<path d="M291.3 2189.0L295.9 2197.2L286.7 2197.2Z" fill="#5656f2"/>
<path d="M273.5 2203.5L278.1 2211.7L268.9 2211.7Z" fill="#5656f2"/>
<path d="M309.1 2204.9L313.7 2213.1L304.5 2213.1Z" fill="#5656f2"/>
<path d="M291.3 2208.8L295.9 2217.0L286.7 2217.0Z" fill="#5656f2"/>
<path d="M291.3 2220.3L295.9 2228.5L286.7 2228.5Z" fill="#5656f2"/>
<path d="M291.3 2231.4L295.9 2239.6L286.7 2239.6Z" fill="#5656f2"/>
<path d="M291.3 2252.5L295.9 2260.7L286.7 2260.7Z" fill="#5656f2"/>
<path d="M309.1 2261.0L313.7 2269.2L304.5 2269.2Z" fill="#5656f2"/>
<path d="M291.3 2267.9L295.9 2276.1L286.7 2276.1Z" fill="#5656f2"/>
<path d="M273.5 2282.4L278.1 2290.6L268.9 2290.6Z" fill="#5656f2"/>
<path d="M309.1 2280.0L313.7 2288.2L304.5 2288.2Z" fill="#5656f2"/>
<path d="M291.3 2287.6L295.9 2295.8L286.7 2295.8Z" fill="#5656f2"/>
<path d="M273.5 2292.2L278.1 2300.4L268.9 2300.4Z" fill="#5656f2"/>
<path d="M291.3 2294.9L295.9 2303.1L286.7 2303.1Z" fill="#5656f2"/>
<path d="M309.1 2294.7L313.7 2302.9L304.5 2302.9Z" fill="#5656f2"/>
<path d="M291.3 2305.0L295.9 2313.2L286.7 2313.2Z" fill="#5656f2"/>
<path d="M291.3 2341.5L295.9 2349.7L286.7 2349.7Z" fill="#5656f2"/>
<line x1="357.7" y1="2209.7" x2="357.7" y2="2291.5" stroke="#111" stroke-width="1.6" />
<line x1="347.2" y1="2209.7" x2="368.6" y2="2209.7" stroke="#111" stroke-width="1.6" />
<line x1="347.2" y1="2291.5" x2="368.6" y2="2291.5" stroke="#111" stroke-width="1.6" />
<line x1="336.1" y1="2250.7" x2="379.6" y2="2250.7" stroke="#000" stroke-width="2.9" />
<path d="M363.7 2166.4L368.3 2158.2L359.1 2158.2Z" fill="#5656f2"/>
<path d="M363.7 2192.6L368.3 2184.4L359.1 2184.4Z" fill="#5656f2"/>
<path d="M363.7 2204.4L368.3 2196.2L359.1 2196.2Z" fill="#5656f2"/>
<path d="M351.8 2210.2L356.4 2202.0L347.2 2202.0Z" fill="#5656f2"/>
<path d="M363.7 2217.0L368.3 2208.8L359.1 2208.8Z" fill="#5656f2"/>
<path d="M351.8 2234.6L356.4 2226.4L347.2 2226.4Z" fill="#5656f2"/>
<path d="M351.8 2244.9L356.4 2236.7L347.2 2236.7Z" fill="#5656f2"/>
<path d="M351.8 2255.0L356.4 2246.8L347.2 2246.8Z" fill="#5656f2"/>
<path d="M339.9 2265.1L344.5 2256.9L335.3 2256.9Z" fill="#5656f2"/>
<path d="M363.7 2261.7L368.3 2253.5L359.1 2253.5Z" fill="#5656f2"/>
<path d="M375.5 2264.6L380.1 2256.4L370.9 2256.4Z" fill="#5656f2"/>
<path d="M351.8 2268.9L356.4 2260.7L347.2 2260.7Z" fill="#5656f2"/>
<path d="M363.7 2277.1L368.3 2268.9L359.1 2268.9Z" fill="#5656f2"/>
<path d="M351.8 2280.5L356.4 2272.3L347.2 2272.3Z" fill="#5656f2"/>
<path d="M375.5 2281.9L380.1 2273.7L370.9 2273.7Z" fill="#5656f2"/>
<path d="M339.9 2284.8L344.5 2276.6L335.3 2276.6Z" fill="#5656f2"/>
<path d="M351.8 2289.1L356.4 2280.9L347.2 2280.9Z" fill="#5656f2"/>
<path d="M351.8 2301.1L356.4 2292.9L347.2 2292.9Z" fill="#5656f2"/>
<path d="M351.8 2329.1L356.4 2320.9L347.2 2320.9Z" fill="#5656f2"/>
<line x1="469.8" y1="2230.7" x2="469.8" y2="2353.4" stroke="#111" stroke-width="1.6" />
<line x1="459.2" y1="2230.7" x2="480.9" y2="2230.7" stroke="#111" stroke-width="1.6" />
<line x1="459.2" y1="2353.4" x2="480.9" y2="2353.4" stroke="#111" stroke-width="1.6" />
<line x1="448.1" y1="2292.0" x2="492.1" y2="2292.0" stroke="#000" stroke-width="2.9" />
<circle cx="476.2" cy="2219.1" r="3.05" fill="#ee3a3e"/>
<circle cx="463.6" cy="2231.3" r="3.05" fill="#ee3a3e"/>
<circle cx="476.2" cy="2233.8" r="3.05" fill="#ee3a3e"/>
<circle cx="463.6" cy="2237.7" r="3.05" fill="#ee3a3e"/>
<circle cx="463.6" cy="2245.5" r="3.05" fill="#ee3a3e"/>
<circle cx="463.6" cy="2267.2" r="3.05" fill="#ee3a3e"/>
<circle cx="476.2" cy="2269.5" r="3.05" fill="#ee3a3e"/>
<circle cx="489.3" cy="2273.7" r="3.05" fill="#ee3a3e"/>
<circle cx="450.9" cy="2276.2" r="3.05" fill="#ee3a3e"/>
<circle cx="476.2" cy="2279.0" r="3.05" fill="#ee3a3e"/>
<circle cx="463.6" cy="2281.9" r="3.05" fill="#ee3a3e"/>
<circle cx="489.3" cy="2281.5" r="3.05" fill="#ee3a3e"/>
<circle cx="476.2" cy="2306.9" r="3.05" fill="#ee3a3e"/>
<circle cx="450.9" cy="2310.0" r="3.05" fill="#ee3a3e"/>
<circle cx="463.6" cy="2308.1" r="3.05" fill="#ee3a3e"/>
<circle cx="463.6" cy="2319.9" r="3.05" fill="#ee3a3e"/>
<circle cx="463.6" cy="2349.7" r="3.05" fill="#ee3a3e"/>
<circle cx="463.6" cy="2373.9" r="3.05" fill="#ee3a3e"/>
<line x1="536.5" y1="2207.3" x2="536.5" y2="2299.2" stroke="#111" stroke-width="1.6" />
<line x1="525.8" y1="2207.3" x2="547.3" y2="2207.3" stroke="#111" stroke-width="1.6" />
<line x1="525.8" y1="2299.2" x2="547.3" y2="2299.2" stroke="#111" stroke-width="1.6" />
<line x1="515.0" y1="2253.3" x2="558.4" y2="2253.3" stroke="#000" stroke-width="2.9" />
<path d="M540.1 2138.4L544.3 2142.6L540.1 2146.8L535.9 2142.6Z" fill="#ee3a3e"/>
<path d="M540.1 2197.1L544.3 2201.3L540.1 2205.5L535.9 2201.3Z" fill="#ee3a3e"/>
<path d="M533.0 2217.2L537.2 2221.4L533.0 2225.6L528.8 2221.4Z" fill="#ee3a3e"/>
<path d="M540.1 2215.7L544.3 2219.9L540.1 2224.1L535.9 2219.9Z" fill="#ee3a3e"/>
<path d="M518.7 2233.9L522.9 2238.1L518.7 2242.3L514.5 2238.1Z" fill="#ee3a3e"/>
<path d="M525.8 2233.9L530.0 2238.1L525.8 2242.3L521.6 2238.1Z" fill="#ee3a3e"/>
<path d="M533.0 2234.3L537.2 2238.5L533.0 2242.7L528.8 2238.5Z" fill="#ee3a3e"/>
<path d="M540.1 2237.6L544.3 2241.8L540.1 2246.0L535.9 2241.8Z" fill="#ee3a3e"/>
<path d="M554.3 2233.9L558.5 2238.1L554.3 2242.3L550.1 2238.1Z" fill="#ee3a3e"/>
<path d="M547.3 2241.3L551.5 2245.5L547.3 2249.7L543.1 2245.5Z" fill="#ee3a3e"/>
<path d="M533.0 2243.8L537.2 2248.0L533.0 2252.2L528.8 2248.0Z" fill="#ee3a3e"/>
<path d="M540.1 2250.4L544.3 2254.6L540.1 2258.8L535.9 2254.6Z" fill="#ee3a3e"/>
<path d="M533.0 2254.1L537.2 2258.3L533.0 2262.5L528.8 2258.3Z" fill="#ee3a3e"/>
<path d="M533.0 2269.8L537.2 2274.0L533.0 2278.2L528.8 2274.0Z" fill="#ee3a3e"/>
<path d="M540.1 2281.0L544.3 2285.2L540.1 2289.4L535.9 2285.2Z" fill="#ee3a3e"/>
<path d="M533.0 2290.1L537.2 2294.3L533.0 2298.5L528.8 2294.3Z" fill="#ee3a3e"/>
<path d="M540.1 2304.9L544.3 2309.1L540.1 2313.3L535.9 2309.1Z" fill="#ee3a3e"/>
<path d="M533.0 2309.5L537.2 2313.7L533.0 2317.9L528.8 2313.7Z" fill="#ee3a3e"/>
<path d="M533.0 2348.0L537.2 2352.2L533.0 2356.4L528.8 2352.2Z" fill="#ee3a3e"/>
<line x1="603.1" y1="2175.3" x2="603.1" y2="2336.5" stroke="#111" stroke-width="1.6" />
<line x1="592.2" y1="2175.3" x2="614.0" y2="2175.3" stroke="#111" stroke-width="1.6" />
<line x1="592.2" y1="2336.5" x2="614.0" y2="2336.5" stroke="#111" stroke-width="1.6" />
<line x1="581.2" y1="2255.8" x2="624.9" y2="2255.8" stroke="#000" stroke-width="2.9" />
<path d="M609.1 2114.7L613.7 2122.9L604.5 2122.9Z" fill="#ee3a3e"/>
<path d="M609.1 2160.5L613.7 2168.7L604.5 2168.7Z" fill="#ee3a3e"/>
<path d="M597.2 2186.5L601.8 2194.7L592.6 2194.7Z" fill="#ee3a3e"/>
<path d="M609.1 2183.9L613.7 2192.1L604.5 2192.1Z" fill="#ee3a3e"/>
<path d="M585.4 2219.3L590.0 2227.5L580.8 2227.5Z" fill="#ee3a3e"/>
<path d="M585.4 2232.6L590.0 2240.8L580.8 2240.8Z" fill="#ee3a3e"/>
<path d="M597.2 2233.0L601.8 2241.2L592.6 2241.2Z" fill="#ee3a3e"/>
<path d="M621.1 2228.9L625.7 2237.1L616.5 2237.1Z" fill="#ee3a3e"/>
<path d="M609.1 2237.2L613.7 2245.4L604.5 2245.4Z" fill="#ee3a3e"/>
<path d="M585.4 2249.7L590.0 2257.9L580.8 2257.9Z" fill="#ee3a3e"/>
<path d="M585.4 2260.3L590.0 2268.5L580.8 2268.5Z" fill="#ee3a3e"/>
<path d="M597.2 2259.6L601.8 2267.8L592.6 2267.8Z" fill="#ee3a3e"/>
<path d="M609.1 2261.9L613.7 2270.1L604.5 2270.1Z" fill="#ee3a3e"/>
<path d="M621.1 2259.6L625.7 2267.8L616.5 2267.8Z" fill="#ee3a3e"/>
<path d="M597.2 2275.4L601.8 2283.6L592.6 2283.6Z" fill="#ee3a3e"/>
<path d="M609.1 2287.4L613.7 2295.6L604.5 2295.6Z" fill="#ee3a3e"/>
<path d="M597.2 2293.1L601.8 2301.3L592.6 2301.3Z" fill="#ee3a3e"/>
<path d="M597.2 2348.2L601.8 2356.4L592.6 2356.4Z" fill="#ee3a3e"/>
<line x1="669.6" y1="2220.0" x2="669.6" y2="2292.0" stroke="#111" stroke-width="1.6" />
<line x1="659.0" y1="2220.0" x2="680.9" y2="2220.0" stroke="#111" stroke-width="1.6" />
<line x1="659.0" y1="2292.0" x2="680.9" y2="2292.0" stroke="#111" stroke-width="1.6" />
<line x1="647.8" y1="2256.1" x2="691.7" y2="2256.1" stroke="#000" stroke-width="2.9" />
<path d="M687.5 2213.4L692.1 2205.2L682.9 2205.2Z" fill="#ee3a3e"/>
<path d="M663.6 2219.7L668.2 2211.5L659.0 2211.5Z" fill="#ee3a3e"/>
<path d="M675.6 2221.2L680.2 2213.0L671.0 2213.0Z" fill="#ee3a3e"/>
<path d="M652.0 2224.9L656.6 2216.7L647.4 2216.7Z" fill="#ee3a3e"/>
<path d="M687.5 2224.9L692.1 2216.7L682.9 2216.7Z" fill="#ee3a3e"/>
<path d="M663.6 2229.3L668.2 2221.1L659.0 2221.1Z" fill="#ee3a3e"/>
<path d="M652.0 2236.0L656.6 2227.8L647.4 2227.8Z" fill="#ee3a3e"/>
<path d="M663.6 2238.9L668.2 2230.7L659.0 2230.7Z" fill="#ee3a3e"/>
<path d="M675.6 2244.1L680.2 2235.9L671.0 2235.9Z" fill="#ee3a3e"/>
<path d="M675.6 2256.1L680.2 2247.9L671.0 2247.9Z" fill="#ee3a3e"/>
<path d="M652.0 2272.2L656.6 2264.0L647.4 2264.0Z" fill="#ee3a3e"/>
<path d="M675.6 2271.7L680.2 2263.5L671.0 2263.5Z" fill="#ee3a3e"/>
<path d="M663.6 2276.9L668.2 2268.7L659.0 2268.7Z" fill="#ee3a3e"/>
<path d="M652.0 2282.1L656.6 2273.9L647.4 2273.9Z" fill="#ee3a3e"/>
<path d="M687.5 2281.0L692.1 2272.8L682.9 2272.8Z" fill="#ee3a3e"/>
<path d="M663.6 2285.7L668.2 2277.5L659.0 2277.5Z" fill="#ee3a3e"/>
<path d="M675.6 2285.7L680.2 2277.5L671.0 2277.5Z" fill="#ee3a3e"/>
<path d="M663.6 2327.3L668.2 2319.1L659.0 2319.1Z" fill="#ee3a3e"/>
<path d="M663.6 2336.7L668.2 2328.5L659.0 2328.5Z" fill="#ee3a3e"/>
<text x="1092.0" y="2065.3" font-size="27.5" text-anchor="middle" font-weight="bold" >Standard</text>
<line x1="875.6" y1="2101.0" x2="875.6" y2="2392.5" stroke="#000" stroke-width="2.8" />
<line x1="863.1" y1="2102.3" x2="875.6" y2="2102.3" stroke="#000" stroke-width="2.8" />
<text x="859.1" y="2109.5" font-size="20" text-anchor="end" >60</text>
<line x1="863.1" y1="2160.0" x2="875.6" y2="2160.0" stroke="#000" stroke-width="2.8" />
<text x="859.1" y="2167.2" font-size="20" text-anchor="end" >40</text>
<line x1="863.1" y1="2217.8" x2="875.6" y2="2217.8" stroke="#000" stroke-width="2.8" />
<text x="859.1" y="2225.0" font-size="20" text-anchor="end" >20</text>
<line x1="863.1" y1="2275.5" x2="875.6" y2="2275.5" stroke="#000" stroke-width="2.8" />
<text x="859.1" y="2282.7" font-size="20" text-anchor="end" >0</text>
<line x1="863.1" y1="2333.2" x2="875.6" y2="2333.2" stroke="#000" stroke-width="2.8" />
<text x="859.1" y="2340.4" font-size="20" text-anchor="end" >-20</text>
<line x1="863.1" y1="2391.0" x2="875.6" y2="2391.0" stroke="#000" stroke-width="2.8" />
<text x="859.1" y="2398.2" font-size="20" text-anchor="end" >-40</text>
<line x1="875.6" y1="2391.2" x2="1309.0" y2="2391.2" stroke="#000" stroke-width="2.7" />
<line x1="940.9" y1="2391.2" x2="940.9" y2="2403.0" stroke="#000" stroke-width="2.7" />
<text x="940.9" y="2425.7" font-size="21.5" text-anchor="middle" >Placebo</text>
<line x1="1091.2" y1="2391.2" x2="1091.2" y2="2403.0" stroke="#000" stroke-width="2.7" />
<text x="1091.2" y="2425.7" font-size="21.5" text-anchor="middle" >15mg</text>
<line x1="1241.4" y1="2391.2" x2="1241.4" y2="2403.0" stroke="#000" stroke-width="2.7" />
<text x="1241.4" y="2425.7" font-size="21.5" text-anchor="middle" >30mg</text>
<text x="1092.0" y="2471.0" font-size="23" text-anchor="middle" font-weight="bold" >Drug</text>
<text x="810.5" y="2247.5" font-size="23.4" text-anchor="middle" font-weight="bold" transform="rotate(-90 810.5 2247.5)" >Induced power</text>
<circle cx="883.5" cy="2275.5" r="1.45" fill="#000"/>
<circle cx="892.2" cy="2275.5" r="1.45" fill="#000"/>
<circle cx="900.8" cy="2275.5" r="1.45" fill="#000"/>
<circle cx="909.5" cy="2275.5" r="1.45" fill="#000"/>
<circle cx="918.1" cy="2275.5" r="1.45" fill="#000"/>
<circle cx="926.8" cy="2275.5" r="1.45" fill="#000"/>
<circle cx="935.5" cy="2275.5" r="1.45" fill="#000"/>
<circle cx="944.1" cy="2275.5" r="1.45" fill="#000"/>
<circle cx="952.8" cy="2275.5" r="1.45" fill="#000"/>
<circle cx="961.4" cy="2275.5" r="1.45" fill="#000"/>
<circle cx="970.1" cy="2275.5" r="1.45" fill="#000"/>
<circle cx="978.8" cy="2275.5" r="1.45" fill="#000"/>
<circle cx="987.4" cy="2275.5" r="1.45" fill="#000"/>
<circle cx="996.1" cy="2275.5" r="1.45" fill="#000"/>
<circle cx="1004.7" cy="2275.5" r="1.45" fill="#000"/>
<circle cx="1013.4" cy="2275.5" r="1.45" fill="#000"/>
<circle cx="1022.1" cy="2275.5" r="1.45" fill="#000"/>
<circle cx="1030.7" cy="2275.5" r="1.45" fill="#000"/>
<circle cx="1039.4" cy="2275.5" r="1.45" fill="#000"/>
<circle cx="1048.0" cy="2275.5" r="1.45" fill="#000"/>
<circle cx="1056.7" cy="2275.5" r="1.45" fill="#000"/>
<circle cx="1065.4" cy="2275.5" r="1.45" fill="#000"/>
<circle cx="1074.0" cy="2275.5" r="1.45" fill="#000"/>
<circle cx="1082.7" cy="2275.5" r="1.45" fill="#000"/>
<circle cx="1091.3" cy="2275.5" r="1.45" fill="#000"/>
<circle cx="1100.0" cy="2275.5" r="1.45" fill="#000"/>
<circle cx="1108.7" cy="2275.5" r="1.45" fill="#000"/>
<circle cx="1117.3" cy="2275.5" r="1.45" fill="#000"/>
<circle cx="1126.0" cy="2275.5" r="1.45" fill="#000"/>
<circle cx="1134.6" cy="2275.5" r="1.45" fill="#000"/>
<circle cx="1143.3" cy="2275.5" r="1.45" fill="#000"/>
<circle cx="1152.0" cy="2275.5" r="1.45" fill="#000"/>
<circle cx="1160.6" cy="2275.5" r="1.45" fill="#000"/>
<circle cx="1169.3" cy="2275.5" r="1.45" fill="#000"/>
<circle cx="1177.9" cy="2275.5" r="1.45" fill="#000"/>
<circle cx="1186.6" cy="2275.5" r="1.45" fill="#000"/>
<circle cx="1195.3" cy="2275.5" r="1.45" fill="#000"/>
<circle cx="1203.9" cy="2275.5" r="1.45" fill="#000"/>
<circle cx="1212.6" cy="2275.5" r="1.45" fill="#000"/>
<circle cx="1221.2" cy="2275.5" r="1.45" fill="#000"/>
<circle cx="1229.9" cy="2275.5" r="1.45" fill="#000"/>
<circle cx="1238.6" cy="2275.5" r="1.45" fill="#000"/>
<circle cx="1247.2" cy="2275.5" r="1.45" fill="#000"/>
<circle cx="1255.9" cy="2275.5" r="1.45" fill="#000"/>
<circle cx="1264.5" cy="2275.5" r="1.45" fill="#000"/>
<circle cx="1273.2" cy="2275.5" r="1.45" fill="#000"/>
<circle cx="1281.9" cy="2275.5" r="1.45" fill="#000"/>
<circle cx="1290.5" cy="2275.5" r="1.45" fill="#000"/>
<circle cx="1299.2" cy="2275.5" r="1.45" fill="#000"/>
<text x="929.9" y="2117" font-size="17.5">group-drug interaction: eff<tspan font-size="13.5" dy="4.5">(134)</tspan><tspan dy="-4.5">=-2.1,p=0.03</tspan></text>
<circle cx="1318.6" cy="2121.3" r="2.6" fill="#5656f2"/>
<circle cx="1318.6" cy="2160.3" r="2.6" fill="#ee3a3e"/>
<text x="1352.0" y="2128.7" font-size="21" text-anchor="start" >TD</text>
<text x="1352.0" y="2167.7" font-size="21" text-anchor="start" >ASD</text>
<line x1="913.1" y1="2224.2" x2="913.1" y2="2305.3" stroke="#111" stroke-width="1.6" />
<line x1="903.7" y1="2224.2" x2="922.0" y2="2224.2" stroke="#111" stroke-width="1.6" />
<line x1="903.7" y1="2305.3" x2="922.0" y2="2305.3" stroke="#111" stroke-width="1.6" />
<line x1="894.3" y1="2264.5" x2="931.7" y2="2264.5" stroke="#000" stroke-width="2.9" />
<circle cx="918.2" cy="2205.0" r="3.05" fill="#5656f2"/>
<circle cx="928.9" cy="2217.4" r="3.05" fill="#5656f2"/>
<circle cx="897.0" cy="2221.1" r="3.05" fill="#5656f2"/>
<circle cx="918.2" cy="2221.1" r="3.05" fill="#5656f2"/>
<circle cx="907.7" cy="2224.7" r="3.05" fill="#5656f2"/>
<circle cx="897.0" cy="2230.9" r="3.05" fill="#5656f2"/>
<circle cx="928.9" cy="2231.1" r="3.05" fill="#5656f2"/>
<circle cx="907.7" cy="2234.1" r="3.05" fill="#5656f2"/>
<circle cx="907.7" cy="2240.9" r="3.05" fill="#5656f2"/>
<circle cx="918.2" cy="2243.9" r="3.05" fill="#5656f2"/>
<circle cx="897.0" cy="2248.6" r="3.05" fill="#5656f2"/>
<circle cx="928.9" cy="2249.7" r="3.05" fill="#5656f2"/>
<circle cx="918.2" cy="2251.2" r="3.05" fill="#5656f2"/>
<circle cx="907.7" cy="2254.2" r="3.05" fill="#5656f2"/>
<circle cx="918.2" cy="2257.9" r="3.05" fill="#5656f2"/>
<circle cx="907.7" cy="2270.7" r="3.05" fill="#5656f2"/>
<circle cx="907.7" cy="2285.0" r="3.05" fill="#5656f2"/>
<circle cx="918.2" cy="2282.3" r="3.05" fill="#5656f2"/>
<circle cx="918.2" cy="2288.8" r="3.05" fill="#5656f2"/>
<circle cx="918.2" cy="2297.2" r="3.05" fill="#5656f2"/>
<circle cx="897.0" cy="2303.3" r="3.05" fill="#5656f2"/>
<circle cx="907.7" cy="2301.4" r="3.05" fill="#5656f2"/>
<circle cx="918.2" cy="2306.7" r="3.05" fill="#5656f2"/>
<circle cx="907.7" cy="2310.7" r="3.05" fill="#5656f2"/>
<circle cx="907.7" cy="2343.4" r="3.05" fill="#5656f2"/>
<circle cx="907.7" cy="2362.3" r="3.05" fill="#5656f2"/>
<line x1="969.4" y1="2222.4" x2="969.4" y2="2291.5" stroke="#111" stroke-width="1.6" />
<line x1="960.4" y1="2222.4" x2="978.7" y2="2222.4" stroke="#111" stroke-width="1.6" />
<line x1="960.4" y1="2291.5" x2="978.7" y2="2291.5" stroke="#111" stroke-width="1.6" />
<line x1="951.0" y1="2256.7" x2="988.0" y2="2256.7" stroke="#000" stroke-width="2.9" />
<circle cx="977.4" cy="2192.3" r="3.05" fill="#ee3a3e"/>
<circle cx="969.4" cy="2195.6" r="3.05" fill="#ee3a3e"/>
<circle cx="969.4" cy="2211.7" r="3.05" fill="#ee3a3e"/>
<circle cx="961.5" cy="2221.1" r="3.05" fill="#ee3a3e"/>
<circle cx="969.4" cy="2225.6" r="3.05" fill="#ee3a3e"/>
<circle cx="969.4" cy="2238.5" r="3.05" fill="#ee3a3e"/>
<circle cx="977.4" cy="2238.5" r="3.05" fill="#ee3a3e"/>
<circle cx="953.5" cy="2242.4" r="3.05" fill="#ee3a3e"/>
<circle cx="961.5" cy="2241.2" r="3.05" fill="#ee3a3e"/>
<circle cx="985.5" cy="2241.5" r="3.05" fill="#ee3a3e"/>
<circle cx="969.4" cy="2246.6" r="3.05" fill="#ee3a3e"/>
<circle cx="977.4" cy="2249.7" r="3.05" fill="#ee3a3e"/>
<circle cx="961.5" cy="2260.4" r="3.05" fill="#ee3a3e"/>
<circle cx="977.4" cy="2262.7" r="3.05" fill="#ee3a3e"/>
<circle cx="961.5" cy="2268.6" r="3.05" fill="#ee3a3e"/>
<circle cx="969.4" cy="2269.4" r="3.05" fill="#ee3a3e"/>
<circle cx="969.4" cy="2281.4" r="3.05" fill="#ee3a3e"/>
<circle cx="953.5" cy="2283.7" r="3.05" fill="#ee3a3e"/>
<circle cx="961.5" cy="2286.8" r="3.05" fill="#ee3a3e"/>
<circle cx="985.5" cy="2286.3" r="3.05" fill="#ee3a3e"/>
<circle cx="977.4" cy="2291.5" r="3.05" fill="#ee3a3e"/>
<circle cx="969.4" cy="2294.8" r="3.05" fill="#ee3a3e"/>
<circle cx="977.4" cy="2315.8" r="3.05" fill="#ee3a3e"/>
<circle cx="961.5" cy="2321.2" r="3.05" fill="#ee3a3e"/>
<line x1="1063.2" y1="2235.1" x2="1063.2" y2="2315.8" stroke="#111" stroke-width="1.6" />
<line x1="1054.1" y1="2235.1" x2="1072.4" y2="2235.1" stroke="#111" stroke-width="1.6" />
<line x1="1054.1" y1="2315.8" x2="1072.4" y2="2315.8" stroke="#111" stroke-width="1.6" />
<line x1="1045.2" y1="2276.0" x2="1083.6" y2="2276.0" stroke="#000" stroke-width="2.9" />
<circle cx="1068.6" cy="2193.8" r="3.05" fill="#5656f2"/>
<circle cx="1058.0" cy="2221.0" r="3.05" fill="#5656f2"/>
<circle cx="1068.6" cy="2224.2" r="3.05" fill="#5656f2"/>
<circle cx="1058.0" cy="2229.5" r="3.05" fill="#5656f2"/>
<circle cx="1068.6" cy="2234.9" r="3.05" fill="#5656f2"/>
<circle cx="1047.4" cy="2243.4" r="3.05" fill="#5656f2"/>
<circle cx="1058.0" cy="2243.4" r="3.05" fill="#5656f2"/>
<circle cx="1079.2" cy="2241.2" r="3.05" fill="#5656f2"/>
<circle cx="1068.6" cy="2248.8" r="3.05" fill="#5656f2"/>
<circle cx="1079.2" cy="2248.1" r="3.05" fill="#5656f2"/>
<circle cx="1058.0" cy="2252.6" r="3.05" fill="#5656f2"/>
<circle cx="1068.6" cy="2255.9" r="3.05" fill="#5656f2"/>
<circle cx="1058.0" cy="2259.2" r="3.05" fill="#5656f2"/>
<circle cx="1058.0" cy="2266.9" r="3.05" fill="#5656f2"/>
<circle cx="1058.0" cy="2273.8" r="3.05" fill="#5656f2"/>
<circle cx="1068.6" cy="2272.3" r="3.05" fill="#5656f2"/>
<circle cx="1068.6" cy="2278.7" r="3.05" fill="#5656f2"/>
<circle cx="1058.0" cy="2280.3" r="3.05" fill="#5656f2"/>
<circle cx="1068.6" cy="2288.1" r="3.05" fill="#5656f2"/>
<circle cx="1058.0" cy="2291.6" r="3.05" fill="#5656f2"/>
<circle cx="1068.6" cy="2295.2" r="3.05" fill="#5656f2"/>
<circle cx="1047.4" cy="2305.0" r="3.05" fill="#5656f2"/>
<circle cx="1068.6" cy="2307.1" r="3.05" fill="#5656f2"/>
<circle cx="1058.0" cy="2309.1" r="3.05" fill="#5656f2"/>
<circle cx="1047.4" cy="2320.7" r="3.05" fill="#5656f2"/>
<circle cx="1068.6" cy="2323.2" r="3.05" fill="#5656f2"/>
<circle cx="1079.2" cy="2320.7" r="3.05" fill="#5656f2"/>
<circle cx="1058.0" cy="2328.7" r="3.05" fill="#5656f2"/>
<circle cx="1058.0" cy="2349.1" r="3.05" fill="#5656f2"/>
<circle cx="1058.0" cy="2357.8" r="3.05" fill="#5656f2"/>
<line x1="1119.8" y1="2216.4" x2="1119.8" y2="2321.1" stroke="#111" stroke-width="1.6" />
<line x1="1110.9" y1="2216.4" x2="1129.0" y2="2216.4" stroke="#111" stroke-width="1.6" />
<line x1="1110.9" y1="2321.1" x2="1129.0" y2="2321.1" stroke="#111" stroke-width="1.6" />
<line x1="1101.5" y1="2268.7" x2="1138.6" y2="2268.7" stroke="#000" stroke-width="2.9" />
<circle cx="1119.8" cy="2160.0" r="3.05" fill="#ee3a3e"/>
<circle cx="1119.8" cy="2199.0" r="3.05" fill="#ee3a3e"/>
<circle cx="1108.2" cy="2226.9" r="3.05" fill="#ee3a3e"/>
<circle cx="1119.8" cy="2231.3" r="3.05" fill="#ee3a3e"/>
<circle cx="1131.4" cy="2232.4" r="3.05" fill="#ee3a3e"/>
<circle cx="1108.2" cy="2239.4" r="3.05" fill="#ee3a3e"/>
<circle cx="1131.4" cy="2239.8" r="3.05" fill="#ee3a3e"/>
<circle cx="1119.8" cy="2244.6" r="3.05" fill="#ee3a3e"/>
<circle cx="1119.8" cy="2253.8" r="3.05" fill="#ee3a3e"/>
<circle cx="1131.4" cy="2259.7" r="3.05" fill="#ee3a3e"/>
<circle cx="1119.8" cy="2266.2" r="3.05" fill="#ee3a3e"/>
<circle cx="1108.2" cy="2268.7" r="3.05" fill="#ee3a3e"/>
<circle cx="1119.8" cy="2288.7" r="3.05" fill="#ee3a3e"/>
<circle cx="1108.2" cy="2294.3" r="3.05" fill="#ee3a3e"/>
<circle cx="1119.8" cy="2296.6" r="3.05" fill="#ee3a3e"/>
<circle cx="1119.8" cy="2302.6" r="3.05" fill="#ee3a3e"/>
<circle cx="1119.8" cy="2311.3" r="3.05" fill="#ee3a3e"/>
<circle cx="1119.8" cy="2324.7" r="3.05" fill="#ee3a3e"/>
<circle cx="1119.8" cy="2338.7" r="3.05" fill="#ee3a3e"/>
<line x1="1213.5" y1="2235.6" x2="1213.5" y2="2281.8" stroke="#111" stroke-width="1.6" />
<line x1="1204.5" y1="2235.6" x2="1222.5" y2="2235.6" stroke="#111" stroke-width="1.6" />
<line x1="1204.5" y1="2281.8" x2="1222.5" y2="2281.8" stroke="#111" stroke-width="1.6" />
<line x1="1195.2" y1="2258.5" x2="1232.3" y2="2258.5" stroke="#000" stroke-width="2.9" />
<circle cx="1216.6" cy="2218.6" r="3.05" fill="#5656f2"/>
<circle cx="1203.9" cy="2234.9" r="3.05" fill="#5656f2"/>
<circle cx="1216.6" cy="2233.1" r="3.05" fill="#5656f2"/>
<circle cx="1210.4" cy="2238.9" r="3.05" fill="#5656f2"/>
<circle cx="1223.1" cy="2236.8" r="3.05" fill="#5656f2"/>
<circle cx="1197.7" cy="2247.2" r="3.05" fill="#5656f2"/>
<circle cx="1203.9" cy="2252.9" r="3.05" fill="#5656f2"/>
<circle cx="1210.4" cy="2250.2" r="3.05" fill="#5656f2"/>
<circle cx="1216.6" cy="2250.5" r="3.05" fill="#5656f2"/>
<circle cx="1223.1" cy="2250.2" r="3.05" fill="#5656f2"/>
<circle cx="1229.4" cy="2249.8" r="3.05" fill="#5656f2"/>
<circle cx="1210.4" cy="2263.6" r="3.05" fill="#5656f2"/>
<circle cx="1216.6" cy="2262.6" r="3.05" fill="#5656f2"/>
<circle cx="1216.6" cy="2274.4" r="3.05" fill="#5656f2"/>
<circle cx="1210.4" cy="2277.7" r="3.05" fill="#5656f2"/>
<circle cx="1203.9" cy="2285.3" r="3.05" fill="#5656f2"/>
<circle cx="1210.4" cy="2290.4" r="3.05" fill="#5656f2"/>
<circle cx="1216.6" cy="2289.8" r="3.05" fill="#5656f2"/>
<circle cx="1210.4" cy="2307.1" r="3.05" fill="#5656f2"/>
<line x1="1269.8" y1="2229.5" x2="1269.8" y2="2351.9" stroke="#111" stroke-width="1.6" />
<line x1="1260.4" y1="2229.5" x2="1279.0" y2="2229.5" stroke="#111" stroke-width="1.6" />
<line x1="1260.4" y1="2351.9" x2="1279.0" y2="2351.9" stroke="#111" stroke-width="1.6" />
<line x1="1251.0" y1="2291.0" x2="1288.8" y2="2291.0" stroke="#000" stroke-width="2.9" />
<circle cx="1275.2" cy="2218.3" r="3.05" fill="#ee3a3e"/>
<circle cx="1264.5" cy="2230.4" r="3.05" fill="#ee3a3e"/>
<circle cx="1275.2" cy="2232.6" r="3.05" fill="#ee3a3e"/>
<circle cx="1264.5" cy="2236.6" r="3.05" fill="#ee3a3e"/>
<circle cx="1264.5" cy="2244.5" r="3.05" fill="#ee3a3e"/>
<circle cx="1264.5" cy="2266.3" r="3.05" fill="#ee3a3e"/>
<circle cx="1275.2" cy="2268.4" r="3.05" fill="#ee3a3e"/>
<circle cx="1285.9" cy="2272.6" r="3.05" fill="#ee3a3e"/>
<circle cx="1254.0" cy="2275.1" r="3.05" fill="#ee3a3e"/>
<circle cx="1275.2" cy="2277.9" r="3.05" fill="#ee3a3e"/>
<circle cx="1264.5" cy="2280.9" r="3.05" fill="#ee3a3e"/>
<circle cx="1285.9" cy="2280.0" r="3.05" fill="#ee3a3e"/>
<circle cx="1264.5" cy="2307.1" r="3.05" fill="#ee3a3e"/>
<circle cx="1275.2" cy="2305.9" r="3.05" fill="#ee3a3e"/>
<circle cx="1254.0" cy="2308.8" r="3.05" fill="#ee3a3e"/>
<circle cx="1264.5" cy="2318.9" r="3.05" fill="#ee3a3e"/>
<circle cx="1264.5" cy="2348.8" r="3.05" fill="#ee3a3e"/>
<circle cx="1264.5" cy="2373.2" r="3.05" fill="#ee3a3e"/>
<polyline points="913.1,2264.5 1063.2,2276 1213.5,2258.5" fill="none" stroke="#5656f2" stroke-width="1.6"/>
<polyline points="969.4,2256.7 1119.8,2268.7 1269.8,2291" fill="none" stroke="#ee3a3e" stroke-width="1.6"/>
</svg>
</body></html>
